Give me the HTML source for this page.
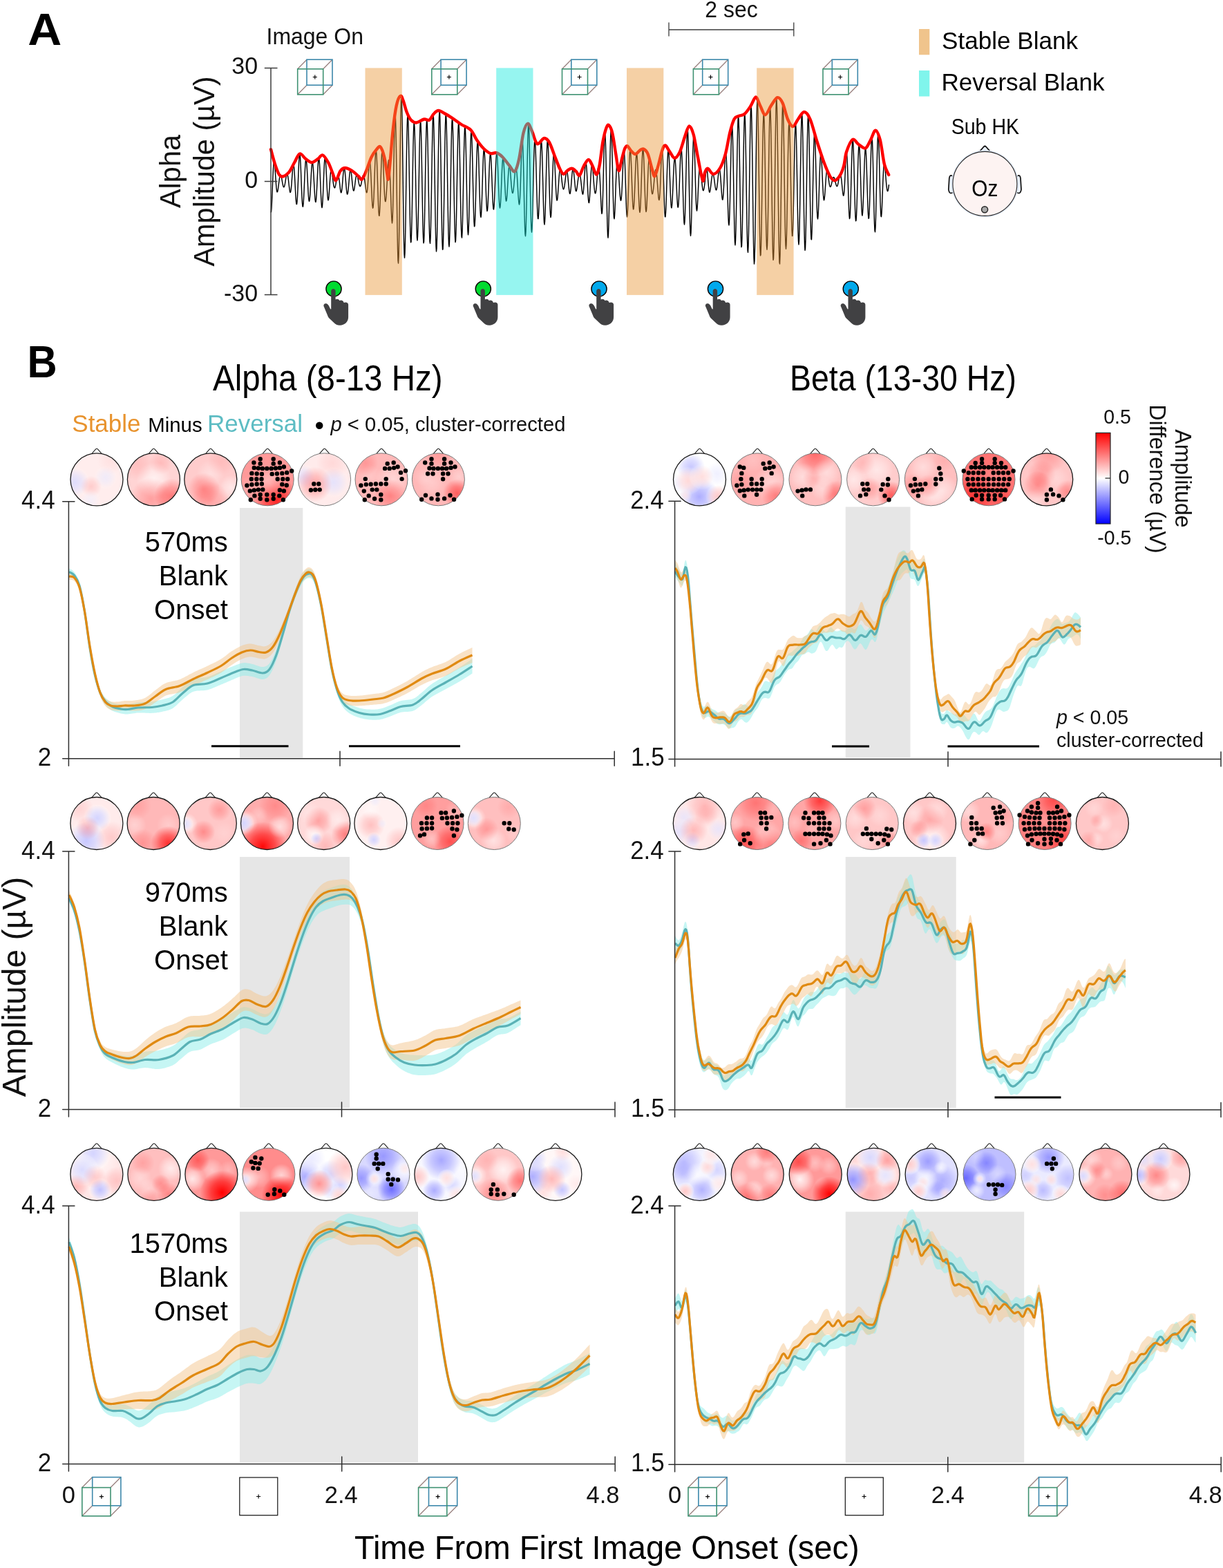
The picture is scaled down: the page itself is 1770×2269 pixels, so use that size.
<!DOCTYPE html>
<html lang="en"><head><meta charset="utf-8"><title>Figure: alpha and beta amplitude, stable vs reversal</title>
<style>html,body{margin:0;padding:0;background:#fff}body{width:1770px;height:2269px}svg{display:block}</style></head>
<body>
<svg width="1770" height="2269" viewBox="0 0 1770 2269" font-family='"Liberation Sans", sans-serif'>
<defs>
<radialGradient id="gR"><stop offset="0" stop-color="#f00" stop-opacity="1"/><stop offset="0.5" stop-color="#f00" stop-opacity="0.6"/><stop offset="1" stop-color="#f00" stop-opacity="0"/></radialGradient>
<radialGradient id="gW"><stop offset="0" stop-color="#fff" stop-opacity="1"/><stop offset="0.5" stop-color="#fff" stop-opacity="0.6"/><stop offset="1" stop-color="#fff" stop-opacity="0"/></radialGradient>
<radialGradient id="gB"><stop offset="0" stop-color="#00f" stop-opacity="1"/><stop offset="0.5" stop-color="#00f" stop-opacity="0.6"/><stop offset="1" stop-color="#00f" stop-opacity="0"/></radialGradient>
<linearGradient id="cb" x1="0" y1="0" x2="0" y2="1"><stop offset="0" stop-color="#ff0000"/><stop offset="0.5" stop-color="#ffffff"/><stop offset="1" stop-color="#0000ff"/></linearGradient>
<clipPath id="hc"><circle cx="0" cy="0" r="38"/></clipPath>
<g id="cubeA" fill="none" stroke-width="1.6">
<path d="M0 0L13.3 -13.6M37 0L50.3 -13.6M0 37L13.3 23.4M37 37L50.3 23.4" stroke="#9c8583" stroke-width="1.4"/>
<rect x="13.3" y="-13.6" width="37" height="37" stroke="#3d88ab"/>
<rect x="0" y="0" width="37" height="37" stroke="#3f9272"/>
<path d="M22.1 11.7h6M25.1 8.7v6" stroke="#000" stroke-width="1.2"/>
</g>
<g id="cubeB" fill="none" stroke-width="1.6">
<path d="M0 0L14.9 -15M41.2 0L56.1 -15M0 41.2L14.9 26.2M41.2 41.2L56.1 26.2" stroke="#9c8583" stroke-width="1.4"/>
<rect x="14.9" y="-15" width="41.2" height="41.2" stroke="#3d88ab"/>
<rect x="0" y="0" width="41.2" height="41.2" stroke="#3f9272"/>
<path d="M25.1 13.1h6M28.1 10.1v6" stroke="#000" stroke-width="1.2"/>
</g>
<path id="hand" d="M-3.8 29.2L-3.8 3.3C-3.8 1.5 -2.3 0.1 -0.6 0.1C1.2 0.1 2.6 1.5 2.6 3.3L2.6 15.6C3.8 14.2 7.3 14.2 8.4 17.1C10 15.8 13.7 16.2 14.7 20.1C16.8 18.7 21.1 19.5 21.1 22.8L21.1 41.1C21.1 48.1 15.5 52.8 9 52.8C4.9 52.8 2.4 51 0.3 48.9L-6.6 42.5C-7.9 41.3 -8.4 39.9 -9 38.2L-14.2 25.7C-15.7 22.4 -12.4 20.1 -9.9 21.6C-7.7 22.8 -6.4 25.5 -5.6 27.7L-4.5 29.5Z" fill="#414143"/>
</defs>
<rect width="1770" height="2269" fill="#fff"/>
<g id="panelA">
<text font-size="65.2" transform="translate(40.2 64.8)" font-weight="bold" fill="#000" textLength="49" lengthAdjust="spacingAndGlyphs">A</text>
<text font-size="32" transform="translate(385.5 63.8) scale(1 1.02)" fill="#111">Image On</text>
<path d="M392 307.4L392.5 306.7L393 300.9L393.5 291.2L394 279.1L394.5 266.3L395 254.2L395.5 244.3L396 237.4L396.5 234.1L397 234.4L397.5 237.9L398 243.7L398.5 251L399 258.8L399.5 266L400 271.9L400.5 275.9L401 277.8L401.5 277.7L402 276L402.5 273.1L403 269.3L403.5 265.3L404 261.4L404.5 257.9L405 255.2L405.5 253.4L406 252.8L406.5 253.2L407 254.7L407.5 257L408 259.8L408.5 262.8L409 265.6L409.5 268.1L410 269.8L410.5 270.7L411 270.7L411.5 269.8L412 268.1L412.5 265.7L413 262.8L413.5 259.7L414 256.7L414.5 254.2L415 252.5L415.5 251.8L416 252.4L416.5 254.3L417 257.3L417.5 261.2L418 265.6L418.5 270.1L419 274L419.5 277L420 278.4L420.5 278.1L421 275.8L421.5 271.6L422 265.8L422.5 259L423 252.1L423.5 245.7L424 240.8L424.5 238.3L425 238.5L425.5 241.6L426 247.7L426.5 255.9L427 265.5L427.5 275.4L428 284.4L428.5 291.4L429 295.4L429.5 295.6L430 291.9L430.5 284.3L431 273.7L431.5 261.2L432 248.3L432.5 236.8L433 228L433.5 223.2L434 223L434.5 227.6L435 236.3L435.5 247.9L436 261.2L436.5 274.3L437 285.8L437.5 294.2L438 298.8L438.5 299.1L439 295.2L439.5 287.7L440 277.6L440.5 266L441 254.5L441.5 244.1L442 236.2L442.5 231.4L443 230.4L443.5 233L444 238.9L444.5 247.3L445 257.3L445.5 267.6L446 277.1L446.5 284.8L447 289.7L447.5 291.4L448 289.8L448.5 285.1L449 277.9L449.5 269.1L450 259.7L450.5 250.6L451 242.9L451.5 237.5L452 234.9L452.5 235.4L453 239.1L453.5 245.5L454 253.9L454.5 263.5L455 273.1L455.5 281.7L456 288.3L456.5 292L457 292.4L457.5 289.2L458 282.9L458.5 274L459 263.6L459.5 252.8L460 242.8L460.5 234.9L461 230L461.5 228.7L462 231.4L462.5 237.7L463 247.2L463.5 258.8L464 271.2L464.5 282.9L465 292.5L465.5 298.6L466 300.5L466.5 297.9L467 291.1L467.5 281L468 268.9L468.5 256.2L469 244.6L469.5 235.3L470 229.5L470.5 227.7L471 230L471.5 235.9L472 244.6L472.5 255L473 265.7L473.5 275.4L474 283.2L474.5 288.1L475 289.9L475.5 288.3L476 283.9L476.5 277.3L477 269.6L477.5 261.7L478 254.9L478.5 249.6L479 246.6L479.5 245.8L480 247.1L480.5 249.9L481 253.7L481.5 257.9L482 262.1L482.5 265.8L483 268.8L483.5 270.8L484 271.8L484.5 271.9L485 270.9L485.5 268.9L486 266.4L486.5 263.4L487 260.4L487.5 257.8L488 255.6L488.5 254.1L489 253.4L489.5 253.5L490 254.8L490.5 257.1L491 260.5L491.5 264.7L492 269.5L492.5 273.8L493 277.1L493.5 278.8L494 278.6L494.5 276.3L495 272.3L495.5 266.8L496 260.6L496.5 254.4L497 249L497.5 245.1L498 243.3L498.5 243.6L499 246.2L499.5 250.7L500 256.6L500.5 263.2L501 269.6L501.5 275.1L502 279.1L502.5 281.1L503 280.9L503.5 278.6L504 274.5L504.5 269.1L505 263.1L505.5 257.2L506 252L506.5 248.2L507 246.2L507.5 246.1L508 247.9L508.5 251.2L509 255.8L509.5 260.9L510 266.1L510.5 270.5L511 273.9L511.5 275.8L512 276.1L512.5 274.8L513 272.1L513.5 268.5L514 264.5L514.5 260.6L515 257.1L515.5 254.6L516 253.1L516.5 252.9L517 253.8L517.5 255.6L518 258L518.5 260.6L519 263.3L519.5 265.7L520 267.6L520.5 269L521 269.6L521.5 269.5L522 268.7L522.5 267.1L523 264.8L523.5 262.2L524 259.5L524.5 257L525 255.1L525.5 253.9L526 253.6L526.5 254.3L527 256L527.5 258.7L528 262.1L528.5 266.1L529 270.3L529.5 274.2L530 277.2L530.5 278.8L531 278.5L531.5 275.9L532 271.2L532.5 264.7L533 257L533.5 249L534 241.8L534.5 236.4L535 233.7L535.5 234.4L536 238.8L536.5 246.5L537 256.7L537.5 268.4L538 280.1L538.5 290.4L539 297.7L539.5 301.2L540 300.2L540.5 294.6L541 285L541.5 272.4L542 258.2L542.5 244L543 231.5L543.5 222.3L544 217.7L544.5 218.1L545 223.8L545.5 234.2L546 248.1L546.5 264.1L547 280.4L547.5 295L548 306L548.5 312L549 312.3L549.5 306.6L550 295.6L550.5 280.8L551 264.2L551.5 247.8L552 233.7L552.5 223.5L553 218.4L553.5 218.6L554 224L554.5 233.4L555 245.5L555.5 258.6L556 271L556.5 281.1L557 287.8L557.5 291.4L558 291.7L558.5 288.9L559 283.4L559.5 276L560 267.2L560.5 257.7L561 248.3L561.5 240.2L562 234.4L562.5 231.6L563 232.4L563.5 236.6L564 243.8L564.5 253.9L565 266.5L565.5 280.8L566 295.4L566.5 308.6L567 318.6L567.5 322.9L568 319.1L568.5 306.4L569 285.9L569.5 259.7L570 231.1L570.5 203.6L571 181.1L571.5 167L572 163.7L572.5 172.4L573 192.7L573.5 222.6L574 258.7L574.5 296.7L575 331.9L575.5 359.9L576 377L576.5 381L577 371.1L577.5 348.2L578 314.9L578.5 275.1L579 233.3L579.5 194.6L580 163.8L580.5 144.6L581 139.4L581.5 148.8L582 171.3L582.5 203.8L583 242.4L583.5 282.4L584 319.1L584.5 348.5L585 367.1L585.5 373.1L586 366.2L586.5 347.9L587 320.4L587.5 287.1L588 252L588.5 219.1L589 192L589.5 173.6L590 165.7L590.5 169L591 182.9L591.5 205.6L592 234.3L592.5 265.7L593 296.1L593.5 322.2L594 341.1L594.5 350.7L595 350.1L595.5 339.5L596 320.2L596.5 294.6L597 265.5L597.5 236.3L598 210.4L598.5 190.6L599 179.2L599.5 177.4L600 185.4L600.5 202.2L601 225.9L601.5 253.8L602 282.6L602.5 309.2L603 330.4L603.5 343.8L604 347.9L604.5 342.1L605 327.2L605.5 304.7L606 277.2L606.5 247.8L607 220L607.5 196.9L608 181.3L608.5 175L609 178.8L609.5 192.3L610 214L610.5 241.5L611 271.6L611.5 300.8L612 325.7L612.5 343.4L613 351.8L613.5 349.9L614 337.8L614.5 316.9L615 289.7L615.5 259.4L616 229.5L616.5 203.5L617 184.5L617.5 174.5L618 174.7L618.5 185L619 204.1L619.5 229.9L620 259.5L620.5 289.4L621 316.3L621.5 337.2L622 349.7L622.5 352.2L623 344.5L623.5 327.2L624 302.1L624.5 272L625 240.3L625.5 210.6L626 186.4L626.5 170.8L627 165.6L627.5 171.8L628 188.6L628.5 214.2L629 245.7L629.5 279.4L630 311.6L630.5 338.4L631 356.5L631.5 363.9L632 359.5L632.5 343.8L633 318.6L633.5 286.7L634 252L634.5 218.5L635 190L635.5 170L636 160.8L636.5 163.3L637 177.3L637.5 201L638 231.8L638.5 266L639 299.6L639.5 328.7L640 350.1L640.5 361.2L641 360.9L641.5 349.3L642 327.7L642.5 298.8L643 265.9L643.5 232.7L644 203.2L644.5 180.7L645 167.8L645.5 165.8L646 175L646.5 194.2L647 221.1L647.5 252.7L648 285.2L648.5 314.9L649 338.3L649.5 352.9L650 357L650.5 350.1L651 333.3L651.5 308.4L652 278.3L652.5 246.7L653 217.1L653.5 193L654 177L654.5 171L655 175.5L655.5 190.1L656 212.8L656.5 241.1L657 271.7L657.5 300.9L658 325.5L658.5 342.7L659 350.5L659.5 348.1L660 335.8L660.5 315.3L661 288.8L661.5 259.5L662 230.8L662.5 206L663 187.9L663.5 178.5L664 178.9L664.5 188.8L665 207.2L665.5 231.7L666 259.6L666.5 287.7L667 312.6L667.5 331.5L668 342.4L668.5 344L669 336.2L669.5 320L670 297.3L670.5 270.8L671 243.4L671.5 218.4L672 198.7L672.5 186.4L673 182.9L673.5 188.6L674 202.8L674.5 223.8L675 249.1L675.5 275.8L676 300.8L676.5 321.2L677 334.7L677.5 339.8L678 335.9L678.5 323.6L679 304.4L679.5 280.5L680 254.8L680.5 230.2L681 209.7L681.5 195.5L682 189.2L682.5 191.5L683 202L683.5 219.2L684 241.1L684.5 264.9L685 287.9L685.5 307.3L686 321.1L686.5 327.8L687 326.9L687.5 318.6L688 304.2L688.5 285.5L689 264.6L689.5 244.1L690 226.2L690.5 212.9L691 205.6L691.5 204.9L692 210.8L692.5 222.5L693 238.5L693.5 256.9L694 275.4L694.5 292L695 304.9L695.5 312.6L696 314.4L696.5 310.3L697 300.8L697.5 287.1L698 270.9L698.5 254.2L699 238.7L699.5 226.3L700 218.3L700.5 215.5L701 218.1L701.5 225.7L702 237.4L702.5 251.8L703 267.1L703.5 281.6L704 293.6L704.5 301.9L705 305.6L705.5 304.2L706 298.1L706.5 288L707 275.2L707.5 261.1L708 247.3L708.5 235.4L709 226.8L709.5 222.3L710 222.5L710.5 227.2L711 235.9L711.5 247.7L712 261.1L712.5 274.7L713 287L713.5 296.5L714 302.1L714.5 303.1L715 299.5L715.5 291.6L716 280.2L716.5 266.7L717 252.7L717.5 239.8L718 229.5L718.5 223.1L719 221.4L719.5 224.4L720 231.8L720.5 242.6L721 255.7L721.5 269.3L722 281.9L722.5 292.2L723 298.8L723.5 301.1L724 298.9L724.5 292.6L725 283L725.5 271.2L726 258.8L726.5 247L727 237.4L727.5 230.9L728 228.2L728.5 229.5L729 234.6L729.5 242.7L730 252.8L730.5 263.6L731 273.8L731.5 282.4L732 288.3L732.5 291L733 290.4L733.5 286.6L734 280.2L734.5 272.2L735 263.4L735.5 254.9L736 247.8L736.5 242.6L737 240.1L737.5 240.1L738 242.7L738.5 247.5L739 253.7L739.5 260.5L740 267L740.5 272.5L741 276.7L741.5 279.1L742 279.6L742.5 278.3L743 275.3L743.5 270.9L744 265.5L744.5 259.5L745 253.6L745.5 248.5L746 244.8L746.5 243L747 243.3L747.5 245.8L748 250.5L748.5 257L749 265L749.5 273.6L750 282L750.5 289.3L751 294.3L751.5 296L752 293.5L752.5 286.6L753 275.5L753.5 260.9L754 244.5L754.5 228.1L755 213.9L755.5 204.3L756 201.2L756.5 205.7L757 218L757.5 236.8L758 260L758.5 284.8L759 308.1L759.5 326.9L760 338.7L760.5 341.7L761 335.4L761.5 320.2L762 297.9L762.5 271L763 242.8L763.5 216.6L764 195.8L764.5 182.8L765 179.4L765.5 185.7L766 200.9L766.5 222.9L767 249L767.5 275.8L768 300.4L768.5 319.8L769 332.1L769.5 336.1L770 331.6L770.5 319.3L771 300.9L771.5 278.7L772 255.6L772.5 234.4L773 217.3L773.5 206L774 201.6L774.5 204.3L775 213.4L775.5 227.6L776 245.3L776.5 264.4L777 282.9L777.5 298.7L778 310.4L778.5 316.5L779 316.6L779.5 310.5L780 298.9L780.5 282.9L781 264.4L781.5 245.3L782 227.9L782.5 214.2L783 205.8L783.5 203.8L784 208.7L784.5 219.9L785 236.4L785.5 256.2L786 277.1L786.5 296.6L787 312.2L787.5 322.1L788 325L788.5 320.7L789 309.6L789.5 293L790 273.1L790.5 252L791 232.4L791.5 216.4L792 206.1L792.5 202.5L793 205.8L793.5 215.6L794 230.6L794.5 248.9L795 268.3L795.5 286.4L796 301.1L796.5 310.8L797 314.6L797.5 312.2L798 304.2L798.5 291.8L799 276.7L799.5 260.9L800 246.2L800.5 234.3L801 226.3L801.5 222.9L802 224.2L802.5 229.8L803 238.7L803.5 249.7L804 261.4L804.5 272.3L805 281.3L805.5 287.4L806 290.1L806.5 289.5L807 285.9L807.5 279.9L808 272.6L808.5 264.8L809 257.5L809.5 251.6L810 247.5L810.5 245.5L811 245.7L811.5 247.8L812 251.2L812.5 255.6L813 260.2L813.5 264.7L814 268.5L814.5 271.4L815 273.2L815.5 273.9L816 273.3L816.5 271.6L817 268.9L817.5 265.3L818 261.2L818.5 257L819 253.1L819.5 249.9L820 248L820.5 247.8L821 249.5L821.5 252.9L822 257.6L822.5 263.1L823 268.7L823.5 273.8L824 277.8L824.5 280.1L825 280.4L825.5 278.5L826 274.7L826.5 269.4L827 263.1L827.5 256.8L828 251.2L828.5 247L829 244.7L829.5 244.6L830 246.5L830.5 250.2L831 255.2L831.5 260.8L832 266.3L832.5 271.1L833 274.6L833.5 276.5L834 276.7L834.5 275.1L835 272.1L835.5 268.4L836 264.5L836.5 260.6L837 257.2L837.5 254.5L838 252.7L838.5 251.9L839 252.1L839.5 253.5L840 256L840.5 259.5L841 263.9L841.5 268.7L842 273.4L842.5 277.5L843 280.4L843.5 281.2L844 279.6L844.5 275.5L845 269.3L845.5 261.7L846 253.6L846.5 245.9L847 239.8L847.5 235.9L848 235.1L848.5 237.6L849 243.3L849.5 251.5L850 261.5L850.5 271.9L851 281.4L851.5 288.8L852 293.1L852.5 293.6L853 290.4L853.5 283.9L854 275.2L854.5 265.4L855 255.9L855.5 247.8L856 242.1L856.5 239.1L857 239L857.5 241.6L858 246.3L858.5 252.6L859 259.2L859.5 265.6L860 271.3L860.5 275.7L861 278.7L861.5 279.9L862 279.3L862.5 277L863 272.7L863.5 267L864 260.5L864.5 253.9L865 248L865.5 243.6L866 241L866.5 240.5L867 242.5L867.5 247L868 254.1L868.5 263.5L869 274.6L869.5 286.4L870 297.2L870.5 305.5L871 309.3L871.5 307.1L872 298.3L872.5 283.6L873 264.6L873.5 243.6L874 223.3L874.5 206.4L875 195.3L875.5 191.8L876 196.7L876.5 209.8L877 229.8L877.5 254.6L878 281.2L878.5 306.3L879 326.9L879.5 340.1L880 344.1L880.5 338.5L881 323.9L881.5 302.2L882 276.2L882.5 248.9L883 223.8L883.5 203.7L884 190.9L884.5 186.8L885 191.6L885.5 204.5L886 223.6L886.5 246.2L887 269.3L887.5 289.9L888 305.5L888.5 314.6L889 316.7L889.5 312.3L890 302.6L890.5 289.5L891 275.1L891.5 261.2L892 249.4L892.5 240.6L893 235.2L893.5 233.3L894 234.7L894.5 238.8L895 245.1L895.5 252.9L896 261.6L896.5 270.3L897 278.1L897.5 284.5L898 288.7L898.5 290.3L899 288.8L899.5 284.1L900 276.5L900.5 266L901 253.9L901.5 241.5L902 230.5L902.5 222.4L903 218.7L903.5 220.2L904 227.2L904.5 238.9L905 254.2L905.5 271L906 287.4L906.5 301.1L907 310.3L907.5 313.9L908 311.3L908.5 303.1L909 290.2L909.5 274.3L910 257.5L910.5 241.7L911 228.8L911.5 220.2L912 216.6L912.5 218.3L913 225L913.5 235.8L914 249.3L914.5 264L915 278.1L915.5 290.1L916 298.7L916.5 302.9L917 302.6L917.5 297.7L918 288.8L918.5 277.1L919 263.9L919.5 250.4L920 238.4L920.5 228.9L921 223.3L921.5 222L922 225.4L922.5 233.1L923 244.5L923.5 258.2L924 272.7L924.5 286.3L925 297.5L925.5 304.8L926 307.3L926.5 304.5L927 296.8L927.5 285L928 270.4L928.5 254.6L929 239.5L929.5 227L930 218.6L930.5 215.3L931 217.6L931.5 225.1L932 236.9L932.5 251.5L933 267.2L933.5 282.1L934 294.5L934.5 303L935 306.5L935.5 304.9L936 298.4L936.5 287.9L937 274.9L937.5 261.1L938 248.3L938.5 238L939 231.5L939.5 229.2L940 231L940.5 236.3L941 244.1L941.5 252.9L942 261.7L942.5 269.3L943 275.2L943.5 279L944 280.7L944.5 280.4L945 278.2L945.5 274.5L946 269.8L946.5 264.2L947 258.5L947.5 253.2L948 248.9L948.5 246.2L949 245.4L949.5 246.3L950 249.1L950.5 253.5L951 259.2L951.5 265.9L952 273L952.5 279.7L953 285.3L953.5 288.9L954 289.5L954.5 286.6L955 280.2L955.5 270.6L956 258.8L956.5 246.1L957 234L957.5 224.5L958 218.8L958.5 218.3L959 223.3L959.5 233.3L960 247.5L960.5 264.2L961 281.3L961.5 296.5L962 307.8L962.5 313.8L963 313.7L963.5 307.6L964 296.2L964.5 281.1L965 264.2L965.5 247.6L966 233.3L966.5 222.9L967 217.2L967.5 217L968 221.9L968.5 231.3L969 243.9L969.5 258.1L970 272.4L970.5 285L971 294.4L971.5 299.9L972 300.9L972.5 297.5L973 290.3L973.5 280.3L974 268.6L974.5 256.5L975 245.5L975.5 236.5L976 230.7L976.5 228.4L977 229.9L977.5 235.2L978 243.6L978.5 254.2L979 266.1L979.5 277.9L980 288.2L980.5 295.9L981 300L981.5 299.9L982 295.4L982.5 286.8L983 275L983.5 261.1L984 246.6L984.5 233.2L985 222.6L985.5 216L986 214.6L986.5 218.9L987 228.6L987.5 243L988 260.6L988.5 279.6L989 297.6L989.5 312.4L990 322.1L990.5 325L991 320.6L991.5 309L992 291.4L992.5 269.5L993 245.9L993.5 223.1L994 204.1L994.5 191.2L995 186.4L995.5 190.5L996 203.4L996.5 223.7L997 249L997.5 276.1L998 301.7L998.5 322.6L999 336.3L999.5 341.2L1000 336.8L1000.5 323.8L1001 304.1L1001.5 280.2L1002 255L1002.5 231.7L1003 212.9L1003.5 200.7L1004 196.3L1004.5 199.8L1005 210.5L1005.5 226.4L1006 245.2L1006.5 264.4L1007 281.4L1007.5 294.5L1008 302.6L1008.5 305.1L1009 302.4L1009.5 295.4L1010 285.5L1010.5 274.4L1011 263.5L1011.5 254.2L1012 247.3L1012.5 243.2L1013 241.8L1013.5 242.8L1014 245.8L1014.5 250.2L1015 255.4L1015.5 260.9L1016 266.1L1016.5 270.6L1017 273.8L1017.5 275.5L1018 275.8L1018.5 274.7L1019 272.4L1019.5 269L1020 264.8L1020.5 260.1L1021 255.1L1021.5 250.3L1022 246.5L1022.5 244.6L1023 244.9L1023.5 247.6L1024 252.2L1024.5 258.1L1025 264.4L1025.5 270.2L1026 274.7L1026.5 277.5L1027 278.3L1027.5 277.2L1028 274.6L1028.5 270.9L1029 266.5L1029.5 262.1L1030 258L1030.5 254.8L1031 252.6L1031.5 251.6L1032 251.7L1032.5 253.1L1033 255.4L1033.5 258.5L1034 262.1L1034.5 265.9L1035 269.5L1035.5 272.4L1036 274.4L1036.5 275.1L1037 274.3L1037.5 272.1L1038 268.5L1038.5 264L1039 258.9L1039.5 253.9L1040 249.4L1040.5 246.2L1041 244.7L1041.5 245.3L1042 247.9L1042.5 252.6L1043 258.9L1043.5 266.2L1044 273.8L1044.5 280.6L1045 285.9L1045.5 288.9L1046 288.9L1046.5 285.6L1047 279.2L1047.5 270L1048 259.1L1048.5 247.5L1049 236.5L1049.5 227.7L1050 222.3L1050.5 221.3L1051 225.3L1051.5 234.2L1052 247.6L1052.5 264.3L1053 282.3L1053.5 299.7L1054 314.1L1054.5 323.5L1055 325.9L1055.5 320.7L1056 307.8L1056.5 288.5L1057 265L1057.5 239.8L1058 216.1L1058.5 196.8L1059 184.5L1059.5 180.9L1060 187L1060.5 202.3L1061 225.4L1061.5 253.5L1062 283.6L1062.5 311.9L1063 334.9L1063.5 349.8L1064 354.7L1064.5 348.7L1065 332.6L1065.5 308.2L1066 278.4L1066.5 246.6L1067 216.5L1067.5 191.6L1068 174.8L1068.5 168.2L1069 172.3L1069.5 187L1070 210.4L1070.5 240L1071 272.2L1071.5 303.4L1072 330L1072.5 348.7L1073 357.6L1073.5 355.5L1074 342.7L1074.5 320.5L1075 291.6L1075.5 259.2L1076 227L1076.5 198.8L1077 177.7L1077.5 166.3L1078 165.9L1078.5 176.6L1079 197.4L1079.5 226L1080 259.1L1080.5 293L1081 323.7L1081.5 347.7L1082 362.2L1082.5 365.2L1083 356.4L1083.5 336.5L1084 307.8L1084.5 273.4L1085 237.2L1085.5 203.4L1086 176L1086.5 158.3L1087 152.3L1087.5 159.1L1088 177.9L1088.5 207L1089 243.1L1089.5 282.1L1090 319.6L1090.5 351.1L1091 372.8L1091.5 382L1092 377.3L1092.5 359L1093 329.2L1093.5 291.4L1094 250L1094.5 210.2L1095 176.7L1095.5 153.6L1096 143.4L1096.5 147.3L1097 164.4L1097.5 192.4L1098 227.8L1098.5 266.4L1099 303.7L1099.5 335.6L1100 358.4L1100.5 369.9L1101 368.8L1101.5 355.5L1102 331.8L1102.5 300.7L1103 266L1103.5 231.7L1104 201.5L1104.5 179L1105 166.3L1105.5 164.7L1106 174.3L1106.5 193.7L1107 220.8L1107.5 252.6L1108 285.5L1108.5 315.8L1109 340.2L1109.5 356L1110 361.2L1110.5 355L1111 338.1L1111.5 312.1L1112 279.8L1112.5 245L1113 211.5L1113.5 183.3L1114 163.9L1114.5 155.6L1115 159.6L1115.5 175.8L1116 202.4L1116.5 236.4L1117 273.9L1117.5 310.6L1118 342.2L1118.5 365L1119 376.2L1119.5 374.3L1120 359.4L1120.5 333L1121 298L1121.5 258.5L1122 218.9L1122.5 184.1L1123 158L1123.5 143.9L1124 143.5L1124.5 157L1125 182.8L1125.5 218L1126 258.4L1126.5 299.2L1127 335.6L1127.5 363.5L1128 379.5L1128.5 381.9L1129 370.4L1129.5 346.6L1130 313.3L1130.5 274.5L1131 234.9L1131.5 199L1132 171.1L1132.5 154.1L1133 150L1133.5 159L1134 179.7L1134.5 209.5L1135 244.4L1135.5 280.3L1136 313L1136.5 338.8L1137 355L1137.5 360.2L1138 354.1L1138.5 337.8L1139 313.5L1139.5 284.2L1140 253.3L1140.5 224.2L1141 200.3L1141.5 184L1142 177.1L1142.5 180L1143 192.2L1143.5 212.2L1144 237.5L1144.5 265.3L1145 292.3L1145.5 315.6L1146 332.6L1146.5 341.5L1147 341.3L1147.5 332.2L1148 315.1L1148.5 292L1149 265.3L1149.5 237.9L1150 213.1L1150.5 193.5L1151 181.6L1151.5 178.8L1152 185.7L1152.5 201.8L1153 225.2L1153.5 253.5L1154 283.5L1154.5 311.5L1155 334.2L1155.5 349L1156 353.9L1156.5 348.3L1157 332.6L1157.5 308.5L1158 278.6L1158.5 246.3L1159 215.4L1159.5 189.5L1160 171.7L1160.5 164.4L1161 168.3L1161.5 183.4L1162 207.8L1162.5 238.8L1163 272.8L1163.5 305.6L1164 333.6L1164.5 353.2L1165 362.3L1165.5 359.7L1166 346L1166.5 322.6L1167 292.5L1167.5 259.1L1168 226.6L1168.5 198.5L1169 178.2L1169.5 168L1170 168.8L1170.5 180.4L1171 201.2L1171.5 228.7L1172 259.4L1172.5 289.7L1173 316.2L1173.5 335.7L1174 346.1L1174.5 346.7L1175 337.5L1175.5 320.1L1176 296.8L1176.5 270.5L1177 244.4L1177.5 221.5L1178 204.4L1178.5 194.7L1179 193.1L1179.5 199.6L1180 212.8L1180.5 231L1181 251.9L1181.5 272.8L1182 291.5L1182.5 305.9L1183 314.6L1183.5 316.9L1184 312.8L1184.5 303.3L1185 289.8L1185.5 273.9L1186 257.7L1186.5 243.2L1187 231.7L1187.5 224.6L1188 222.2L1188.5 224.6L1189 231.2L1189.5 240.7L1190 252L1190.5 263.6L1191 274.1L1191.5 282.4L1192 287.7L1192.5 289.7L1193 288.4L1193.5 284.2L1194 278L1194.5 270.7L1195 263.2L1195.5 256.5L1196 251.2L1196.5 247.9L1197 246.6L1197.5 247.4L1198 249.8L1198.5 253.3L1199 257.3L1199.5 261.4L1200 264.9L1200.5 267.7L1201 269.5L1201.5 270.4L1202 270.3L1202.5 269.4L1203 267.9L1203.5 265.9L1204 263.6L1204.5 261.4L1205 259.4L1205.5 257.8L1206 256.8L1206.5 256.4L1207 256.7L1207.5 257.7L1208 259.1L1208.5 261L1209 263.1L1209.5 265.3L1210 267.2L1210.5 268.6L1211 269.5L1211.5 269.6L1212 268.8L1212.5 267.2L1213 265L1213.5 262.2L1214 259.2L1214.5 256.4L1215 254.1L1215.5 252.5L1216 252L1216.5 252.7L1217 254.6L1217.5 257.8L1218 262L1218.5 267L1219 272.2L1219.5 277L1220 280.9L1220.5 283L1221 283L1221.5 280.1L1222 274.2L1222.5 265.5L1223 254.8L1223.5 242.8L1224 231.7L1224.5 223.7L1225 220L1225.5 221.6L1226 228.3L1226.5 239.6L1227 254.3L1227.5 270.9L1228 287.3L1228.5 301.6L1229 311.8L1229.5 316.6L1230 315.1L1230.5 307.2L1231 293.8L1231.5 276.2L1232 256.5L1232.5 237L1233 220.2L1233.5 208L1234 202.2L1234.5 203.4L1235 211.7L1235.5 225.8L1236 244.2L1236.5 264.6L1237 284.4L1237.5 301.4L1238 313.6L1238.5 319.7L1239 319.1L1239.5 312.1L1240 299.5L1240.5 283L1241 264.4L1241.5 245.9L1242 229.7L1242.5 217.5L1243 210.6L1243.5 209.8L1244 215L1244.5 225.6L1245 240.3L1245.5 257.2L1246 274.6L1246.5 290.2L1247 302.5L1247.5 310L1248 312L1248.5 308.2L1249 299.3L1249.5 286.3L1250 270.7L1250.5 254.3L1251 238.9L1251.5 226.2L1252 217.7L1252.5 214.2L1253 216.2L1253.5 223.5L1254 235.4L1254.5 250.7L1255 267.7L1255.5 284.6L1256 299.4L1256.5 310.4L1257 316.2L1257.5 315.9L1258 309.3L1258.5 297L1259 280.1L1259.5 260.5L1260 240.5L1260.5 222.3L1261 208.2L1261.5 200L1262 198.8L1262.5 205.1L1263 218.4L1263.5 237.4L1264 260.1L1264.5 283.9L1265 305.8L1265.5 323.2L1266 333.6L1266.5 335.7L1267 329.1L1267.5 314.6L1268 294L1268.5 270L1269 245.4L1269.5 223.2L1270 206.1L1270.5 196L1271 193.9L1271.5 199.9L1272 212.8L1272.5 231L1273 251.8L1273.5 272.9L1274 291.4L1274.5 305.2L1275 312.8L1275.5 313.7L1276 308.4L1276.5 298.3L1277 285.4L1277.5 271.7L1278 258.9L1278.5 248.4L1279 241.2L1279.5 237.5L1280 237.2L1280.5 239.7L1281 244.4L1281.5 250.3L1282 256.8L1282.5 263.1L1283 268.6L1283.5 272.9L1284 275.6L1284.5 276.7L1285 276.2L1285.5 274.2L1286 271.1L1286.5 267.2" fill="none" stroke="#000" stroke-width="1.45" stroke-linejoin="round"/>
<path d="M392 216.2C393.1 220.2 396.4 233.5 398.8 240C401.1 246.5 403.1 253.3 406.2 255C409.4 256.7 414.2 253.3 417.5 250C420.8 246.7 423.5 239.6 426.2 235C429 230.4 431 223.3 433.8 222.5C436.5 221.7 439.6 227.9 442.5 230C445.4 232.1 448.3 235 451.2 235C454.2 235 457.4 231.8 460 230C462.6 228.2 464.5 223.7 467 224.5C469.5 225.3 472.6 230.8 475 235C477.4 239.2 479.4 245.6 481.2 250C483.1 254.4 484.4 261.7 486.2 261.2C488.1 260.8 490.3 250.5 492.5 247.5C494.7 244.5 496.6 243 499.5 243C502.4 243 506.8 245.5 510 247.5C513.2 249.5 516.5 253 518.8 255C521 257 521.9 260.8 523.8 259.5C525.6 258.2 527.7 252.8 530 247.5C532.3 242.2 535 232.7 537.5 227.5C540 222.3 542.8 218.8 545 216.2C547.2 213.8 548.6 210.6 550.5 212.5C552.4 214.4 554.7 221.2 556.2 227.5C557.8 233.8 559 244.8 560 250C561 255.2 561.2 262.1 562 258.8C562.8 255.4 563.9 241.9 565 230C566.1 218.1 567.3 200.4 568.8 187.5C570.2 174.6 572 160.6 573.8 152.5C575.5 144.4 577.8 139.8 579.5 138.8C581.2 137.7 582.2 142.3 583.8 146.2C585.3 150.2 586.9 157.9 588.8 162.5C590.6 167.1 592.7 171.2 595 173.8C597.3 176.2 599.4 177.7 602.5 177.5C605.6 177.3 610.6 173.1 613.8 172.5C616.9 171.9 619 175 621.2 173.8C623.5 172.5 625.3 167.3 627.5 165C629.7 162.7 631.6 160 634.5 160C637.4 160 641.6 163.1 645 165C648.4 166.9 651.2 168.8 655 171.2C658.8 173.8 663.1 177.2 667.5 180C671.9 182.8 677.5 184.2 681.2 188C685 191.8 686.9 198 690 202.5C693.1 207 696.7 211.8 700 215C703.3 218.2 706.9 221 710 222C713.1 223 715.8 220.3 718.8 221.2C721.7 222.2 724.4 224.4 727.5 227.5C730.6 230.6 734.6 236.6 737.5 240C740.4 243.4 742.7 249.7 745 248C747.3 246.3 749.2 239.2 751.2 230C753.3 220.8 755.4 201 757.5 192.5C759.6 184 761.7 179.2 763.8 178.8C765.8 178.3 767.7 185.1 770 190C772.3 194.9 774.6 206.3 777.5 208C780.4 209.7 784.6 200.3 787.5 200C790.4 199.7 792.5 201.8 795 206C797.5 210.2 800 218.7 802.5 225C805 231.3 807.8 239.2 810 243.8C812.2 248.2 813.7 251.5 815.5 252C817.3 252.5 819 248.4 821 247C823 245.6 825.4 243.6 827.5 243.8C829.6 243.9 831.9 246.3 833.8 248C835.6 249.7 836.9 255.1 838.8 253.8C840.6 252.4 842.8 243.8 845 240C847.2 236.2 849.7 231 851.8 231C853.8 231 855.6 236.4 857.5 240C859.4 243.6 861.3 252.5 863 252.5C864.7 252.5 865.9 247.9 867.5 240C869.1 232.1 870.8 214.2 872.5 205C874.2 195.8 876 189 877.5 185C879 181 879.8 180 881.2 181.2C882.7 182.5 884.6 185.6 886.2 192.5C887.9 199.4 889.7 213.4 891.2 222.5C892.8 231.6 894 245.8 895.5 247C897 248.2 898.5 235.3 900 230C901.5 224.7 902.9 218.1 904.2 215C905.6 211.9 906.4 210.6 908 211.2C909.6 211.9 911.8 216.8 913.8 218.8C915.7 220.7 917.4 223.2 919.5 223C921.6 222.8 924.3 218.8 926.2 217.5C928.2 216.2 929.4 214.7 931.2 215.5C933.1 216.3 935.4 217.6 937.5 222.5C939.6 227.4 942.1 239.6 943.8 245C945.4 250.4 946 255.8 947.5 255C949 254.2 950.6 246.5 952.5 240C954.4 233.5 957 221.2 958.8 216.2C960.5 211.3 961.3 210.1 963 210.5C964.7 210.9 966.5 215.7 968.8 218.8C971 221.8 973.8 228.5 976.2 228.8C978.8 229 981.2 225.2 983.8 220C986.2 214.8 989 203.8 991.2 197.5C993.5 191.2 995.4 182.9 997.5 182.5C999.6 182.1 1001.7 187.5 1003.8 195C1005.8 202.5 1007.8 216.5 1010 227.5C1012.2 238.5 1015.3 257.5 1017 261.2C1018.7 265 1018.8 252.9 1020 250C1021.2 247.1 1022.2 243.4 1024.2 243.8C1026.3 244.1 1029.5 252.2 1032.5 252C1035.5 251.8 1039.6 247.4 1042.5 242.5C1045.4 237.6 1047.7 230.8 1050 222.5C1052.3 214.2 1054.2 200.8 1056.2 192.5C1058.3 184.2 1060.4 176.6 1062.5 172.5C1064.6 168.4 1066.2 169.2 1068.8 168C1071.2 166.8 1074.6 167.4 1077.5 165C1080.4 162.6 1083.5 157.8 1086.2 153.8C1089 149.7 1091.5 140.7 1093.8 140.5C1096 140.3 1097.7 148.2 1100 152.5C1102.3 156.8 1104.8 166.2 1107.5 166.2C1110.2 166.2 1113.3 156.7 1116.2 152.5C1119.2 148.3 1122.3 141.9 1125 141.2C1127.7 140.6 1130 143.5 1132.5 148.8C1135 154 1137.5 166.8 1140 172.5C1142.5 178.2 1145 183 1147.5 183C1150 183 1152.3 176 1155 172.5C1157.7 169 1160.8 162 1163.8 162C1166.7 162 1169.4 165.3 1172.5 172.5C1175.6 179.7 1179.2 194.6 1182.5 205C1185.8 215.4 1189.4 226.7 1192.5 235C1195.6 243.3 1198.8 250.6 1201.2 255C1203.8 259.4 1205.2 261.2 1207.5 261.2C1209.8 261.2 1212.7 258.5 1215 255C1217.3 251.5 1219.6 245.8 1221.2 240C1222.9 234.2 1222.9 226.3 1225 220C1227.1 213.7 1230.8 203.9 1233.8 202C1236.7 200.1 1239.4 206.7 1242.5 208.8C1245.6 210.8 1249.6 215.5 1252.5 214.5C1255.4 213.5 1257.6 206.8 1260 202.5C1262.4 198.2 1264.7 188.8 1267 188.8C1269.3 188.8 1271.6 194.3 1273.8 202.5C1275.9 210.7 1277.9 229.6 1280 238C1282.1 246.4 1285.2 250.5 1286.2 253" fill="none" stroke="#ff0000" stroke-width="4.4" stroke-linejoin="round" stroke-linecap="round"/>
<rect x="528.5" y="98.4" width="53.3" height="328.5" fill="rgb(233,151,55)" fill-opacity="0.45"/>
<rect x="907" y="98.4" width="53.3" height="328.5" fill="rgb(233,151,55)" fill-opacity="0.45"/>
<rect x="1095.2" y="98.4" width="53.4" height="328.5" fill="rgb(233,151,55)" fill-opacity="0.45"/>
<rect x="718.2" y="98.4" width="53.3" height="328.5" fill="rgb(27,233,222)" fill-opacity="0.46"/>
<path d="M392 98.4V426.6M382.8 98.4H401.5M382.8 262.5H401.5M382.8 426.6H401.5" stroke="#3c3c3c" stroke-width="1.5" fill="none"/>
<text font-size="33.9" transform="translate(373 107.2) scale(1 1.04)" text-anchor="end" fill="#111">30</text>
<text font-size="33.9" transform="translate(373 271.8) scale(1 1.04)" text-anchor="end" fill="#111">0</text>
<text font-size="33.9" transform="translate(373 435.8) scale(1 1.04)" text-anchor="end" fill="#111">-30</text>
<text font-size="41.5" transform="translate(261.2 248) rotate(-90) scale(1 1.02)" text-anchor="middle" fill="#111">Alpha</text>
<text font-size="41.5" transform="translate(310 248) rotate(-90) scale(1 1.02)" text-anchor="middle" fill="#111">Amplitude (µV)</text>
<use href="#cubeA" x="430.7" y="99.8"/>
<use href="#cubeA" x="624.8" y="99.8"/>
<use href="#cubeA" x="813.5" y="99.8"/>
<use href="#cubeA" x="1003.4" y="99.8"/>
<use href="#cubeA" x="1191" y="99.8"/>
<circle cx="483" cy="418" r="11.1" fill="#00db30" stroke="#000" stroke-width="1.4"/>
<use href="#hand" x="483" y="418"/>
<circle cx="699.3" cy="418" r="11.1" fill="#00db30" stroke="#000" stroke-width="1.4"/>
<use href="#hand" x="699.3" y="418"/>
<circle cx="867" cy="418" r="11.1" fill="#00a9ec" stroke="#000" stroke-width="1.4"/>
<use href="#hand" x="867" y="418"/>
<circle cx="1035.5" cy="418" r="11.1" fill="#00a9ec" stroke="#000" stroke-width="1.4"/>
<use href="#hand" x="1035.5" y="418"/>
<circle cx="1231.3" cy="418" r="11.1" fill="#00a9ec" stroke="#000" stroke-width="1.4"/>
<use href="#hand" x="1231.3" y="418"/>
<path d="M968 43H1148.8M968 32.5V52.5M1148.8 32.5V52.5" stroke="#3c3c3c" stroke-width="1.3" fill="none"/>
<text font-size="32" transform="translate(1058.6 25.2) scale(1 1.02)" text-anchor="middle" fill="#111">2 sec</text>
<rect x="1330" y="42" width="15.3" height="37.3" fill="#f0c48c"/>
<rect x="1330" y="102" width="15.3" height="37.5" fill="#80f5ec"/>
<text font-size="35.1" transform="translate(1363 70.6) scale(1 1.02)" fill="#000">Stable Blank</text>
<text font-size="35.1" transform="translate(1362.5 130.8) scale(1 1.02)" fill="#000">Reversal Blank</text>
<text font-size="31.3" transform="translate(1425.9 193.8)" text-anchor="middle" fill="#000" textLength="98.5" lengthAdjust="spacingAndGlyphs">Sub HK</text>
<g transform="translate(1425.4 265.9)">
<path d="M-8.6 -45.6L-1.8 -53.4Q0 -55.4 1.8 -53.4L8.6 -45.6" fill="#e9f0fa" stroke="#111" stroke-width="1.8" stroke-linejoin="round"/>
<path d="M-46.3 -10.5Q-50.5 -14.5 -51.6 -8L-52.6 8.5Q-51.5 16 -46.2 12.5M46.3 -10.5Q50.5 -14.5 51.6 -8L52.6 8.5Q51.5 16 46.2 12.5" fill="#e9f0fa" stroke="#111" stroke-width="1.7" stroke-linejoin="round"/>
<circle r="48.6" fill="#e3ecf9"/>
<circle r="46.5" fill="#fdf3f2" stroke="#222" stroke-width="1.1"/>
<circle cx="-0.3" cy="37.3" r="4.5" fill="#a9a9a9" stroke="#262626" stroke-width="1.5"/>
</g>
<text font-size="32.5" transform="translate(1425.3 284.2)" text-anchor="middle" fill="#000" textLength="38" lengthAdjust="spacingAndGlyphs">Oz</text>
</g>
<g id="panelB">
<text font-size="65" transform="translate(39.6 545.9)" font-weight="bold" fill="#000" textLength="43.2" lengthAdjust="spacingAndGlyphs">B</text>
<text font-size="51" transform="translate(474.3 564.5)" text-anchor="middle" fill="#000" textLength="332.5" lengthAdjust="spacingAndGlyphs">Alpha (8-13 Hz)</text>
<text font-size="51" transform="translate(1307 564.5)" text-anchor="middle" fill="#000" textLength="328" lengthAdjust="spacingAndGlyphs">Beta (13-30 Hz)</text>
<text font-size="35" transform="translate(104.3 624.5) scale(1 1.02)" fill="#e8932e">Stable</text>
<text font-size="29.4" transform="translate(214.2 624.5) scale(1 1.02)" fill="#000">Minus</text>
<text font-size="35" transform="translate(300 624.5) scale(1 1.02)" fill="#5dbcc3">Reversal</text>
<text font-size="38.5" transform="translate(455.5 628.8) scale(1 1.02)" fill="#000">•</text>
<text x="478.5" y="624" font-size="29.2" fill="#111"><tspan font-style="italic">p</tspan> &lt; 0.05, cluster-corrected</text>
<rect x="1586" y="626.4" width="21" height="131.6" fill="url(#cb)" stroke="#222" stroke-width="1.2"/>
<path d="M1599.5 692H1607" stroke="#222" stroke-width="1.2"/>
<text font-size="28.5" transform="translate(1617 613.2) scale(1 1.04)" text-anchor="middle" fill="#111">0.5</text>
<text font-size="28.5" transform="translate(1626.3 700.2) scale(1 1.04)" text-anchor="middle" fill="#111">0</text>
<text font-size="28.5" transform="translate(1612.8 787.6) scale(1 1.04)" text-anchor="middle" fill="#111">-0.5</text>
<text font-size="32" transform="translate(1701 692.5) rotate(90) scale(1 1.02)" text-anchor="middle" fill="#111">Amplitude</text>
<text font-size="32" transform="translate(1664 693) rotate(90) scale(1 1.02)" text-anchor="middle" fill="#111">Difference (µV)</text>
<text font-size="48" transform="translate(37 1428) rotate(-90) scale(1 1.02)" text-anchor="middle" fill="#111">Amplitude (µV)</text>
<text font-size="47.1" transform="translate(878.3 2256.3) scale(1 1.02)" text-anchor="middle" fill="#000">Time From First Image Onset (sec)</text>
<rect x="347" y="735" width="91.3" height="361.5" fill="#e6e6e6"/>
<path d="M100 822.7L101.3 823.4L103.3 824.3L105.4 825.8L107.5 827.9L109.4 830.5L111.2 833.5L113.1 837.5L115 843.1L116.9 850.6L118.8 859.7L120.6 869.9L122.5 880.9L124.4 893.3L126.2 907.1L128.1 920.9L130 933.5L131.9 944.7L133.8 955.1L135.6 964.6L137.5 973.1L139.4 980.6L141.2 987.1L143.1 992.8L145 997.7L146.8 1001.7L148.6 1004.8L150.4 1007.3L152.5 1009.7L154 1011.2L155.6 1012.5L157.2 1013.7L158.9 1014.8L160.7 1015.7L162.5 1016.6L164.2 1017.2L166 1017.8L167.8 1018.3L169.7 1018.7L171.5 1019L173.3 1019.3L175 1019.6L176.8 1019.8L178.3 1019.9L179.8 1020L181.4 1019.9L183.1 1019.8L185 1019.6L186.6 1019.4L188.3 1019L190 1018.6L191.9 1018.2L193.8 1017.7L195.8 1017.2L197.9 1016.8L200 1016.5L201.6 1016.3L203.4 1016.2L205.2 1016.1L207.1 1016L209 1015.9L211 1015.8L212.9 1015.7L214.8 1015.6L216.6 1015.5L218.4 1015.4L220 1015.2L222.1 1014.9L224.1 1014.6L226 1014.3L227.8 1013.9L229.6 1013.5L231.4 1013.1L233.2 1012.7L235 1012.2L236.9 1011.8L238.8 1011.3L240.6 1010.8L242.5 1010.3L244.4 1009.7L246.2 1009L248.1 1008.1L250 1007.1L251.9 1005.8L253.8 1004.2L255.6 1002.5L257.5 1000.6L259.4 998.7L261.2 996.9L263.1 995.1L265 993.4L266.8 991.9L268.6 990.3L270.4 988.7L272.2 987.2L274 985.7L275.9 984.4L277.9 983.3L280 982.3L281.6 981.7L283.3 981.4L285.1 981.1L286.9 980.9L288.8 980.8L290.6 980.7L292.5 980.6L294.4 980.5L296.3 980.3L298.2 980L300 979.6L301.8 979.1L303.6 978.4L305.5 977.8L307.3 977L309.1 976.3L310.9 975.5L312.7 974.6L314.5 973.8L316.4 973L318.2 972.2L320 971.4L321.8 970.6L323.7 969.8L325.7 968.9L327.6 968.1L329.5 967.3L331.4 966.4L333.3 965.6L335.1 964.9L336.8 964.2L338.5 963.5L340 963L342.2 962.1L344.1 961.4L345.9 960.7L347.5 960.2L349.1 959.7L350.8 959.4L352.5 959.2L354.3 959.1L356 959.2L357.7 959.4L359.5 959.7L361.2 960L363.1 960.4L365 960.9L366.8 961.3L368.7 962L370.7 962.7L372.7 963.4L374.6 964.1L376.5 964.7L378.3 965L380 965.1L382 965L383.7 964.6L385.3 964L386.9 963.1L388.4 961.7L390 959.9L391.7 957.5L393.3 954.7L395 951.4L396.7 947.8L398.3 943.9L400 939.7L401.7 935.2L403.3 930.2L405 924.9L406.7 919.3L408.3 913.7L410 908.2L411.7 902.6L413.3 896.8L415 890.9L416.7 885L418.3 879.4L420 874L421.7 868.9L423.3 864L425 859.2L426.7 854.7L428.3 850.4L430 846.3L431.7 842.5L433.4 838.8L435.2 835.4L436.9 832.3L438.5 829.7L440 827.4L442.1 825.2L444.1 824L445.9 823.5L447.5 823.4L449.4 823.5L450.9 824.5L452.5 826.5L454.1 829.2L455.6 832.9L457.5 838.8L459.2 845.3L461.1 853.2L463.1 862.2L465 871.8L466.9 882.2L468.8 893.7L470.6 905.6L472.5 917.2L474.4 928.9L476.2 940.8L478.1 952.2L480 962.4L481.9 971.2L483.8 979L485.6 985.9L487.5 992.1L489.3 997.4L491.1 1001.8L492.9 1005.6L495 1009L496.5 1011L498 1012.8L499.5 1014.3L501.2 1015.7L503 1017L505 1018.3L506.6 1019.2L508.4 1020.1L510.3 1021L512.2 1021.8L514.2 1022.5L516.1 1023.2L518.1 1023.8L520 1024.4L521.9 1024.9L523.8 1025.3L525.6 1025.7L527.5 1025.9L529.4 1026.2L531.2 1026.4L533.1 1026.5L535 1026.6L536.9 1026.7L538.8 1026.7L540.6 1026.7L542.5 1026.7L544.4 1026.6L546.2 1026.4L548.1 1026.1L550 1025.8L551.9 1025.3L553.8 1024.8L555.6 1024.2L557.5 1023.5L559.4 1022.7L561.2 1022L563.1 1021.2L565 1020.5L566.9 1019.7L568.7 1018.9L570.5 1018L572.3 1017.2L574.2 1016.3L576.1 1015.5L578 1014.8L580 1014.2L581.9 1013.7L583.8 1013.4L585.8 1013.2L587.9 1013L589.9 1012.8L591.9 1012.6L593.9 1012.3L595.8 1011.9L597.5 1011.3L599.5 1010.4L601.4 1009.4L603.1 1008.2L604.7 1006.9L606.4 1005.5L608.1 1004.1L610 1002.5L611.7 1001.1L613.5 999.6L615.2 998L617 996.3L618.9 994.6L620.8 992.9L622.9 991.3L625 989.7L626.6 988.6L628.3 987.5L630.1 986.4L631.9 985.3L633.8 984.2L635.6 983.1L637.5 982L639.4 981L641.3 979.9L643.2 978.8L645 977.7L646.8 976.6L648.7 975.5L650.5 974.5L652.3 973.4L654.2 972.3L656 971.2L657.8 970.1L659.7 969L661.5 968L663.2 966.9L665 965.7L667 964.5L669.1 963.1L671.2 961.7L673.4 960.2L675.5 958.8L677.5 957.4L679.4 956.2L681 955L682.4 954.1L683.5 953.4L683.5 974.6L682.4 975.3L681 976.2L679.4 977.3L677.5 978.5L675.5 979.8L673.4 981.1L671.2 982.5L669.1 983.8L667 985.1L665 986.3L663.2 987.3L661.5 988.3L659.7 989.3L657.8 990.3L656 991.3L654.2 992.3L652.3 993.3L650.5 994.3L648.7 995.3L646.8 996.3L645 997.3L643.2 998.3L641.3 999.3L639.4 1000.3L637.5 1001.2L635.6 1002.2L633.8 1003.2L631.9 1004.2L630.1 1005.2L628.3 1006.2L626.6 1007.3L625 1008.3L622.9 1009.8L620.8 1011.4L618.9 1013L617 1014.6L615.2 1016.1L613.5 1017.7L611.7 1019.1L610 1020.5L608.1 1021.9L606.4 1023.3L604.7 1024.6L603.1 1025.8L601.4 1026.9L599.5 1027.9L597.5 1028.7L595.8 1029.2L593.9 1029.5L591.9 1029.7L589.9 1029.9L587.9 1030L585.8 1030.1L583.8 1030.2L581.9 1030.5L580 1030.8L578 1031.4L576.1 1032L574.2 1032.7L572.3 1033.5L570.5 1034.3L568.7 1035.1L566.9 1035.8L565 1036.5L563.1 1037.2L561.2 1037.9L559.4 1038.5L557.5 1039.2L555.6 1039.8L553.8 1040.4L551.9 1040.8L550 1041.2L548.1 1041.5L546.2 1041.6L544.4 1041.7L542.5 1041.8L540.6 1041.7L538.8 1041.7L536.9 1041.6L535 1041.4L533.1 1041.2L531.2 1041L529.4 1040.7L527.5 1040.4L525.6 1040.1L523.8 1039.6L521.9 1039.2L520 1038.6L518.1 1038L516.1 1037.3L514.2 1036.5L512.2 1035.7L510.3 1034.8L508.4 1033.8L506.6 1032.8L505 1031.7L503 1030.2L501.2 1028.7L499.5 1027.1L498 1025.3L496.5 1023.3L495 1021L492.9 1017.3L491.1 1013.2L489.3 1008.5L487.5 1002.9L485.6 996.5L483.8 989.4L481.9 981.5L480 972.6L478.1 962.4L476.2 951L474.4 939.3L472.5 927.8L470.6 916.4L468.8 904.7L466.9 893.5L465 883.2L463.1 873.9L461.1 865.1L459.2 857.5L457.5 851.2L455.6 845.4L454.1 841.9L452.5 839.5L450.9 837.6L449.4 836.8L447.5 836.6L445.9 836.8L444.1 837.3L442.1 838.4L440 840.6L438.5 842.6L436.9 845.2L435.2 848.1L433.4 851.4L431.7 855L430 858.7L428.3 862.6L426.7 866.8L425 871.2L423.3 875.9L421.7 880.9L420 886L418.3 891.5L416.7 897.4L415 903.5L413.3 909.7L411.7 915.9L410 921.8L408.3 927.6L406.7 933.6L405 939.4L403.3 945L401.7 950.4L400 955.3L398.3 959.8L396.7 964L395 967.9L393.3 971.5L391.7 974.5L390 977.1L388.4 979.1L386.9 980.6L385.3 981.6L383.7 982.3L382 982.7L380 982.9L378.3 982.9L376.5 982.6L374.6 982.1L372.7 981.4L370.7 980.8L368.7 980.1L366.8 979.5L365 979.1L363.1 978.8L361.2 978.4L359.5 978.1L357.7 977.9L356 977.7L354.3 977.7L352.5 977.8L350.8 978.1L349.1 978.5L347.5 979L345.9 979.6L344.1 980.3L342.2 981.1L340 982L338.5 982.7L336.8 983.4L335.1 984.1L333.3 984.9L331.4 985.7L329.5 986.6L327.6 987.4L325.7 988.2L323.7 989.1L321.8 989.9L320 990.6L318.2 991.4L316.4 992.1L314.5 992.9L312.7 993.7L310.9 994.5L309.1 995.3L307.3 996L305.5 996.7L303.6 997.3L301.8 997.9L300 998.4L298.2 998.8L296.3 999L294.4 999.2L292.5 999.3L290.6 999.3L288.8 999.4L286.9 999.5L285.1 999.6L283.3 999.9L281.6 1000.2L280 1000.7L277.9 1001.6L275.9 1002.8L274 1004.1L272.2 1005.5L270.4 1006.9L268.6 1008.5L266.8 1010L265 1011.6L263.1 1013.2L261.2 1014.9L259.4 1016.8L257.5 1018.6L255.6 1020.4L253.8 1022.1L251.9 1023.6L250 1024.9L248.1 1026L246.2 1026.8L244.4 1027.5L242.5 1028L240.6 1028.5L238.8 1028.9L236.9 1029.3L235 1029.8L233.2 1030.2L231.4 1030.6L229.6 1030.9L227.8 1031.1L226 1031.4L224.1 1031.6L222.1 1031.7L220 1031.8L218.4 1031.9L216.6 1031.9L214.8 1031.8L212.9 1031.8L211 1031.7L209 1031.6L207.1 1031.5L205.2 1031.5L203.4 1031.4L201.6 1031.4L200 1031.5L197.9 1031.6L195.8 1031.9L193.8 1032.2L191.9 1032.5L190 1032.8L188.3 1033L186.6 1033.2L185 1033.4L183.1 1033.4L181.4 1033.4L179.8 1033.3L178.3 1033.1L176.8 1032.8L175 1032.4L173.3 1032.1L171.5 1031.6L169.7 1031.1L167.8 1030.6L166 1030L164.2 1029.2L162.5 1028.4L160.7 1027.4L158.9 1026.2L157.2 1024.9L155.6 1023.6L154 1022L152.5 1020.3L150.4 1017.7L148.6 1014.9L146.8 1011.6L145 1007.3L143.1 1002.2L141.2 996.3L139.4 989.6L137.5 981.9L135.6 973.1L133.8 963.4L131.9 952.8L130 941.5L128.1 928.9L126.2 915.1L124.4 901.4L122.5 889.1L120.6 878.2L118.8 868.1L116.9 859.2L115 851.9L113.1 846.4L111.2 842.5L109.4 839.6L107.5 837.1L105.4 835.1L103.3 833.8L101.3 832.9L100 832.3Z" fill="#8eeeea" fill-opacity="0.5"/>
<path d="M100 829L101.3 829.2L103.3 829.3L105.4 829.8L107.5 831.2L109.4 833.5L111.2 836.3L113.1 840.2L115 845.5L116.9 852.5L118.8 860.9L120.6 870.4L122.5 880.8L124.4 892.5L126.2 905.5L128.1 918.7L130 930.8L131.9 941.8L133.8 952.1L135.6 961.7L137.5 970.5L139.4 978.5L141.2 985.7L143.1 992L145 997.5L146.9 1001.9L148.8 1005.4L150.6 1008.2L152.5 1010.5L154.3 1012.3L156.1 1013.5L157.9 1014.4L160 1015.1L161.5 1015.4L163.1 1015.6L164.8 1015.7L166.6 1015.7L168.3 1015.6L170 1015.6L171.6 1015.4L173.1 1015.2L174.7 1014.9L176.3 1014.6L178 1014.4L180 1014.1L181.6 1014L183.4 1014L185.3 1014L187.2 1014L189.2 1013.9L191.1 1013.9L193.1 1013.7L195 1013.5L196.9 1013.2L198.8 1013L200.6 1012.7L202.5 1012.3L204.4 1011.9L206.2 1011.4L208.1 1010.7L210 1009.9L211.9 1008.8L213.8 1007.6L215.6 1006.2L217.5 1004.7L219.4 1003.2L221.2 1001.6L223.1 1000.1L225 998.7L226.8 997.3L228.6 995.9L230.4 994.5L232.2 993.2L234 991.8L235.9 990.6L237.9 989.4L240 988.4L241.6 987.8L243.3 987.2L245.1 986.8L246.9 986.4L248.8 986L250.6 985.6L252.5 985.3L254.4 984.8L256.3 984.4L258.2 983.8L260 983.2L261.8 982.5L263.6 981.6L265.5 980.8L267.3 979.8L269.1 978.8L270.9 977.9L272.7 976.8L274.5 975.8L276.4 974.9L278.2 973.9L280 973L281.8 972.1L283.6 971.3L285.5 970.4L287.3 969.6L289.1 968.8L290.9 968L292.7 967.2L294.5 966.4L296.4 965.5L298.2 964.7L300 963.8L301.8 962.9L303.7 962L305.6 961.1L307.5 960.2L309.4 959.3L311.2 958.4L313.1 957.4L314.9 956.5L316.7 955.5L318.4 954.6L320 953.6L322.1 952.2L324.1 950.8L326 949.4L327.8 947.9L329.6 946.5L331.4 945.1L333.2 943.8L335 942.6L336.9 941.4L338.8 940.2L340.7 939.1L342.7 938L344.6 936.9L346.4 936L348.2 935.1L350 934.3L351.9 933.6L353.8 933L355.5 932.5L357.3 932.1L359 931.8L360.7 931.6L362.5 931.5L364.3 931.7L366.1 932L368 932.4L369.8 932.9L371.6 933.5L373.3 933.9L375 934.3L376.8 934.6L378.5 934.9L380.2 935.2L381.8 935.4L383.4 935.3L385 934.9L386.7 934.2L388.3 933.4L390 932.3L391.7 931L393.3 929.4L395 927.5L396.7 925.3L398.3 922.7L400 919.8L401.7 916.7L403.3 913.4L405 910L406.7 906.4L408.3 902.6L410 898.6L411.7 894.4L413.3 890.2L415 886L416.7 881.7L418.3 877.2L420 872.6L421.7 867.9L423.3 863.3L425 858.8L426.7 854.3L428.4 849.6L430.2 845L431.9 840.7L433.5 836.8L435 833.4L437.1 829.6L439.1 826.9L440.9 824.8L442.5 823.2L444.4 821.7L445.9 821.1L447.5 821.1L449.2 821.5L450.8 822.4L452.5 824.3L454.1 826.9L455.6 830.3L457.5 836.1L459.2 842.6L461.1 850.5L463.1 859.5L465 869.1L466.9 879.6L468.8 891L470.6 902.9L472.5 914.5L474.4 926.3L476.2 938.2L478.1 949.6L480 959.8L481.9 968.7L483.8 976.6L485.6 983.5L487.5 989.4L489.3 994.1L491.1 997.7L492.9 1000.5L495 1002.8L496.5 1004L498 1004.9L499.5 1005.5L501.2 1005.9L503 1006.3L505 1006.6L506.6 1006.8L508.3 1006.9L510 1007L511.9 1007L513.8 1007L515.8 1006.9L517.9 1006.8L520 1006.7L521.6 1006.6L523.4 1006.4L525.2 1006.2L527.1 1006L529 1005.8L531 1005.5L532.9 1005.2L534.8 1005L536.6 1004.7L538.4 1004.5L540 1004.3L542.1 1004L544.1 1003.8L546 1003.6L547.8 1003.4L549.6 1003.1L551.4 1002.8L553.2 1002.4L555 1001.9L556.8 1001.4L558.6 1000.7L560.4 1000.1L562.2 999.3L564 998.5L565.9 997.6L567.9 996.6L570 995.6L571.6 994.8L573.3 994L575.1 993.1L576.9 992.2L578.8 991.3L580.6 990.3L582.5 989.3L584.4 988.3L586.3 987.3L588.2 986.2L590 985.2L591.8 984.1L593.7 983L595.6 981.8L597.5 980.6L599.4 979.4L601.2 978.2L603.1 977L604.9 975.9L606.7 974.7L608.4 973.7L610 972.8L612.1 971.6L614 970.6L615.8 969.6L617.5 968.8L619.2 967.9L621 967.1L622.9 966.3L625 965.4L626.6 964.7L628.3 964.1L630.1 963.5L631.9 962.9L633.8 962.3L635.6 961.6L637.5 961L639.4 960.3L641.3 959.6L643.2 958.8L645 957.9L646.8 957L648.7 956L650.5 954.9L652.3 953.8L654.2 952.6L656 951.4L657.8 950.3L659.7 949.1L661.5 948L663.2 946.9L665 945.9L667 944.9L669.1 943.8L671.2 942.7L673.4 941.7L675.5 940.7L677.5 939.8L679.4 938.9L681 938.2L682.4 937.5L683.5 937L683.5 959L682.4 959.5L681 960L679.4 960.7L677.5 961.5L675.5 962.3L673.4 963.2L671.2 964.2L669.1 965.1L667 966.1L665 967.1L663.2 968L661.5 969L659.7 970L657.8 971L656 972.1L654.2 973.2L652.3 974.3L650.5 975.3L648.7 976.3L646.8 977.2L645 978.1L643.2 978.8L641.3 979.5L639.4 980.2L637.5 980.8L635.6 981.3L633.8 981.9L631.9 982.4L630.1 982.9L628.3 983.5L626.6 984L625 984.6L622.9 985.4L621 986.1L619.2 986.9L617.5 987.6L615.8 988.4L614 989.2L612.1 990.2L610 991.2L608.4 992.1L606.7 993.1L604.9 994.1L603.1 995.2L601.2 996.3L599.4 997.4L597.5 998.5L595.6 999.6L593.7 1000.7L591.8 1001.8L590 1002.8L588.2 1003.7L586.3 1004.7L584.4 1005.7L582.5 1006.6L580.6 1007.5L578.8 1008.4L576.9 1009.3L575.1 1010.1L573.3 1010.9L571.6 1011.6L570 1012.4L567.9 1013.3L565.9 1014.2L564 1015L562.2 1015.7L560.4 1016.4L558.6 1017L556.8 1017.6L555 1018.1L553.2 1018.5L551.4 1018.8L549.6 1019L547.8 1019.1L546 1019.3L544.1 1019.4L542.1 1019.6L540 1019.7L538.4 1019.9L536.6 1020.1L534.8 1020.2L532.9 1020.4L531 1020.6L529 1020.8L527.1 1020.9L525.2 1021.1L523.4 1021.2L521.6 1021.3L520 1021.3L517.9 1021.4L515.8 1021.4L513.8 1021.4L511.9 1021.3L510 1021.2L508.3 1021L506.6 1020.8L505 1020.4L503 1019.9L501.2 1019.3L499.5 1018.7L498 1017.8L496.5 1016.7L495 1015.2L492.9 1012.6L491.1 1009.5L489.3 1005.6L487.5 1000.6L485.6 994.4L483.8 987.3L481.9 979.2L480 970.2L478.1 960L476.2 948.7L474.4 936.9L472.5 925.5L470.6 914L468.8 902.4L466.9 891.2L465 880.9L463.1 871.5L461.1 862.8L459.2 855.1L457.5 848.9L455.6 843.3L454.1 840L452.5 837.7L450.8 835.9L449.2 835.1L447.5 834.9L445.9 834.9L444.4 835.4L442.5 836.8L440.9 838.4L439.1 840.3L437.1 842.9L435 846.6L433.5 849.8L431.9 853.6L430.2 857.8L428.4 862.2L426.7 866.8L425 871.2L423.3 875.6L421.7 880.2L420 884.9L418.3 889.7L416.7 894.4L415 899L413.3 903.6L411.7 908.1L410 912.6L408.3 916.9L406.7 921.1L405 925L403.3 928.7L401.7 932.4L400 935.8L398.3 939L396.7 941.9L395 944.5L393.3 946.7L391.7 948.5L390 950.1L388.3 951.3L386.7 952.3L385 953.1L383.4 953.5L381.8 953.7L380.2 953.6L378.5 953.3L376.8 953L375 952.7L373.3 952.5L371.6 952.1L369.8 951.6L368 951.2L366.1 950.8L364.3 950.5L362.5 950.5L360.7 950.6L359 950.8L357.3 951.2L355.5 951.6L353.8 952.2L351.9 952.9L350 953.7L348.2 954.5L346.4 955.4L344.6 956.4L342.7 957.5L340.7 958.7L338.8 959.9L336.9 961.2L335 962.4L333.2 963.7L331.4 965L329.6 966.4L327.8 967.9L326 969.3L324.1 970.7L322.1 972.1L320 973.4L318.4 974.3L316.7 975.3L314.9 976.2L313.1 977.1L311.2 978L309.4 978.9L307.5 979.8L305.6 980.6L303.7 981.5L301.8 982.4L300 983.2L298.2 984L296.4 984.8L294.5 985.6L292.7 986.4L290.9 987.2L289.1 988L287.3 988.8L285.5 989.6L283.6 990.4L281.8 991.2L280 992L278.2 992.9L276.4 993.8L274.5 994.7L272.7 995.7L270.9 996.7L269.1 997.6L267.3 998.6L265.5 999.5L263.6 1000.3L261.8 1001.1L260 1001.8L258.2 1002.4L256.3 1002.9L254.4 1003.3L252.5 1003.7L250.6 1004L248.8 1004.4L246.9 1004.7L245.1 1005.1L243.3 1005.5L241.6 1006L240 1006.6L237.9 1007.6L235.9 1008.7L234 1009.9L232.2 1011.2L230.4 1012.5L228.6 1013.8L226.8 1015L225 1016.3L223.1 1017.5L221.2 1018.9L219.4 1020.3L217.5 1021.7L215.6 1023L213.8 1024.2L211.9 1025.3L210 1026.1L208.1 1026.8L206.2 1027.3L204.4 1027.7L202.5 1028L200.6 1028.2L198.8 1028.3L196.9 1028.4L195 1028.5L193.1 1028.6L191.1 1028.5L189.2 1028.4L187.2 1028.3L185.3 1028.1L183.4 1028L181.6 1027.9L180 1027.9L178 1027.9L176.3 1028L174.7 1028.2L173.1 1028.3L171.6 1028.4L170 1028.4L168.3 1028.3L166.6 1028.2L164.8 1028.1L163.1 1027.8L161.5 1027.5L160 1026.9L157.9 1026.1L156.1 1025L154.3 1023.6L152.5 1021.5L150.6 1018.9L148.8 1015.9L146.9 1012.2L145 1007.5L143.1 1001.8L141.2 995.2L139.4 987.7L137.5 979.5L135.6 970.5L133.8 960.7L131.9 950.2L130 939.2L128.1 927L126.2 913.8L124.4 900.9L122.5 889.2L120.6 879L118.8 869.6L116.9 861.4L115 854.5L113.1 849.3L111.2 845.6L109.4 842.9L107.5 840.8L105.4 839.4L103.3 839L101.3 839L100 839Z" fill="#f3c58e" fill-opacity="0.5"/>
<path d="M100 827.5C101.2 828.3 105 829.2 107.5 832.5C110 835.8 112.5 838.8 115 847.5C117.5 856.2 120 870 122.5 885C125 900 127.5 922.1 130 937.5C132.5 952.9 135 966.7 137.5 977.5C140 988.3 142.5 996.2 145 1002.5C147.5 1008.8 149.6 1011.7 152.5 1015C155.4 1018.3 158.8 1020.7 162.5 1022.5C166.2 1024.3 171.2 1025.3 175 1026C178.8 1026.7 180.8 1026.8 185 1026.5C189.2 1026.2 194.2 1024.5 200 1024C205.8 1023.5 214.2 1024 220 1023.5C225.8 1023 230 1022.2 235 1021C240 1019.8 245 1019.1 250 1016C255 1012.9 260 1006.6 265 1002.5C270 998.4 274.2 993.8 280 991.5C285.8 989.2 293.3 990.8 300 989C306.7 987.2 313.3 983.8 320 981C326.7 978.2 334.6 974.6 340 972.5C345.4 970.4 348.3 968.9 352.5 968.5C356.7 968.1 360.4 969.1 365 970C369.6 970.9 375.8 974.2 380 974C384.2 973.8 386.7 972.9 390 968.5C393.3 964.1 396.7 956.4 400 947.5C403.3 938.6 406.7 926.2 410 915C413.3 903.8 416.7 890.4 420 880C423.3 869.6 426.7 860.2 430 852.5C433.3 844.8 437.1 837.8 440 834C442.9 830.2 445.4 830.2 447.5 830C449.6 829.8 450.8 830.5 452.5 833C454.2 835.5 455.4 837.6 457.5 845C459.6 852.4 462.5 864.6 465 877.5C467.5 890.4 470 907.5 472.5 922.5C475 937.5 477.5 955 480 967.5C482.5 980 485 989.6 487.5 997.5C490 1005.4 492.1 1010.4 495 1015C497.9 1019.6 500.8 1022.2 505 1025C509.2 1027.8 515 1030 520 1031.5C525 1033 530 1033.7 535 1034C540 1034.3 545 1034.4 550 1033.5C555 1032.6 560 1030.3 565 1028.5C570 1026.7 574.6 1023.9 580 1022.5C585.4 1021.1 592.5 1021.8 597.5 1020C602.5 1018.2 605.4 1015 610 1011.5C614.6 1008 619.2 1003 625 999C630.8 995 638.3 991.3 645 987.5C651.7 983.7 658.6 979.9 665 976C671.4 972.1 680.4 966 683.5 964" fill="none" stroke="#5ab2b6" stroke-width="3.2" stroke-linejoin="round"/>
<path d="M100 834C101.2 834.3 105 833.3 107.5 836C110 838.7 112.5 841.8 115 850C117.5 858.2 120 870.8 122.5 885C125 899.2 127.5 920 130 935C132.5 950 135 963.8 137.5 975C140 986.2 142.5 995.7 145 1002.5C147.5 1009.3 150 1012.9 152.5 1016C155 1019.1 157.1 1020 160 1021C162.9 1022 166.7 1022 170 1022C173.3 1022 175.8 1021.2 180 1021C184.2 1020.8 190 1021.5 195 1021C200 1020.5 205 1020.2 210 1018C215 1015.8 220 1010.9 225 1007.5C230 1004.1 234.2 1000 240 997.5C245.8 995 253.3 995 260 992.5C266.7 990 273.3 985.7 280 982.5C286.7 979.3 293.3 976.7 300 973.5C306.7 970.3 314.2 967 320 963.5C325.8 960 330 955.8 335 952.5C340 949.2 345.4 945.9 350 944C354.6 942.1 358.3 941.1 362.5 941C366.7 940.9 371.2 943 375 943.5C378.8 944 381.7 945.2 385 944C388.3 942.8 391.7 940.4 395 936C398.3 931.6 401.7 924.8 405 917.5C408.3 910.2 411.7 901.2 415 892.5C418.3 883.8 421.7 873.8 425 865C428.3 856.2 432.1 845.8 435 840C437.9 834.2 440.4 832 442.5 830C444.6 828 445.8 827.8 447.5 828C449.2 828.2 450.8 828.6 452.5 831C454.2 833.4 455.4 835.2 457.5 842.5C459.6 849.8 462.5 862.1 465 875C467.5 887.9 470 905 472.5 920C475 935 477.5 952.5 480 965C482.5 977.5 485 987.7 487.5 995C490 1002.3 492.1 1005.9 495 1009C497.9 1012.1 500.8 1012.7 505 1013.5C509.2 1014.3 514.2 1014.2 520 1014C525.8 1013.8 534.2 1012.7 540 1012C545.8 1011.3 550 1011.3 555 1010C560 1008.7 564.2 1006.7 570 1004C575.8 1001.3 583.3 997.7 590 994C596.7 990.3 604.2 985.2 610 982C615.8 978.8 619.2 977.3 625 975C630.8 972.7 638.3 971.1 645 968C651.7 964.9 658.6 959.8 665 956.5C671.4 953.2 680.4 949.4 683.5 948" fill="none" stroke="#e08a12" stroke-width="3.2" stroke-linejoin="round"/>
<path d="M99.4 725.7V1108.3M90.7 725.7H107.9M90.7 1097.8H889.2M492 1087.3V1108.3M889.2 1087.3V1108.3" stroke="#2e2e2e" stroke-width="1.5" stroke-linecap="round" fill="none"/>
<path d="M306 1079.8H417.5" stroke="#000" stroke-width="3"/>
<path d="M505 1079.8H666" stroke="#000" stroke-width="3"/>
<text font-size="35" transform="translate(79.7 736.2) scale(1 1.04)" text-anchor="end" fill="#111">4.4</text>
<text font-size="35" transform="translate(74.2 1107.8) scale(1 1.04)" text-anchor="end" fill="#111">2</text>
<rect x="1223.7" y="733.5" width="93.8" height="363" fill="#e6e6e6"/>
<path d="M977 813.3L978.1 815.5L979.7 818.6L981.4 821.9L983 824.8L984.3 827.5L985.6 829.8L986.8 830.7L988 829.4L989.4 823L990.7 814.6L992 810.3L993.2 811.7L994.3 816.7L995.5 825.5L996.8 839.3L998.1 857.1L999.5 875.6L1000.9 893.6L1002.4 911.7L1004 929.4L1005.2 943L1006.5 957.5L1007.7 971.7L1009 984.2L1010.2 994.4L1011.5 1002.8L1012.8 1009.4L1014 1014.6L1015.2 1018.5L1016.4 1021.1L1017.6 1022.4L1019 1022.8L1020.2 1022.3L1021.4 1021.5L1022.8 1021L1024.1 1021L1025.5 1021.8L1026.9 1023.1L1028.4 1024.4L1030 1025.5L1031.5 1026.4L1033 1027.1L1034.5 1027.8L1036 1028.6L1037.5 1029.7L1039 1030.9L1040.5 1031.6L1042 1031.7L1043.5 1031.3L1045 1031L1046.5 1031.2L1048 1031.9L1049.5 1033L1051 1034.1L1052.5 1035.2L1054 1036.2L1055.5 1036.9L1057 1036.7L1058.5 1035.3L1060 1033L1061.5 1030.4L1063 1028.4L1064.5 1027.1L1065.9 1026.1L1067.3 1025.4L1068.8 1024.8L1070.5 1024.1L1071.8 1023.2L1073.2 1022L1074.6 1020.6L1076.1 1019.5L1077.6 1019L1079 1019.5L1080.5 1020.6L1082 1021.5L1083.4 1021.7L1084.9 1021L1086.4 1019.3L1087.8 1017.2L1089.2 1014.8L1090.5 1012.4L1092.2 1009.6L1093.7 1006.7L1095.1 1003.9L1096.5 1001.5L1098 999.7L1099.5 998L1101 996L1102.5 993.4L1104 990.4L1105.5 987.6L1107 985.8L1108.5 985.3L1110 985.7L1111.5 986.4L1113 986.9L1114.5 986.2L1116 984.2L1117.5 981L1119 977.2L1120.5 973.8L1122 971.4L1123.5 969.8L1125 968.6L1126.5 967.5L1128 965.9L1129.5 963.9L1131 961.8L1132.5 959.8L1134 957.7L1135.5 955.4L1137 952.7L1138.5 949.9L1140 947.4L1141.5 945.8L1143 944.9L1144.5 944.3L1146 943.4L1147.5 942.1L1149 940.6L1150.5 939.3L1152 938L1153.5 936.6L1155 934.8L1156.5 932.9L1158 930.7L1159.5 928.1L1161 925.4L1162.5 922.9L1164 921.2L1165.5 920.2L1167 919.4L1168.5 918.1L1170 916L1171.5 913.3L1173 911.1L1174.5 910.2L1176 911L1177.5 912.7L1179 914.2L1180.5 914.1L1182 912.1L1183.5 909.1L1185 906.4L1186.5 904.9L1188 905.1L1189.5 907L1191 909.8L1192.5 912.4L1194 914.1L1195.5 914.5L1197 913.5L1198.4 911.7L1199.8 909.5L1201.3 907.9L1203 907.7L1204.3 908.9L1205.7 910.6L1207.1 912.1L1208.6 913.1L1210.1 913.6L1211.5 913.6L1213 913.3L1214.5 912.7L1215.9 912.1L1217.4 911.8L1218.9 911.9L1220.3 912.4L1221.7 912.7L1223 912.9L1224.7 912.3L1226.2 910.9L1227.6 909.1L1229 907.6L1230.5 907.1L1232 907.8L1233.5 909.3L1235 910.5L1236.5 910.8L1238 910.2L1239.5 908.7L1241 907L1242.5 905.3L1244 904L1245.5 903.6L1247 904.5L1248.5 906.7L1250 909.2L1251.5 911.4L1253 912.5L1254.5 912.3L1256 910.8L1257.6 908.7L1259.1 906.8L1260.5 905.9L1261.9 906.7L1263.2 908.7L1264.5 910.9L1265.7 912.2L1267 911.4L1268.6 906.8L1270.1 899.6L1271.6 891.6L1273 884.4L1274.3 878.4L1275.4 873.1L1276.6 868.5L1278 864.6L1279.3 861.9L1280.8 859.2L1282.4 856L1284 852.4L1285.5 848.6L1287 844.5L1288.5 840.1L1290 835.4L1291.5 830.7L1293 825.9L1294.5 821L1296 816L1297.5 811.7L1299 808.1L1300.5 805L1302 802L1303.6 799.4L1305.2 797.5L1306.7 796.5L1308 796.3L1309.4 796.8L1310.7 798.3L1311.8 800.7L1313 803.3L1314.2 806.2L1315.4 809.4L1316.7 812.2L1318 814L1319.5 814.1L1321 812.9L1322.5 811.1L1324 810.3L1325.3 812.2L1326.5 815.8L1327.7 819.2L1329 820.5L1330.3 819.5L1331.6 817.4L1333 814.9L1334.4 812.5L1335.5 810.9L1336.9 808.9L1337.9 808.7L1339 812.9L1340.3 821.9L1341.6 833.5L1343 847L1344.3 864.2L1345.6 885.2L1347 906.1L1348.4 925.3L1349.9 943.9L1351.5 961.2L1352.7 973.7L1354 985.7L1355.2 996.7L1356.5 1006.2L1357.8 1014.2L1359 1020.9L1360.2 1026.1L1361.5 1030L1362.8 1032.3L1364.1 1033.1L1365.3 1033.1L1366.5 1032.8L1367.8 1031.1L1369 1028.5L1370.5 1027.3L1371.6 1027.9L1372.8 1028.9L1374.1 1030L1375.5 1030.8L1377 1031.4L1378.3 1032.1L1379.7 1033.1L1381.2 1033.9L1382.7 1033.8L1384.1 1032.8L1385.5 1031.7L1387 1031.4L1388.5 1031.6L1389.9 1032L1391.4 1032.3L1393 1032.8L1394.4 1033.8L1395.9 1035.3L1397.4 1037.1L1399 1039.1L1400.5 1040.8L1402 1041.7L1403.5 1040.9L1404.9 1038.7L1406.3 1036L1407.8 1033.7L1409.1 1032.5L1410.5 1032.8L1412.1 1035L1413.6 1038.3L1415 1041.4L1416.5 1043.3L1418 1043.2L1419.5 1041.2L1421 1038.4L1422.5 1035.5L1424 1033L1425.5 1031L1427 1029.5L1428.5 1028.5L1430 1027.9L1431.5 1027.3L1433 1026.5L1434.5 1025.1L1436 1023.2L1437.5 1020.4L1439 1016.8L1440.5 1012.9L1442 1009.1L1443.5 1005.7L1445 1002.7L1446.5 1000.2L1448 998.2L1449.5 996.9L1451 996.3L1452.5 996.1L1454 996.2L1455.5 996.4L1457 996.2L1458.5 995.2L1460 993.4L1461.5 990.7L1463 987.6L1464.5 984.2L1466 980.7L1467.5 977.3L1469 974.3L1470.5 971.7L1472 969.6L1473.5 967.6L1475 965.3L1476.5 962.9L1478 960.5L1479.5 958.4L1481 956.1L1482.5 953.4L1484 950L1485.5 946.4L1487 943.1L1488.5 940.4L1490 938.2L1491.5 936.5L1493 935.3L1494.5 934.7L1496 934.4L1497.5 933.9L1499 932.7L1500.5 931.2L1502 929.8L1503.5 928.7L1505 927.7L1506.5 925.9L1508 923.5L1509.5 920.8L1511 918.5L1512.5 917.3L1514 916.7L1515.5 916L1517 914.1L1518.5 911.2L1520 907.8L1521.5 904.6L1523 902L1524.5 900L1526 898.2L1527.5 896.9L1529 895.9L1530.5 895.5L1532 896.3L1533.5 898.2L1535 900.7L1536.5 902.7L1538 903.2L1539.5 902.5L1541 901.8L1542.5 901.4L1544 901.1L1545.5 900.5L1547 899.4L1548.6 897.6L1550.2 895.3L1551.7 892.5L1553 889.8L1554.4 887.4L1555.6 886.2L1556.7 886.2L1558 886.9L1559.6 888.2L1561.3 890.1L1562.9 892.1L1564 893.5L1564 924.7L1562.9 922.3L1561.3 919.7L1559.6 917.9L1558 917.7L1556.7 918.4L1555.6 919.3L1554.4 920.3L1553 921.3L1551.7 922.1L1550.2 922.7L1548.6 923.2L1547 924L1545.5 925.6L1544 928L1542.5 930.8L1541 932.5L1539.5 932.5L1538 931L1536.5 928.4L1535 925.9L1533.5 924.2L1532 923.8L1530.5 924.7L1529 926.6L1527.5 928.5L1526 929.9L1524.5 930.6L1523 930.7L1521.5 931.4L1520 933.2L1518.5 936.1L1517 939.4L1515.5 942.5L1514 945L1512.5 947L1511 948.4L1509.5 949.2L1508 949.8L1506.5 950.7L1505 952.5L1503.5 955.1L1502 958.3L1500.5 961.6L1499 964.5L1497.5 966.5L1496 967.4L1494.5 967L1493 966.2L1491.5 965.3L1490 964.7L1488.5 964.9L1487 966.3L1485.5 969.1L1484 973.1L1482.5 978.3L1481 984L1479.5 989.2L1478 992.4L1476.5 993.1L1475 992.3L1473.5 992L1472 993.3L1470.5 996.2L1469 999.9L1467.5 1004L1466 1008.3L1464.5 1013.2L1463 1018.3L1461.5 1022.9L1460 1026.2L1458.5 1027.9L1457 1028.7L1455.5 1029.3L1454 1029.8L1452.5 1029.9L1451 1029.4L1449.5 1028.5L1448 1027.5L1446.5 1026.8L1445 1026.7L1443.5 1027.6L1442 1030L1440.5 1033.5L1439 1038L1437.5 1042.7L1436 1047.2L1434.5 1051L1433 1054.3L1431.5 1056.8L1430 1058.9L1428.5 1060.3L1427 1060.6L1425.5 1059.6L1424 1058.3L1422.5 1057.9L1421 1059L1419.5 1061.1L1418 1063L1416.5 1063.5L1415 1062.6L1413.6 1061.1L1412.1 1059.7L1410.5 1058.9L1409.1 1059.1L1407.8 1060.3L1406.3 1062.6L1404.9 1065.7L1403.5 1068.7L1402 1070.3L1400.5 1070.1L1399 1068.3L1397.4 1065.7L1395.9 1062.7L1394.4 1059.6L1393 1057L1391.4 1054.8L1389.9 1053L1388.5 1051.5L1387 1050.7L1385.5 1050.7L1384.1 1051.7L1382.7 1052.9L1381.2 1053.8L1379.7 1054.1L1378.3 1053.9L1377 1053.6L1375.5 1052.4L1374.1 1050.3L1372.8 1047.9L1371.6 1045.9L1370.5 1044.8L1369 1045.6L1367.8 1047.5L1366.5 1048.3L1365.3 1048L1364.1 1047.9L1362.8 1047.5L1361.5 1045.6L1360.2 1041.9L1359 1036.4L1357.8 1029.3L1356.5 1020.9L1355.2 1011.2L1354 1000L1352.7 987.9L1351.5 975.7L1349.9 958.9L1348.4 941.1L1347 922.4L1345.6 901.8L1344.3 880.6L1343 862.5L1341.6 848.1L1340.3 836.6L1339 829.3L1337.9 827.8L1336.9 830.6L1335.5 834.3L1334.4 836.7L1333 840L1331.6 843.3L1330.3 846.3L1329 848.1L1327.7 847.7L1326.5 845.2L1325.3 841.9L1324 839.3L1322.5 838.3L1321 838.1L1319.5 837.9L1318 837L1316.7 834.4L1315.4 830.5L1314.2 826.5L1313 824.1L1311.8 823.7L1310.7 824.6L1309.4 825.8L1308 826.9L1306.7 827.9L1305.2 829.2L1303.6 831.4L1302 834.2L1300.5 837.1L1299 840.3L1297.5 844.2L1296 848.3L1294.5 852.3L1293 855.8L1291.5 859L1290 862.1L1288.5 865.2L1287 868.3L1285.5 871.7L1284 875.2L1282.4 878.7L1280.8 882.1L1279.3 885.1L1278 888.1L1276.6 892.3L1275.4 896.8L1274.3 901.7L1273 906.6L1271.6 912.5L1270.1 919.3L1268.6 925.4L1267 928.9L1265.7 928.9L1264.5 927.3L1263.2 925.6L1261.9 925L1260.5 925.9L1259.1 928.5L1257.6 932L1256 935.7L1254.5 938.8L1253 940.2L1251.5 939.6L1250 937.5L1248.5 934.8L1247 932.4L1245.5 931.1L1244 931.5L1242.5 933.4L1241 935.9L1239.5 938.2L1238 939.6L1236.5 939.4L1235 938L1233.5 935.7L1232 932.8L1230.5 930.3L1229 928.4L1227.6 927.4L1226.2 927.2L1224.7 928.2L1223 930.3L1221.7 933L1220.3 935.6L1218.9 937.1L1217.4 937.2L1215.9 936.6L1214.5 936.6L1213 937.7L1211.5 939.2L1210.1 939.5L1208.6 938.1L1207.1 935.6L1205.7 933.4L1204.3 932.7L1203 933.7L1201.3 936.1L1199.8 938.8L1198.4 941L1197 942L1195.5 941.9L1194 940.2L1192.5 937.1L1191 933.3L1189.5 930L1188 928.4L1186.5 929.5L1185 932.6L1183.5 936.6L1182 940.3L1180.5 942.8L1179 944.2L1177.5 945L1176 945.6L1174.5 945.7L1173 945.1L1171.5 944.1L1170 943.4L1168.5 943.7L1167 944.8L1165.5 946L1164 946.7L1162.5 947L1161 947.7L1159.5 949.4L1158 952L1156.5 954.6L1155 956.5L1153.5 957.9L1152 959.3L1150.5 961.2L1149 963.6L1147.5 966L1146 967.5L1144.5 968L1143 968.3L1141.5 968.8L1140 970.1L1138.5 971.9L1137 973.9L1135.5 976L1134 978.5L1132.5 981.2L1131 984L1129.5 986.5L1128 988.3L1126.5 989.5L1125 990.1L1123.5 990.9L1122 992.4L1120.5 994.7L1119 998.3L1117.5 1002.5L1116 1006.5L1114.5 1009.4L1113 1010.8L1111.5 1010.9L1110 1010.4L1108.5 1010.1L1107 1010.1L1105.5 1010.3L1104 1011.1L1102.5 1012.6L1101 1015.2L1099.5 1018.7L1098 1022L1096.5 1024.6L1095.1 1026.3L1093.7 1027.9L1092.2 1029.9L1090.5 1032.6L1089.2 1035.1L1087.8 1037.5L1086.4 1039.8L1084.9 1042L1083.4 1043.8L1082 1045.1L1080.5 1045.7L1079 1045.5L1077.6 1044.7L1076.1 1043.2L1074.6 1041.7L1073.2 1040.8L1071.8 1041L1070.5 1042L1068.8 1043.8L1067.3 1046L1065.9 1048.4L1064.5 1050.8L1063 1052.3L1061.5 1052.9L1060 1053.2L1058.5 1053.5L1057 1054L1055.5 1054.1L1054 1053.3L1052.5 1052L1051 1050.6L1049.5 1049.3L1048 1048.5L1046.5 1048L1045 1047.8L1043.5 1048L1042 1048.3L1040.5 1048.3L1039 1047.7L1037.5 1046.9L1036 1045.8L1034.5 1044.5L1033 1043.2L1031.5 1041.7L1030 1040.2L1028.4 1038.8L1026.9 1037.8L1025.5 1037.1L1024.1 1037.1L1022.8 1037.7L1021.4 1038.4L1020.2 1039L1019 1038.8L1017.6 1037.8L1016.4 1036.1L1015.2 1033.4L1014 1029.6L1012.8 1024.4L1011.5 1017.3L1010.2 1007.8L1009 996.1L1007.7 982.2L1006.5 967L1005.2 951.9L1004 938L1002.4 920.1L1000.9 902L999.5 884.5L998.1 867.1L996.8 851.2L995.5 839.8L994.3 833.7L993.2 831L992 830.8L990.7 835L989.4 842.2L988 847.2L986.8 847.6L985.6 846.5L984.3 844.7L983 843L981.4 841.1L979.7 838.8L978.1 836.5L977 835Z" fill="#8eeeea" fill-opacity="0.5"/>
<path d="M977 810.6L977.9 811.6L979.1 813L980.5 815.2L981.6 818.1L982.9 822L984.2 825.7L985.5 828L986.8 827.9L988.1 826.1L989.4 824.4L990.5 824.2L991.8 825.4L992.9 828.1L994 833.4L995.3 841.5L996.6 851.8L998 864.6L999.2 876.8L1000.4 891.6L1001.7 907.6L1003 923.1L1004.2 938.1L1005.5 952.9L1006.8 966.9L1008 979.4L1009.2 990.1L1010.5 999.4L1011.8 1007.2L1013 1013.8L1014.2 1019.2L1015.4 1023.2L1016.7 1025.6L1018 1026.1L1019.4 1024.3L1020.9 1020.6L1022.4 1017.1L1024 1015.5L1025.3 1016.2L1026.5 1018.5L1027.8 1021.8L1029.1 1025.3L1030.5 1028.1L1031.9 1029.7L1033.3 1030.5L1034.8 1030.9L1036.3 1031.2L1038 1031.5L1039.3 1031.2L1040.7 1030.6L1042.2 1029.8L1043.7 1029.2L1045.2 1028.8L1046.6 1028.6L1048 1029L1049.5 1030.4L1051 1032.6L1052.5 1034.9L1053.9 1036.9L1055.2 1038L1056.5 1038L1057.9 1036.6L1059.2 1034.2L1060.4 1031.4L1061.7 1028.8L1063 1026.9L1064.4 1025.8L1065.9 1024.8L1067.5 1023.6L1069 1021.9L1070.5 1020L1072 1018.8L1073.4 1018.9L1074.8 1019.8L1076.3 1020.6L1078 1020.2L1079.3 1018.8L1080.7 1016.9L1082.2 1015L1083.8 1013.4L1085.3 1012.1L1086.7 1010.7L1088 1008.7L1089.7 1004.7L1091.2 999.9L1092.6 995.1L1094 990.7L1095.5 987L1097 984L1098.5 981.1L1100 978.1L1101.5 975L1103 971.6L1104.5 967.9L1106 964.2L1107.5 960.9L1109 958.5L1110.5 957.6L1112 958.2L1113.5 959.8L1115 961.2L1116.5 961.4L1118 959.8L1119.5 956L1121 951L1122.5 946.2L1124 942.6L1125.5 940.6L1127 940.1L1128.5 940.2L1130 940.3L1131.5 940.4L1133 940L1134.5 938.3L1136 935.3L1137.5 931.6L1139 927.9L1140.5 925.2L1142 923.7L1143.4 922.7L1144.8 921.6L1146.3 920.5L1148 919.8L1149.3 919.9L1150.7 921L1152.2 922.3L1153.8 923.1L1155.3 923.3L1156.7 923.3L1158 923.2L1159.6 923.2L1161.1 922.9L1162.4 922.1L1163.9 921L1165.5 919.9L1166.8 919.5L1168.2 919L1169.7 917.9L1171.3 915.9L1172.8 913.1L1174.2 910L1175.5 907.5L1177.2 905.9L1178.7 905.4L1180.1 905.1L1181.5 904.7L1183 903.9L1184.5 902.8L1186 901.5L1187.5 900L1189 898.2L1190.5 896.6L1192 895.2L1193.5 893.8L1195 892.7L1196.5 891.8L1198 890.9L1199.5 889.8L1201 888.8L1202.5 888.1L1204 887.7L1205.5 887.4L1207 887.1L1208.5 887.1L1210 887.7L1211.5 888.6L1213 889.3L1214.5 889.4L1216 889.1L1217.5 888.8L1219 888.7L1220.5 888.8L1222 889.1L1223.5 889.7L1225 890.5L1226.5 891.5L1228 892.2L1229.5 892.2L1230.9 891.4L1232.3 890.2L1233.8 888.9L1235.5 888L1236.8 887.7L1238.2 887.1L1239.7 885.5L1241.3 882.5L1242.8 878.6L1244.2 874.6L1245.5 871.6L1247.2 870.9L1248.7 873.2L1250.1 877.3L1251.5 881.2L1253 883.5L1254.5 884.6L1256 885.9L1257.6 888.3L1259.1 891.2L1260.5 893.9L1261.9 896L1263.2 897.8L1264.5 899L1265.7 899.6L1267 899.2L1268.6 896.5L1270.1 891.7L1271.6 885.8L1273 879.9L1274.3 874.1L1275.4 868.2L1276.6 862.9L1278 858.4L1279.3 855.9L1280.8 854.3L1282.4 853.1L1284 851.8L1285.5 849.4L1287 845.7L1288.5 841.1L1290 836.3L1291.5 831.1L1293 825.7L1294.5 819.8L1296 813.6L1297.5 807.8L1299 803.2L1300.5 800.4L1302 799L1303.5 798.4L1305 797.9L1306.5 797.4L1308 797.4L1309.5 798.3L1311.1 799.7L1312.7 800.6L1314.2 800.5L1315.5 799.5L1316.9 798L1318.1 796.5L1319.2 795.7L1320.5 796.3L1321.7 798L1323 800.7L1324.4 803.9L1325.7 806.9L1327 808.9L1328.6 809.8L1330.1 809.8L1331.6 809.4L1333 808.6L1334.3 806.6L1335.6 804L1336.8 802.9L1338 805L1339.4 811.9L1340.7 822.2L1342 835.3L1343.3 853L1344.6 874.5L1346 895.8L1347.4 915.8L1348.9 935.4L1350.5 953.2L1351.7 965.4L1353 976.4L1354.2 986L1355.5 994.2L1356.8 1000.9L1358 1006.2L1359.2 1009.9L1360.5 1011.9L1361.7 1012.2L1362.9 1011L1364.1 1009.3L1365.5 1008L1366.7 1007.2L1368 1006.6L1369.4 1006L1370.7 1005.1L1372 1004.3L1373.5 1004.3L1374.9 1005.5L1376.4 1007.3L1378 1009L1379.4 1010.4L1381 1012.5L1382.6 1015.6L1384.1 1019.4L1385.5 1023.2L1386.9 1026.8L1388.1 1029.5L1389.2 1030.8L1390.5 1030.2L1391.7 1027.7L1393 1024L1394.4 1020.1L1395.7 1017L1397 1015.5L1398.5 1015.8L1399.9 1017.4L1401.4 1019.2L1403 1019.5L1404.4 1017.9L1405.9 1014.6L1407.4 1010.4L1409 1006.1L1410.5 1002.9L1412 1001.2L1413.5 1001L1415 1001.6L1416.5 1001.9L1418 1001.5L1419.5 1000.4L1421 998.9L1422.5 996.8L1424 994.1L1425.5 991.4L1427 989.5L1428.6 989.2L1430.2 990.2L1431.7 991.6L1433 992.3L1434.4 991.1L1435.5 988.5L1436.6 984.7L1438 980L1439.3 975.5L1440.8 971.6L1442.4 969.2L1444 968.2L1445.5 968.1L1447 967.9L1448.5 967L1450 965.3L1451.5 962.9L1453 960.3L1454.5 958.1L1456 956.5L1457.5 955.2L1459 954L1460.5 952.5L1462 950.9L1463.5 949.4L1465 947.6L1466.5 945.3L1468 942.3L1469.5 938.7L1471 935.1L1472.5 932.3L1474 930.8L1475.5 930.1L1477 929.5L1478.4 928.5L1479.8 927.1L1481.3 925.6L1483 923.8L1484.3 922L1485.7 919.5L1487.1 916.6L1488.6 913.6L1490.1 910.9L1491.5 909L1493 908.3L1494.5 908.8L1495.9 910.1L1497.4 911.5L1498.9 912.9L1500.3 914.4L1501.7 916L1503 917.2L1504.7 916.7L1506.2 914.3L1507.6 910.1L1509 904.9L1510.5 900L1512 896.4L1513.5 894.4L1515 893.9L1516.5 894.4L1518 895.3L1519.5 896L1520.9 895.9L1522.3 894.6L1523.8 892.4L1525.5 890.4L1526.8 889.6L1528.2 889.8L1529.7 890.9L1531.3 892.5L1532.8 894.5L1534.2 897.1L1535.5 899.4L1537.2 900.2L1538.7 898.7L1540.1 895.7L1541.5 892.7L1543 891.1L1544.5 890.6L1546 890.7L1547.5 891.1L1549 891.8L1550.5 892.9L1552 894.2L1553.6 895.4L1555.1 896.1L1556.6 896.5L1558 896.7L1559.7 896.5L1561.5 895.8L1563 894.6L1564 893.6L1564 932.2L1563 933.4L1561.5 934.1L1559.7 934.6L1558 934.8L1556.6 934.2L1555.1 932.6L1553.6 929.9L1552 926.6L1550.5 923.8L1549 921.9L1547.5 921.2L1546 921.2L1544.5 921.4L1543 921.3L1541.5 921.2L1540.1 921.4L1538.7 921.9L1537.2 922.5L1535.5 922.8L1534.2 922.8L1532.8 923.1L1531.3 924.1L1529.7 925.7L1528.2 927.3L1526.8 928.2L1525.5 928.3L1523.8 928.8L1522.3 929.9L1520.9 931.3L1519.5 932.1L1518 931.8L1516.5 930.7L1515 929.7L1513.5 929.6L1512 930.2L1510.5 931.2L1509 932.2L1507.6 932.8L1506.2 933.1L1504.7 933.6L1503 934.7L1501.7 935.9L1500.3 937L1498.9 937.2L1497.4 936.8L1495.9 936.3L1494.5 936.4L1493 937.3L1491.5 939.1L1490.1 941.6L1488.6 944.1L1487.1 946.1L1485.7 947.4L1484.3 948.5L1483 949.4L1481.3 950.9L1479.8 952.7L1478.4 954.9L1477 956.9L1475.5 958.2L1474 958.8L1472.5 959.8L1471 962.1L1469.5 965.7L1468 970.1L1466.5 974.3L1465 977.6L1463.5 979.8L1462 981.1L1460.5 981.9L1459 982.4L1457.5 982.7L1456 982.9L1454.5 983.3L1453 984.4L1451.5 986.5L1450 989.6L1448.5 993.3L1447 997.3L1445.5 1001.1L1444 1004.3L1442.4 1006.6L1440.8 1007.9L1439.3 1008.3L1438 1008.3L1436.6 1008.8L1435.5 1009.7L1434.4 1010.9L1433 1012.5L1431.7 1014L1430.2 1016.3L1428.6 1019.2L1427 1022.3L1425.5 1025L1424 1027.1L1422.5 1029L1421 1031L1419.5 1033L1418 1034.3L1416.5 1034.2L1415 1032.6L1413.5 1030.7L1412 1029.8L1410.5 1030.4L1409 1032.3L1407.4 1034.7L1405.9 1037.3L1404.4 1039.9L1403 1042.2L1401.4 1043.5L1399.9 1043.7L1398.5 1043.4L1397 1043.5L1395.7 1044.2L1394.4 1045.1L1393 1046L1391.7 1046.8L1390.5 1046.9L1389.2 1045.6L1388.1 1043.2L1386.9 1040.4L1385.5 1038.1L1384.1 1036.9L1382.6 1035.9L1381 1035L1379.4 1033.9L1378 1032.7L1376.4 1031.1L1374.9 1029.6L1373.5 1028.6L1372 1028.1L1370.7 1028L1369.4 1028.1L1368 1028.5L1366.7 1029.3L1365.5 1030.1L1364.1 1030.6L1362.9 1030.5L1361.7 1029.5L1360.5 1027.3L1359.2 1024.2L1358 1020.3L1356.8 1015.5L1355.5 1009.2L1354.2 1001.4L1353 992L1351.7 981.2L1350.5 969.3L1348.9 951.6L1347.4 932.4L1346 912.9L1344.6 892.2L1343.3 871.5L1342 854.6L1340.7 842.7L1339.4 834L1338 828.7L1336.8 827.7L1335.6 829.2L1334.3 831.7L1333 833.5L1331.6 834.1L1330.1 834.5L1328.6 834.5L1327 834.5L1325.7 834.3L1324.4 833.3L1323 831.2L1321.7 828.2L1320.5 825.3L1319.2 824.1L1318.1 825.1L1316.9 827.4L1315.5 829.1L1314.2 829.6L1312.7 829.4L1311.1 829.3L1309.5 829.9L1308 831.5L1306.5 833.8L1305 836.2L1303.5 838.3L1302 839.5L1300.5 839.8L1299 839.8L1297.5 840.3L1296 841.8L1294.5 844.5L1293 848.4L1291.5 853.4L1290 858.7L1288.5 863.8L1287 868.2L1285.5 871.9L1284 874.6L1282.4 876.2L1280.8 877.4L1279.3 879.2L1278 882.4L1276.6 887.8L1275.4 893.7L1274.3 899.3L1273 904.4L1271.6 909.6L1270.1 914.9L1268.6 919.5L1267 922.4L1265.7 923.1L1264.5 922.3L1263.2 919.9L1261.9 916.4L1260.5 912.8L1259.1 910L1257.6 908.1L1256 907L1254.5 906.2L1253 905.6L1251.5 904.3L1250.1 902.1L1248.7 899.6L1247.2 897.7L1245.5 897.7L1244.2 899.9L1242.8 903.6L1241.3 908L1239.7 912.2L1238.2 915.3L1236.8 916.7L1235.5 916.3L1233.8 915.5L1232.3 915.1L1230.9 915.9L1229.5 917.4L1228 918.4L1226.5 918.2L1225 916.8L1223.5 915.2L1222 914.3L1220.5 914.2L1219 914L1217.5 913.1L1216 911.6L1214.5 910.2L1213 909.5L1211.5 909.7L1210 910.5L1208.5 911.9L1207 913.6L1205.5 914.8L1204 915L1202.5 914.7L1201 914.6L1199.5 915L1198 915.6L1196.5 915.8L1195 915.6L1193.5 915.5L1192 915.6L1190.5 916.3L1189 917.8L1187.5 920.3L1186 923.4L1184.5 926.5L1183 928.9L1181.5 930.2L1180.1 930.6L1178.7 930.8L1177.2 931.4L1175.5 932.8L1174.2 934.1L1172.8 935.4L1171.3 936.6L1169.7 938.3L1168.2 940.4L1166.8 942.8L1165.5 944.7L1163.9 946.1L1162.4 946.7L1161.1 946.7L1159.6 946.8L1158 947.3L1156.7 948.2L1155.3 948.9L1153.8 948.9L1152.2 948.5L1150.7 947.9L1149.3 947.9L1148 948.4L1146.3 949L1144.8 949.1L1143.4 948.6L1142 948.4L1140.5 949.2L1139 951.9L1137.5 956.1L1136 960.5L1134.5 963.5L1133 964.1L1131.5 962.1L1130 959.2L1128.5 957.1L1127 957L1125.5 959.8L1124 965.4L1122.5 972.3L1121 979L1119.5 984.4L1118 987.7L1116.5 988.6L1115 987.8L1113.5 985.8L1112 983.4L1110.5 981.5L1109 980.5L1107.5 980.7L1106 982.2L1104.5 984.9L1103 988.2L1101.5 991.4L1100 994.1L1098.5 996.5L1097 999.4L1095.5 1003.7L1094 1009.6L1092.6 1016.4L1091.2 1022.8L1089.7 1028L1088 1031.7L1086.7 1033.4L1085.3 1034.3L1083.8 1034.6L1082.2 1034.6L1080.7 1034.9L1079.3 1035.6L1078 1036.6L1076.3 1037.5L1074.8 1037.6L1073.4 1037.3L1072 1037.4L1070.5 1038.4L1069 1040.2L1067.5 1041.9L1065.9 1043.1L1064.4 1043.7L1063 1044L1061.7 1044.8L1060.4 1046.6L1059.2 1048.8L1057.9 1051.4L1056.5 1053.7L1055.2 1054.8L1053.9 1054.7L1052.5 1053.1L1051 1050.6L1049.5 1048.2L1048 1046.9L1046.6 1046.9L1045.2 1047.3L1043.7 1047.5L1042.2 1047.5L1040.7 1047.2L1039.3 1047L1038 1046.8L1036.3 1046.8L1034.8 1046.9L1033.3 1046.8L1031.9 1045.9L1030.5 1044.3L1029.1 1041.6L1027.8 1038.3L1026.5 1035.2L1025.3 1033.1L1024 1032.7L1022.4 1034.7L1020.9 1038L1019.4 1040.8L1018 1041.5L1016.7 1040.2L1015.4 1037.7L1014.2 1033.7L1013 1027.9L1011.8 1020.6L1010.5 1012L1009.2 1002.4L1008 991.7L1006.8 979.1L1005.5 964.6L1004.2 949.3L1003 934.3L1001.7 919.1L1000.4 903.4L999.2 888.6L998 876L996.6 862.6L995.3 852.2L994 844.7L992.9 840.9L991.8 840.1L990.5 840.7L989.4 842.6L988.1 846L986.8 849.3L985.5 850.8L984.2 849.3L982.9 845.6L981.6 841L980.5 836.7L979.1 833.1L977.9 831L977 830.8Z" fill="#f3c58e" fill-opacity="0.5"/>
<path d="M977 826.7L978.1 828.6L979.7 831.1L981.4 833.6L983 835.4L984.3 836.8L985.6 838.2L986.8 838.7L988 837.8L989.4 832.4L990.7 824.8L992 820.7L993.2 821.6L994.3 825.7L995.5 833.4L996.8 846.2L998.1 862.9L999.5 880.4L1000.9 897.8L1002.4 915.7L1004 933.7L1005.2 947.7L1006.5 962.3L1007.7 976.5L1009 989.1L1010.2 999.7L1011.5 1008.8L1012.8 1016.1L1014 1021.9L1015.2 1026.1L1016.4 1028.9L1017.6 1030.6L1019 1031.6L1020.2 1031.7L1021.4 1031.1L1022.8 1030.3L1024.1 1029.5L1025.5 1029.1L1026.9 1029.5L1028.4 1030.3L1030 1031.5L1031.5 1032.7L1033 1033.9L1034.5 1035L1036 1036.4L1037.5 1037.9L1039 1039.2L1040.5 1040.1L1042 1040.4L1043.5 1040.2L1045 1040.1L1046.5 1040.2L1048 1040.7L1049.5 1041.9L1051 1043.5L1052.5 1045.1L1054 1046.3L1055.5 1046.8L1057 1046.3L1058.5 1045.1L1060 1043.5L1061.5 1041.8L1063 1040.2L1064.5 1038.6L1065.9 1036.7L1067.3 1035L1068.8 1033.6L1070.5 1032.6L1071.8 1032.2L1073.2 1032.1L1074.6 1032.2L1076.1 1032.4L1077.6 1032.5L1079 1032.3L1080.5 1031.9L1082 1031.2L1083.4 1030.5L1084.9 1029.8L1086.4 1028.9L1087.8 1027.6L1089.2 1025.8L1090.5 1023.7L1092.2 1020.9L1093.7 1018.3L1095.1 1015.9L1096.5 1013.5L1098 1011.2L1099.5 1008.7L1101 1006.3L1102.5 1004.2L1104 1002.6L1105.5 1001.6L1107 1001.2L1108.5 1001.4L1110 1001.8L1111.5 1001.9L1113 1001L1114.5 998.8L1116 995.4L1117.5 991.6L1119 988L1120.5 985.1L1122 983.1L1123.5 981.8L1125 981L1126.5 980.3L1128 979.4L1129.5 977.9L1131 975.9L1132.5 973.7L1134 971.4L1135.5 969.3L1137 967.2L1138.5 965L1140 962.9L1141.5 960.9L1143 959.1L1144.5 957.5L1146 955.8L1147.5 954L1149 951.9L1150.5 949.9L1152 947.9L1153.5 946.1L1155 944.5L1156.5 943.1L1158 941.6L1159.5 940L1161 938.5L1162.5 937.1L1164 935.9L1165.5 934.7L1167 933.3L1168.5 931.9L1170 930.7L1171.5 929.8L1173 929.1L1174.5 928.7L1176 928.5L1177.5 928.3L1179 927.9L1180.5 927L1182 925.4L1183.5 923L1185 920.6L1186.5 918.7L1188 918L1189.5 918.9L1191 920.9L1192.5 923.3L1194 925.3L1195.5 926.5L1197 926.5L1198.4 925.6L1199.8 924.2L1201.3 922.6L1203 921.6L1204.3 921.5L1205.7 921.8L1207.1 922.2L1208.6 922.6L1210.1 922.9L1211.5 923L1213 923L1214.5 923L1215.9 923.1L1217.4 923.6L1218.9 924.2L1220.3 924.7L1221.7 924.7L1223 924.1L1224.7 922.6L1226.2 920.8L1227.6 919.2L1229 918.5L1230.5 918.8L1232 920.3L1233.5 922.4L1235 924.6L1236.5 926.1L1238 926.6L1239.5 925.9L1241 924.3L1242.5 922.3L1244 920.4L1245.5 919.3L1247 919.2L1248.5 919.8L1250 920.8L1251.5 921.5L1253 921.5L1254.5 920.3L1256 918.2L1257.6 915.8L1259.1 913.7L1260.5 912.6L1261.9 913.1L1263.2 914.8L1264.5 916.8L1265.7 918.1L1267 917.7L1268.6 914.2L1270.1 908.4L1271.6 901.6L1273 895.2L1274.3 889.4L1275.4 883.7L1276.6 878.5L1278 874.2L1279.3 871.8L1280.8 869.9L1282.4 868L1284 865.5L1285.5 862.2L1287 858.1L1288.5 853.8L1290 849.3L1291.5 844.8L1293 840.5L1294.5 836.3L1296 832.1L1297.5 828.1L1299 824.3L1300.5 820.9L1302 817.6L1303.6 814.2L1305.2 811L1306.7 808.3L1308 806.3L1309.4 805.2L1310.7 805.4L1311.8 806.9L1313 809.3L1314.2 812.9L1315.4 817.4L1316.7 821.6L1318 824.5L1319.5 825.5L1321 825.4L1322.5 825.2L1324 826.1L1325.3 829.3L1326.5 833.8L1327.7 837.7L1329 839.3L1330.3 838.1L1331.6 835.3L1333 832L1334.4 828.9L1335.5 826.7L1336.9 823.3L1337.9 820.6L1339 822L1340.3 829L1341.6 839.9L1343 853.8L1344.3 871.9L1345.6 893.4L1347 914.5L1348.4 933.9L1349.9 952.4L1351.5 969.6L1352.7 981.9L1354 993.7L1355.2 1004.6L1356.5 1014L1357.8 1022.2L1359 1029.3L1360.2 1035L1361.5 1039.3L1362.8 1041.5L1364.1 1041.9L1365.3 1041.2L1366.5 1040.3L1367.8 1038.3L1369 1035.7L1370.5 1034.8L1371.6 1035.9L1372.8 1037.8L1374.1 1040L1375.5 1042L1377 1043.4L1378.3 1044.2L1379.7 1044.9L1381.2 1045.2L1382.7 1045.1L1384.1 1044.6L1385.5 1044.2L1387 1044.2L1388.5 1044.4L1389.9 1044.8L1391.4 1045.3L1393 1046.1L1394.4 1047.4L1395.9 1049.3L1397.4 1051.4L1399 1053.2L1400.5 1054.3L1402 1054.5L1403.5 1053.2L1404.9 1051L1406.3 1048.5L1407.8 1046.4L1409.1 1045L1410.5 1044.7L1412.1 1045.3L1413.6 1046.7L1415 1048.3L1416.5 1049.6L1418 1050.1L1419.5 1049.6L1421 1048.4L1422.5 1046.9L1424 1045.1L1425.5 1043.6L1427 1042.5L1428.5 1041.8L1430 1041L1431.5 1039.9L1433 1038.1L1434.5 1035.5L1436 1032.1L1437.5 1028.5L1439 1025L1440.5 1022.1L1442 1020L1443.5 1018.4L1445 1017.2L1446.5 1016.1L1448 1015.2L1449.5 1014.7L1451 1014.6L1452.5 1014.5L1454 1014L1455.5 1012.9L1457 1011.2L1458.5 1008.9L1460 1006L1461.5 1002.8L1463 999.5L1464.5 996.3L1466 993.1L1467.5 990L1469 987.1L1470.5 984.5L1472 982.4L1473.5 980.8L1475 979.3L1476.5 977.6L1478 975.5L1479.5 972.7L1481 969.4L1482.5 965.9L1484 962.4L1485.5 959.3L1487 956.6L1488.5 954.3L1490 952.5L1491.5 951.3L1493 950.4L1494.5 950L1496 949.9L1497.5 949.7L1499 949L1500.5 947.6L1502 945.4L1503.5 942.7L1505 939.9L1506.5 937.3L1508 935.1L1509.5 933.6L1511 932.5L1512.5 931.5L1514 930.6L1515.5 929.5L1517 927.8L1518.5 925.8L1520 923.5L1521.5 921.3L1523 919.5L1524.5 917.6L1526 915.7L1527.5 913.9L1529 912.7L1530.5 912.5L1532 913.6L1533.5 915.9L1535 918.7L1536.5 921L1538 922.1L1539.5 921.8L1541 920.7L1542.5 919.3L1544 917.7L1545.5 916.3L1547 914.7L1548.6 912.8L1550.2 910.6L1551.7 908.3L1553 906.4L1554.4 904.7L1555.6 903.7L1556.7 903.3L1558 903.3L1559.6 903.9L1561.3 905.1L1562.9 906.5L1564 907.5" fill="none" stroke="#5ab2b6" stroke-width="3.2" stroke-linejoin="round"/>
<path d="M977 821.9L977.9 823.1L979.1 824.9L980.5 827.4L981.6 830.3L982.9 833.9L984.2 837L985.5 838.6L986.8 837.8L988.1 835.6L989.4 833.3L990.5 832.3L991.8 832.3L992.9 833.6L994 838L995.3 846L996.6 856.8L998 870.4L999.2 883L1000.4 897.7L1001.7 913.4L1003 928.7L1004.2 943.5L1005.5 958.2L1006.8 972L1008 984.2L1009.2 994.6L1010.5 1003.9L1011.8 1012L1013 1018.9L1014.2 1024.5L1015.4 1028.5L1016.7 1031L1018 1032L1019.4 1031L1020.9 1028.2L1022.4 1025.3L1024 1023.9L1025.3 1024.9L1026.5 1027.3L1027.8 1030.6L1029.1 1033.8L1030.5 1036.2L1031.9 1037.5L1033.3 1038.3L1034.8 1038.7L1036.3 1038.8L1038 1038.7L1039.3 1038.4L1040.7 1038.1L1042.2 1037.9L1043.7 1037.8L1045.2 1037.9L1046.6 1037.9L1048 1038.2L1049.5 1039.1L1051 1040.8L1052.5 1042.6L1053.9 1044.1L1055.2 1044.7L1056.5 1044.5L1057.9 1043L1059.2 1040.5L1060.4 1037.6L1061.7 1035L1063 1033.2L1064.4 1032.3L1065.9 1031.6L1067.5 1031.1L1069 1030.5L1070.5 1029.8L1072 1029.5L1073.4 1029.7L1074.8 1030.2L1076.3 1030.6L1078 1030.1L1079.3 1029L1080.7 1027.5L1082.2 1025.9L1083.8 1024.3L1085.3 1022.8L1086.7 1021.1L1088 1019.1L1089.7 1015.1L1091.2 1010.1L1092.6 1004.7L1094 999.6L1095.5 995.4L1097 992.4L1098.5 990.1L1100 988L1101.5 985.7L1103 982.9L1104.5 979.7L1106 976.6L1107.5 973.7L1109 971.3L1110.5 969.7L1112 969.4L1113.5 970.1L1115 971L1116.5 971.3L1118 970.1L1119.5 966.9L1121 962.4L1122.5 957.5L1124 953.2L1125.5 950.3L1127 949.4L1128.5 950.2L1130 951.7L1131.5 952.8L1133 952.5L1134.5 950.2L1136 946.4L1137.5 942L1139 938.1L1140.5 935.4L1142 934.1L1143.4 933.6L1144.8 933.4L1146.3 933.4L1148 933.2L1149.3 932.9L1150.7 932.8L1152.2 932.9L1153.8 933L1155.3 933.1L1156.7 933.1L1158 933L1159.6 932.8L1161.1 932.8L1162.4 932.7L1163.9 932.3L1165.5 931.3L1166.8 929.9L1168.2 927.8L1169.7 925.3L1171.3 922.9L1172.8 920.6L1174.2 918.8L1175.5 917.4L1177.2 916.4L1178.7 916.3L1180.1 916.6L1181.5 917.1L1183 917.2L1184.5 916.3L1186 914.7L1187.5 912.5L1189 910.3L1190.5 908.6L1192 907.6L1193.5 907L1195 906.5L1196.5 906.2L1198 905.7L1199.5 905.1L1201 904.6L1202.5 904L1204 903.2L1205.5 902L1207 900.4L1208.5 898.6L1210 897L1211.5 896L1213 895.8L1214.5 896.5L1216 897.9L1217.5 899.7L1219 901.4L1220.5 902.6L1222 903.5L1223.5 904.5L1225 905.3L1226.5 906.1L1228 906.4L1229.5 906.3L1230.9 906L1232.3 905.5L1233.8 904.8L1235.5 903.6L1236.8 901.9L1238.2 899.3L1239.7 895.8L1241.3 892.1L1242.8 888.5L1244.2 885.8L1245.5 884.4L1247.2 884.7L1248.7 886.7L1250.1 889.6L1251.5 892.5L1253 894.7L1254.5 896.4L1256 898.2L1257.6 900.2L1259.1 902.3L1260.5 904.4L1261.9 906.6L1263.2 908.8L1264.5 910.2L1265.7 910.5L1267 909.6L1268.6 906.2L1270.1 901.1L1271.6 895.3L1273 889.8L1274.3 884.6L1275.4 879.2L1276.6 874.2L1278 869.9L1279.3 867.4L1280.8 865.5L1282.4 863.7L1284 861.2L1285.5 857.9L1287 853.5L1288.5 848.6L1290 843.6L1291.5 839L1293 834.9L1294.5 831.4L1296 828.3L1297.5 825.4L1299 822.9L1300.5 820.7L1302 818.9L1303.5 817.2L1305 815.7L1306.5 814.2L1308 813L1309.5 812.3L1311.1 812.3L1312.7 812.8L1314.2 813.5L1315.5 813.9L1316.9 813.4L1318.1 812.2L1319.2 811.1L1320.5 810.9L1321.7 811.7L1323 813.4L1324.4 815.6L1325.7 817.8L1327 819.5L1328.6 820.6L1330.1 821L1331.6 820.8L1333 820.1L1334.3 818.3L1335.6 815.7L1336.8 814.2L1338 815.5L1339.4 822L1340.7 832.1L1342 845.5L1343.3 863.4L1344.6 884.7L1346 905.4L1347.4 924.5L1348.9 943.2L1350.5 960.3L1351.7 972.1L1353 983L1354.2 992.7L1355.5 1000.9L1356.8 1007.5L1358 1012.8L1359.2 1016.7L1360.5 1019.4L1361.7 1020.8L1362.9 1020.9L1364.1 1020.3L1365.5 1019.5L1366.7 1018.4L1368 1017L1369.4 1015.7L1370.7 1014.8L1372 1014.5L1373.5 1015.4L1374.9 1017.4L1376.4 1019.9L1378 1022.5L1379.4 1024.3L1381 1026.1L1382.6 1027.7L1384.1 1029.3L1385.5 1030.9L1386.9 1032.9L1388.1 1034.9L1389.2 1036.1L1390.5 1036.2L1391.7 1035L1393 1033.2L1394.4 1031.2L1395.7 1029.7L1397 1028.8L1398.5 1028.9L1399.9 1029.4L1401.4 1029.5L1403 1028.6L1404.4 1026.8L1405.9 1024.6L1407.4 1022.5L1409 1020.8L1410.5 1019.6L1412 1018.7L1413.5 1018L1415 1017.3L1416.5 1016.5L1418 1015.5L1419.5 1014.4L1421 1013.4L1422.5 1012.3L1424 1011L1425.5 1009.4L1427 1007.6L1428.6 1005.7L1430.2 1003.8L1431.7 1001.9L1433 1000.1L1434.4 997.6L1435.5 994.9L1436.6 992.1L1438 989.4L1439.3 987.4L1440.8 985.8L1442.4 984.4L1444 983L1445.5 981.4L1447 979.3L1448.5 976.9L1450 974.3L1451.5 971.6L1453 969.1L1454.5 967.3L1456 966.2L1457.5 965.8L1459 965.7L1460.5 965.3L1462 964.5L1463.5 963.2L1465 961.5L1466.5 959.2L1468 956.4L1469.5 953L1471 949.4L1472.5 946L1474 943.2L1475.5 941L1477 939.5L1478.4 938.4L1479.8 937.5L1481.3 936.5L1483 935.2L1484.3 933.8L1485.7 932.2L1487.1 930.6L1488.6 929.1L1490.1 927.7L1491.5 926.4L1493 925.3L1494.5 924.7L1495.9 924.6L1497.4 924.9L1498.9 925.4L1500.3 925.5L1501.7 925.3L1503 924.6L1504.7 923.5L1506.2 922.1L1507.6 920.7L1509 919.2L1510.5 917.7L1512 916.5L1513.5 915.6L1515 914.8L1516.5 914.4L1518 914.2L1519.5 913.8L1520.9 913.2L1522.3 912.3L1523.8 911.1L1525.5 910L1526.8 909.2L1528.2 908.5L1529.7 908L1531.3 907.9L1532.8 908.1L1534.2 908.5L1535.5 908.7L1537.2 908.6L1538.7 908.1L1540.1 907.4L1541.5 906.7L1543 906L1544.5 905.3L1546 904.7L1547.5 904.4L1549 904.5L1550.5 905.2L1552 906.7L1553.6 908.9L1555.1 911.2L1556.6 912.9L1558 913.8L1559.7 913.9L1561.5 913.3L1563 912.4L1564 911.8" fill="none" stroke="#e08a12" stroke-width="3.2" stroke-linejoin="round"/>
<path d="M976.6 725.2V1108.9M967.9 725.2H985.1M967.9 1098.4H1767M1372 1087.9V1108.9M1767 1087.9V1108.9" stroke="#2e2e2e" stroke-width="1.5" stroke-linecap="round" fill="none"/>
<path d="M1204 1080.1H1258" stroke="#000" stroke-width="3"/>
<path d="M1371.5 1080.1H1504" stroke="#000" stroke-width="3"/>
<text font-size="35" transform="translate(960.8 735.7) scale(1 1.04)" text-anchor="end" fill="#111">2.4</text>
<text font-size="35" transform="translate(961.6 1108.4) scale(1 1.04)" text-anchor="end" fill="#111">1.5</text>
<rect x="347" y="1240" width="159" height="363" fill="#e6e6e6"/>
<path d="M100 1294.3L101.3 1297.2L103.3 1301.3L105.4 1306.4L107.5 1312.2L109.4 1318.5L111.2 1325.7L113.1 1333.7L115 1342.7L116.9 1352.7L118.8 1363.8L120.6 1375.7L122.5 1388.1L124.4 1401.5L126.2 1415.8L128.1 1430.1L130 1443.4L131.9 1455.8L133.8 1467.8L135.6 1478.7L137.5 1487.9L139.4 1495L141.2 1500.4L143.1 1504.8L145 1508.7L146.8 1512.1L148.4 1514.8L150.3 1517L152.5 1519L154 1520L155.6 1520.9L157.4 1521.6L159.2 1522.3L161.1 1523L163 1523.6L165 1524.2L166.8 1524.8L168.6 1525.3L170.6 1525.8L172.5 1526.3L174.4 1526.8L176.4 1527.2L178.2 1527.5L180 1527.8L181.9 1528L183.6 1528.2L185.3 1528.2L186.9 1528.2L188.6 1528.1L190.5 1527.9L192.5 1527.6L194.2 1527.1L196 1526.6L197.9 1525.9L199.8 1525.2L201.8 1524.4L203.8 1523.7L205.8 1523L207.9 1522.4L210 1521.9L211.7 1521.6L213.5 1521.4L215.3 1521.2L217.1 1521.1L218.9 1521.1L220.8 1521L222.6 1520.9L224.5 1520.8L226.3 1520.6L228.2 1520.4L230 1520L231.8 1519.6L233.7 1519.2L235.7 1518.7L237.6 1518.2L239.5 1517.6L241.4 1517L243.3 1516.4L245.1 1515.7L246.8 1515L248.5 1514.3L250 1513.5L252.2 1512.3L254.1 1510.9L255.9 1509.4L257.5 1507.9L259.1 1506.3L260.8 1504.8L262.5 1503.3L264.3 1501.8L266 1500.2L267.7 1498.6L269.5 1497L271.2 1495.5L273.1 1494.2L275 1493L276.8 1492.3L278.6 1491.7L280.4 1491.3L282.3 1491L284.3 1490.7L286.2 1490.4L288.1 1489.9L290 1489.3L291.9 1488.4L293.7 1487.5L295.5 1486.4L297.3 1485.3L299.2 1484.2L301.1 1483.1L303 1482L305 1481L306.8 1480.1L308.7 1479.3L310.6 1478.6L312.6 1477.8L314.6 1477.1L316.6 1476.3L318.6 1475.5L320.5 1474.6L322.5 1473.6L324.5 1472.6L326.5 1471.4L328.5 1470.1L330.6 1468.9L332.6 1467.6L334.5 1466.4L336.4 1465.2L338.3 1464.1L340 1463.1L342 1462L343.9 1460.9L345.7 1459.9L347.4 1459L349.1 1458.3L350.8 1457.7L352.5 1457.3L354.3 1457.3L356.1 1457.4L357.9 1457.7L359.6 1458.2L361.4 1458.8L363.2 1459.4L365 1460L366.8 1460.8L368.6 1461.7L370.5 1462.7L372.3 1463.8L374.1 1464.8L375.8 1465.6L377.5 1466.2L379.3 1466.8L381 1467.3L382.7 1467.7L384.3 1467.8L385.9 1467.6L387.5 1467L389.2 1466L390.8 1464.7L392.5 1463.1L394.2 1461.3L395.8 1459.1L397.5 1456.7L399.2 1453.9L400.8 1450.8L402.5 1447.4L404.2 1443.8L405.8 1439.9L407.5 1435.9L409.2 1431.6L410.8 1427.1L412.5 1422.3L414.2 1417.4L415.8 1412.5L417.5 1407.5L419.2 1402.5L420.8 1397.3L422.5 1392L424.2 1386.6L425.8 1381.1L427.5 1375.8L429.2 1370.5L430.8 1365.1L432.5 1359.8L434.2 1354.6L435.8 1349.6L437.5 1344.7L439.2 1339.9L440.8 1335.2L442.5 1330.7L444.2 1326.4L445.8 1322.3L447.5 1318.4L449.2 1314.7L450.8 1311.2L452.5 1307.9L454.2 1304.9L455.8 1302.1L457.5 1299.6L459.1 1297.4L460.7 1295.5L462.3 1293.9L464 1292.5L465.7 1291.1L467.5 1289.8L469.2 1288.8L470.9 1287.9L472.7 1287.1L474.5 1286.4L476.4 1285.7L478.2 1285.1L480 1284.5L481.8 1283.8L483.6 1283.1L485.5 1282.5L487.3 1281.8L489.1 1281.3L490.8 1280.8L492.5 1280.5L494.3 1280.2L496.1 1280L497.8 1280L499.4 1280.2L501 1280.6L502.5 1281.3L504.6 1282.4L506.4 1283.8L508.2 1285.7L510 1288.1L511.9 1290.9L513.8 1294.2L515.6 1298L517.5 1302.5L519.4 1307.5L521.2 1313L523.1 1319.3L525 1326.9L526.9 1335.8L528.8 1345.8L530.6 1356.6L532.5 1367.8L534.4 1379.8L536.2 1392.5L538.1 1405.3L540 1417.6L541.9 1429.3L543.8 1440.9L545.6 1451.9L547.5 1462.1L549.4 1471.3L551.2 1479.8L553.1 1487.4L555 1494.1L556.8 1499.5L558.6 1503.9L560.4 1507.6L562.5 1510.9L564 1512.8L565.6 1514.4L567.2 1515.8L568.9 1517.1L570.7 1518.3L572.5 1519.5L574.1 1520.5L575.8 1521.4L577.6 1522.3L579.3 1523.1L581.2 1523.9L583.1 1524.6L585 1525.2L586.7 1525.5L588.5 1525.8L590.3 1526.1L592.2 1526.3L594.1 1526.4L596 1526.5L598 1526.6L600 1526.7L601.9 1526.8L603.8 1526.9L605.8 1527L607.9 1527.1L609.9 1527.1L611.9 1527.2L613.9 1527.2L615.8 1527.2L617.5 1527.2L619.5 1527.1L621.4 1527.1L623.1 1527L624.7 1526.8L626.4 1526.6L628.1 1526.3L630 1525.8L631.8 1525.3L633.6 1524.7L635.4 1524.1L637.3 1523.4L639.3 1522.6L641.2 1521.8L643.1 1520.9L645 1520L646.9 1519.1L648.8 1518.1L650.6 1517.1L652.5 1516.1L654.4 1514.9L656.2 1513.8L658.1 1512.5L660 1511.2L661.9 1509.7L663.8 1508.1L665.6 1506.3L667.5 1504.5L669.4 1502.7L671.2 1501L673.1 1499.3L675 1497.9L676.9 1496.5L678.8 1495.3L680.6 1494.2L682.5 1493.2L684.4 1492.2L686.2 1491.3L688.1 1490.4L690 1489.5L691.9 1488.5L693.8 1487.7L695.6 1486.9L697.5 1486.1L699.4 1485.3L701.2 1484.5L703.1 1483.6L705 1482.7L706.9 1481.8L708.8 1480.8L710.6 1479.7L712.5 1478.6L714.4 1477.5L716.2 1476.6L718.1 1475.7L720 1475L721.9 1474.6L723.7 1474.4L725.5 1474.3L727.3 1474.3L729.1 1474.3L731 1474.2L733 1473.9L735 1473.3L736.8 1472.7L738.8 1471.8L740.9 1470.8L743 1469.6L745.2 1468.5L747.3 1467.3L749.2 1466.2L750.9 1465.2L752.4 1464.4L753.5 1463.8L753.5 1483.2L752.4 1484L750.9 1484.9L749.2 1486.1L747.3 1487.3L745.2 1488.7L743 1490.1L740.9 1491.4L738.8 1492.7L736.8 1493.8L735 1494.7L733 1495.4L731 1495.9L729.1 1496.2L727.3 1496.4L725.5 1496.6L723.7 1496.9L721.9 1497.3L720 1498L718.1 1498.8L716.2 1499.9L714.4 1501L712.5 1502.3L710.6 1503.6L708.8 1504.9L706.9 1506.1L705 1507.3L703.1 1508.3L701.2 1509.4L699.4 1510.4L697.5 1511.4L695.6 1512.4L693.8 1513.4L691.9 1514.4L690 1515.5L688.1 1516.7L686.2 1517.8L684.4 1518.9L682.5 1520L680.6 1521.2L678.8 1522.4L676.9 1523.7L675 1525.1L673.1 1526.7L671.2 1528.4L669.4 1530.1L667.5 1532L665.6 1533.8L663.8 1535.6L661.9 1537.3L660 1538.8L658.1 1540.2L656.2 1541.5L654.4 1542.7L652.5 1543.9L650.6 1545L648.8 1546L646.9 1547L645 1548L643.1 1549L641.2 1549.9L639.3 1550.7L637.3 1551.6L635.4 1552.3L633.6 1553L631.8 1553.7L630 1554.2L628.1 1554.7L626.4 1555L624.7 1555.3L623.1 1555.5L621.4 1555.6L619.5 1555.7L617.5 1555.8L615.8 1555.9L613.9 1556L611.9 1556L609.9 1556L607.9 1556L605.8 1555.9L603.8 1555.8L601.9 1555.6L600 1555.3L598 1554.9L596 1554.4L594.1 1553.8L592.2 1553.1L590.3 1552.4L588.5 1551.6L586.7 1550.8L585 1549.8L583.1 1548.7L581.2 1547.5L579.3 1546.3L577.6 1544.9L575.8 1543.5L574.1 1542L572.5 1540.5L570.7 1538.8L568.9 1537.2L567.2 1535.4L565.6 1533.5L564 1531.4L562.5 1529.1L560.4 1525.4L558.6 1521.4L556.8 1516.7L555 1510.9L553.1 1504L551.2 1496.1L549.4 1487.4L547.5 1477.9L545.6 1467.5L543.8 1456.3L541.9 1444.5L540 1432.4L538.1 1419.9L536.2 1406.9L534.4 1394L532.5 1382.2L530.6 1371.2L528.8 1360.7L526.9 1351.3L525 1343.1L523.1 1336.5L521.2 1331.1L519.4 1326.6L517.5 1322.5L515.6 1319L513.8 1316.1L511.9 1313.8L510 1311.9L508.2 1310.5L506.4 1309.6L504.6 1309.1L502.5 1308.7L501 1308.7L499.4 1308.7L497.8 1308.9L496.1 1309L494.3 1309.3L492.5 1309.5L490.8 1309.9L489.1 1310.4L487.3 1310.9L485.5 1311.6L483.6 1312.2L481.8 1312.9L480 1313.5L478.2 1314.2L476.4 1314.8L474.5 1315.4L472.7 1316L470.9 1316.7L469.2 1317.4L467.5 1318.2L465.7 1319.1L464 1320L462.3 1321L460.7 1322.2L459.1 1323.7L457.5 1325.4L455.8 1327.5L454.2 1329.9L452.5 1332.5L450.8 1335.3L449.2 1338.4L447.5 1341.6L445.8 1345.1L444.2 1348.8L442.5 1352.7L440.8 1356.8L439.2 1361L437.5 1365.3L435.8 1369.8L434.2 1374.5L432.5 1379.2L430.8 1384.1L429.2 1389.1L427.5 1394.2L425.8 1399.5L424.2 1404.9L422.5 1410.5L420.8 1416.2L419.2 1421.9L417.5 1427.5L415.8 1433L414.2 1438.5L412.5 1443.9L410.8 1449.2L409.2 1454.3L407.5 1459.1L405.8 1463.7L404.2 1468.2L402.5 1472.4L400.8 1476.3L399.2 1480L397.5 1483.3L395.8 1486.3L394.2 1488.9L392.5 1491.3L390.8 1493.2L389.2 1494.8L387.5 1496L385.9 1496.8L384.3 1497.1L382.7 1497L381 1496.7L379.3 1496.3L377.5 1495.8L375.8 1495.2L374.1 1494.4L372.3 1493.5L370.5 1492.5L368.6 1491.5L366.8 1490.6L365 1490L363.2 1489.4L361.4 1488.8L359.6 1488.3L357.9 1487.9L356.1 1487.6L354.3 1487.5L352.5 1487.7L350.8 1488.1L349.1 1488.7L347.4 1489.5L345.7 1490.4L343.9 1491.5L342 1492.7L340 1493.9L338.3 1494.9L336.4 1496L334.5 1497.2L332.6 1498.5L330.6 1499.8L328.5 1501L326.5 1502.3L324.5 1503.4L322.5 1504.4L320.5 1505.3L318.6 1506.1L316.6 1506.8L314.6 1507.5L312.6 1508.2L310.6 1508.9L308.7 1509.6L306.8 1510.3L305 1511L303 1512L301.1 1513L299.2 1514L297.3 1515.1L295.5 1516.1L293.7 1517.1L291.9 1518L290 1518.7L288.1 1519.3L286.2 1519.7L284.3 1520L282.3 1520.2L280.4 1520.5L278.6 1520.8L276.8 1521.3L275 1522L273.1 1523L271.2 1524.3L269.5 1525.7L267.7 1527.2L266 1528.7L264.3 1530.3L262.5 1531.7L260.8 1533.1L259.1 1534.6L257.5 1536.1L255.9 1537.6L254.1 1539L252.2 1540.3L250 1541.5L248.5 1542.2L246.8 1542.8L245.1 1543.5L243.3 1544.1L241.4 1544.6L239.5 1545.2L237.6 1545.7L235.7 1546.1L233.7 1546.5L231.8 1546.8L230 1547L228.2 1547.1L226.3 1547L224.5 1546.9L222.6 1546.6L220.8 1546.4L218.9 1546.1L217.1 1545.8L215.3 1545.5L213.5 1545.3L211.7 1545.2L210 1545.1L207.9 1545.2L205.8 1545.5L203.8 1545.8L201.8 1546.1L199.8 1546.5L197.9 1546.9L196 1547.2L194.2 1547.4L192.5 1547.4L190.5 1547.4L188.6 1547.3L186.9 1547L185.3 1546.7L183.6 1546.3L181.9 1545.8L180 1545.2L178.2 1544.6L176.4 1543.9L174.4 1543.2L172.5 1542.3L170.6 1541.5L168.6 1540.6L166.8 1539.7L165 1538.8L163 1537.8L161.1 1536.8L159.2 1535.8L157.4 1534.7L155.6 1533.6L154 1532.4L152.5 1531L150.3 1528.7L148.4 1526.1L146.8 1523.1L145 1519.3L143.1 1515.1L141.2 1510.3L139.4 1504.6L137.5 1497.1L135.6 1487.6L133.8 1476.4L131.9 1464.2L130 1451.6L128.1 1438.3L126.2 1424.2L124.4 1410L122.5 1396.9L120.6 1384.7L118.8 1373L116.9 1362.2L115 1352.3L113.1 1343.6L111.2 1335.9L109.4 1329L107.5 1322.8L105.4 1317.3L103.3 1312.4L101.3 1308.5L100 1305.7Z" fill="#8eeeea" fill-opacity="0.5"/>
<path d="M100 1289.1L101.3 1292L103.3 1296.1L105.4 1301.2L107.5 1307L109.4 1313.3L111.2 1320.4L113.1 1328.4L115 1337.5L116.9 1348.1L118.8 1359.9L120.6 1372.6L122.5 1385.5L124.4 1399.1L126.2 1413.4L128.1 1427.5L130 1440.7L131.9 1453.2L133.8 1465.1L135.6 1476L137.5 1485.2L139.4 1492.6L141.2 1498.4L143.1 1503L145 1507L146.8 1510.1L148.6 1512.3L150.4 1513.8L152.5 1515.3L154 1516.1L155.6 1516.8L157.2 1517.3L158.9 1517.8L160.7 1518.3L162.5 1518.8L164.2 1519.2L165.9 1519.7L167.7 1520.1L169.5 1520.5L171.4 1520.9L173.2 1521.2L175 1521.5L176.8 1521.7L178.6 1521.9L180.5 1522.1L182.3 1522.1L184.1 1522.1L185.8 1522L187.5 1521.8L189.3 1521.3L190.9 1520.7L192.5 1520L194.1 1519.1L195.7 1518L197.5 1516.8L199.1 1515.5L200.8 1514L202.6 1512.4L204.3 1510.7L206.2 1508.9L208.1 1507.2L210 1505.5L211.8 1504.1L213.6 1502.6L215.4 1501.1L217.3 1499.6L219.3 1498.1L221.2 1496.7L223.1 1495.3L225 1494L226.9 1492.8L228.8 1491.6L230.6 1490.5L232.5 1489.4L234.4 1488.4L236.2 1487.5L238.1 1486.6L240 1485.8L241.9 1485L243.7 1484.4L245.5 1483.8L247.3 1483.2L249.2 1482.7L251.1 1482L253 1481.3L255 1480.5L256.8 1479.6L258.7 1478.5L260.6 1477.4L262.6 1476.2L264.6 1475L266.6 1473.8L268.6 1472.8L270.5 1471.9L272.5 1471.2L274.5 1470.7L276.4 1470.3L278.4 1470.2L280.4 1470.1L282.4 1470.1L284.4 1470.1L286.3 1470L288.2 1470L290 1469.8L292 1469.6L293.9 1469.4L295.7 1469.2L297.5 1469L299.3 1468.7L301.1 1468.3L303 1467.7L305 1467L306.8 1466.2L308.8 1465.3L310.7 1464.2L312.7 1463.1L314.8 1461.8L316.8 1460.6L318.7 1459.3L320.7 1457.9L322.5 1456.6L324.5 1455.2L326.5 1453.6L328.4 1452L330.3 1450.4L332.2 1448.8L334 1447.2L335.8 1445.6L337.5 1444.1L339.4 1442.4L341.3 1440.5L343.2 1438.7L344.9 1436.9L346.7 1435.3L348.4 1433.9L350 1432.8L351.8 1432L353.4 1431.5L355 1431.3L356.6 1431.4L358.2 1431.6L360 1432L361.7 1432.5L363.4 1433.3L365.2 1434.3L367 1435.4L368.9 1436.4L370.7 1437.4L372.5 1438.2L374.3 1438.9L376.1 1439.7L378 1440.4L379.8 1441L381.6 1441.5L383.3 1441.6L385 1441.4L386.8 1440.8L388.5 1439.9L390.2 1438.7L391.8 1437.2L393.4 1435.4L395 1433.4L396.7 1431L398.3 1428.4L400 1425.4L401.7 1422.1L403.3 1418.7L405 1415.1L406.7 1411.2L408.3 1407.1L410 1402.8L411.7 1398.3L413.3 1393.8L415 1389.3L416.7 1384.7L418.3 1379.9L420 1375.1L421.7 1370.3L423.3 1365.4L425 1360.6L426.7 1355.8L428.3 1350.9L430 1346.1L431.7 1341.3L433.3 1336.7L435 1332.2L436.7 1327.8L438.3 1323.6L440 1319.5L441.7 1315.5L443.3 1311.8L445 1308.3L446.7 1305.1L448.3 1302.1L450 1299.4L451.7 1296.8L453.3 1294.3L455 1292L456.7 1289.8L458.3 1287.7L460 1285.7L461.7 1283.9L463.3 1282.2L465 1280.7L466.6 1279.3L468.2 1278.2L469.8 1277.2L471.5 1276.4L473.2 1275.6L475 1275L476.7 1274.5L478.4 1274.2L480.2 1273.9L482 1273.6L483.9 1273.4L485.7 1273.2L487.5 1273L489.3 1272.8L491.2 1272.5L493.1 1272.3L495 1272.1L496.8 1272L498.5 1272.2L500 1272.5L502.2 1273L504.1 1273.9L505.7 1275.2L507.5 1277L509.4 1279.2L511.2 1281.6L513.1 1284.8L515 1289L516.9 1294.3L518.8 1300.6L520.6 1307.8L522.5 1316L524.4 1325.2L526.2 1335.3L528.1 1346.2L530 1357.5L531.9 1369.5L533.8 1382.3L535.6 1395.2L537.5 1407.5L539.4 1419.2L541.2 1430.7L543.1 1441.7L545 1452L546.9 1461.7L548.8 1470.8L550.6 1479.2L552.5 1486.5L554.4 1492.7L556.2 1497.9L558.1 1502.3L560 1505.9L561.8 1508.6L563.4 1510.5L565.3 1511.7L567.5 1512.4L569 1512.5L570.5 1512.3L572.1 1511.8L573.9 1511.3L575.7 1510.7L577.8 1510.1L580 1509.6L581.6 1509.2L583.2 1508.8L585 1508.5L586.9 1508.1L588.9 1507.8L590.8 1507.4L592.8 1507L594.7 1506.6L596.6 1506.2L598.3 1505.7L600 1505.2L602.1 1504.6L604.1 1503.9L606 1503.1L607.8 1502.3L609.6 1501.4L611.4 1500.5L613.2 1499.6L615 1498.7L616.9 1497.7L618.8 1496.6L620.6 1495.5L622.5 1494.3L624.4 1493.1L626.2 1492.1L628.1 1491.1L630 1490.4L631.8 1489.8L633.6 1489.4L635.4 1489.1L637.2 1488.9L639 1488.8L640.9 1488.6L642.9 1488.4L645 1488.1L646.6 1487.8L648.3 1487.5L650.1 1487.3L651.9 1487.1L653.8 1486.8L655.6 1486.5L657.5 1486.2L659.4 1485.8L661.3 1485.4L663.2 1484.9L665 1484.3L666.8 1483.6L668.6 1482.9L670.5 1482L672.3 1481.1L674.1 1480.2L675.9 1479.2L677.7 1478.3L679.5 1477.3L681.4 1476.4L683.2 1475.6L685 1474.8L686.8 1474L688.6 1473.3L690.5 1472.6L692.3 1472L694.1 1471.3L695.9 1470.7L697.7 1470L699.5 1469.3L701.4 1468.7L703.2 1468L705 1467.4L706.8 1466.7L708.7 1466L710.6 1465.3L712.5 1464.6L714.4 1464L716.2 1463.3L718.1 1462.6L719.9 1461.9L721.7 1461.3L723.4 1460.6L725 1460L727.1 1459.1L729.1 1458.2L731.1 1457.4L732.9 1456.5L734.7 1455.7L736.5 1454.9L738.2 1454.1L740 1453.3L742.1 1452.4L744.4 1451.4L746.6 1450.4L748.7 1449.5L750.7 1448.7L752.3 1448L753.5 1447.4L753.5 1467.6L752.3 1468.2L750.7 1469L748.7 1470L746.6 1471.2L744.4 1472.4L742.1 1473.5L740 1474.7L738.2 1475.7L736.5 1476.7L734.7 1477.7L732.9 1478.7L731.1 1479.8L729.1 1480.8L727.1 1481.9L725 1483L723.4 1483.9L721.7 1484.7L719.9 1485.6L718.1 1486.4L716.2 1487.3L714.4 1488.2L712.5 1489.1L710.6 1490L708.7 1490.9L706.8 1491.8L705 1492.6L703.2 1493.5L701.4 1494.4L699.5 1495.2L697.7 1496.1L695.9 1496.9L694.1 1497.8L692.3 1498.6L690.5 1499.5L688.6 1500.4L686.8 1501.3L685 1502.2L683.2 1503.2L681.4 1504.2L679.5 1505.2L677.7 1506.3L675.9 1507.3L674.1 1508.3L672.3 1509.3L670.5 1510.3L668.6 1511.2L666.8 1512L665 1512.7L663.2 1513.3L661.3 1513.8L659.4 1514.3L657.5 1514.7L655.6 1515.1L653.8 1515.4L651.9 1515.8L650.1 1516.1L648.3 1516.3L646.6 1516.6L645 1516.9L642.9 1517.3L640.9 1517.6L639 1517.8L637.2 1518L635.4 1518.2L633.6 1518.6L631.8 1519L630 1519.6L628.1 1520.4L626.2 1521.4L624.4 1522.5L622.5 1523.7L620.6 1524.9L618.8 1526.1L616.9 1527.3L615 1528.3L613.2 1529.3L611.4 1530.2L609.6 1531.2L607.8 1532.1L606 1532.9L604.1 1533.7L602.1 1534.3L600 1534.8L598.3 1534.9L596.6 1535L594.7 1535L592.8 1534.8L590.8 1534.7L588.9 1534.5L586.9 1534.3L585 1534L583.2 1533.8L581.6 1533.6L580 1533.4L577.8 1533.4L575.7 1533.5L573.9 1533.5L572.1 1533.5L570.5 1533.4L569 1533.1L567.5 1532.6L565.3 1531.3L563.4 1529.6L561.8 1527.3L560 1524.1L558.1 1520.2L556.2 1515.5L554.4 1510L552.5 1503.5L550.6 1495.9L548.8 1487.3L546.9 1477.9L545 1468L543.1 1457.4L541.2 1446.2L539.4 1434.5L537.5 1422.5L535.6 1410L533.8 1397L531.9 1384.3L530 1372.5L528.1 1361.7L526.2 1351.5L524.4 1342.2L522.5 1334L520.6 1326.8L518.8 1320.6L516.9 1315.3L515 1311L513.1 1307.8L511.2 1305.6L509.4 1304.1L507.5 1303L505.7 1302.1L504.1 1301.7L502.2 1301.6L500 1301.5L498.5 1301.7L496.8 1301.9L495 1302.1L493.1 1302.3L491.2 1302.5L489.3 1302.8L487.5 1303L485.7 1303.2L483.9 1303.4L482 1303.6L480.2 1303.9L478.4 1304.2L476.7 1304.5L475 1305L473.2 1305.6L471.5 1306.2L469.8 1306.8L468.2 1307.5L466.6 1308.4L465 1309.3L463.3 1310.4L461.7 1311.7L460 1313L458.3 1314.6L456.7 1316.2L455 1318L453.3 1319.9L451.7 1321.9L450 1324.1L448.3 1326.4L446.7 1328.9L445 1331.7L443.3 1334.7L441.7 1338L440 1341.5L438.3 1345.1L436.7 1348.9L435 1352.8L433.3 1356.9L431.7 1361.1L430 1365.4L428.3 1370L426.7 1374.7L425 1379.4L423.3 1384.4L421.7 1389.6L420 1394.9L418.3 1400.2L416.7 1405.5L415 1410.7L413.3 1415.8L411.7 1420.9L410 1425.9L408.3 1430.8L406.7 1435.5L405 1439.9L403.3 1444.1L401.7 1448.1L400 1451.9L398.3 1455.5L396.7 1458.7L395 1461.6L393.4 1464.2L391.8 1466.4L390.2 1468.2L388.5 1469.7L386.8 1470.8L385 1471.6L383.3 1471.8L381.6 1471.7L379.8 1471.4L378 1470.8L376.1 1470.2L374.3 1469.5L372.5 1468.8L370.7 1468.1L368.9 1467.2L367 1466.2L365.2 1465.2L363.4 1464.2L361.7 1463.5L360 1463L358.2 1462.7L356.6 1462.5L355 1462.5L353.4 1462.7L351.8 1463.3L350 1464.2L348.4 1465.3L346.7 1466.7L344.9 1468.4L343.2 1470.2L341.3 1472.1L339.4 1474.1L337.5 1475.9L335.8 1477.4L334 1479L332.2 1480.7L330.3 1482.3L328.4 1483.9L326.5 1485.4L324.5 1486.9L322.5 1488.4L320.7 1489.6L318.7 1490.8L316.8 1492L314.8 1493.2L312.7 1494.4L310.7 1495.4L308.8 1496.4L306.8 1497.3L305 1498L303 1498.6L301.1 1499.1L299.3 1499.4L297.5 1499.7L295.7 1499.8L293.9 1499.9L292 1500L290 1500.2L288.2 1500.3L286.3 1500.3L284.4 1500.2L282.4 1500.2L280.4 1500.1L278.4 1500.1L276.4 1500.2L274.5 1500.4L272.5 1500.8L270.5 1501.5L268.6 1502.3L266.6 1503.3L264.6 1504.4L262.6 1505.5L260.6 1506.6L258.7 1507.7L256.8 1508.7L255 1509.5L253 1510.3L251.1 1510.9L249.2 1511.4L247.3 1511.9L245.5 1512.4L243.7 1512.9L241.9 1513.5L240 1514.2L238.1 1515L236.2 1515.8L234.4 1516.6L232.5 1517.4L230.6 1518.3L228.8 1519.2L226.9 1520.1L225 1521L223.1 1521.9L221.2 1522.9L219.3 1524L217.3 1525.1L215.4 1526.2L213.6 1527.3L211.8 1528.4L210 1529.5L208.1 1530.8L206.2 1532.2L204.3 1533.5L202.6 1534.9L200.8 1536.2L199.1 1537.3L197.5 1538.2L195.7 1539.2L194.1 1539.9L192.5 1540.5L190.9 1540.9L189.3 1541.1L187.5 1541.2L185.8 1541.2L184.1 1540.9L182.3 1540.6L180.5 1540.2L178.6 1539.6L176.8 1539.1L175 1538.5L173.2 1537.9L171.4 1537.2L169.5 1536.4L167.7 1535.7L165.9 1534.8L164.2 1534L162.5 1533.2L160.7 1532.4L158.9 1531.6L157.2 1530.8L155.6 1529.9L154 1528.9L152.5 1527.7L150.4 1525.9L148.6 1524L146.8 1521.5L145 1518L143.1 1513.7L141.2 1508.6L139.4 1502.5L137.5 1494.8L135.6 1485.1L133.8 1474L131.9 1461.8L130 1449.3L128.1 1436L126.2 1422L124.4 1407.8L122.5 1394.5L120.6 1381.8L118.8 1369.4L116.9 1357.8L115 1347.5L113.1 1338.6L111.2 1330.9L109.4 1324.1L107.5 1318L105.4 1312.5L103.3 1307.6L101.3 1303.7L100 1300.9Z" fill="#f3c58e" fill-opacity="0.5"/>
<path d="M100 1300C101.2 1302.9 105 1309.6 107.5 1317.5C110 1325.4 112.5 1335 115 1347.5C117.5 1360 120 1375.8 122.5 1392.5C125 1409.2 127.5 1430.8 130 1447.5C132.5 1464.2 135 1481.4 137.5 1492.5C140 1503.6 142.5 1508.6 145 1514C147.5 1519.4 149.2 1522.1 152.5 1525C155.8 1527.9 160.4 1529.6 165 1531.5C169.6 1533.4 175.4 1535.5 180 1536.5C184.6 1537.5 187.5 1538 192.5 1537.5C197.5 1537 203.8 1534.2 210 1533.5C216.2 1532.8 223.3 1534.5 230 1533.5C236.7 1532.5 244.6 1530.2 250 1527.5C255.4 1524.8 258.3 1520.8 262.5 1517.5C266.7 1514.2 270.4 1509.8 275 1507.5C279.6 1505.2 285 1505.9 290 1504C295 1502.1 299.6 1498.5 305 1496C310.4 1493.5 316.7 1491.9 322.5 1489C328.3 1486.1 335 1481.2 340 1478.5C345 1475.8 348.3 1473.1 352.5 1472.5C356.7 1471.9 360.8 1473.6 365 1475C369.2 1476.4 373.8 1479.9 377.5 1481C381.2 1482.1 384.2 1483.3 387.5 1481.5C390.8 1479.7 394.2 1475.7 397.5 1470C400.8 1464.3 404.2 1456.2 407.5 1447.5C410.8 1438.8 414.2 1427.9 417.5 1417.5C420.8 1407.1 424.2 1395.4 427.5 1385C430.8 1374.6 434.2 1364.2 437.5 1355C440.8 1345.8 444.2 1337.1 447.5 1330C450.8 1322.9 454.2 1316.8 457.5 1312.5C460.8 1308.2 463.8 1306.2 467.5 1304C471.2 1301.8 475.8 1300.5 480 1299C484.2 1297.5 488.8 1295.7 492.5 1295C496.2 1294.3 499.6 1294.2 502.5 1295C505.4 1295.8 507.5 1297.1 510 1300C512.5 1302.9 515 1306.7 517.5 1312.5C520 1318.3 522.5 1324.6 525 1335C527.5 1345.4 530 1360 532.5 1375C535 1390 537.5 1409.2 540 1425C542.5 1440.8 545 1457.1 547.5 1470C550 1482.9 552.5 1494.2 555 1502.5C557.5 1510.8 559.6 1515.4 562.5 1520C565.4 1524.6 568.8 1527.1 572.5 1530C576.2 1532.9 580.4 1535.7 585 1537.5C589.6 1539.3 594.6 1540.3 600 1541C605.4 1541.7 612.5 1541.7 617.5 1541.5C622.5 1541.3 625.4 1541.2 630 1540C634.6 1538.8 640 1536.5 645 1534C650 1531.5 655 1528.8 660 1525C665 1521.2 670 1515.2 675 1511.5C680 1507.8 685 1505.2 690 1502.5C695 1499.8 700 1497.7 705 1495C710 1492.3 715 1488.3 720 1486.5C725 1484.7 729.4 1486.2 735 1484C740.6 1481.8 750.4 1475.2 753.5 1473.5" fill="none" stroke="#5ab2b6" stroke-width="3.2" stroke-linejoin="round"/>
<path d="M100 1295C101.2 1297.9 105 1304.6 107.5 1312.5C110 1320.4 112.5 1329.6 115 1342.5C117.5 1355.4 120 1372.9 122.5 1390C125 1407.1 127.5 1428.3 130 1445C132.5 1461.7 135 1478.8 137.5 1490C140 1501.2 142.5 1507.2 145 1512.5C147.5 1517.8 149.6 1519.2 152.5 1521.5C155.4 1523.8 158.8 1524.6 162.5 1526C166.2 1527.4 170.8 1529.1 175 1530C179.2 1530.9 183.8 1531.9 187.5 1531.5C191.2 1531.1 193.8 1529.8 197.5 1527.5C201.2 1525.2 205.4 1520.8 210 1517.5C214.6 1514.2 220 1510.4 225 1507.5C230 1504.6 235 1502.1 240 1500C245 1497.9 249.6 1497.3 255 1495C260.4 1492.7 266.7 1487.7 272.5 1486C278.3 1484.3 284.6 1485.6 290 1485C295.4 1484.4 299.6 1484.6 305 1482.5C310.4 1480.4 317.1 1476.2 322.5 1472.5C327.9 1468.8 332.9 1464 337.5 1460C342.1 1456 346.2 1450.6 350 1448.5C353.8 1446.4 356.2 1446.7 360 1447.5C363.8 1448.3 368.3 1452 372.5 1453.5C376.7 1455 381.2 1457.5 385 1456.5C388.8 1455.5 391.7 1452.3 395 1447.5C398.3 1442.7 401.7 1435.4 405 1427.5C408.3 1419.6 411.7 1409.6 415 1400C418.3 1390.4 421.7 1379.6 425 1370C428.3 1360.4 431.7 1350.8 435 1342.5C438.3 1334.2 441.7 1326.2 445 1320C448.3 1313.8 451.7 1309.2 455 1305C458.3 1300.8 461.7 1297.5 465 1295C468.3 1292.5 471.2 1291.2 475 1290C478.8 1288.8 483.3 1288.5 487.5 1288C491.7 1287.5 496.7 1286.7 500 1287C503.3 1287.3 505 1287.8 507.5 1290C510 1292.2 512.5 1294.2 515 1300C517.5 1305.8 520 1314.2 522.5 1325C525 1335.8 527.5 1350 530 1365C532.5 1380 535 1399.2 537.5 1415C540 1430.8 542.5 1446.7 545 1460C547.5 1473.3 550 1485.8 552.5 1495C555 1504.2 557.5 1510.4 560 1515C562.5 1519.6 564.2 1521.4 567.5 1522.5C570.8 1523.6 574.6 1521.9 580 1521.5C585.4 1521.1 594.2 1521.3 600 1520C605.8 1518.7 610 1516 615 1513.5C620 1511 625 1506.8 630 1505C635 1503.2 639.2 1503.6 645 1502.5C650.8 1501.4 658.3 1500.8 665 1498.5C671.7 1496.2 678.3 1491.6 685 1488.5C691.7 1485.4 698.3 1482.8 705 1480C711.7 1477.2 719.2 1474.2 725 1471.5C730.8 1468.8 735.2 1466.3 740 1464C744.8 1461.7 751.2 1458.6 753.5 1457.5" fill="none" stroke="#e08a12" stroke-width="3.2" stroke-linejoin="round"/>
<path d="M99.4 1232V1616.1M90.7 1232H107.9M90.7 1605.6H890M494.5 1595.1V1616.1M890 1595.1V1616.1" stroke="#2e2e2e" stroke-width="1.5" stroke-linecap="round" fill="none"/>
<text font-size="35" transform="translate(79.7 1242.5) scale(1 1.04)" text-anchor="end" fill="#111">4.4</text>
<text font-size="35" transform="translate(74.2 1615.6) scale(1 1.04)" text-anchor="end" fill="#111">2</text>
<rect x="1223.7" y="1240" width="160" height="363" fill="#e6e6e6"/>
<path d="M977 1354.1L977.9 1355.8L979.2 1358.1L980.6 1360.1L982 1360.8L983.2 1359.9L984.5 1357.8L985.8 1354.6L987 1350.6L988.3 1345.3L989.6 1339.4L990.9 1334.9L992 1333.6L993.3 1335.6L994.4 1341.1L995.5 1351.1L996.8 1367.6L998.1 1388.2L999.5 1407.6L1000.9 1424.1L1002.4 1440L1004 1455.9L1005.2 1468.5L1006.5 1481.3L1007.7 1493.3L1009 1503L1010.2 1510.3L1011.5 1515.7L1012.8 1520.1L1014 1524.1L1015.2 1527.7L1016.4 1530.9L1017.6 1533.3L1019 1534.7L1020.2 1534.7L1021.5 1533.8L1022.8 1532.6L1024.2 1531.5L1025.5 1530.8L1026.8 1530.7L1028 1531.5L1029.3 1533.4L1030.6 1535.9L1032 1538.2L1033.3 1539.5L1034.8 1540.1L1036.2 1540.5L1037.7 1540.8L1039.2 1541.6L1040.5 1542.9L1041.9 1545.3L1043.3 1548.5L1044.5 1551.8L1045.8 1554.6L1047 1556.3L1048.5 1556.7L1049.9 1555.7L1051.4 1553.9L1053 1552.1L1054.4 1550.8L1055.9 1549.9L1057.4 1549.2L1059 1548.6L1060.5 1547.9L1062 1546.9L1063.5 1545.3L1065 1543.2L1066.5 1541L1068 1539L1069.5 1537.7L1071 1536.9L1072.5 1536.3L1074 1535.6L1075.5 1534.7L1077 1533.5L1078.6 1532.4L1080.2 1531.5L1081.7 1531L1083 1531L1084.4 1532.1L1085.5 1533.9L1086.6 1535.1L1088 1534.3L1089.3 1531.6L1090.8 1527.8L1092.4 1523.4L1094 1518.8L1095.5 1514.8L1097 1511.9L1098.5 1510.5L1100 1510.5L1101.5 1511.4L1103 1511.7L1104.5 1510.7L1106 1508.4L1107.5 1505.5L1109 1502.6L1110.5 1500L1112 1497.5L1113.5 1494.8L1115 1491.7L1116.5 1488.7L1118 1486.4L1119.5 1484.9L1121 1484.2L1122.5 1483.6L1124 1482.8L1125.5 1481.6L1127 1479.5L1128.5 1476.2L1130 1472.3L1131.5 1468.3L1133 1465.4L1134.5 1464.6L1136 1465.7L1137.5 1467.5L1139 1468.6L1140.5 1467.7L1142 1464L1143.5 1458.6L1145 1453L1146.5 1448.7L1148 1446.7L1149.5 1447.7L1151 1450.9L1152.5 1454.7L1154 1458L1155.5 1459.4L1157 1458.3L1158.5 1455.7L1160 1452.1L1161.5 1448.4L1163 1445.2L1164.5 1442.9L1166 1441.2L1167.5 1439.9L1169 1438.9L1170.5 1437.6L1172 1436.1L1173.5 1435.3L1175 1435.2L1176.5 1435.6L1178 1435.7L1179.5 1435L1181 1433.7L1182.5 1431.9L1184 1429.6L1185.5 1426.9L1187 1424.2L1188.5 1421.9L1190 1420.4L1191.5 1419.6L1193 1418.9L1194.5 1418.2L1196 1417.4L1197.5 1416.6L1199 1416L1200.5 1415.5L1202 1414.8L1203.5 1413.8L1205 1412.6L1206.5 1411.3L1208 1410.1L1209.5 1409.3L1211 1409L1212.5 1409.1L1214 1409.5L1215.5 1409.6L1217 1409.1L1218.5 1408L1220 1407L1221.5 1406.8L1223 1407.5L1224.5 1408.3L1226 1408.3L1227.5 1407.5L1229 1406.9L1230.5 1407.2L1232 1408.1L1233.5 1409L1235 1409.4L1236.5 1409.7L1238 1410.4L1239.5 1411.9L1241 1413.9L1242.5 1415.9L1244 1417L1245.5 1416.7L1247 1414.8L1248.5 1412.1L1250 1409.5L1251.5 1407.5L1253 1406.6L1254.5 1406.8L1256 1407.5L1257.5 1408.2L1259 1408.6L1260.5 1408.5L1262 1408.4L1263.6 1409L1265.1 1410.3L1266.6 1411.6L1268 1411.7L1269.6 1409.5L1271.1 1405.2L1272.5 1399.2L1274 1392.3L1275.3 1385.9L1276.5 1379L1277.8 1372L1279.1 1365.4L1280.5 1359.7L1282 1355.5L1283.5 1352.5L1285.1 1350.9L1286.6 1350.1L1288 1349.1L1289.4 1346L1290.6 1341.4L1291.7 1335.5L1293 1328.7L1294.4 1320.9L1295.9 1312.7L1297.4 1305.3L1299 1299.7L1300.3 1296.9L1301.5 1294.8L1302.8 1292.6L1304.1 1289.8L1305.5 1286.3L1307 1282.3L1308.5 1278.3L1310 1275L1311.5 1272.6L1313 1270.7L1314.4 1268.8L1315.7 1266.9L1317 1265.5L1318.2 1265.2L1319.5 1266.6L1321 1271.3L1322.4 1278.6L1323.9 1286.6L1325.5 1293.3L1326.9 1297.2L1328.4 1300.2L1329.9 1302.5L1331.5 1304.5L1333 1306.7L1334.5 1309.4L1336 1312.3L1337.5 1314.8L1339 1316.6L1340.5 1317.9L1342 1319L1343.5 1320.1L1345 1321.4L1346.5 1323.1L1348 1325.9L1349.5 1330.2L1351 1335L1352.6 1338.8L1354.1 1341.1L1355.5 1341.7L1356.9 1340.9L1358.2 1339.4L1359.5 1337.4L1360.7 1335.1L1362 1333.3L1363.5 1331.8L1365 1330.7L1366.5 1330.3L1368 1331.3L1369.5 1334.3L1371 1339L1372.5 1344.2L1374 1348.5L1375.3 1351.1L1376.6 1353.9L1377.9 1357L1379.2 1360.5L1380.5 1363.6L1381.8 1365.5L1383.1 1366L1384.4 1365.7L1385.7 1365.1L1387 1364.7L1388.5 1364L1390 1362.9L1391.5 1361.7L1393 1360.6L1394.5 1360.2L1396.1 1360L1397.6 1359.2L1399 1356.9L1400.5 1351.1L1401.8 1344.3L1403 1339.8L1404.5 1336L1406 1338.4L1407.1 1346.8L1408.3 1359.1L1409.5 1373.4L1410.6 1389.9L1411.8 1408.2L1413 1426L1414.3 1442.9L1415.6 1459.7L1417 1475.9L1418.2 1488.1L1419.4 1500L1420.7 1510.5L1422 1518.7L1423.2 1524.4L1424.4 1528.2L1425.7 1530.8L1427 1533L1428.4 1534.6L1429.9 1535.1L1431.5 1535L1433 1534.9L1434.5 1534.7L1436 1534.3L1437.5 1534.3L1439 1535.4L1440.3 1537.5L1441.6 1540.6L1442.9 1544.3L1444.2 1547.7L1445.5 1549.9L1446.8 1550.1L1448.1 1548.7L1449.4 1546.4L1450.7 1544L1452 1542.8L1453.5 1543.7L1454.9 1546.5L1456.4 1550.3L1458 1554.2L1459.4 1557.3L1460.9 1559.7L1462.4 1561.1L1464 1561.5L1465.5 1561.4L1467 1561.6L1468.5 1562.2L1470 1562.9L1471.5 1563.1L1473 1562.7L1474.5 1561.7L1476 1560.3L1477.5 1558.5L1479 1555.9L1480.5 1552.7L1482 1549.2L1483.5 1545.8L1485 1542.8L1486.5 1540.5L1488 1539L1489.5 1538.7L1491 1539L1492.5 1539.2L1494 1538.6L1495.5 1537.1L1497 1535.3L1498.5 1533.8L1500 1532.3L1501.5 1530.5L1503 1528.1L1504.5 1525.2L1506 1522L1507.5 1518.7L1509 1515.5L1510.5 1512.6L1512 1510.6L1513.5 1509.1L1515 1507.9L1516.5 1506.5L1518 1504.7L1519.5 1502.8L1521 1500.8L1522.5 1498.9L1524 1496.7L1525.5 1494L1527 1491L1528.5 1488.3L1530 1486.7L1531.5 1486.1L1533 1485.9L1534.5 1485L1536 1483.3L1537.5 1481L1539 1478.7L1540.5 1476.2L1542 1473.7L1543.5 1471.3L1545 1469.4L1546.5 1468L1548 1466.8L1549.5 1465.4L1551 1463.6L1552.5 1461.5L1554 1459.2L1555.5 1457L1557 1454.8L1558.5 1452.5L1560 1450.2L1561.5 1448.1L1563 1446.6L1564.5 1445.6L1566 1445.1L1567.5 1444.7L1569 1444.1L1570.5 1442.8L1572 1440.3L1573.5 1437.3L1575 1434.5L1576.5 1432.3L1578 1430.5L1579.5 1429.3L1581 1429.1L1582.5 1430.1L1584 1431.8L1585.5 1433.2L1587 1433.4L1588.6 1432.1L1590.1 1429.8L1591.6 1426.7L1593 1423.5L1594.7 1420.9L1596.2 1419.2L1597.7 1417.6L1599 1415.1L1600.4 1409.2L1601.7 1402.3L1603 1397.9L1604.2 1397.6L1605.4 1398.9L1606.7 1400.8L1608 1402.6L1609.2 1404.8L1610.3 1407.7L1611.6 1410.1L1613 1411.1L1614.3 1410.5L1615.8 1408.9L1617.3 1406.8L1618.9 1404.9L1620.5 1403.6L1622 1403.4L1623.6 1403.2L1625.2 1402.9L1626.8 1402.3L1628.1 1401.7L1629 1401.1L1629 1430.3L1628.1 1427.7L1626.8 1424.7L1625.2 1422L1623.6 1420.2L1622 1419.6L1620.5 1420.5L1618.9 1423.3L1617.3 1427.5L1615.8 1432.2L1614.3 1436.3L1613 1438.9L1611.6 1439L1610.3 1436.8L1609.2 1433.6L1608 1431L1606.7 1429.8L1605.4 1429.4L1604.2 1430.1L1603 1431.7L1601.7 1436.2L1600.4 1442.2L1599 1446.9L1597.7 1448.2L1596.2 1448.7L1594.7 1448.8L1593 1449.2L1591.6 1450.1L1590.1 1451.5L1588.6 1453.2L1587 1454.9L1585.5 1456.4L1584 1457.3L1582.5 1457.6L1581 1457.7L1579.5 1457.8L1578 1458.4L1576.5 1459.5L1575 1461.2L1573.5 1463.7L1572 1466.4L1570.5 1468.8L1569 1470.3L1567.5 1471.1L1566 1471.6L1564.5 1472.3L1563 1473.8L1561.5 1476.2L1560 1479.3L1558.5 1482.8L1557 1486.4L1555.5 1489.6L1554 1492L1552.5 1493.6L1551 1494.5L1549.5 1495.3L1548 1496.1L1546.5 1497.4L1545 1499.4L1543.5 1501.9L1542 1504.6L1540.5 1506.9L1539 1508.3L1537.5 1508.8L1536 1509.1L1534.5 1510L1533 1511.5L1531.5 1513.4L1530 1515L1528.5 1515.9L1527 1516.5L1525.5 1518.1L1524 1521.4L1522.5 1525.9L1521 1530.4L1519.5 1533.6L1518 1535.4L1516.5 1535.6L1515 1535L1513.5 1534.5L1512 1534.8L1510.5 1536.9L1509 1540.4L1507.5 1544.5L1506 1548.2L1504.5 1551.2L1503 1553.8L1501.5 1556.3L1500 1558.5L1498.5 1560L1497 1560.8L1495.5 1561.5L1494 1562.1L1492.5 1562.8L1491 1563.3L1489.5 1563.8L1488 1564.7L1486.5 1566.1L1485 1568.1L1483.5 1570.5L1482 1573.1L1480.5 1575.4L1479 1577.4L1477.5 1579.1L1476 1580.8L1474.5 1582.3L1473 1583.5L1471.5 1583.9L1470 1583.7L1468.5 1583.3L1467 1583.3L1465.5 1584L1464 1584.7L1462.4 1584.2L1460.9 1581.9L1459.4 1578.3L1458 1574.4L1456.4 1570.3L1454.9 1567.2L1453.5 1565.8L1452 1566.3L1450.7 1568.2L1449.4 1569.5L1448.1 1569.3L1446.8 1567.5L1445.5 1564.9L1444.2 1562.4L1442.9 1560.3L1441.6 1558.6L1440.3 1556.9L1439 1555.2L1437.5 1554L1436 1553.6L1434.5 1553.6L1433 1553.2L1431.5 1552.7L1429.9 1552.1L1428.4 1550.7L1427 1548.2L1425.7 1544.8L1424.4 1541.3L1423.2 1537.2L1422 1531.6L1420.7 1523.4L1419.4 1512.6L1418.2 1500.2L1417 1487.5L1415.6 1471L1414.3 1454.4L1413 1438.2L1411.8 1421.3L1410.6 1404.5L1409.5 1389.8L1408.3 1377.7L1407.1 1368L1406 1362.2L1404.5 1362L1403 1366.9L1401.8 1371.3L1400.5 1377.1L1399 1382L1397.6 1384.1L1396.1 1385.4L1394.5 1386.5L1393 1387.8L1391.5 1389L1390 1389.9L1388.5 1390.2L1387 1390.2L1385.7 1389.9L1384.4 1389.8L1383.1 1389.6L1381.8 1389L1380.5 1387.8L1379.2 1385.8L1377.9 1383.4L1376.6 1381L1375.3 1378.9L1374 1376.8L1372.5 1372.3L1371 1366.2L1369.5 1360.1L1368 1355.7L1366.5 1353.7L1365 1353.4L1363.5 1354.3L1362 1355.6L1360.7 1357.4L1359.5 1359.9L1358.2 1362.4L1356.9 1364.3L1355.5 1364.8L1354.1 1363.5L1352.6 1360.5L1351 1356.3L1349.5 1351.7L1348 1347.7L1346.5 1345.2L1345 1344.4L1343.5 1345.6L1342 1348.1L1340.5 1350.4L1339 1350.7L1337.5 1348.1L1336 1343.2L1334.5 1337.4L1333 1333L1331.5 1330.8L1329.9 1330.2L1328.4 1329.7L1326.9 1328L1325.5 1324.6L1323.9 1318.3L1322.4 1310.9L1321 1304.8L1319.5 1301.6L1318.2 1301.9L1317 1303.4L1315.7 1305.2L1314.4 1306.9L1313 1308.5L1311.5 1309.9L1310 1311.1L1308.5 1311.8L1307 1312.2L1305.5 1312.9L1304.1 1314.7L1302.8 1317.8L1301.5 1321.7L1300.3 1325.9L1299 1330L1297.4 1335.7L1295.9 1342L1294.4 1348.3L1293 1353.9L1291.7 1358.9L1290.6 1363.6L1289.4 1368L1288 1371.9L1286.6 1373.8L1285.1 1374.7L1283.5 1375.6L1282 1377.1L1280.5 1379.9L1279.1 1384.6L1277.8 1391L1276.5 1398.3L1275.3 1405.8L1274 1412.5L1272.5 1419.2L1271.1 1424.4L1269.6 1428.1L1268 1430.2L1266.6 1430.6L1265.1 1430.4L1263.6 1430.1L1262 1429.9L1260.5 1429.9L1259 1429.5L1257.5 1428.7L1256 1427.8L1254.5 1426.8L1253 1426L1251.5 1425.6L1250 1426L1248.5 1427.4L1247 1429.5L1245.5 1431.5L1244 1433L1242.5 1434.6L1241 1436.3L1239.5 1437.9L1238 1439.1L1236.5 1439.5L1235 1438.8L1233.5 1437.3L1232 1435.4L1230.5 1433.4L1229 1431.3L1227.5 1429.4L1226 1428.4L1224.5 1428.3L1223 1428.9L1221.5 1429.8L1220 1430.2L1218.5 1430.2L1217 1430.2L1215.5 1431.1L1214 1433L1212.5 1435.6L1211 1438.1L1209.5 1439.9L1208 1440.8L1206.5 1441.2L1205 1441.3L1203.5 1441.1L1202 1440.7L1200.5 1440.3L1199 1440.3L1197.5 1440.8L1196 1441.8L1194.5 1442.6L1193 1443.2L1191.5 1443.9L1190 1445L1188.5 1446.6L1187 1448.5L1185.5 1450.3L1184 1451.9L1182.5 1453.2L1181 1454.7L1179.5 1456.5L1178 1458.4L1176.5 1459.7L1175 1460.1L1173.5 1460L1172 1459.9L1170.5 1460.3L1169 1461.7L1167.5 1463.9L1166 1466.2L1164.5 1467.9L1163 1468.9L1161.5 1470.6L1160 1473.8L1158.5 1478L1157 1482.2L1155.5 1485.2L1154 1485.3L1152.5 1482.3L1151 1477.7L1149.5 1473.5L1148 1471.6L1146.5 1472.9L1145 1476.6L1143.5 1481.6L1142 1486.5L1140.5 1489.8L1139 1490.3L1137.5 1489.2L1136 1487.9L1134.5 1487.7L1133 1489L1131.5 1491.5L1130 1494.4L1128.5 1497.5L1127 1500.4L1125.5 1502.8L1124 1504.7L1122.5 1506.3L1121 1507.4L1119.5 1508.4L1118 1509.8L1116.5 1512.1L1115 1514.8L1113.5 1517.4L1112 1519.8L1110.5 1521.9L1109 1523.9L1107.5 1525.6L1106 1526.9L1104.5 1528L1103 1529L1101.5 1530.3L1100 1531.8L1098.5 1533.6L1097 1535.4L1095.5 1537.6L1094 1540.9L1092.4 1545.3L1090.8 1550.1L1089.3 1554.2L1088 1556.3L1086.6 1555.8L1085.5 1553.2L1084.4 1550.6L1083 1549.8L1081.7 1551.1L1080.2 1553.2L1078.6 1555.1L1077 1556.6L1075.5 1557.7L1074 1558.8L1072.5 1560L1071 1560.7L1069.5 1560.9L1068 1560.8L1066.5 1561L1065 1561.7L1063.5 1562.9L1062 1564.3L1060.5 1565.7L1059 1567.4L1057.4 1569.7L1055.9 1572.3L1054.4 1574.7L1053 1576.3L1051.4 1577.3L1049.9 1577.5L1048.5 1577.3L1047 1576.3L1045.8 1574.7L1044.5 1571.8L1043.3 1567.7L1041.9 1563.3L1040.5 1559.7L1039.2 1557.7L1037.7 1556.6L1036.2 1555.9L1034.8 1555.3L1033.3 1554.6L1032 1553.5L1030.6 1551.8L1029.3 1550L1028 1548.5L1026.8 1547.7L1025.5 1547.4L1024.2 1547.7L1022.8 1548.6L1021.5 1549.8L1020.2 1550.9L1019 1551.6L1017.6 1551.2L1016.4 1550L1015.2 1547.8L1014 1544.5L1012.8 1540.2L1011.5 1535L1010.2 1528.7L1009 1520.7L1007.7 1510.6L1006.5 1498.6L1005.2 1485.7L1004 1472.7L1002.4 1455.8L1000.9 1438.4L999.5 1420.4L998.1 1400.1L996.8 1379.8L995.5 1364.8L994.4 1357.1L993.3 1354L992 1354L990.9 1356.7L989.6 1361.6L988.3 1366.8L987 1370.7L985.8 1373.2L984.5 1375.2L983.2 1377L982 1378.7L980.6 1379.9L979.2 1380.4L977.9 1380.4L977 1380.4Z" fill="#8eeeea" fill-opacity="0.5"/>
<path d="M977 1374.4L977.9 1373L979.2 1370.2L980.6 1367.2L982 1364.9L983.2 1363.9L984.5 1363.3L985.8 1362L987 1359.4L988.3 1355.1L989.6 1349.9L990.9 1345.2L992 1342.7L993.3 1342.9L994.4 1346.4L995.5 1354.3L996.8 1368.3L998.1 1386.3L999.5 1404.2L1000.9 1420.7L1002.4 1436.9L1004 1452.2L1005.2 1463.1L1006.5 1474.1L1007.7 1484.6L1009 1494L1010.2 1502.3L1011.5 1509.9L1012.8 1517.1L1014 1523.7L1015.2 1529.2L1016.4 1532.8L1017.6 1534.5L1019 1534.7L1020.2 1533.6L1021.4 1531.9L1022.8 1530L1024.1 1528.4L1025.5 1527.5L1026.9 1527.9L1028.4 1529.3L1030 1531.7L1031.5 1534.4L1033 1536.7L1034.5 1538L1036 1538.4L1037.5 1538.8L1039 1539.7L1040.5 1541.3L1042 1543.2L1043.4 1544.6L1044.8 1545.4L1046.3 1545.5L1048 1545.1L1049.3 1544.2L1050.7 1543L1052.1 1541.5L1053.6 1540.4L1055.1 1539.9L1056.5 1539.9L1058 1540.1L1059.4 1539.8L1060.9 1539.1L1062.3 1538.2L1063.7 1537.3L1065.1 1536.4L1066.6 1535.3L1068 1534L1069.5 1532.8L1070.9 1532.1L1072.4 1531.8L1073.9 1531.7L1075.3 1531.3L1076.7 1530.4L1078 1529L1079.7 1526.1L1081.2 1522.5L1082.6 1518.5L1084 1514.7L1085.5 1511.7L1087 1509.3L1088.5 1506.7L1090 1503.4L1091.5 1499.2L1093 1494.7L1094.5 1490.6L1096 1487.3L1097.5 1484.8L1099 1482.4L1100.5 1479.8L1102 1476.9L1103.5 1474.4L1105 1472.6L1106.5 1471.4L1108 1470.3L1109.5 1468.5L1111 1465.8L1112.5 1462.5L1114 1459.3L1115.5 1456.9L1117 1456.3L1118.5 1457.4L1120 1458.8L1121.5 1459.3L1123 1457.8L1124.5 1454.8L1126 1451.8L1127.5 1449.5L1129 1447.4L1130.5 1445.2L1132 1442.3L1133.5 1439.1L1135 1436.2L1136.5 1433.9L1138 1432L1139.5 1430L1141 1428.1L1142.6 1426.6L1144.1 1425.8L1145.5 1425.3L1146.8 1425.5L1148.1 1426.3L1149.3 1427.6L1150.6 1428.6L1152 1428.6L1153.3 1427.5L1154.7 1425.3L1156.2 1422.3L1157.7 1419L1159.1 1416.2L1160.5 1414.5L1162.1 1413.9L1163.6 1413.5L1165 1412.9L1166.5 1411.9L1168 1410.8L1169.5 1410L1171 1410L1172.5 1410.3L1174 1410.6L1175.5 1410.3L1177 1409.4L1178.5 1407.8L1180 1406.1L1181.5 1404.8L1183 1404.2L1184.5 1405L1186 1406.9L1187.6 1409.1L1189.1 1410.7L1190.5 1410.7L1191.9 1408.6L1193.2 1404.7L1194.5 1400.2L1195.7 1396.5L1197 1394.5L1198.5 1394.8L1199.9 1396.4L1201.4 1397.7L1203 1397.6L1204.4 1396L1205.9 1393.3L1207.4 1389.7L1209 1385.9L1210.5 1383.4L1212 1382.8L1213.5 1383.5L1215 1384.8L1216.5 1385.9L1218 1386.7L1219.5 1386.9L1221 1386L1222.5 1384.3L1224 1382.4L1225.5 1381.5L1227 1382.6L1228.5 1385.1L1230.1 1388.4L1231.6 1391.5L1233 1394L1234.4 1395.8L1235.7 1397.1L1237 1397.7L1238.2 1397.3L1239.5 1396.5L1241 1394.6L1242.4 1391.7L1243.9 1388.5L1245.5 1386.3L1246.9 1386.2L1248.4 1388.2L1249.9 1391.7L1251.5 1395.3L1253 1397.9L1254.5 1399.4L1256 1400.5L1257.5 1401.8L1259 1403.3L1260.5 1404.6L1262 1405.1L1263.6 1404.8L1265.1 1403.5L1266.6 1401.4L1268 1398.5L1269.6 1394.1L1271.2 1388.9L1272.6 1383.5L1274 1378L1275.3 1372.8L1276.5 1367.6L1277.7 1361.8L1279 1355.2L1280.2 1348.6L1281.6 1341.1L1282.9 1333.5L1284.3 1326.7L1285.5 1321.2L1286.9 1316.5L1288.1 1313.2L1289.3 1310.8L1290.5 1308.7L1291.8 1307.4L1293 1307.3L1294.2 1307.4L1295.5 1306.3L1296.8 1303.5L1298 1299.4L1299.2 1295.2L1300.5 1291.8L1301.7 1289.6L1302.9 1288.2L1304.1 1286.8L1305.5 1284.8L1306.7 1281.8L1308 1277.7L1309.4 1273.7L1310.7 1271L1312 1270.5L1313.5 1272.8L1314.9 1277.1L1316.4 1281.8L1318 1285.9L1319.4 1288.6L1320.9 1291.1L1322.5 1293.2L1324 1295.1L1325.5 1296.9L1326.9 1298L1328.2 1298.2L1329.5 1297.9L1330.7 1297.2L1332 1296.7L1333.6 1297.4L1335.1 1299.4L1336.6 1302.3L1338 1305.2L1339.3 1307.7L1340.5 1310.3L1341.7 1313.1L1343 1315.8L1344.4 1317L1345.9 1315.7L1347.4 1312.7L1349 1310.3L1350.3 1309.9L1351.6 1311.3L1353 1313.9L1354.3 1316.9L1355.5 1319.5L1356.8 1322.5L1358 1325.3L1359.2 1327.6L1360.5 1329L1361.9 1328.9L1363.4 1327.3L1364.9 1325.6L1366.5 1325.4L1367.8 1327.2L1369.1 1330.5L1370.4 1334.7L1371.7 1338.7L1373 1341.6L1374.5 1344.1L1376 1346.2L1377.5 1347.8L1379 1348.8L1380.3 1349L1381.6 1348.6L1382.9 1347.5L1384.2 1346.1L1385.5 1345L1386.8 1345.2L1388.1 1346.5L1389.4 1348.3L1390.7 1349.4L1392 1349.6L1393.6 1349.2L1395.2 1349L1396.7 1349L1398 1348.5L1399.5 1344.2L1400.9 1337.4L1402 1331.1L1403.3 1324.9L1404.5 1323.7L1405.6 1326.8L1406.8 1332.7L1408 1342.1L1409.3 1356.2L1410.6 1374.4L1412 1394.1L1413.4 1415L1414.9 1436.7L1416.5 1456.9L1417.7 1471.1L1419 1484.6L1420.2 1496.5L1421.5 1505.9L1422.7 1512.7L1423.9 1517.6L1425.1 1521.2L1426.5 1523.8L1427.7 1524.7L1428.9 1524.3L1430.2 1522.9L1431.5 1521.5L1433 1520.5L1434.3 1519.8L1435.7 1519.3L1437.2 1518.8L1438.7 1518.4L1440.1 1518.2L1441.5 1518.4L1443 1519.5L1444.5 1521.6L1445.9 1524.2L1447.4 1527L1449 1529.4L1450.4 1530.9L1451.9 1532L1453.3 1532.7L1454.9 1533.3L1456.4 1534L1458 1534.8L1459.4 1535.3L1460.8 1535L1462.2 1533.7L1463.7 1531.3L1465.1 1528.3L1466.6 1525.6L1468 1524.1L1469.5 1523.9L1470.9 1524.5L1472.4 1524.9L1473.9 1524.8L1475.3 1524.7L1476.7 1525.1L1478 1525.7L1479.7 1525.5L1481.2 1524L1482.6 1520.7L1484 1516.9L1485.5 1513.8L1487 1512.2L1488.5 1511.9L1490 1512L1491.5 1511.4L1493 1509.7L1494.5 1507.3L1496 1504.4L1497.5 1501.6L1499 1499.2L1500.5 1497.1L1502 1495.1L1503.5 1492.6L1505 1489.4L1506.5 1485.5L1508 1481.4L1509.5 1478L1511 1475.8L1512.5 1475.1L1514 1475L1515.5 1474.5L1517 1473L1518.5 1471.1L1520 1469.3L1521.5 1468L1523 1467.2L1524.5 1466.4L1526 1465L1527.5 1462.4L1529 1458.8L1530.5 1455.1L1532 1452.3L1533.5 1450.7L1535 1449.7L1536.5 1448.4L1538 1446.1L1539.5 1442.4L1541 1437.7L1542.5 1433.3L1544 1430.4L1545.5 1429.5L1547 1430.5L1548.5 1432.5L1550 1434.3L1551.5 1434.9L1553 1433.9L1554.5 1431.2L1556 1427.5L1557.5 1423.6L1559 1420.1L1560.5 1417.9L1562 1418.3L1563.5 1421.1L1565 1424.9L1566.5 1428.2L1568 1429.6L1569.5 1428.5L1571 1425.6L1572.5 1421.8L1574 1418.4L1575.5 1415.9L1577 1414.7L1578.5 1414L1580 1413.2L1581.5 1412.3L1583 1411.2L1584.5 1409.7L1586 1407.8L1587.5 1405.4L1589 1403.3L1590.5 1402.1L1592 1402.2L1593.5 1403.4L1595 1404.8L1596.5 1406L1598 1406.1L1599.5 1404.5L1601 1401.4L1602.5 1397.8L1604 1394.8L1605.5 1393.7L1607 1395.4L1608.5 1398.9L1610 1402.9L1611.5 1406L1613 1407.8L1614.5 1408.2L1616 1407.8L1617.4 1406.8L1618.9 1405.2L1620.5 1403.1L1622 1400.3L1623.6 1396.4L1625.2 1392.4L1626.8 1389.2L1628.1 1387.6L1629 1387.9L1629 1415.7L1628.1 1414.9L1626.8 1415.7L1625.2 1417.6L1623.6 1420L1622 1422.4L1620.5 1424.7L1618.9 1427.5L1617.4 1430.5L1616 1433.2L1614.5 1434.7L1613 1434.6L1611.5 1432.8L1610 1429.9L1608.5 1426.6L1607 1423.5L1605.5 1421L1604 1420.1L1602.5 1420.9L1601 1423.5L1599.5 1426.8L1598 1429.7L1596.5 1431.2L1595 1431.8L1593.5 1432L1592 1432L1590.5 1432.1L1589 1433.2L1587.5 1435.3L1586 1438L1584.5 1440.7L1583 1442.8L1581.5 1443.6L1580 1442.7L1578.5 1440.8L1577 1438.7L1575.5 1438.3L1574 1440.6L1572.5 1445.4L1571 1451.2L1569.5 1456L1568 1458.2L1566.5 1456.9L1565 1453.2L1563.5 1448.8L1562 1445.3L1560.5 1443.9L1559 1445.1L1557.5 1448.2L1556 1452.3L1554.5 1456.4L1553 1459.7L1551.5 1461.3L1550 1461.5L1548.5 1461.1L1547 1460.9L1545.5 1461.6L1544 1463.1L1542.5 1465.1L1541 1467.3L1539.5 1469.7L1538 1471.6L1536.5 1472.7L1535 1473.8L1533.5 1475.5L1532 1478.1L1530.5 1481.5L1529 1485.3L1527.5 1488.7L1526 1491.2L1524.5 1492.8L1523 1494L1521.5 1495.4L1520 1497.1L1518.5 1498.4L1517 1498.8L1515.5 1498.6L1514 1498.2L1512.5 1498.1L1511 1499L1509.5 1501.2L1508 1504.1L1506.5 1507.6L1505 1511.6L1503.5 1515.8L1502 1520.1L1500.5 1523.7L1499 1526.1L1497.5 1527.2L1496 1527.7L1494.5 1528.3L1493 1529.4L1491.5 1531.5L1490 1534.3L1488.5 1537.4L1487 1540.4L1485.5 1542.9L1484 1545.3L1482.6 1547.8L1481.2 1550.4L1479.7 1552.3L1478 1553L1476.7 1552.3L1475.3 1551L1473.9 1549.9L1472.4 1549.1L1470.9 1548.6L1469.5 1548.4L1468 1548.7L1466.6 1549.5L1465.1 1550.9L1463.7 1552.5L1462.2 1553.7L1460.8 1554L1459.4 1552.9L1458 1550.9L1456.4 1548.5L1454.9 1546.6L1453.3 1545.4L1451.9 1545.1L1450.4 1545.4L1449 1545.9L1447.4 1545.8L1445.9 1544.8L1444.5 1543.1L1443 1541.3L1441.5 1539.7L1440.1 1538.7L1438.7 1538.3L1437.2 1538.6L1435.7 1539.3L1434.3 1539.9L1433 1540.1L1431.5 1540.2L1430.2 1540.5L1428.9 1540.8L1427.7 1540.8L1426.5 1540.3L1425.1 1538.7L1423.9 1536.1L1422.7 1531.3L1421.5 1523.5L1420.2 1512.4L1419 1498.7L1417.7 1484.3L1416.5 1470.1L1414.9 1450.8L1413.4 1430.5L1412 1411.2L1410.6 1393L1409.3 1376.3L1408 1363.4L1406.8 1355.4L1405.6 1350.9L1404.5 1348.9L1403.3 1350.2L1402 1355.4L1400.9 1360.6L1399.5 1367.7L1398 1373.8L1396.7 1377L1395.2 1379.2L1393.6 1380.4L1392 1380.6L1390.7 1379.9L1389.4 1378.4L1388.1 1377L1386.8 1376.6L1385.5 1377.4L1384.2 1378.8L1382.9 1380.1L1381.6 1380.7L1380.3 1380.8L1379 1380.8L1377.5 1380.4L1376 1379.5L1374.5 1377.5L1373 1374.1L1371.7 1370L1370.4 1365L1369.1 1360.1L1367.8 1356L1366.5 1353L1364.9 1351.6L1363.4 1352.2L1361.9 1353.7L1360.5 1355.4L1359.2 1356.4L1358 1356.6L1356.8 1355.5L1355.5 1353.2L1354.3 1350.2L1353 1345.9L1351.6 1341.3L1350.3 1337.3L1349 1335L1347.4 1335.5L1345.9 1338.1L1344.4 1341.1L1343 1342.5L1341.7 1342L1340.5 1340.2L1339.3 1337.6L1338 1334.6L1336.6 1331L1335.1 1327.3L1333.6 1324.1L1332 1322L1330.7 1320.9L1329.5 1320L1328.2 1319.7L1326.9 1320.4L1325.5 1322L1324 1323.7L1322.5 1325.2L1320.9 1325.8L1319.4 1325.5L1318 1323.9L1316.4 1319.4L1314.9 1312.9L1313.5 1306.7L1312 1302.9L1310.7 1302.3L1309.4 1303.6L1308 1305.8L1306.7 1308.1L1305.5 1309.9L1304.1 1311.7L1302.9 1313.3L1301.7 1314.9L1300.5 1317.1L1299.2 1320.5L1298 1325.4L1296.8 1330.4L1295.5 1334.2L1294.2 1335.5L1293 1335.1L1291.8 1334.3L1290.5 1334.7L1289.3 1335.7L1288.1 1336.5L1286.9 1337.9L1285.5 1341L1284.3 1345.3L1282.9 1351.1L1281.6 1357.6L1280.2 1364.4L1279 1371.6L1277.7 1380.1L1276.5 1388L1275.3 1395L1274 1401.4L1272.6 1407.7L1271.2 1413.9L1269.6 1419L1268 1422.4L1266.6 1424L1265.1 1425.1L1263.6 1425.9L1262 1426.1L1260.5 1425.8L1259 1424.8L1257.5 1423L1256 1420.8L1254.5 1418.4L1253 1416.5L1251.5 1415.3L1249.9 1414.5L1248.4 1414L1246.9 1413.7L1245.5 1413.9L1243.9 1415.4L1242.4 1418.1L1241 1421L1239.5 1422.9L1238.2 1423.5L1237 1423.8L1235.7 1423.5L1234.4 1422.5L1233 1420.5L1231.6 1417L1230.1 1412.9L1228.5 1409.2L1227 1406.7L1225.5 1405.5L1224 1405.5L1222.5 1406L1221 1406.9L1219.5 1407.8L1218 1408.4L1216.5 1408.5L1215 1408.4L1213.5 1408.4L1212 1408.4L1210.5 1408.9L1209 1410.7L1207.4 1413.8L1205.9 1417.7L1204.4 1421.4L1203 1423.8L1201.4 1424.3L1199.9 1423.1L1198.5 1421.7L1197 1421.7L1195.7 1423.6L1194.5 1427.2L1193.2 1431.8L1191.9 1436.2L1190.5 1438.7L1189.1 1438.3L1187.6 1435.8L1186 1432.3L1184.5 1429.3L1183 1427.8L1181.5 1428.3L1180 1430.3L1178.5 1433.5L1177 1437L1175.5 1439.9L1174 1441.4L1172.5 1441.3L1171 1440L1169.5 1438.8L1168 1438.8L1166.5 1439.9L1165 1441.4L1163.6 1442.6L1162.1 1443.6L1160.5 1445L1159.1 1447.2L1157.7 1450L1156.2 1452.6L1154.7 1454.5L1153.3 1455.4L1152 1455.5L1150.6 1454.6L1149.3 1453.3L1148.1 1452.4L1146.8 1452.4L1145.5 1453L1144.1 1453.9L1142.6 1454.3L1141 1454.8L1139.5 1455.8L1138 1457.7L1136.5 1460.3L1135 1463.3L1133.5 1466.1L1132 1468.6L1130.5 1470.9L1129 1473.7L1127.5 1477L1126 1480.2L1124.5 1482.6L1123 1483.9L1121.5 1483.9L1120 1483.2L1118.5 1482.5L1117 1482.1L1115.5 1482.2L1114 1482.8L1112.5 1483.8L1111 1485.5L1109.5 1488L1108 1491.2L1106.5 1494.4L1105 1497.3L1103.5 1499.6L1102 1501.4L1100.5 1502.9L1099 1504.4L1097.5 1506.3L1096 1508.6L1094.5 1511.4L1093 1514.7L1091.5 1518.5L1090 1522.7L1088.5 1526.9L1087 1530.8L1085.5 1534.1L1084 1537L1082.6 1539.8L1081.2 1542.6L1079.7 1545.4L1078 1547.9L1076.7 1549.2L1075.3 1550L1073.9 1550.2L1072.4 1550.1L1070.9 1550.2L1069.5 1550.8L1068 1552.1L1066.6 1553.4L1065.1 1554.5L1063.7 1555.3L1062.3 1556.2L1060.9 1557.6L1059.4 1559.3L1058 1560.7L1056.5 1561.6L1055.1 1562.1L1053.6 1562.8L1052.1 1564L1050.7 1565.1L1049.3 1565.4L1048 1564.4L1046.3 1562.1L1044.8 1559.4L1043.4 1557.3L1042 1556L1040.5 1555.2L1039 1554.8L1037.5 1554.7L1036 1554.8L1034.5 1554.9L1033 1554.3L1031.5 1552.8L1030 1550.5L1028.4 1548.4L1026.9 1547.1L1025.5 1546.9L1024.1 1547.6L1022.8 1548.5L1021.4 1549.3L1020.2 1549.7L1019 1549.7L1017.6 1549.1L1016.4 1547.8L1015.2 1545.4L1014 1541.2L1012.8 1535.8L1011.5 1529.4L1010.2 1522.2L1009 1513.7L1007.7 1503L1006.5 1490.4L1005.2 1477.4L1004 1465L1002.4 1449.3L1000.9 1433.5L999.5 1417.8L998.1 1400.7L996.8 1383.3L995.5 1369.8L994.4 1362.4L993.3 1359.4L992 1359.4L990.9 1361.9L989.6 1366.7L988.3 1372.1L987 1376.5L985.8 1379.6L984.5 1382.1L983.2 1384.4L982 1386.4L980.6 1388.6L979.2 1390.9L977.9 1393.3L977 1395.3Z" fill="#f3c58e" fill-opacity="0.5"/>
<path d="M977 1364.9L977.9 1365.8L979.2 1367L980.6 1368.2L982 1368.4L983.2 1367.6L984.5 1366L985.8 1363.6L987 1360.6L988.3 1356.2L989.6 1350.8L990.9 1346.4L992 1344.6L993.3 1345.8L994.4 1350.1L995.5 1359L996.8 1374.8L998.1 1395.3L999.5 1415.1L1000.9 1432.4L1002.4 1449L1004 1465.1L1005.2 1477.2L1006.5 1489L1007.7 1500L1009 1509.5L1010.2 1517.5L1011.5 1524.3L1012.8 1530.2L1014 1535.2L1015.2 1539.4L1016.4 1542.4L1017.6 1544.5L1019 1545.5L1020.2 1545L1021.5 1543.3L1022.8 1541.1L1024.2 1539.1L1025.5 1538L1026.8 1538.4L1028 1540.1L1029.3 1542.5L1030.6 1545L1032 1547L1033.3 1547.8L1034.8 1548L1036.2 1548L1037.7 1548L1039.2 1548.5L1040.5 1549.7L1041.9 1552.2L1043.3 1555.4L1044.5 1558.8L1045.8 1561.7L1047 1563.7L1048.5 1564.7L1049.9 1564.7L1051.4 1564.2L1053 1563.3L1054.4 1562.4L1055.9 1561.1L1057.4 1559.6L1059 1557.9L1060.5 1556.4L1062 1554.9L1063.5 1553.6L1065 1552.3L1066.5 1551L1068 1549.9L1069.5 1548.9L1071 1548L1072.5 1547.1L1074 1546.1L1075.5 1545.2L1077 1544.1L1078.6 1542.9L1080.2 1541.8L1081.7 1541.1L1083 1540.9L1084.4 1542L1085.5 1544.1L1086.6 1545.7L1088 1545.2L1089.3 1542.6L1090.8 1538.4L1092.4 1533.6L1094 1529.2L1095.5 1525.8L1097 1523.8L1098.5 1522.7L1100 1522.1L1101.5 1521.6L1103 1520.5L1104.5 1518.7L1106 1516.3L1107.5 1513.8L1109 1511.4L1110.5 1509.4L1112 1508L1113.5 1506.7L1115 1505.2L1116.5 1503.7L1118 1502L1119.5 1500.3L1121 1498.4L1122.5 1496.4L1124 1494.1L1125.5 1491.7L1127 1488.8L1128.5 1485.4L1130 1482.1L1131.5 1479.1L1133 1476.8L1134.5 1475.9L1136 1476.5L1137.5 1477.9L1139 1479.2L1140.5 1479.1L1142 1476.8L1143.5 1472.9L1145 1468.7L1146.5 1465.3L1148 1463.7L1149.5 1464.7L1151 1467.6L1152.5 1471.2L1154 1474L1155.5 1474.7L1157 1472.7L1158.5 1468.8L1160 1464.2L1161.5 1459.9L1163 1456.9L1164.5 1454.8L1166 1453L1167.5 1451.2L1169 1449.8L1170.5 1448.5L1172 1447.6L1173.5 1447L1175 1446.5L1176.5 1446.1L1178 1445.5L1179.5 1444.7L1181 1443.5L1182.5 1442.2L1184 1440.7L1185.5 1439.2L1187 1437.6L1188.5 1435.8L1190 1434L1191.5 1432.3L1193 1431L1194.5 1430.2L1196 1430L1197.5 1430L1199 1430L1200.5 1429.7L1202 1428.8L1203.5 1427.6L1205 1426.1L1206.5 1424.4L1208 1422.8L1209.5 1421.4L1211 1420.4L1212.5 1419.8L1214 1419.4L1215.5 1419L1217 1418.5L1218.5 1417.8L1220 1416.9L1221.5 1416.1L1223 1415.8L1224.5 1416.2L1226 1417.3L1227.5 1418.9L1229 1420.5L1230.5 1421.8L1232 1422.6L1233.5 1423.1L1235 1423.4L1236.5 1423.7L1238 1424.1L1239.5 1425.1L1241 1426.4L1242.5 1427.5L1244 1428.2L1245.5 1427.9L1247 1426.4L1248.5 1424.1L1250 1421.6L1251.5 1419.7L1253 1418.6L1254.5 1418.6L1256 1419.2L1257.5 1420.1L1259 1421L1260.5 1421.4L1262 1421.4L1263.6 1421.4L1265.1 1421.1L1266.6 1420.4L1268 1419.1L1269.6 1416.9L1271.1 1414L1272.5 1410.3L1274 1405.4L1275.3 1399.9L1276.5 1393.1L1277.8 1385.8L1279.1 1379.1L1280.5 1373.8L1282 1370.3L1283.5 1367.9L1285.1 1366.2L1286.6 1364.4L1288 1362L1289.4 1357.8L1290.6 1352.9L1291.7 1347.3L1293 1341.3L1294.4 1334.7L1295.9 1327.7L1297.4 1321.2L1299 1315.4L1300.3 1311.3L1301.5 1307.4L1302.8 1303.7L1304.1 1300.2L1305.5 1297.1L1307 1294.3L1308.5 1292L1310 1290.2L1311.5 1289L1313 1288.4L1314.4 1287.9L1315.7 1287.3L1317 1286.9L1318.2 1286.8L1319.5 1287.7L1321 1291.3L1322.4 1297L1323.9 1303.5L1325.5 1309.1L1326.9 1312.4L1328.4 1314.8L1329.9 1316.7L1331.5 1318.7L1333 1321.1L1334.5 1324.1L1336 1327.5L1337.5 1330.7L1339 1333.3L1340.5 1334.9L1342 1335.5L1343.5 1335.3L1345 1334.9L1346.5 1335.1L1348 1336.3L1349.5 1339.1L1351 1343.2L1352.6 1347.5L1354.1 1351.1L1355.5 1353L1356.9 1352.8L1358.2 1350.9L1359.5 1348.4L1360.7 1346L1362 1344.4L1363.5 1343.2L1365 1342.2L1366.5 1342.1L1368 1343.5L1369.5 1347.1L1371 1352.6L1372.5 1358.7L1374 1364.2L1375.3 1368.3L1376.6 1372.4L1377.9 1376.1L1379.2 1378.8L1380.5 1380.4L1381.8 1380.8L1383.1 1380.4L1384.4 1379.8L1385.7 1379.3L1387 1379.1L1388.5 1379L1390 1378.7L1391.5 1378.1L1393 1377.1L1394.5 1376.2L1396.1 1375.3L1397.6 1373.9L1399 1371.4L1400.5 1365.6L1401.8 1358.6L1403 1353.3L1404.5 1348.2L1406 1349.1L1407.1 1356.1L1408.3 1366.9L1409.5 1379.9L1410.6 1395.3L1411.8 1413L1413 1430.5L1414.3 1447.5L1415.6 1464.3L1417 1480.7L1418.2 1492.9L1419.4 1505L1420.7 1515.9L1422 1524.6L1423.2 1531L1424.4 1535.7L1425.7 1539.4L1427 1542.7L1428.4 1545L1429.9 1546L1431.5 1546L1433 1545.8L1434.5 1545.3L1436 1544.5L1437.5 1544.3L1439 1545.3L1440.3 1547.3L1441.6 1550.1L1442.9 1553L1444.2 1555.6L1445.5 1557.4L1446.8 1558.1L1448.1 1558L1449.4 1557.2L1450.7 1556L1452 1555.4L1453.5 1556.3L1454.9 1558.6L1456.4 1561.7L1458 1564.7L1459.4 1566.8L1460.9 1568.8L1462.4 1570.4L1464 1571.6L1465.5 1572.1L1467 1571.9L1468.5 1571.3L1470 1570.3L1471.5 1569L1473 1567.7L1474.5 1566.4L1476 1565L1477.5 1563.6L1479 1562L1480.5 1560.3L1482 1558.4L1483.5 1556.3L1485 1554.3L1486.5 1552.8L1488 1551.9L1489.5 1551.7L1491 1552L1492.5 1552.3L1494 1552.5L1495.5 1552L1497 1551L1498.5 1549.4L1500 1547L1501.5 1544.1L1503 1541L1504.5 1537.7L1506 1534.4L1507.5 1531.2L1509 1528.1L1510.5 1525.4L1512 1523.5L1513.5 1522.5L1515 1522.1L1516.5 1521.8L1518 1521L1519.5 1519.3L1521 1516.8L1522.5 1513.8L1524 1510.6L1525.5 1507.6L1527 1505L1528.5 1502.8L1530 1500.9L1531.5 1499.2L1533 1497.4L1534.5 1495.5L1536 1493.5L1537.5 1491.7L1539 1490L1540.5 1488.4L1542 1486.8L1543.5 1485.3L1545 1484L1546.5 1482.8L1548 1481.7L1549.5 1480.4L1551 1478.9L1552.5 1477L1554 1475L1555.5 1472.8L1557 1470.5L1558.5 1468.2L1560 1465.8L1561.5 1463.6L1563 1461.7L1564.5 1460.4L1566 1459.7L1567.5 1459.1L1569 1458.4L1570.5 1457.3L1572 1455.5L1573.5 1452.9L1575 1449.9L1576.5 1447L1578 1444.8L1579.5 1443.7L1581 1443.8L1582.5 1444.4L1584 1445L1585.5 1444.9L1587 1443.7L1588.6 1441.6L1590.1 1439L1591.6 1436.5L1593 1434.6L1594.7 1433.4L1596.2 1432.8L1597.7 1431.7L1599 1429.6L1600.4 1424L1601.7 1417.3L1603 1412.7L1604.2 1411.7L1605.4 1412L1606.7 1413.2L1608 1414.8L1609.2 1417.1L1610.3 1420L1611.6 1422.3L1613 1422.9L1614.3 1421.7L1615.8 1419.4L1617.3 1416.6L1618.9 1414.1L1620.5 1412.4L1622 1411.9L1623.6 1412L1625.2 1412.6L1626.8 1413.2L1628.1 1413.7L1629 1413.9" fill="none" stroke="#5ab2b6" stroke-width="3.2" stroke-linejoin="round"/>
<path d="M977 1386L977.9 1384L979.2 1380.7L980.6 1376.8L982 1373.5L983.2 1371.3L984.5 1369.7L985.8 1368.1L987 1365.9L988.3 1362L989.6 1357L990.9 1352.5L992 1350.2L993.3 1350.5L994.4 1353.9L995.5 1361.8L996.8 1375.7L998.1 1393.7L999.5 1411.5L1000.9 1427.8L1002.4 1444L1004 1459.8L1005.2 1471.6L1006.5 1483.4L1007.7 1494.6L1009 1504.2L1010.2 1512.2L1011.5 1519.1L1012.8 1525.3L1014 1530.8L1015.2 1535.4L1016.4 1538.5L1017.6 1540.5L1019 1541.7L1020.2 1541.9L1021.4 1541.3L1022.8 1540.4L1024.1 1539.6L1025.5 1539.5L1026.9 1540.2L1028.4 1541.4L1030 1542.8L1031.5 1544.2L1033 1545.2L1034.5 1545.7L1036 1545.8L1037.5 1545.7L1039 1545.7L1040.5 1546L1042 1546.6L1043.4 1547.7L1044.8 1549.2L1046.3 1550.8L1048 1552L1049.3 1552.6L1050.7 1552.5L1052.1 1552L1053.6 1551.2L1055.1 1550.6L1056.5 1550.3L1058 1550.2L1059.4 1550L1060.9 1549.4L1062.3 1548.5L1063.7 1547.3L1065.1 1546.3L1066.6 1545.3L1068 1544.5L1069.5 1543.9L1070.9 1543.2L1072.4 1542.4L1073.9 1541.4L1075.3 1540.2L1076.7 1538.7L1078 1537.1L1079.7 1534.7L1081.2 1531.8L1082.6 1528.7L1084 1525.5L1085.5 1522.4L1087 1519.4L1088.5 1516.4L1090 1513.4L1091.5 1510.1L1093 1506.7L1094.5 1503.2L1096 1499.8L1097.5 1496.6L1099 1493.8L1100.5 1491.3L1102 1489.3L1103.5 1487.6L1105 1486L1106.5 1484.4L1108 1482.5L1109.5 1480L1111 1477.4L1112.5 1475L1114 1473L1115.5 1471.5L1117 1470.7L1118.5 1470.7L1120 1471L1121.5 1471L1123 1470.1L1124.5 1467.8L1126 1464.8L1127.5 1461.4L1129 1458.1L1130.5 1455.2L1132 1452.7L1133.5 1450.4L1135 1448.2L1136.5 1446.2L1138 1444.3L1139.5 1442.4L1141 1440.8L1142.6 1439.5L1144.1 1438.5L1145.5 1437.8L1146.8 1437.8L1148.1 1438.7L1149.3 1439.9L1150.6 1441L1152 1441.2L1153.3 1440.3L1154.7 1438.5L1156.2 1436L1157.7 1433.1L1159.1 1430.4L1160.5 1428.2L1162.1 1426.7L1163.6 1426.1L1165 1425.7L1166.5 1425.4L1168 1424.8L1169.5 1424.3L1171 1424.1L1172.5 1424L1174 1423.6L1175.5 1423L1177 1421.9L1178.5 1420.5L1180 1418.9L1181.5 1417.5L1183 1416.8L1184.5 1417.4L1186 1419.4L1187.6 1421.6L1189.1 1423L1190.5 1422.8L1191.9 1420.3L1193.2 1416.5L1194.5 1412.5L1195.7 1409.3L1197 1407.5L1198.5 1407.8L1199.9 1409.5L1201.4 1411.3L1203 1411.7L1204.4 1410.2L1205.9 1407.6L1207.4 1404.3L1209 1401L1210.5 1398.8L1212 1397.8L1213.5 1397.7L1215 1397.7L1216.5 1397.5L1218 1396.7L1219.5 1395.2L1221 1393.5L1222.5 1392L1224 1391.5L1225.5 1392.3L1227 1394.6L1228.5 1397.7L1230.1 1400.9L1231.6 1403.8L1233 1405.7L1234.4 1406.5L1235.7 1406.7L1237 1406.4L1238.2 1405.9L1239.5 1405.2L1241 1403.7L1242.4 1401.3L1243.9 1399L1245.5 1397.9L1246.9 1398.5L1248.4 1400.3L1249.9 1402.8L1251.5 1405.3L1253 1407.3L1254.5 1408.7L1256 1410.1L1257.5 1411.2L1259 1412.2L1260.5 1412.8L1262 1412.9L1263.6 1412.6L1265.1 1411.6L1266.6 1410L1268 1407.7L1269.6 1403.9L1271.2 1399.3L1272.6 1394.3L1274 1389L1275.3 1383.6L1276.5 1377.7L1277.7 1371.2L1279 1363.9L1280.2 1356.9L1281.6 1349L1282.9 1341.3L1284.3 1334.6L1285.5 1329.7L1286.9 1326.2L1288.1 1324.5L1289.3 1323.6L1290.5 1322.7L1291.8 1322L1293 1321.9L1294.2 1321.5L1295.5 1320L1296.8 1317.1L1298 1313.6L1299.2 1310.3L1300.5 1307.8L1301.7 1306.1L1302.9 1304.7L1304.1 1302.9L1305.5 1300.6L1306.7 1297.8L1308 1294.7L1309.4 1292.1L1310.7 1290.7L1312 1290.8L1313.5 1293.5L1314.9 1297.9L1316.4 1302.5L1318 1305.7L1319.4 1307L1320.9 1307.9L1322.5 1308.6L1324 1309.1L1325.5 1309.4L1326.9 1309.2L1328.2 1308.4L1329.5 1307.7L1330.7 1307.5L1332 1308.3L1333.6 1310.8L1335.1 1314.6L1336.6 1318.7L1338 1321.9L1339.3 1324.2L1340.5 1326.2L1341.7 1327.5L1343 1327.9L1344.4 1326.6L1345.9 1324.2L1347.4 1322.1L1349 1321.8L1350.3 1323.3L1351.6 1325.9L1353 1329.3L1354.3 1333.1L1355.5 1336.5L1356.8 1340.2L1358 1343.5L1359.2 1346.1L1360.5 1347.5L1361.9 1346.9L1363.4 1344.8L1364.9 1342.7L1366.5 1342.1L1367.8 1343.5L1369.1 1346.2L1370.4 1349.5L1371.7 1352.8L1373 1355.5L1374.5 1358.2L1376 1360.5L1377.5 1362.4L1379 1363.4L1380.3 1363.3L1381.6 1362.8L1382.9 1362L1384.2 1361.5L1385.5 1361.4L1386.8 1362.1L1388.1 1363.3L1389.4 1364.6L1390.7 1365.5L1392 1365.8L1393.6 1365.7L1395.2 1365.2L1396.7 1364.2L1398 1362.4L1399.5 1357L1400.9 1349.6L1402 1343.5L1403.3 1337.8L1404.5 1336.8L1405.6 1339.6L1406.8 1345.2L1408 1354.3L1409.3 1367.9L1410.6 1385.3L1412 1403.9L1413.4 1423.5L1414.9 1444.2L1416.5 1463.8L1417.7 1477.9L1419 1491.9L1420.2 1504.6L1421.5 1514.8L1422.7 1522L1423.9 1526.7L1425.1 1529.7L1426.5 1532L1427.7 1533.3L1428.9 1533.8L1430.2 1533.7L1431.5 1533.2L1433 1532.6L1434.3 1532L1435.7 1531.1L1437.2 1530.2L1438.7 1529.5L1440.1 1529L1441.5 1529.1L1443 1530.1L1444.5 1531.9L1445.9 1533.9L1447.4 1535.7L1449 1536.9L1450.4 1537.5L1451.9 1538.3L1453.3 1539.5L1454.9 1540.8L1456.4 1542L1458 1543L1459.4 1543.4L1460.8 1543.2L1462.2 1542.5L1463.7 1541.3L1465.1 1540L1466.6 1539.2L1468 1538.8L1469.5 1538.8L1470.9 1538.9L1472.4 1538.8L1473.9 1538.8L1475.3 1538.7L1476.7 1538.6L1478 1538.4L1479.7 1537.5L1481.2 1536.1L1482.6 1534.2L1484 1531.9L1485.5 1529.4L1487 1526.6L1488.5 1523.6L1490 1520.8L1491.5 1518.2L1493 1516.2L1494.5 1514.9L1496 1513.8L1497.5 1512.8L1499 1511.5L1500.5 1509.6L1502 1506.7L1503.5 1503.5L1505 1500.3L1506.5 1497.5L1508 1495.1L1509.5 1493.1L1511 1491.1L1512.5 1489.3L1514 1487.9L1515.5 1486.6L1517 1485.4L1518.5 1484.3L1520 1483.2L1521.5 1482L1523 1480.6L1524.5 1478.9L1526 1476.9L1527.5 1474.7L1529 1472.4L1530.5 1470.1L1532 1467.8L1533.5 1465.6L1535 1463.4L1536.5 1461.2L1538 1458.9L1539.5 1456.1L1541 1453.1L1542.5 1450.2L1544 1447.9L1545.5 1446.4L1547 1446L1548.5 1446.6L1550 1447.3L1551.5 1447.5L1553 1446.6L1554.5 1444.2L1556 1440.8L1557.5 1437.3L1559 1434.5L1560.5 1433L1562 1433.5L1563.5 1435.6L1565 1438.3L1566.5 1440.3L1568 1440.6L1569.5 1438.6L1571 1434.8L1572.5 1430.6L1574 1426.8L1575.5 1424.3L1577 1423.5L1578.5 1423.7L1580 1424.1L1581.5 1424.5L1583 1424.1L1584.5 1422.9L1586 1420.9L1587.5 1418.6L1589 1416.7L1590.5 1415.7L1592 1416.1L1593.5 1417.2L1595 1418.3L1596.5 1419.1L1598 1419.2L1599.5 1418.3L1601 1416.6L1602.5 1414.6L1604 1412.8L1605.5 1412L1607 1412.9L1608.5 1415.2L1610 1418L1611.5 1420.3L1613 1421.3L1614.5 1420.7L1616 1419.3L1617.4 1417.3L1618.9 1415L1620.5 1412.8L1622 1410.9L1623.6 1408.9L1625.2 1407L1626.8 1405.6L1628.1 1404.6L1629 1404.1" fill="none" stroke="#e08a12" stroke-width="3.2" stroke-linejoin="round"/>
<path d="M976.6 1232V1616.5M967.9 1232H985.1M967.9 1606H1767M1372 1595.5V1616.5M1767 1595.5V1616.5" stroke="#2e2e2e" stroke-width="1.5" stroke-linecap="round" fill="none"/>
<path d="M1439.5 1588H1535.5" stroke="#000" stroke-width="3"/>
<text font-size="35" transform="translate(960.8 1242.5) scale(1 1.04)" text-anchor="end" fill="#111">2.4</text>
<text font-size="35" transform="translate(961.6 1616) scale(1 1.04)" text-anchor="end" fill="#111">1.5</text>
<rect x="347" y="1753.5" width="258" height="363" fill="#e6e6e6"/>
<path d="M100 1790.8L101.3 1794.6L103.3 1800L105.4 1806.5L107.5 1813.9L109.4 1822.1L111.2 1831.3L113.1 1841.4L115 1852.2L116.9 1863.9L118.8 1876.6L120.6 1889.7L122.5 1902.9L124.4 1916.3L126.2 1929.9L128.1 1943.3L130 1955.8L131.9 1967.4L133.8 1978.5L135.6 1988.7L137.5 1997.7L139.4 2005.2L141.2 2011.7L143.1 2017.1L145 2021.7L146.8 2025.1L148.6 2027.5L150.4 2029.3L152.5 2030.8L154 2031.6L155.5 2032.2L157 2032.7L158.7 2033.1L160.5 2033.3L162.5 2033.5L164.2 2033.4L166 2033.2L168 2032.9L170 2032.6L172 2032.3L174 2032L175.8 2031.8L177.5 2031.8L179.5 2032.1L181.2 2032.5L182.8 2033.1L184.4 2033.7L185.9 2034.4L187.5 2035.2L189.2 2036L190.9 2037.1L192.7 2038.2L194.4 2039.2L196 2040.1L197.5 2040.7L199.5 2041.2L201.2 2041.3L203 2041L205 2040.2L206.5 2039.5L208.1 2038.5L209.7 2037.3L211.4 2036L213.2 2034.6L215 2033.1L216.7 2031.6L218.4 2029.9L220.2 2028L222 2026.1L223.9 2024.3L225.7 2022.7L227.5 2021.3L229.3 2020.1L231 2019.1L232.7 2018.2L234.5 2017.5L236.2 2016.8L238.1 2016.1L240 2015.5L241.8 2014.9L243.6 2014.4L245.4 2014L247.3 2013.6L249.3 2013.3L251.2 2012.9L253.1 2012.4L255 2012L256.9 2011.5L258.8 2011L260.6 2010.5L262.5 2010L264.4 2009.4L266.2 2008.9L268.1 2008.2L270 2007.5L271.9 2006.8L273.8 2005.9L275.6 2005L277.5 2004.1L279.4 2003.2L281.2 2002.2L283.1 2001.2L285 2000.2L286.9 1999.2L288.8 1998.2L290.6 1997.1L292.5 1996.1L294.4 1995L296.2 1993.9L298.1 1992.9L300 1992L301.9 1991.1L303.8 1990.2L305.6 1989.4L307.5 1988.7L309.4 1987.9L311.2 1987.1L313.1 1986.2L315 1985.2L316.9 1984.1L318.8 1982.9L320.6 1981.7L322.5 1980.5L324.4 1979.2L326.2 1977.9L328.1 1976.6L330 1975.4L331.9 1974.2L333.8 1973L335.7 1971.7L337.7 1970.5L339.6 1969.3L341.4 1968.2L343.2 1967.2L345 1966.2L346.9 1965.2L348.8 1964.3L350.7 1963.5L352.4 1962.7L354.2 1962.1L355.9 1961.6L357.5 1961.1L359.3 1960.8L361 1960.7L362.7 1960.7L364.3 1960.8L365.9 1961L367.5 1961.3L369.2 1961.8L370.8 1962.6L372.5 1963.6L374.2 1964.5L375.8 1965.2L377.5 1965.6L379.2 1965.6L380.8 1965.4L382.5 1964.9L384.2 1964.2L385.8 1963.1L387.5 1961.8L389.2 1960L390.8 1957.8L392.5 1955.3L394.2 1952.6L395.8 1949.6L397.5 1946.4L399.2 1943.1L400.8 1939.5L402.5 1935.7L404.2 1931.8L405.8 1927.6L407.5 1923.2L409.2 1918.5L410.8 1913.6L412.5 1908.4L414.2 1903.2L415.8 1897.8L417.5 1892.4L419.2 1887L420.8 1881.4L422.5 1875.7L424.2 1869.9L425.8 1864.1L427.5 1858.4L429.2 1852.7L430.8 1847L432.5 1841.3L434.2 1835.7L435.8 1830.3L437.5 1825.2L439.2 1820.4L440.8 1815.7L442.5 1811.3L444.2 1807.1L445.8 1803.1L447.5 1799.4L449.1 1796L450.7 1792.9L452.3 1790L454 1787.3L455.7 1784.9L457.5 1782.6L459.2 1780.8L460.9 1779.2L462.7 1777.8L464.5 1776.5L466.4 1775.3L468.2 1774.2L470 1773.2L471.8 1772.3L473.6 1771.5L475.5 1770.8L477.3 1770.2L479.1 1769.5L480.8 1768.8L482.5 1768L484.3 1766.8L485.9 1765.5L487.5 1764.1L489.1 1762.7L490.7 1761.4L492.5 1760.3L494.2 1759.5L495.9 1758.7L497.7 1757.9L499.5 1757.3L501.4 1756.7L503.2 1756.3L505 1756.1L506.8 1756.2L508.6 1756.4L510.4 1756.9L512.1 1757.4L513.9 1758L515.7 1758.5L517.5 1758.9L519.3 1759.3L521.1 1759.7L522.9 1760L524.6 1760.3L526.4 1760.7L528.2 1761L530 1761.4L531.8 1761.7L533.6 1762L535.4 1762.3L537.1 1762.6L538.9 1763L540.7 1763.4L542.5 1763.9L544.3 1764.5L546.1 1765.2L547.9 1765.9L549.6 1766.7L551.4 1767.4L553.2 1768.2L555 1768.9L556.8 1769.6L558.6 1770.3L560.4 1771L562.1 1771.6L563.9 1772.3L565.7 1772.9L567.5 1773.4L569.3 1773.9L571.1 1774.4L572.9 1774.9L574.6 1775.3L576.4 1775.7L578.2 1775.9L580 1775.9L581.8 1775.7L583.6 1775.3L585.5 1774.7L587.3 1774.1L589.1 1773.4L590.8 1772.8L592.5 1772.4L594.3 1771.9L596.1 1771.5L597.8 1771.1L599.4 1771L601 1771.1L602.5 1771.6L604.6 1772.7L606.4 1774.2L608.2 1776.5L610 1779.7L611.9 1783.8L613.8 1788.7L615.6 1794.6L617.5 1801.4L619.4 1809.1L621.2 1817.8L623.1 1827.5L625 1838L626.9 1849.7L628.8 1862.5L630.6 1875.7L632.5 1888.8L634.4 1902L636.2 1915.5L638.1 1928.7L640 1941L641.9 1952.6L643.8 1963.6L645.6 1973.8L647.5 1983L649.4 1991.2L651.2 1998.5L653.1 2004.8L655 2010.1L656.8 2014.1L658.6 2016.9L660.4 2019.1L662.5 2021.1L664 2022.4L665.6 2023.5L667.2 2024.5L668.9 2025.3L670.7 2026L672.5 2026.6L674.2 2027L675.9 2027.1L677.7 2027.1L679.5 2027.1L681.4 2027.1L683.2 2027.2L685 2027.5L686.8 2028.1L688.6 2028.8L690.5 2029.6L692.3 2030.4L694.1 2031.3L695.8 2032.2L697.5 2032.9L699.3 2033.8L701 2034.7L702.7 2035.7L704.3 2036.5L705.9 2037.2L707.5 2037.7L709.1 2038L710.7 2038.3L712.3 2038.4L714 2038.3L715.7 2038.1L717.5 2037.6L719.1 2036.9L720.8 2036L722.6 2034.9L724.3 2033.7L726.2 2032.5L728.1 2031.2L730 2029.9L731.8 2028.7L733.6 2027.5L735.4 2026.2L737.3 2024.9L739.3 2023.5L741.2 2022.2L743.1 2020.9L745 2019.7L746.9 2018.5L748.8 2017.3L750.6 2016.1L752.5 2015L754.4 2013.8L756.2 2012.7L758.1 2011.6L760 2010.5L761.9 2009.4L763.8 2008.3L765.6 2007.2L767.5 2006.1L769.4 2005L771.2 2003.9L773.1 2002.7L775 2001.5L776.9 2000.3L778.8 1999.1L780.6 1997.9L782.5 1996.6L784.4 1995.4L786.2 1994.1L788.1 1992.9L790 1991.7L791.9 1990.5L793.8 1989.3L795.6 1988.1L797.5 1986.9L799.4 1985.7L801.2 1984.6L803.1 1983.4L805 1982.3L806.9 1981.2L808.8 1980.1L810.6 1979L812.5 1977.9L814.4 1976.8L816.2 1975.8L818.1 1974.8L820 1973.9L821.9 1973.1L823.7 1972.4L825.5 1971.7L827.3 1971.1L829.1 1970.4L831 1969.7L833 1969L835 1968L836.8 1967.1L838.8 1966.1L840.9 1965L843 1963.8L845.2 1962.6L847.3 1961.5L849.2 1960.4L850.9 1959.4L852.4 1958.6L853.5 1958L853.5 1989L852.4 1989.5L850.9 1990.1L849.2 1990.9L847.3 1991.8L845.2 1992.7L843 1993.7L840.9 1994.6L838.8 1995.5L836.8 1996.3L835 1997L833 1997.6L831 1998.2L829.1 1998.7L827.3 1999.1L825.5 1999.5L823.7 2000L821.9 2000.5L820 2001.1L818.1 2001.8L816.2 2002.5L814.4 2003.3L812.5 2004.2L810.6 2005L808.8 2005.9L806.9 2006.8L805 2007.7L803.1 2008.6L801.2 2009.5L799.4 2010.5L797.5 2011.4L795.6 2012.4L793.8 2013.4L791.9 2014.3L790 2015.3L788.1 2016.3L786.2 2017.3L784.4 2018.4L782.5 2019.4L780.6 2020.4L778.8 2021.5L776.9 2022.5L775 2023.5L773.1 2024.5L771.2 2025.4L769.4 2026.4L767.5 2027.4L765.6 2028.4L763.8 2029.4L761.9 2030.5L760 2031.5L758.1 2032.6L756.2 2033.7L754.4 2034.7L752.5 2035.8L750.6 2036.9L748.8 2038L746.9 2039.2L745 2040.3L743.1 2041.5L741.2 2042.8L739.3 2044L737.3 2045.3L735.4 2046.6L733.6 2047.8L731.8 2049L730 2050.1L728.1 2051.4L726.2 2052.6L724.3 2053.8L722.6 2055L720.8 2056L719.1 2056.8L717.5 2057.4L715.7 2057.9L714 2058.1L712.3 2058.2L710.7 2058L709.1 2057.7L707.5 2057.3L705.9 2056.7L704.3 2056L702.7 2055.1L701 2054.1L699.3 2053.1L697.5 2052.1L695.8 2051.1L694.1 2050.1L692.3 2049.1L690.5 2048L688.6 2047.1L686.8 2046.2L685 2045.5L683.2 2045L681.4 2044.7L679.5 2044.5L677.7 2044.3L675.9 2044.2L674.2 2043.9L672.5 2043.4L670.7 2042.6L668.9 2041.7L667.2 2040.7L665.6 2039.6L664 2038.3L662.5 2036.9L660.4 2034.6L658.6 2032.2L656.8 2029.2L655 2024.9L653.1 2019.4L651.2 2012.9L649.4 2005.4L647.5 1997L645.6 1987.5L643.8 1977L641.9 1965.8L640 1954L638.1 1941.4L636.2 1927.9L634.4 1914.3L632.5 1901.2L630.6 1888.2L628.8 1875.3L626.9 1863L625 1852L623.1 1842.2L621.2 1833.4L619.4 1825.6L617.5 1818.6L615.6 1812.7L613.8 1807.7L611.9 1803.6L610 1800.3L608.2 1798L606.4 1796.6L604.6 1795.8L602.5 1795.4L601 1795.4L599.4 1795.7L597.8 1796.1L596.1 1796.6L594.3 1797.2L592.5 1797.6L590.8 1798.1L589.1 1798.6L587.3 1799.3L585.5 1799.9L583.6 1800.5L581.8 1800.9L580 1801.1L578.2 1801.1L576.4 1800.9L574.6 1800.6L572.9 1800.1L571.1 1799.6L569.3 1799.1L567.5 1798.6L565.7 1798.1L563.9 1797.5L562.1 1796.8L560.4 1796.2L558.6 1795.5L556.8 1794.8L555 1794.1L553.2 1793.4L551.4 1792.6L549.6 1791.9L547.9 1791.1L546.1 1790.4L544.3 1789.7L542.5 1789.1L540.7 1788.6L538.9 1788.2L537.1 1787.9L535.4 1787.6L533.6 1787.3L531.8 1786.9L530 1786.6L528.2 1786.3L526.4 1785.9L524.6 1785.6L522.9 1785.2L521.1 1784.8L519.3 1784.5L517.5 1784.1L515.7 1783.6L513.9 1783L512.1 1782.4L510.4 1781.8L508.6 1781.3L506.8 1781L505 1780.9L503.2 1781L501.4 1781.3L499.5 1781.8L497.7 1782.4L495.9 1783.1L494.2 1783.9L492.5 1784.7L490.7 1785.7L489.1 1786.9L487.5 1788.3L485.9 1789.6L484.3 1790.9L482.5 1792L480.8 1792.8L479.1 1793.4L477.3 1794L475.5 1794.6L473.6 1795.2L471.8 1795.9L470 1796.8L468.2 1797.8L466.4 1798.8L464.5 1799.9L462.7 1801.1L460.9 1802.4L459.2 1803.8L457.5 1805.4L455.7 1807.4L454 1809.6L452.3 1812L450.7 1814.6L449.1 1817.5L447.5 1820.6L445.8 1824L444.2 1827.7L442.5 1831.7L440.8 1835.8L439.2 1840.2L437.5 1844.8L435.8 1849.6L434.2 1854.7L432.5 1860L430.8 1865.4L429.2 1871L427.5 1876.6L425.8 1882.3L424.2 1888.2L422.5 1894.3L420.8 1900.4L419.2 1906.5L417.5 1912.6L415.8 1918.5L414.2 1924.4L412.5 1930.3L410.8 1936L409.2 1941.6L407.5 1946.8L405.8 1951.8L404.2 1956.6L402.5 1961.1L400.8 1965.5L399.2 1969.6L397.5 1973.6L395.8 1977.4L394.2 1981L392.5 1984.5L390.8 1987.7L389.2 1990.6L387.5 1993.2L385.8 1995.5L384.2 1997.4L382.5 1999.1L380.8 2000.4L379.2 2001.5L377.5 2002.4L375.8 2002.9L374.2 2003L372.5 2002.7L370.8 2002.3L369.2 2002L367.5 2001.7L365.9 2001.6L364.3 2001.5L362.7 2001.4L361 2001.4L359.3 2001.6L357.5 2001.9L355.9 2002.3L354.2 2002.8L352.4 2003.5L350.7 2004.2L348.8 2005L346.9 2005.9L345 2006.8L343.2 2007.6L341.4 2008.5L339.6 2009.5L337.7 2010.5L335.7 2011.5L333.8 2012.5L331.9 2013.6L330 2014.6L328.1 2015.6L326.2 2016.7L324.4 2017.8L322.5 2018.9L320.6 2019.9L318.8 2021L316.9 2021.9L315 2022.8L313.1 2023.6L311.2 2024.3L309.4 2024.9L307.5 2025.5L305.6 2026.1L303.8 2026.7L301.9 2027.3L300 2028L298.1 2028.8L296.2 2029.6L294.4 2030.5L292.5 2031.4L290.6 2032.3L288.8 2033.1L286.9 2034L285 2034.8L283.1 2035.5L281.2 2036.3L279.4 2037.1L277.5 2037.9L275.6 2038.6L273.8 2039.3L271.9 2039.9L270 2040.5L268.1 2040.9L266.2 2041.4L264.4 2041.7L262.5 2042L260.6 2042.3L258.8 2042.5L256.9 2042.8L255 2043L253.1 2043.2L251.2 2043.4L249.3 2043.6L247.3 2043.7L245.4 2043.8L243.6 2044L241.8 2044.2L240 2044.5L238.1 2045L236.2 2045.4L234.5 2045.9L232.7 2046.4L231 2047L229.3 2047.8L227.5 2048.7L225.7 2049.9L223.9 2051.3L222 2052.9L220.2 2054.6L218.4 2056.2L216.7 2057.7L215 2058.9L213.2 2060.2L211.4 2061.4L209.7 2062.5L208.1 2063.5L206.5 2064.2L205 2064.8L203 2065.3L201.2 2065.4L199.5 2065L197.5 2064.3L196 2063.4L194.4 2062.3L192.7 2060.9L190.9 2059.4L189.2 2058L187.5 2056.8L185.9 2055.7L184.4 2054.6L182.8 2053.6L181.2 2052.7L179.5 2051.9L177.5 2051.2L175.8 2050.8L174 2050.6L172 2050.4L170 2050.3L168 2050.3L166 2050.1L164.2 2049.9L162.5 2049.5L160.5 2048.9L158.7 2048.3L157 2047.5L155.5 2046.6L154 2045.5L152.5 2044.2L150.4 2042.3L148.6 2040.1L146.8 2037.3L145 2033.3L143.1 2028.3L141.2 2022.4L139.4 2015.4L137.5 2007.3L135.6 1997.9L133.8 1987.4L131.9 1976L130 1964.2L128.1 1951.8L126.2 1938.5L124.4 1925.1L122.5 1912.1L120.6 1899.3L118.8 1886.5L116.9 1874.2L115 1862.8L113.1 1852.4L111.2 1842.7L109.4 1833.9L107.5 1826.1L105.4 1819.1L103.3 1812.8L101.3 1807.7L100 1804.2Z" fill="#8eeeea" fill-opacity="0.5"/>
<path d="M100 1797.1L101.3 1801.2L103.3 1806.9L105.4 1813.8L107.5 1821.2L109.4 1829.1L111.2 1837.6L113.1 1846.9L115 1857L116.9 1868.1L118.8 1880.2L120.6 1892.7L122.5 1905.2L124.4 1918L126.2 1931L128.1 1943.8L130 1955.6L131.9 1966.7L133.8 1977.2L135.6 1986.7L137.5 1995L139.4 2002L141.2 2007.8L143.1 2012.6L145 2016.5L146.8 2019.3L148.6 2021.1L150.4 2022.2L152.5 2023.1L153.9 2023.5L155.4 2023.7L156.9 2023.8L158.5 2023.7L160.4 2023.5L162.5 2023.3L164.1 2022.9L165.8 2022.5L167.7 2022.1L169.6 2021.5L171.6 2021L173.7 2020.4L175.8 2019.8L177.9 2019.3L180 2018.7L181.7 2018.3L183.5 2017.8L185.3 2017.4L187.1 2016.9L188.9 2016.4L190.8 2016L192.6 2015.5L194.5 2015.1L196.3 2014.8L198.2 2014.4L200 2014.2L201.9 2014L203.8 2013.8L205.7 2013.7L207.7 2013.6L209.7 2013.5L211.6 2013.5L213.5 2013.4L215.3 2013.3L217 2013.2L218.6 2013L220 2012.8L222.2 2012.5L223.9 2012.1L225.3 2011.7L226.7 2011.1L228.2 2010.3L230 2009.2L231.6 2008.1L233.3 2006.7L235.1 2005.3L237 2003.7L239 2002L241 2000.4L243 1998.7L245 1997.2L246.8 1995.8L248.7 1994.5L250.6 1993.1L252.6 1991.8L254.6 1990.4L256.6 1989.1L258.6 1987.7L260.5 1986.4L262.5 1985L264.4 1983.6L266.3 1982.2L268.2 1980.7L270.1 1979.3L272.1 1977.9L274 1976.5L275.9 1975.1L277.9 1973.8L280 1972.5L281.7 1971.5L283.5 1970.5L285.3 1969.5L287.2 1968.6L289.1 1967.7L290.9 1966.8L292.8 1965.9L294.7 1965L296.5 1964.2L298.3 1963.3L300 1962.4L302.1 1961.3L304.2 1960.4L306.2 1959.4L308.2 1958.4L310.2 1957.5L312.1 1956.4L314 1955.4L315.8 1954.2L317.5 1953L319.5 1951.2L321.4 1949.2L323.2 1947.1L324.9 1944.9L326.6 1942.8L328.3 1940.7L330 1938.8L331.8 1937L333.6 1935.2L335.4 1933.5L337.1 1931.8L338.9 1930.3L340.7 1928.9L342.5 1927.7L344.3 1926.6L346.1 1925.8L347.9 1925.1L349.6 1924.5L351.4 1924L353.2 1923.5L355 1923L356.8 1922.5L358.6 1921.9L360.4 1921.4L362.1 1921L363.9 1920.6L365.7 1920.5L367.5 1920.7L369.3 1921.1L371.1 1921.9L373 1923L374.8 1924.2L376.6 1925.4L378.3 1926.7L380 1927.7L381.8 1928.9L383.6 1930L385.3 1931L386.9 1932L388.5 1932.6L390 1933L392 1932.9L393.8 1932.3L395.5 1931L397.5 1928.5L399 1926.1L400.6 1923.2L402.3 1919.8L404.1 1916L405.8 1912L407.5 1907.8L409.2 1903.3L410.8 1898.4L412.5 1893.3L414.2 1887.9L415.8 1882.5L417.5 1877.1L419.2 1871.7L420.8 1866L422.5 1860.3L424.2 1854.5L425.8 1848.7L427.5 1843.2L429.2 1837.7L430.8 1832.4L432.5 1827.1L434.2 1822L435.8 1817.1L437.5 1812.4L439.2 1808L440.8 1803.7L442.5 1799.7L444.2 1795.8L445.8 1792.3L447.5 1789.1L449.2 1786.2L450.8 1783.6L452.5 1781.4L454.2 1779.3L455.8 1777.5L457.5 1775.7L459.2 1774.2L460.8 1773L462.5 1771.9L464.2 1771L465.8 1770.2L467.5 1769.4L469.2 1768.6L470.8 1767.9L472.5 1767.3L474.2 1766.7L475.8 1766.4L477.5 1766.2L479.2 1766.3L480.8 1766.5L482.5 1766.9L484.2 1767.4L485.8 1767.9L487.5 1768.5L489.2 1769.2L490.8 1770L492.5 1770.9L494.2 1771.8L495.8 1772.7L497.5 1773.4L499.1 1774L500.7 1774.6L502.3 1775.2L504 1775.6L505.7 1776L507.5 1776.2L509.1 1776.2L510.8 1776.1L512.6 1775.9L514.3 1775.7L516.2 1775.4L518.1 1775.2L520 1775L521.8 1775L523.6 1774.9L525.6 1774.9L527.5 1774.9L529.4 1774.9L531.4 1774.9L533.2 1774.9L535 1775L536.9 1775L538.8 1775L540.5 1775L542.3 1775.1L544 1775.2L545.7 1775.5L547.5 1776L549.3 1776.7L551 1777.5L552.7 1778.5L554.5 1779.5L556.2 1780.7L558.1 1781.8L560 1783L561.8 1784.1L563.6 1785.5L565.6 1786.9L567.5 1788.3L569.4 1789.6L571.4 1790.8L573.2 1791.6L575 1792L576.9 1791.9L578.8 1791.4L580.7 1790.5L582.4 1789.4L584.2 1788.2L585.9 1787L587.5 1786L589.3 1784.9L591.1 1783.6L592.8 1782.4L594.4 1781.2L596 1780.3L597.5 1779.7L599.6 1779.2L601.4 1779.2L603.2 1779.7L605 1780.7L606.9 1782.1L608.8 1783.9L610.6 1786.4L612.5 1789.9L614.4 1794.6L616.2 1800.2L618.1 1806.7L620 1814.2L621.9 1822.6L623.8 1832.1L625.6 1842.3L627.5 1853.2L629.4 1865.1L631.2 1877.8L633.1 1890.9L635 1903.6L636.9 1916.3L638.8 1929L640.6 1941.5L642.5 1953.2L644.4 1964.2L646.2 1974.6L648.1 1984.3L650 1992.7L651.9 1999.7L653.8 2005.6L655.6 2010.5L657.5 2014.7L659.3 2017.9L661.1 2020.2L662.9 2021.9L665 2023.3L666.5 2024L668.1 2024.5L669.8 2024.8L671.6 2024.9L673.3 2024.9L675 2024.8L676.6 2024.4L678.2 2023.8L679.8 2023.1L681.5 2022.3L683.2 2021.5L685 2020.8L686.7 2020.1L688.4 2019.4L690.2 2018.7L692 2017.9L693.9 2017.2L695.7 2016.6L697.5 2016.1L699.2 2015.8L700.9 2015.7L702.5 2015.6L704.1 2015.6L705.9 2015.5L707.8 2015.3L710 2014.9L711.5 2014.5L713.2 2014L714.9 2013.5L716.7 2012.9L718.6 2012.3L720.5 2011.6L722.4 2011L724.3 2010.4L726.3 2009.7L728.2 2009.1L730 2008.6L731.8 2008L733.6 2007.5L735.5 2007L737.3 2006.5L739.1 2006L740.9 2005.5L742.7 2005L744.5 2004.6L746.4 2004.1L748.2 2003.7L750 2003.3L751.8 2002.9L753.6 2002.6L755.5 2002.2L757.3 2001.9L759.1 2001.6L760.9 2001.3L762.7 2001L764.5 2000.8L766.4 2000.5L768.2 2000.2L770 1999.9L771.8 1999.6L773.7 1999.4L775.6 1999.2L777.5 1998.9L779.4 1998.7L781.2 1998.5L783.1 1998.2L784.9 1998L786.7 1997.6L788.4 1997.2L790 1996.8L792.1 1996.1L794.1 1995.3L796 1994.5L797.8 1993.6L799.6 1992.6L801.4 1991.6L803.2 1990.5L805 1989.4L806.9 1988.2L808.8 1987L810.6 1985.7L812.5 1984.3L814.4 1982.9L816.2 1981.5L818.1 1980L820 1978.5L821.9 1977L823.7 1975.5L825.5 1973.9L827.3 1972.3L829.1 1970.7L831 1968.9L833 1967.1L835 1965.1L836.8 1963.3L838.8 1961.2L840.9 1959L843 1956.7L845.2 1954.5L847.3 1952.2L849.2 1950.1L850.9 1948.3L852.4 1946.7L853.5 1945.6L853.5 1977.4L852.4 1978.5L850.9 1979.9L849.2 1981.6L847.3 1983.5L845.2 1985.5L843 1987.5L840.9 1989.6L838.8 1991.5L836.8 1993.3L835 1994.9L833 1996.7L831 1998.3L829.1 1999.8L827.3 2001.2L825.5 2002.6L823.7 2003.9L821.9 2005.2L820 2006.5L818.1 2007.8L816.2 2009L814.4 2010.2L812.5 2011.4L810.6 2012.6L808.8 2013.6L806.9 2014.6L805 2015.6L803.2 2016.5L801.4 2017.4L799.6 2018.2L797.8 2018.9L796 2019.6L794.1 2020.2L792.1 2020.8L790 2021.2L788.4 2021.5L786.7 2021.6L784.9 2021.7L783.1 2021.8L781.2 2021.8L779.4 2021.8L777.5 2021.8L775.6 2021.8L773.7 2021.9L771.8 2021.9L770 2022.1L768.2 2022.2L766.4 2022.4L764.5 2022.6L762.7 2022.8L760.9 2023.1L759.1 2023.3L757.3 2023.5L755.5 2023.8L753.6 2024.1L751.8 2024.4L750 2024.7L748.2 2025.1L746.4 2025.4L744.5 2025.8L742.7 2026.2L740.9 2026.7L739.1 2027.1L737.3 2027.6L735.5 2028L733.6 2028.5L731.8 2029L730 2029.4L728.2 2029.9L726.3 2030.5L724.3 2031L722.4 2031.6L720.5 2032.2L718.6 2032.8L716.7 2033.4L714.9 2033.9L713.2 2034.4L711.5 2034.8L710 2035.1L707.8 2035.5L705.9 2035.6L704.1 2035.7L702.5 2035.6L700.9 2035.6L699.2 2035.7L697.5 2035.9L695.7 2036.2L693.9 2036.6L692 2037.1L690.2 2037.7L688.4 2038.2L686.7 2038.8L685 2039.2L683.2 2039.8L681.5 2040.5L679.8 2041.1L678.2 2041.7L676.6 2042.1L675 2042.2L673.3 2042.2L671.6 2042.1L669.8 2041.8L668.1 2041.3L666.5 2040.6L665 2039.7L662.9 2038.2L661.1 2036.3L659.3 2033.8L657.5 2030.3L655.6 2025.9L653.8 2020.8L651.9 2014.6L650 2007.3L648.1 1998.7L646.2 1988.8L644.4 1978.1L642.5 1966.8L640.6 1954.9L638.8 1942.2L636.9 1929.2L635 1916.4L633.1 1903.5L631.2 1890.6L629.4 1878.2L627.5 1866.8L625.6 1856.5L623.8 1847L621.9 1838.4L620 1830.8L618.1 1824.2L616.2 1818.6L614.4 1813.9L612.5 1810.1L610.6 1807.4L608.8 1805.8L606.9 1804.9L605 1804.3L603.2 1804L601.4 1804.1L599.6 1804.5L597.5 1805.3L596 1806.2L594.4 1807.2L592.8 1808.4L591.1 1809.6L589.3 1810.9L587.5 1812L585.9 1813L584.2 1814.2L582.4 1815.4L580.7 1816.5L578.8 1817.4L576.9 1817.9L575 1818L573.2 1817.6L571.4 1816.8L569.4 1815.6L567.5 1814.3L565.6 1812.9L563.6 1811.5L561.8 1810.1L560 1809L558.1 1807.8L556.2 1806.7L554.5 1805.5L552.7 1804.5L551 1803.5L549.3 1802.7L547.5 1802L545.7 1801.5L544 1801.2L542.3 1801.1L540.5 1801L538.8 1801L536.9 1801L535 1801L533.2 1800.9L531.4 1800.9L529.4 1800.9L527.5 1800.9L525.6 1800.9L523.6 1800.9L521.8 1800.9L520 1801L518.1 1801.1L516.2 1801.3L514.3 1801.5L512.6 1801.7L510.8 1801.8L509.1 1801.9L507.5 1801.8L505.7 1801.5L504 1801.1L502.3 1800.6L500.7 1800L499.1 1799.3L497.5 1798.6L495.8 1797.9L494.2 1797L492.5 1796L490.8 1795.1L489.2 1794.2L487.5 1793.5L485.8 1792.8L484.2 1792.2L482.5 1791.6L480.8 1791.2L479.2 1790.9L477.5 1790.8L475.8 1790.9L474.2 1791.2L472.5 1791.7L470.8 1792.3L469.2 1792.9L467.5 1793.6L465.8 1794.3L464.2 1795.1L462.5 1795.9L460.8 1796.8L459.2 1797.9L457.5 1799.3L455.8 1800.7L454.2 1802.3L452.5 1804.1L450.8 1806.1L449.2 1808.3L447.5 1810.9L445.8 1813.9L444.2 1817.1L442.5 1820.7L440.8 1824.4L439.2 1828.4L437.5 1832.6L435.8 1836.9L434.2 1841.5L432.5 1846.4L430.8 1851.4L429.2 1856.5L427.5 1861.8L425.8 1867.4L424.2 1873.3L422.5 1879.4L420.8 1885.6L419.2 1891.8L417.5 1897.9L415.8 1903.8L414.2 1909.9L412.5 1915.8L410.8 1921.6L409.2 1927.1L407.5 1932.2L405.8 1937L404.1 1941.7L402.3 1946L400.6 1950L399 1953.6L397.5 1956.5L395.5 1959.8L393.8 1961.8L392 1963.1L390 1964L388.5 1964.6L386.9 1964.8L385.3 1964.8L383.6 1964.6L381.8 1964.4L380 1964.3L378.3 1964.1L376.6 1963.9L374.8 1963.5L373 1963.1L371.1 1962.7L369.3 1962.4L367.5 1962.3L365.7 1962.4L363.9 1962.6L362.1 1963L360.4 1963.4L358.6 1963.9L356.8 1964.5L355 1965L353.2 1965.5L351.4 1966L349.6 1966.5L347.9 1967L346.1 1967.7L344.3 1968.4L342.5 1969.3L340.7 1970.4L338.9 1971.7L337.1 1973L335.4 1974.5L333.6 1976L331.8 1977.6L330 1979.2L328.3 1980.9L326.6 1982.8L324.9 1984.8L323.2 1986.7L321.4 1988.7L319.5 1990.4L317.5 1992L315.8 1993.1L314 1994.1L312.1 1994.9L310.2 1995.7L308.2 1996.5L306.2 1997.2L304.2 1998L302.1 1998.8L300 1999.6L298.3 2000.3L296.5 2001L294.7 2001.7L292.8 2002.3L290.9 2003L289.1 2003.7L287.2 2004.4L285.3 2005.2L283.5 2005.9L281.7 2006.7L280 2007.5L277.9 2008.6L275.9 2009.7L274 2010.9L272.1 2012.1L270.1 2013.3L268.2 2014.5L266.3 2015.7L264.4 2016.9L262.5 2018L260.5 2019.1L258.6 2020.2L256.6 2021.3L254.6 2022.4L252.6 2023.5L250.6 2024.6L248.7 2025.6L246.8 2026.7L245 2027.8L243 2029.1L241 2030.5L239 2031.9L237 2033.3L235.1 2034.6L233.3 2035.9L231.6 2037L230 2037.8L228.2 2038.7L226.7 2039.3L225.3 2039.7L223.9 2039.9L222.2 2040.1L220 2040.2L218.6 2040.2L217 2040.1L215.3 2040L213.5 2039.8L211.6 2039.7L209.7 2039.5L207.7 2039.3L205.7 2039.1L203.8 2039L201.9 2038.9L200 2038.8L198.2 2038.8L196.3 2038.8L194.5 2038.9L192.6 2038.9L190.8 2039L188.9 2039L187.1 2039.1L185.3 2039.1L183.5 2039.2L181.7 2039.2L180 2039.3L177.9 2039.3L175.8 2039.4L173.7 2039.6L171.6 2039.7L169.6 2039.8L167.7 2039.9L165.8 2039.9L164.1 2039.9L162.5 2039.7L160.4 2039.6L158.5 2039.3L156.9 2039L155.4 2038.5L153.9 2037.8L152.5 2036.9L150.4 2035.6L148.6 2034L146.8 2031.8L145 2028.5L143.1 2024.1L141.2 2018.8L139.4 2012.5L137.5 2005L135.6 1996.2L133.8 1986.3L131.9 1975.6L130 1964.4L128.1 1952.5L126.2 1939.9L124.4 1927.1L122.5 1914.8L120.6 1902.6L118.8 1890.4L116.9 1878.8L115 1868L113.1 1858.3L111.2 1849.4L109.4 1841.2L107.5 1833.8L105.4 1826.7L103.3 1820.2L101.3 1814.7L100 1810.9Z" fill="#f3c58e" fill-opacity="0.5"/>
<path d="M100 1797.5C101.2 1801.2 105 1810 107.5 1820C110 1830 112.5 1842.9 115 1857.5C117.5 1872.1 120 1890.4 122.5 1907.5C125 1924.6 127.5 1944.2 130 1960C132.5 1975.8 135 1991.2 137.5 2002.5C140 2013.8 142.5 2021.7 145 2027.5C147.5 2033.3 149.6 2035.2 152.5 2037.5C155.4 2039.8 158.3 2040.8 162.5 2041.5C166.7 2042.2 173.3 2040.8 177.5 2041.5C181.7 2042.2 184.2 2044.2 187.5 2046C190.8 2047.8 194.6 2051.4 197.5 2052.5C200.4 2053.6 202.1 2053.6 205 2052.5C207.9 2051.4 211.2 2048.9 215 2046C218.8 2043.1 223.3 2037.7 227.5 2035C231.7 2032.3 235.4 2031.2 240 2030C244.6 2028.8 250 2028.5 255 2027.5C260 2026.5 265 2025.7 270 2024C275 2022.3 280 2019.8 285 2017.5C290 2015.2 295 2012.2 300 2010C305 2007.8 310 2006.5 315 2004C320 2001.5 325 1997.9 330 1995C335 1992.1 340.4 1988.8 345 1986.5C349.6 1984.2 353.8 1982.3 357.5 1981.5C361.2 1980.7 364.2 1981.1 367.5 1981.5C370.8 1981.9 374.2 1984.7 377.5 1984C380.8 1983.3 384.2 1981.5 387.5 1977.5C390.8 1973.5 394.2 1967.1 397.5 1960C400.8 1952.9 404.2 1944.6 407.5 1935C410.8 1925.4 414.2 1913.8 417.5 1902.5C420.8 1891.2 424.2 1878.8 427.5 1867.5C430.8 1856.2 434.2 1844.6 437.5 1835C440.8 1825.4 444.2 1816.8 447.5 1810C450.8 1803.2 453.8 1798.2 457.5 1794C461.2 1789.8 465.8 1787.3 470 1785C474.2 1782.7 478.8 1782.1 482.5 1780C486.2 1777.9 488.8 1774.4 492.5 1772.5C496.2 1770.6 500.8 1768.7 505 1768.5C509.2 1768.3 513.3 1770.6 517.5 1771.5C521.7 1772.4 525.8 1773.2 530 1774C534.2 1774.8 538.3 1775.2 542.5 1776.5C546.7 1777.8 550.8 1779.9 555 1781.5C559.2 1783.1 563.3 1784.8 567.5 1786C571.7 1787.2 575.8 1788.7 580 1788.5C584.2 1788.3 588.8 1785.8 592.5 1785C596.2 1784.2 599.6 1782.7 602.5 1783.5C605.4 1784.3 607.5 1785.6 610 1790C612.5 1794.4 615 1800.8 617.5 1810C620 1819.2 622.5 1830.8 625 1845C627.5 1859.2 630 1877.9 632.5 1895C635 1912.1 637.5 1931.7 640 1947.5C642.5 1963.3 645 1978.3 647.5 1990C650 2001.7 652.5 2011 655 2017.5C657.5 2024 659.6 2026.1 662.5 2029C665.4 2031.9 668.8 2033.8 672.5 2035C676.2 2036.2 680.8 2035.2 685 2036.5C689.2 2037.8 693.8 2040.7 697.5 2042.5C701.2 2044.3 704.2 2046.7 707.5 2047.5C710.8 2048.3 713.8 2048.8 717.5 2047.5C721.2 2046.2 725.4 2042.9 730 2040C734.6 2037.1 740 2033.2 745 2030C750 2026.8 755 2023.9 760 2021C765 2018.1 770 2015.4 775 2012.5C780 2009.6 785 2006.4 790 2003.5C795 2000.6 800 1997.7 805 1995C810 1992.3 815 1989.6 820 1987.5C825 1985.4 829.4 1984.8 835 1982.5C840.6 1980.2 850.4 1975 853.5 1973.5" fill="none" stroke="#5ab2b6" stroke-width="3.2" stroke-linejoin="round"/>
<path d="M100 1804C101.2 1807.9 105 1817.8 107.5 1827.5C110 1837.2 112.5 1848.8 115 1862.5C117.5 1876.2 120 1893.8 122.5 1910C125 1926.2 127.5 1945 130 1960C132.5 1975 135 1989.6 137.5 2000C140 2010.4 142.5 2017.5 145 2022.5C147.5 2027.5 149.6 2028.5 152.5 2030C155.4 2031.5 157.9 2031.7 162.5 2031.5C167.1 2031.3 173.8 2029.8 180 2029C186.2 2028.2 193.3 2026.9 200 2026.5C206.7 2026.1 215 2027 220 2026.5C225 2026 225.8 2025.8 230 2023.5C234.2 2021.2 239.6 2016.2 245 2012.5C250.4 2008.8 256.7 2005.2 262.5 2001.5C268.3 1997.8 273.8 1993.4 280 1990C286.2 1986.6 293.8 1983.9 300 1981C306.2 1978.1 312.5 1976.2 317.5 1972.5C322.5 1968.8 325.8 1963 330 1959C334.2 1955 338.3 1951 342.5 1948.5C346.7 1946 350.8 1945.2 355 1944C359.2 1942.8 363.3 1941.2 367.5 1941.5C371.7 1941.8 376.2 1944.8 380 1946C383.8 1947.2 387.1 1949.1 390 1948.5C392.9 1947.9 394.6 1947.2 397.5 1942.5C400.4 1937.8 404.2 1929.2 407.5 1920C410.8 1910.8 414.2 1898.8 417.5 1887.5C420.8 1876.2 424.2 1863.3 427.5 1852.5C430.8 1841.7 434.2 1831.2 437.5 1822.5C440.8 1813.8 444.2 1805.8 447.5 1800C450.8 1794.2 454.2 1790.6 457.5 1787.5C460.8 1784.4 464.2 1783 467.5 1781.5C470.8 1780 474.2 1778.6 477.5 1778.5C480.8 1778.4 484.2 1779.8 487.5 1781C490.8 1782.2 494.2 1784.7 497.5 1786C500.8 1787.3 503.8 1788.7 507.5 1789C511.2 1789.3 515.4 1788.2 520 1788C524.6 1787.8 530.4 1787.8 535 1788C539.6 1788.2 543.3 1787.7 547.5 1789C551.7 1790.3 555.4 1793.3 560 1796C564.6 1798.7 570.4 1804.5 575 1805C579.6 1805.5 583.8 1801.1 587.5 1799C591.2 1796.9 594.6 1793.6 597.5 1792.5C600.4 1791.4 602.5 1791.2 605 1792.5C607.5 1793.8 610 1795 612.5 1800C615 1805 617.5 1812.5 620 1822.5C622.5 1832.5 625 1845.4 627.5 1860C630 1874.6 632.5 1893.3 635 1910C637.5 1926.7 640 1945 642.5 1960C645 1975 647.5 1989.6 650 2000C652.5 2010.4 655 2017.2 657.5 2022.5C660 2027.8 662.1 2029.7 665 2031.5C667.9 2033.3 671.7 2033.8 675 2033.5C678.3 2033.2 681.2 2031.2 685 2030C688.8 2028.8 693.3 2026.8 697.5 2026C701.7 2025.2 704.6 2026.2 710 2025C715.4 2023.8 723.3 2020.8 730 2019C736.7 2017.2 743.3 2015.3 750 2014C756.7 2012.7 763.3 2011.8 770 2011C776.7 2010.2 784.2 2010.4 790 2009C795.8 2007.6 800 2005.2 805 2002.5C810 1999.8 815 1996.2 820 1992.5C825 1988.8 829.4 1985.2 835 1980C840.6 1974.8 850.4 1964.6 853.5 1961.5" fill="none" stroke="#e08a12" stroke-width="3.2" stroke-linejoin="round"/>
<path d="M99.4 1745V2129.1M90.7 1745H107.9M90.7 2118.6H890.2M494.7 2108.1V2129.1M890.2 2108.1V2129.1" stroke="#2e2e2e" stroke-width="1.5" stroke-linecap="round" fill="none"/>
<text font-size="35" transform="translate(79.7 1755.5) scale(1 1.04)" text-anchor="end" fill="#111">4.4</text>
<text font-size="35" transform="translate(74.2 2128.6) scale(1 1.04)" text-anchor="end" fill="#111">2</text>
<rect x="1223.7" y="1753.5" width="258.5" height="363" fill="#e6e6e6"/>
<path d="M977 1879.1L977.9 1877L979.2 1874.4L980.6 1872.2L982 1871.5L983.2 1873.4L984.5 1877.3L985.8 1881.2L987 1882.7L988.3 1879.8L989.6 1874L990.9 1868.4L992 1866L993.2 1867.8L994.3 1873.3L995.5 1882.7L996.7 1893.4L997.9 1906.8L999.2 1921.3L1000.5 1935.3L1002 1952.7L1003.5 1969.8L1005 1985.6L1006.2 1996.5L1007.4 2006.9L1008.7 2016.2L1010 2023.8L1011.3 2029.3L1012.6 2032.7L1014 2034.7L1015.5 2036.1L1016.9 2037L1018.4 2038.1L1019.9 2039.5L1021.5 2041.2L1023 2042.9L1024.5 2044.2L1026 2045L1027.5 2045.6L1029 2046.3L1030.5 2047.1L1032 2047.5L1033.5 2047.2L1035 2046.3L1036.5 2045.6L1038 2045.4L1039.5 2046.3L1041 2047.9L1042.5 2049.7L1044 2051.1L1045.5 2051.7L1047 2051.4L1048.5 2050.4L1050 2049.3L1051.5 2048.6L1053 2048.6L1054.5 2049.8L1056 2051.7L1057.5 2053.6L1059 2055.2L1060.5 2055.8L1062 2055.5L1063.5 2054.9L1065 2054.2L1066.5 2053.2L1068 2052.1L1069.5 2050.7L1071 2048.9L1072.5 2047L1074 2045.4L1075.5 2044.3L1077 2043.9L1078.5 2044L1080 2044.1L1081.5 2043.7L1083 2042.5L1084.5 2040.6L1086 2038.3L1087.5 2035.6L1089 2032.2L1090.5 2028.3L1092 2024.2L1093.5 2020.2L1095 2017.1L1096.5 2014.9L1098 2013.3L1099.5 2011.9L1101 2010.5L1102.5 2008.9L1104 2007L1105.5 2004.5L1107 2001.8L1108.5 1999.4L1110 1997.8L1111.5 1997.1L1113 1996.7L1114.5 1996.5L1116 1996.2L1117.5 1995.6L1119 1994.3L1120.5 1992.4L1122 1989.6L1123.5 1986.2L1125 1982.3L1126.5 1978.3L1128 1974.5L1129.5 1971.4L1131 1969.5L1132.5 1968.9L1134 1969.6L1135.5 1971.1L1137 1972.6L1138.6 1973.2L1140.1 1972.5L1141.6 1970.7L1143 1968.2L1144.6 1963.9L1146.1 1958.5L1147.5 1953.5L1149 1950.5L1150.3 1950L1151.5 1950.7L1152.8 1951.7L1154.1 1952.2L1155.5 1951.9L1156.9 1951.2L1158.4 1950.7L1160 1950.7L1161.5 1950.9L1163 1951.3L1164.5 1951.8L1166 1952.3L1167.5 1952.5L1169 1951.6L1170.5 1949.4L1172 1946.3L1173.5 1942.9L1175 1939.9L1176.5 1937.3L1178 1934.8L1179.5 1931.9L1181 1928.6L1182.5 1925.4L1184 1923L1185.5 1921.4L1187 1921.1L1188.5 1922.2L1190 1924.5L1191.5 1927.4L1193 1929.9L1194.5 1931.4L1196 1931.9L1197.5 1932L1199 1931.9L1200.5 1931.9L1202 1931.6L1203.5 1930.7L1205 1929.3L1206.5 1927.6L1208 1925.9L1209.5 1924.5L1211 1923.3L1212.5 1922.1L1214 1920.9L1215.5 1919.9L1217 1919.6L1218.5 1920L1220 1920.5L1221.5 1920.4L1223 1919.7L1224.5 1918.5L1226 1917.4L1227.5 1915.9L1229 1913.8L1230.5 1911.4L1232 1909.9L1233.5 1910.1L1235 1911.6L1236.5 1913.3L1238 1914.2L1239.5 1913.6L1241 1911.9L1242.5 1909.5L1244 1907.3L1245.5 1905.7L1247 1905.3L1248.5 1905.7L1250 1906.6L1251.5 1907.6L1253 1908.4L1254.5 1908.9L1256 1909.1L1257.6 1908.8L1259.1 1908.2L1260.5 1907.6L1261.9 1907.4L1263.2 1907.6L1264.5 1907.6L1265.7 1907.1L1267 1905.7L1268.5 1901.2L1270 1894.2L1271.5 1886L1273 1878.9L1274.5 1873.2L1276 1868L1277.5 1862.8L1279 1857.3L1280.3 1853.2L1281.6 1849.2L1282.9 1845.2L1284.2 1840.6L1285.5 1835.2L1286.8 1828.9L1288.1 1822L1289.4 1814.8L1290.7 1807.5L1292 1800.7L1293.5 1793.1L1295 1786L1296.5 1779.8L1298 1774.8L1299.5 1772.2L1301 1772.3L1302.5 1774.4L1304 1776.9L1305.3 1778.6L1306.6 1778.8L1307.9 1777L1309.2 1773.3L1310.5 1768.2L1311.8 1762.8L1313.1 1757.8L1314.4 1754.1L1315.7 1752.2L1317 1751.3L1318.5 1750.4L1320 1749.7L1321.5 1750.2L1323 1752.7L1324.5 1756.7L1326 1760.4L1327.5 1762.5L1329 1763.2L1330.3 1763.4L1331.5 1765.9L1332.8 1770.4L1334.1 1775.9L1335.5 1780.6L1337 1782.9L1338.5 1782.6L1340.1 1780.7L1341.6 1778.7L1343 1777.9L1344.6 1779.3L1346.1 1782.2L1347.5 1786.5L1349 1791.3L1350.3 1795.2L1351.5 1798.3L1352.8 1799.8L1354.1 1800.3L1355.5 1800.8L1356.9 1801.8L1358.4 1802.8L1360 1803.3L1361.5 1802.9L1363 1802.6L1364.5 1803L1366 1804.2L1367.5 1805.8L1369 1807.3L1370.5 1808.4L1372 1809.2L1373.5 1809.8L1375 1810.5L1376.5 1811.3L1378 1812.3L1379.5 1813.8L1381 1815.9L1382.5 1818.1L1384 1819.9L1385.5 1820.5L1387 1819.7L1388.5 1818.6L1390 1818.4L1391.5 1819.7L1393 1822.2L1394.5 1825.2L1396 1828.2L1397.5 1830.9L1399 1833.4L1400.5 1835.5L1402 1837.2L1403.6 1838.6L1405.1 1839.7L1406.6 1840.6L1408 1841.1L1409.6 1840.8L1411.1 1839.6L1412.5 1839L1414 1840.3L1415.3 1844L1416.6 1849L1417.9 1853.7L1419.2 1857L1420.5 1858.2L1421.8 1857.4L1423.1 1855.5L1424.4 1853.6L1425.7 1852.3L1427 1852.3L1428.5 1853L1429.9 1853.3L1431.4 1853.2L1433 1853.1L1434.4 1853.6L1435.9 1854.9L1437.4 1856.6L1439 1858.2L1440.5 1859.6L1442 1860.9L1443.5 1862.4L1445 1863.8L1446.5 1864.9L1448 1865.5L1449.5 1865.9L1451 1866.6L1452.5 1867.9L1454 1869.6L1455.5 1871.4L1457 1873.3L1458.5 1875.4L1460 1877.8L1461.5 1880.3L1463 1882.1L1464.5 1882.4L1466 1881.1L1467.5 1879.1L1469 1877.4L1470.5 1876.6L1472 1876.9L1473.5 1877.8L1475 1878.8L1476.5 1879.4L1478 1879.3L1479.5 1878.9L1481 1878.4L1482.5 1877.9L1484 1877L1485.5 1875.8L1487 1874.7L1488.6 1874L1490.2 1874.1L1491.7 1874.7L1493 1875.7L1494.4 1877.3L1495.7 1878.9L1496.9 1879.3L1498 1877.6L1499.4 1872.5L1500.7 1866.5L1502 1863L1503.2 1862.7L1504.3 1864.5L1505.5 1869.7L1506.8 1878.8L1508.2 1890.7L1509.5 1903.6L1510.6 1917.7L1511.7 1933.4L1513 1949.8L1514.1 1962.8L1515.4 1976.4L1516.7 1989.3L1518 2000.5L1519.2 2009.8L1520.4 2017.7L1521.7 2024L1523 2028.8L1524.4 2032.3L1525.9 2034.8L1527.4 2036.6L1529 2037.9L1530.3 2038.3L1531.5 2038.1L1532.8 2037.4L1534.1 2036.6L1535.5 2035.9L1536.9 2035.9L1538.4 2036.8L1540 2038.6L1541.5 2041L1543 2043.4L1544.5 2045.6L1546 2047.4L1547.5 2049L1549 2050.8L1550.5 2052.6L1552 2053.9L1553.5 2054.3L1555 2053.6L1556.5 2052L1558 2049.9L1559.5 2047.5L1561 2045.3L1562.6 2044.3L1564.1 2044.9L1565.5 2047.2L1566.9 2050.8L1568.2 2054.8L1569.5 2058.3L1570.7 2060.9L1572 2062.4L1573.5 2062.5L1574.9 2061.1L1576.4 2058.9L1578 2056.1L1579.4 2053.5L1580.9 2050.5L1582.4 2047.5L1584 2044.7L1585.5 2042.1L1587 2039.7L1588.5 2037.6L1590 2035.7L1591.5 2033.4L1593 2030.6L1594.5 2027.3L1596 2023.9L1597.5 2021.1L1599 2018.7L1600.5 2016.8L1602 2015.1L1603.5 2013.6L1605 2012.2L1606.5 2010.8L1608 2009.3L1609.5 2008.1L1611 2007.4L1612.5 2007.3L1614 2007.6L1615.5 2007.6L1617 2007.1L1618.5 2006.1L1620 2005.1L1621.5 2004.4L1623 2003.7L1624.5 2002.3L1626 1999.8L1627.5 1996.1L1629 1991.3L1630.5 1986.4L1632 1982.3L1633.5 1979.5L1635 1977.8L1636.5 1976.9L1638 1976.2L1639.5 1975.4L1641 1974.4L1642.5 1972.8L1644 1970.4L1645.5 1967.4L1647 1964.2L1648.5 1961.8L1650 1960.4L1651.5 1959.5L1653 1958.4L1654.5 1956.2L1656 1953.2L1657.5 1950L1659 1947.6L1660.5 1946.4L1662 1945.7L1663.5 1944.5L1665 1942.4L1666.5 1939.4L1668 1936.2L1669.5 1933L1671.1 1929.9L1672.7 1927.6L1674.2 1926.2L1675.5 1925.9L1676.9 1925.7L1678 1925.3L1679.1 1924.6L1680.5 1923.8L1681.8 1923.9L1683.3 1925.4L1684.9 1928.1L1686.5 1931.1L1688 1933.3L1689.5 1933.6L1691 1931.9L1692.5 1929.1L1694 1925.9L1695.5 1923L1697 1920.3L1698.5 1917.4L1700 1914.9L1701.5 1913.3L1703 1912.7L1704.5 1913.9L1706 1916.6L1707.5 1919.7L1709 1922.3L1710.5 1923.5L1712 1923.2L1713.6 1922L1715.1 1920L1716.6 1917.3L1718 1914.2L1719.6 1910.1L1721.1 1905.9L1722.5 1902.6L1724 1901.4L1725.4 1902.3L1726.9 1904.8L1728.3 1908.4L1729.6 1912.3L1730.5 1915.6L1730.5 1942.7L1729.6 1941.9L1728.3 1940.1L1726.9 1937.7L1725.4 1935.6L1724 1934.6L1722.5 1935.6L1721.1 1938L1719.6 1940.8L1718 1943.3L1716.6 1945.4L1715.1 1948.1L1713.6 1950.7L1712 1952.5L1710.5 1952.9L1709 1952.1L1707.5 1950.5L1706 1948.8L1704.5 1947.4L1703 1946.8L1701.5 1946.5L1700 1945.8L1698.5 1944.6L1697 1943.3L1695.5 1942.6L1694 1943.7L1692.5 1946.8L1691 1950.4L1689.5 1953.5L1688 1954.9L1686.5 1954L1684.9 1951.2L1683.3 1947.7L1681.8 1944.6L1680.5 1943.1L1679.1 1943.1L1678 1944.3L1676.9 1946.2L1675.5 1948.7L1674.2 1951.9L1672.7 1956.4L1671.1 1961.5L1669.5 1965.9L1668 1968.4L1666.5 1969.7L1665 1970.9L1663.5 1973.2L1662 1976.5L1660.5 1979.8L1659 1982.2L1657.5 1983.6L1656 1984.5L1654.5 1985.4L1653 1986.3L1651.5 1987.2L1650 1988.3L1648.5 1990.1L1647 1992.8L1645.5 1995.7L1644 1998.1L1642.5 1999.7L1641 2001L1639.5 2002.9L1638 2005.7L1636.5 2008.8L1635 2011.5L1633.5 2013.5L1632 2014.7L1630.5 2015.6L1629 2016.8L1627.5 2018.7L1626 2021.2L1624.5 2024.2L1623 2026.9L1621.5 2028.8L1620 2029.9L1618.5 2030.2L1617 2029.9L1615.5 2029.6L1614 2030L1612.5 2031.4L1611 2033.7L1609.5 2036L1608 2037.7L1606.5 2038.5L1605 2039.1L1603.5 2040.1L1602 2041.6L1600.5 2043.4L1599 2045.5L1597.5 2048L1596 2050.5L1594.5 2052.7L1593 2054.1L1591.5 2055.2L1590 2056.7L1588.5 2059.3L1587 2062.9L1585.5 2066.8L1584 2070.1L1582.4 2072.8L1580.9 2075.1L1579.4 2077.3L1578 2079.2L1576.4 2081.6L1574.9 2083.9L1573.5 2085.3L1572 2085.1L1570.7 2083L1569.5 2080.2L1568.2 2077.9L1566.9 2076.3L1565.5 2075.1L1564.1 2074L1562.6 2073.1L1561 2073.1L1559.5 2073.8L1558 2074.2L1556.5 2073.5L1555 2071.9L1553.5 2070.3L1552 2069.3L1550.5 2069.1L1549 2069.4L1547.5 2069.3L1546 2068.4L1544.5 2066.7L1543 2064.5L1541.5 2062L1540 2059.7L1538.4 2057.8L1536.9 2056.3L1535.5 2055.5L1534.1 2055.5L1532.8 2056L1531.5 2056.3L1530.3 2056.2L1529 2055.5L1527.4 2054.4L1525.9 2053.3L1524.4 2051.4L1523 2047.7L1521.7 2041.5L1520.4 2033L1519.2 2022.9L1518 2011.9L1516.7 1999.9L1515.4 1986.9L1514.1 1973.8L1513 1961.3L1511.7 1945.6L1510.6 1930.8L1509.5 1918.1L1508.2 1907.2L1506.8 1897.9L1505.5 1891.5L1504.3 1889L1503.2 1889.7L1502 1891.9L1500.7 1896.2L1499.4 1901.9L1498 1905.8L1496.9 1906L1495.7 1904.7L1494.4 1903.1L1493 1902.2L1491.7 1901.7L1490.2 1901.2L1488.6 1900.9L1487 1900.9L1485.5 1901.2L1484 1902.2L1482.5 1904.1L1481 1906.6L1479.5 1909.1L1478 1910.1L1476.5 1909.1L1475 1906.5L1473.5 1903.6L1472 1901.4L1470.5 1900.5L1469 1901.2L1467.5 1903.1L1466 1905.6L1464.5 1907.9L1463 1908.9L1461.5 1908L1460 1905.2L1458.5 1901.1L1457 1897.3L1455.5 1894.6L1454 1893L1452.5 1891.7L1451 1890.4L1449.5 1889.4L1448 1889.2L1446.5 1889.6L1445 1890.1L1443.5 1890.1L1442 1889.3L1440.5 1887.6L1439 1884.9L1437.4 1881.6L1435.9 1878.3L1434.4 1875.2L1433 1872.6L1431.4 1870.5L1429.9 1869.6L1428.5 1870.4L1427 1872.7L1425.7 1876.2L1424.4 1880.3L1423.1 1884.4L1421.8 1888L1420.5 1890.2L1419.2 1889.8L1417.9 1886.7L1416.6 1881.9L1415.3 1876.9L1414 1873.3L1412.5 1871.8L1411.1 1872L1409.6 1872.7L1408 1872.6L1406.6 1871.7L1405.1 1870.3L1403.6 1868.4L1402 1865.6L1400.5 1862L1399 1857.8L1397.5 1853.7L1396 1851L1394.5 1850.4L1393 1852.1L1391.5 1855.1L1390 1858.1L1388.5 1859.8L1387 1859.6L1385.5 1857.1L1384 1852.7L1382.5 1848L1381 1844.5L1379.5 1842.5L1378 1841.6L1376.5 1841.2L1375 1840.9L1373.5 1840.6L1372 1840.8L1370.5 1841.4L1369 1842.2L1367.5 1842.6L1366 1841.9L1364.5 1840.1L1363 1838.1L1361.5 1836.9L1360 1836.7L1358.4 1837L1356.9 1837.1L1355.5 1836.4L1354.1 1834.8L1352.8 1832.1L1351.5 1828.4L1350.3 1824L1349 1819.3L1347.5 1814.3L1346.1 1810.5L1344.6 1808.9L1343 1809.7L1341.6 1812.6L1340.1 1815.7L1338.5 1817.7L1337 1817.9L1335.5 1816.5L1334.1 1814.1L1332.8 1811.5L1331.5 1808.6L1330.3 1805.3L1329 1801.6L1327.5 1796.5L1326 1791L1324.5 1786.6L1323 1784.2L1321.5 1784L1320 1785.2L1318.5 1786.5L1317 1786.9L1315.7 1786.3L1314.4 1785.9L1313.1 1786.5L1311.8 1788.4L1310.5 1790.7L1309.2 1793.1L1307.9 1795.5L1306.6 1798.3L1305.3 1801.6L1304 1804.6L1302.5 1806.7L1301 1807.2L1299.5 1807.4L1298 1808.9L1296.5 1812.2L1295 1816.9L1293.5 1822.6L1292 1828.8L1290.7 1833.8L1289.4 1839.2L1288.1 1844.5L1286.8 1849.8L1285.5 1855.1L1284.2 1860L1282.9 1864.7L1281.6 1868.9L1280.3 1872.7L1279 1876.5L1277.5 1881.8L1276 1887.9L1274.5 1894.9L1273 1902.5L1271.5 1910.7L1270 1918.9L1268.5 1925.4L1267 1929.1L1265.7 1929.7L1264.5 1929.4L1263.2 1929.2L1261.9 1929.5L1260.5 1930.5L1259.1 1931.7L1257.6 1932.1L1256 1931.6L1254.5 1930.4L1253 1929L1251.5 1927.4L1250 1925.8L1248.5 1924.8L1247 1924.5L1245.5 1925.2L1244 1927.5L1242.5 1931.7L1241 1937L1239.5 1942.2L1238 1945.5L1236.5 1946.7L1235 1946.3L1233.5 1945.5L1232 1945L1230.5 1945.2L1229 1946.2L1227.5 1947.4L1226 1948.3L1224.5 1948.7L1223 1948.4L1221.5 1947.8L1220 1947.5L1218.5 1947.9L1217 1948.8L1215.5 1949.8L1214 1950.7L1212.5 1951.3L1211 1951.5L1209.5 1951.8L1208 1952L1206.5 1952.2L1205 1952.3L1203.5 1952.2L1202 1952.2L1200.5 1952.6L1199 1954L1197.5 1956.4L1196 1959.2L1194.5 1961.6L1193 1962.7L1191.5 1961.7L1190 1959.2L1188.5 1956.5L1187 1954.6L1185.5 1954.1L1184 1954.6L1182.5 1955.6L1181 1957.1L1179.5 1959L1178 1961.2L1176.5 1963.9L1175 1966.8L1173.5 1969.6L1172 1971.8L1170.5 1973.6L1169 1975.5L1167.5 1978.1L1166 1980.9L1164.5 1983L1163 1983.9L1161.5 1983.4L1160 1982.2L1158.4 1980.9L1156.9 1979.6L1155.5 1978.5L1154.1 1977.5L1152.8 1976.5L1151.5 1976L1150.3 1976.4L1149 1977.2L1147.5 1979.2L1146.1 1982.1L1144.6 1985.5L1143 1988.8L1141.6 1991.3L1140.1 1993.7L1138.6 1996.2L1137 1999L1135.5 2001.9L1134 2004.4L1132.5 2005.9L1131 2006.5L1129.5 2006.3L1128 2005.7L1126.5 2005.2L1125 2005.1L1123.5 2006L1122 2007.9L1120.5 2010.2L1119 2012.7L1117.5 2015.4L1116 2018L1114.5 2020.4L1113 2022.3L1111.5 2023.6L1110 2024.2L1108.5 2024.7L1107 2025.3L1105.5 2026.5L1104 2028.2L1102.5 2030.3L1101 2032.5L1099.5 2034.3L1098 2035.3L1096.5 2035.8L1095 2036.4L1093.5 2038.1L1092 2041L1090.5 2044.6L1089 2048.3L1087.5 2051.5L1086 2054.3L1084.5 2057.1L1083 2059.6L1081.5 2061.1L1080 2061.3L1078.5 2060.6L1077 2060.2L1075.5 2061.1L1074 2063.4L1072.5 2066.2L1071 2068.7L1069.5 2070.4L1068 2071.4L1066.5 2072.3L1065 2073.4L1063.5 2074.2L1062 2074.5L1060.5 2074.8L1059 2074.6L1057.5 2073.9L1056 2072.7L1054.5 2071.3L1053 2070.6L1051.5 2071.3L1050 2072.9L1048.5 2074.2L1047 2074.3L1045.5 2073L1044 2070.5L1042.5 2068L1041 2065.8L1039.5 2064.3L1038 2063.4L1036.5 2063.1L1035 2063.1L1033.5 2063.3L1032 2063.5L1030.5 2063.4L1029 2062.8L1027.5 2061.8L1026 2060.7L1024.5 2059.8L1023 2059.3L1021.5 2058.9L1019.9 2058.4L1018.4 2057L1016.9 2054.9L1015.5 2052.3L1014 2049.3L1012.6 2046L1011.3 2041.6L1010 2035.6L1008.7 2027.6L1007.4 2018.5L1006.2 2008.6L1005 1998.3L1003.5 1982.8L1002 1965.4L1000.5 1947.2L999.2 1932.4L997.9 1917.7L996.7 1905.2L995.5 1896.2L994.3 1888.7L993.2 1884.7L992 1883.8L990.9 1886.5L989.6 1892.1L988.3 1898L987 1901.3L985.8 1900.5L984.5 1897.6L983.2 1894.9L982 1894.1L980.6 1895.6L979.2 1897.7L977.9 1899.6L977 1900.5Z" fill="#8eeeea" fill-opacity="0.5"/>
<path d="M977 1891.9L977.9 1893.8L979.2 1896L980.6 1897.7L982 1898.1L983.2 1897L984.5 1894.9L985.8 1892.1L987 1888.2L988.3 1881.9L989.6 1873.6L990.9 1866.3L992 1862.4L993.3 1863L994.4 1867.5L995.5 1875.2L996.8 1887.4L998.1 1903.7L999.5 1921.3L1000.9 1939L1002.4 1956.9L1004 1973.8L1005.2 1986.5L1006.5 1999.3L1007.8 2011.4L1009 2021.3L1010.3 2030.3L1011.6 2036.2L1013 2040.4L1014.3 2042.7L1015.8 2044.1L1017.4 2045.3L1019 2046.6L1020.3 2047.8L1021.6 2048.7L1022.9 2049.2L1024.2 2049.4L1025.5 2049.4L1026.8 2049L1028.1 2048.1L1029.4 2046.9L1030.7 2045.8L1032 2045.1L1033.6 2044L1035.1 2042.6L1036.6 2041.5L1038 2041.4L1039.3 2043.2L1040.6 2046.6L1041.8 2050.7L1043 2054.6L1044.2 2058.2L1045.4 2061.1L1046.7 2062.4L1048 2061.4L1049.4 2057.4L1050.9 2051.9L1052.4 2046.9L1054 2044.4L1055.3 2045L1056.6 2047.1L1057.9 2049.5L1059.2 2051.1L1060.5 2051.3L1061.8 2050.2L1063.1 2048.4L1064.4 2046.2L1065.7 2043.9L1067 2042.1L1068.4 2040.9L1069.8 2039.9L1071.2 2038.9L1072.6 2037.6L1074 2035.7L1075.3 2033.5L1076.6 2031.4L1077.9 2030L1079.2 2029.4L1080.5 2028.9L1081.8 2027.4L1083.1 2024.2L1084.4 2019.9L1085.7 2015.6L1087 2012.2L1088.5 2009.2L1089.9 2006.9L1091.4 2005.1L1093 2003.9L1094.4 2004L1095.9 2004.8L1097.5 2005.5L1099 2005.2L1100.5 2003.9L1101.9 2001.8L1103.2 1999.8L1104.5 1997.7L1105.7 1995.5L1107 1992.9L1108.5 1988.8L1109.9 1983.8L1111.4 1979L1113 1975.4L1114.4 1974.1L1115.9 1973.9L1117.5 1973.7L1119 1972.8L1120.5 1970.6L1121.9 1967.4L1123.1 1964L1124.4 1960.6L1125.7 1957.5L1127 1954.7L1128.4 1952L1129.8 1949.1L1131.2 1946.5L1132.6 1944.4L1134 1943.6L1135.3 1944.8L1136.6 1947.6L1137.9 1950.6L1139.1 1952.8L1140.5 1953.3L1141.9 1951.9L1143.4 1949.2L1145 1945.8L1146.5 1942.6L1148 1940.5L1149.5 1939.4L1151 1938.5L1152.5 1937.4L1154 1936L1155.5 1934.3L1157 1932L1158.5 1928.9L1160 1925.3L1161.5 1922L1163 1919.6L1164.5 1918.2L1166 1917.2L1167.5 1916.1L1169 1914.7L1170.5 1912.8L1172 1910.9L1173.5 1909.9L1175 1910.1L1176.5 1911.6L1178 1913.7L1179.5 1915.5L1181 1916.1L1182.5 1915.1L1184 1912.9L1185.5 1910.1L1187 1906.9L1188.6 1903.5L1190.1 1900.2L1191.6 1897.5L1193 1895.8L1194.6 1894.6L1196.1 1893.9L1197.5 1894.1L1199 1895.8L1200.3 1899.3L1201.5 1903.5L1202.8 1906.8L1204.1 1908.6L1205.5 1908.5L1207 1906.6L1208.5 1903.6L1210 1900.4L1211.5 1897.6L1213 1896.1L1214.3 1896.5L1215.6 1898.5L1216.9 1901.3L1218.2 1904L1219.5 1905.5L1220.9 1905.1L1222.4 1903.4L1223.9 1901.4L1225.4 1900.2L1227 1900.1L1228.4 1900.8L1229.8 1901.2L1231.2 1901L1232.7 1900.5L1234.1 1899.9L1235.5 1898.9L1237.1 1897.1L1238.6 1894.7L1240.2 1892.5L1241.6 1891.1L1243 1890.6L1244.6 1891.2L1246.1 1892.5L1247.5 1894.2L1249 1895.8L1250.3 1897.4L1251.5 1899.4L1252.8 1901.3L1254.1 1902.8L1255.5 1903.8L1257 1904.4L1258.5 1905.2L1260.1 1906.3L1261.6 1907.3L1263 1907.5L1264.4 1906.2L1265.7 1903.4L1266.8 1899.9L1268 1895.8L1269.2 1890.9L1270.4 1885.2L1271.7 1879.1L1273 1873.6L1274.4 1869.3L1275.9 1865.9L1277.4 1862.4L1279 1858.1L1280.3 1853.8L1281.5 1849L1282.8 1844L1284.1 1838.9L1285.5 1833.3L1287 1826.9L1288.5 1819.8L1290.1 1813L1291.6 1807.3L1293 1803.2L1294.6 1801.3L1296.2 1802.3L1297.6 1804L1299 1803.8L1300.3 1800.2L1301.6 1794L1302.8 1787L1304 1780.7L1305.2 1775.2L1306.4 1769.8L1307.6 1765.3L1309 1762.9L1310.2 1763.2L1311.6 1765.2L1312.9 1767.9L1314.3 1770L1315.5 1770.8L1316.9 1771.3L1318.1 1772L1319.3 1772.9L1320.5 1773.6L1321.7 1772.6L1322.8 1770.3L1324.1 1768.8L1325.5 1770.5L1326.9 1776.2L1328.4 1784.9L1330 1794L1331.6 1800.9L1333 1803.6L1334.6 1802.2L1336.1 1798.7L1337.5 1795.4L1339 1793.5L1340.3 1792.6L1341.5 1790.5L1342.8 1787.7L1344.1 1785L1345.5 1783.1L1347 1781.9L1348.5 1781.4L1350.1 1782.2L1351.6 1784.5L1353 1787.6L1354.6 1790.5L1356.1 1793L1357.6 1795.3L1359 1797.5L1360.4 1800.4L1361.8 1803.6L1363.1 1806.4L1364.5 1808.2L1366 1808.3L1367.5 1807.8L1369.1 1808L1370.5 1810.4L1371.8 1815.3L1373.1 1821.3L1374.3 1826.9L1375.5 1830.7L1376.7 1833.1L1377.8 1835.4L1379.1 1838L1380.5 1840.2L1381.8 1840.9L1383.3 1840.6L1384.9 1839.9L1386.5 1839.3L1388 1839.6L1389.5 1840.8L1391 1842.6L1392.5 1844.5L1394 1846.3L1395.5 1847.6L1397 1848.1L1398.5 1848.1L1400 1848L1401.5 1848.3L1403 1849.5L1404.5 1851.5L1406 1853.8L1407.5 1856.3L1409 1859L1410.5 1861.8L1412 1864.8L1413.5 1867.7L1415 1870.4L1416.5 1873.1L1418 1875.8L1419.5 1878.1L1421 1879.4L1422.5 1879.4L1424 1878.5L1425.5 1877.4L1427 1877.9L1428.5 1880.4L1430 1884.1L1431.5 1887.6L1433 1889.1L1434.5 1887.7L1436.1 1884.2L1437.7 1879.8L1439.2 1875.9L1440.5 1873.7L1441.9 1873.9L1443 1875.7L1444.1 1877.5L1445.5 1878L1446.8 1877.2L1448.3 1875.8L1449.9 1874.1L1451.5 1872.3L1453 1871L1454.5 1870.6L1456 1871L1457.5 1872.5L1459 1875.3L1460.5 1878.9L1462 1882.8L1463.6 1886.6L1465.1 1889.7L1466.6 1892L1468 1893L1469.6 1892.2L1471.1 1890L1472.5 1887.9L1474 1887.1L1475.3 1888.2L1476.6 1890.2L1477.9 1891.9L1479.2 1892.5L1480.5 1891.6L1481.8 1888.6L1483.1 1884.3L1484.4 1880.1L1485.7 1877.1L1487 1875.8L1488.6 1876.1L1490.2 1877.1L1491.7 1878.3L1493 1879.5L1494.5 1882.5L1495.8 1886.1L1497 1887.4L1498.2 1883.6L1499.4 1876.5L1500.5 1869.8L1501.6 1863.9L1502.8 1859L1504 1858.8L1505.3 1864.5L1506.6 1874L1508 1885.8L1509.3 1900.8L1510.6 1918.9L1512 1937.5L1513.4 1955.7L1514.9 1973.5L1516.5 1989.6L1517.7 2000.2L1519 2010.1L1520.2 2018.9L1521.5 2026.4L1522.7 2032.1L1524 2036.1L1525.2 2039L1526.5 2041.7L1527.8 2044.7L1529.2 2048L1530.6 2050.9L1532 2052.4L1533.4 2051.3L1534.9 2047.7L1536.4 2043.6L1538 2041.4L1539.4 2041.6L1540.9 2043L1542.5 2045L1544 2047.1L1545.5 2048.9L1546.9 2050.1L1548.2 2050.8L1549.5 2051.1L1550.7 2050.8L1552 2050.5L1553.5 2051.5L1554.9 2053.8L1556.4 2056.2L1558 2057.1L1559.4 2055.9L1560.9 2053.3L1562.5 2050.1L1564 2047.1L1565.5 2045.1L1566.9 2044.2L1568.2 2043.9L1569.5 2043.6L1570.7 2042.6L1572 2040.6L1573.6 2037.2L1575.1 2033.6L1576.6 2030.6L1578 2028.8L1579.3 2027.8L1580.5 2027.4L1581.7 2027.5L1583 2028.3L1584.4 2030.6L1585.9 2033.8L1587.4 2036.1L1589 2035.7L1590.3 2032.5L1591.6 2027.8L1592.9 2022.6L1594.2 2017.6L1595.5 2013.5L1596.8 2010L1598.1 2006.5L1599.4 2003.4L1600.7 2000.7L1602 1998L1603.5 1994.4L1604.9 1990.5L1606.4 1986.6L1608 1983.6L1609.4 1982.6L1610.9 1983.5L1612.4 1985.7L1614 1988L1615.5 1989.2L1617 1989.2L1618.6 1988.5L1620.1 1987.5L1621.6 1986.1L1623 1984.1L1624.6 1981.1L1626.1 1977.9L1627.5 1975.5L1629 1973.7L1630.3 1972.5L1631.5 1970L1632.8 1966.3L1634.1 1961.8L1635.5 1957.5L1636.9 1954.8L1638.4 1953.9L1640 1954.7L1641.5 1956.5L1643 1958.1L1644.5 1958.3L1646 1956.6L1647.5 1953.6L1649 1949.9L1650.5 1946.3L1652 1943.4L1653.5 1941.5L1655 1939.9L1656.5 1938.3L1658 1936.4L1659.5 1934.5L1661 1933.5L1662.5 1933.5L1664 1934.2L1665.5 1934.9L1667 1935.4L1668.5 1935.7L1670 1936.1L1671.5 1936.4L1673 1936.5L1674.5 1936.9L1676 1937.5L1677.5 1938.2L1679 1938.1L1680.5 1936.8L1682 1934.4L1683.5 1931.8L1685 1929.6L1686.5 1927.7L1688 1925.6L1689.5 1923.2L1691 1920.9L1692.5 1918.8L1694 1917.2L1695.5 1916L1697 1915.5L1698.5 1915.5L1700 1915.6L1701.5 1915.4L1703 1914.8L1704.5 1913.7L1706 1912.6L1707.5 1911.9L1709 1911.5L1710.5 1911L1712 1909.9L1713.6 1908.3L1715.1 1906.6L1716.6 1905.1L1718 1903.9L1719.6 1902.6L1721.1 1901.6L1722.5 1900.9L1724 1900.6L1725.4 1900.4L1726.9 1900.4L1728.3 1900.7L1729.6 1901.5L1730.5 1902.3L1730.5 1932.5L1729.6 1930.6L1728.3 1928.8L1726.9 1927.5L1725.4 1926.8L1724 1926.6L1722.5 1927L1721.1 1927.5L1719.6 1927.7L1718 1927.9L1716.6 1928.5L1715.1 1930L1713.6 1932.2L1712 1934.5L1710.5 1936.4L1709 1937.8L1707.5 1938.9L1706 1939.5L1704.5 1939.7L1703 1939.1L1701.5 1937.7L1700 1936.4L1698.5 1936.4L1697 1938.4L1695.5 1942L1694 1946.2L1692.5 1950.1L1691 1953.5L1689.5 1955.9L1688 1957.1L1686.5 1957.2L1685 1956.7L1683.5 1956.3L1682 1956.3L1680.5 1956.6L1679 1956.2L1677.5 1955.2L1676 1954.1L1674.5 1953.6L1673 1954.4L1671.5 1955.9L1670 1957.6L1668.5 1959.1L1667 1960.2L1665.5 1961.3L1664 1962.8L1662.5 1965.2L1661 1968.1L1659.5 1970.9L1658 1972.9L1656.5 1973.8L1655 1973.8L1653.5 1973.3L1652 1972.9L1650.5 1973.5L1649 1975.8L1647.5 1979.3L1646 1983.5L1644.5 1987.3L1643 1989.9L1641.5 1990.5L1640 1989.1L1638.4 1986.5L1636.9 1984.1L1635.5 1983.2L1634.1 1984.8L1632.8 1988.5L1631.5 1993.2L1630.3 1997.8L1629 2001.2L1627.5 2004L1626.1 2006.1L1624.6 2007.6L1623 2009L1621.6 2010.2L1620.1 2011.7L1618.6 2013.1L1617 2014.2L1615.5 2015L1614 2015.8L1612.4 2016.9L1610.9 2018.3L1609.4 2019.9L1608 2021.8L1606.4 2024.2L1604.9 2026.7L1603.5 2028.8L1602 2030.1L1600.7 2030.2L1599.4 2030.5L1598.1 2031.9L1596.8 2034.7L1595.5 2038.5L1594.2 2043.1L1592.9 2048.2L1591.6 2053.2L1590.3 2057.2L1589 2059.3L1587.4 2058.3L1585.9 2054.7L1584.4 2050.8L1583 2048.8L1581.7 2049.2L1580.5 2050.8L1579.3 2053.2L1578 2055.9L1576.6 2058.5L1575.1 2060.9L1573.6 2063L1572 2064.7L1570.7 2066L1569.5 2067.7L1568.2 2069.8L1566.9 2072.3L1565.5 2074.7L1564 2076.9L1562.5 2078.6L1560.9 2079.3L1559.4 2079.1L1558 2077.9L1556.4 2075.2L1554.9 2072L1553.5 2069.7L1552 2069L1550.7 2070L1549.5 2070.8L1548.2 2070.7L1546.9 2069.6L1545.5 2067.7L1544 2065.4L1542.5 2063.3L1540.9 2061.9L1539.4 2061.3L1538 2061.3L1536.4 2062.8L1534.9 2065.5L1533.4 2067.9L1532 2068.4L1530.6 2066.6L1529.2 2063.7L1527.8 2060.4L1526.5 2057.5L1525.2 2055L1524 2051.9L1522.7 2047.3L1521.5 2040.6L1520.2 2032.1L1519 2022.3L1517.7 2011.7L1516.5 2000.6L1514.9 1984.7L1513.4 1967.7L1512 1950.9L1510.6 1934.1L1509.3 1917.9L1508 1904.7L1506.6 1894.4L1505.3 1886.2L1504 1881.5L1502.8 1882.7L1501.6 1888.2L1500.5 1894.8L1499.4 1902.8L1498.2 1912.5L1497 1919.7L1495.8 1921.5L1494.5 1919.9L1493 1917.8L1491.7 1916.4L1490.2 1914.5L1488.6 1912.8L1487 1912.4L1485.7 1914L1484.4 1916.6L1483.1 1919.1L1481.8 1920.4L1480.5 1919.8L1479.2 1917.5L1477.9 1914.7L1476.6 1912.2L1475.3 1910.8L1474 1910.6L1472.5 1911.7L1471.1 1913.1L1469.6 1914L1468 1914L1466.6 1913L1465.1 1911.4L1463.6 1909.3L1462 1907.3L1460.5 1906.1L1459 1905.6L1457.5 1905.5L1456 1905.8L1454.5 1906.2L1453 1907.1L1451.5 1908.9L1449.9 1911.1L1448.3 1912.8L1446.8 1913.4L1445.5 1912.6L1444.1 1910.1L1443 1906.4L1441.9 1903L1440.5 1901.6L1439.2 1902.7L1437.7 1905.9L1436.1 1910L1434.5 1913.7L1433 1915.6L1431.5 1914.9L1430 1912.6L1428.5 1909.6L1427 1906.9L1425.5 1904.9L1424 1903.8L1422.5 1903L1421 1902.5L1419.5 1902.2L1418 1902.1L1416.5 1901.6L1415 1900.6L1413.5 1898.4L1412 1895.1L1410.5 1891.1L1409 1886.8L1407.5 1882.5L1406 1878.8L1404.5 1876L1403 1874.2L1401.5 1873.4L1400 1873.6L1398.5 1874.4L1397 1875.7L1395.5 1876.7L1394 1876.9L1392.5 1876L1391 1874.8L1389.5 1874.2L1388 1874.6L1386.5 1875.9L1384.9 1877.2L1383.3 1877.3L1381.8 1876.3L1380.5 1874.4L1379.1 1871.5L1377.8 1868.3L1376.7 1864.7L1375.5 1860.3L1374.3 1854.1L1373.1 1846L1371.8 1838.3L1370.5 1832.5L1369.1 1830.4L1367.5 1831.3L1366 1833.8L1364.5 1835.9L1363.1 1835.4L1361.8 1832.5L1360.4 1828.2L1359 1824.3L1357.6 1822.1L1356.1 1821.2L1354.6 1820.9L1353 1820.5L1351.6 1819.4L1350.1 1817.9L1348.5 1816.9L1347 1816.9L1345.5 1817.4L1344.1 1818.2L1342.8 1819L1341.5 1820.2L1340.3 1822L1339 1824L1337.5 1826.7L1336.1 1829.5L1334.6 1831.2L1333 1830.7L1331.6 1827.6L1330 1822.2L1328.4 1815.7L1326.9 1809.9L1325.5 1806.7L1324.1 1807.2L1322.8 1810.7L1321.7 1814.8L1320.5 1817.1L1319.3 1816.8L1318.1 1814.4L1316.9 1810.7L1315.5 1806.8L1314.3 1803.1L1312.9 1799.3L1311.6 1796L1310.2 1793.8L1309 1793.7L1307.6 1796.3L1306.4 1800.8L1305.2 1806.1L1304 1811.3L1302.8 1817.2L1301.6 1823.9L1300.3 1829.6L1299 1833L1297.6 1833.1L1296.2 1831.7L1294.6 1831.4L1293 1834.4L1291.6 1839.9L1290.1 1846.3L1288.5 1852.6L1287 1858.1L1285.5 1863L1284.1 1867.7L1282.8 1872.4L1281.5 1876.2L1280.3 1878.9L1279 1881.3L1277.4 1885L1275.9 1889.6L1274.4 1895.1L1273 1901.2L1271.7 1907.6L1270.4 1913.5L1269.2 1918.5L1268 1922.3L1266.8 1925.1L1265.7 1927.4L1264.4 1929.1L1263 1930.1L1261.6 1930.3L1260.1 1930.4L1258.5 1930.8L1257 1931.3L1255.5 1931.6L1254.1 1931.3L1252.8 1930.3L1251.5 1928.6L1250.3 1926.6L1249 1924.3L1247.5 1921.7L1246.1 1919.3L1244.6 1918L1243 1918.2L1241.6 1920.1L1240.2 1923L1238.6 1926.6L1237.1 1929.9L1235.5 1931.9L1234.1 1932L1232.7 1930.9L1231.2 1929.1L1229.8 1927.4L1228.4 1926.1L1227 1925.7L1225.4 1926.4L1223.9 1927.9L1222.4 1929.2L1220.9 1929.5L1219.5 1929L1218.2 1927.7L1216.9 1926.3L1215.6 1925.3L1214.3 1924.8L1213 1925.5L1211.5 1927.7L1210 1930.7L1208.5 1933.8L1207 1935.9L1205.5 1936.4L1204.1 1935.4L1202.8 1933.8L1201.5 1932.5L1200.3 1931.6L1199 1931.2L1197.5 1931.2L1196.1 1931.5L1194.6 1932.2L1193 1933.2L1191.6 1934.3L1190.1 1936.3L1188.6 1939.1L1187 1942L1185.5 1944.4L1184 1945.7L1182.5 1945.7L1181 1944.8L1179.5 1943.6L1178 1942.8L1176.5 1942.4L1175 1942.2L1173.5 1942.5L1172 1943.6L1170.5 1945.7L1169 1948.1L1167.5 1950.1L1166 1951.4L1164.5 1951.9L1163 1951.9L1161.5 1951.9L1160 1952L1158.5 1952.3L1157 1953.2L1155.5 1955.1L1154 1957.7L1152.5 1960.6L1151 1963.4L1149.5 1965.8L1148 1968.2L1146.5 1970.8L1145 1973.6L1143.4 1976.1L1141.9 1978.2L1140.5 1979.3L1139.1 1979.2L1137.9 1978.2L1136.6 1976.6L1135.3 1975L1134 1973.7L1132.6 1973.4L1131.2 1974L1129.8 1976L1128.4 1978.9L1127 1981.8L1125.7 1984.2L1124.4 1986.3L1123.1 1988.7L1121.9 1991.6L1120.5 1994.7L1119 1996.7L1117.5 1997.3L1115.9 1997.3L1114.4 1997.9L1113 2000.4L1111.4 2005.6L1109.9 2011.9L1108.5 2017.6L1107 2021.6L1105.7 2023.3L1104.5 2024L1103.2 2024.5L1101.9 2025.3L1100.5 2026.7L1099 2027.7L1097.5 2028L1095.9 2027.4L1094.4 2026.7L1093 2027L1091.4 2028.8L1089.9 2031.6L1088.5 2034.9L1087 2038.5L1085.7 2041.7L1084.4 2044.9L1083.1 2047.7L1081.8 2049.6L1080.5 2050.9L1079.2 2051.9L1077.9 2053.3L1076.6 2054.9L1075.3 2056.7L1074 2058.3L1072.6 2059.9L1071.2 2061.5L1069.8 2063.3L1068.4 2064.9L1067 2066.5L1065.7 2068L1064.4 2069.3L1063.1 2070.1L1061.8 2070.4L1060.5 2070.5L1059.2 2070.5L1057.9 2070.6L1056.6 2070.7L1055.3 2070.6L1054 2070.7L1052.4 2072.7L1050.9 2076.3L1049.4 2080.2L1048 2082.5L1046.7 2082.3L1045.4 2080.5L1044.2 2077.6L1043 2074.2L1041.8 2070.2L1040.6 2065.7L1039.3 2062L1038 2060.2L1036.6 2060.3L1035.1 2061.1L1033.6 2061.6L1032 2061.1L1030.7 2060.1L1029.4 2059.6L1028.1 2059.9L1026.8 2061L1025.5 2062.3L1024.2 2063.4L1022.9 2063.9L1021.6 2064.1L1020.3 2064.1L1019 2064L1017.4 2063.2L1015.8 2061.4L1014.3 2058.1L1013 2053.2L1011.6 2046.6L1010.3 2039.5L1009 2030.2L1007.8 2020.9L1006.5 2009.6L1005.2 1997.3L1004 1985.1L1002.4 1968.5L1000.9 1951.5L999.5 1935.2L998.1 1919.2L996.8 1904.1L995.5 1892.5L994.4 1884.8L993.3 1880.2L992 1879.9L990.9 1884.2L989.6 1891.7L988.3 1899.8L987 1906.1L985.8 1910.2L984.5 1913.5L983.2 1915.9L982 1917.5L980.6 1917.6L979.2 1916.4L977.9 1914.8L977 1913.7Z" fill="#f3c58e" fill-opacity="0.5"/>
<path d="M977 1889.4L977.9 1887.8L979.2 1885.7L980.6 1883.9L982 1883.4L983.2 1885.2L984.5 1888.5L985.8 1891.6L987 1892.4L988.3 1889.1L989.6 1883L990.9 1877.1L992 1874.2L993.2 1875.3L994.3 1880.1L995.5 1888.9L996.7 1899L997.9 1912.3L999.2 1927L1000.5 1941.4L1002 1959.3L1003.5 1976.6L1005 1992.5L1006.2 2003.4L1007.4 2013.7L1008.7 2023L1010 2030.7L1011.3 2036.3L1012.6 2040.2L1014 2043L1015.5 2045.5L1016.9 2047.3L1018.4 2048.7L1019.9 2049.9L1021.5 2050.8L1023 2051.6L1024.5 2052.3L1026 2052.9L1027.5 2053.5L1029 2054.3L1030.5 2055.3L1032 2056L1033.5 2056.3L1035 2056.1L1036.5 2055.8L1038 2055.8L1039.5 2056.7L1041 2058.4L1042.5 2060.6L1044 2062.7L1045.5 2064.3L1047 2064.7L1048.5 2063.9L1050 2062.4L1051.5 2060.9L1053 2060.3L1054.5 2060.9L1056 2062.5L1057.5 2064.4L1059 2066.1L1060.5 2066.9L1062 2066.9L1063.5 2066.3L1065 2065.4L1066.5 2064L1068 2062.4L1069.5 2060.6L1071 2058.7L1072.5 2056.8L1074 2055.1L1075.5 2053.9L1077 2053.2L1078.5 2053L1080 2052.8L1081.5 2052.1L1083 2050.7L1084.5 2048.5L1086 2045.6L1087.5 2042.4L1089 2039L1090.5 2035.9L1092 2033.1L1093.5 2030.5L1095 2028.3L1096.5 2026.4L1098 2024.8L1099.5 2023.3L1101 2021.9L1102.5 2020.3L1104 2018.6L1105.5 2017L1107 2015.5L1108.5 2014.2L1110 2013L1111.5 2011.8L1113 2010.6L1114.5 2009.4L1116 2008.2L1117.5 2006.7L1119 2004.9L1120.5 2002.8L1122 2000.2L1123.5 1997.1L1125 1993.8L1126.5 1990.9L1128 1988.7L1129.5 1987.4L1131 1986.8L1132.5 1986.6L1134 1986.1L1135.5 1985.2L1137 1983.8L1138.6 1982.1L1140.1 1980.1L1141.6 1978L1143 1975.8L1144.6 1972.5L1146.1 1968.7L1147.5 1965.2L1149 1963L1150.3 1962.6L1151.5 1963.2L1152.8 1964.2L1154.1 1965.2L1155.5 1965.6L1156.9 1965.8L1158.4 1966.1L1160 1966.7L1161.5 1967.4L1163 1967.6L1164.5 1967.4L1166 1966.6L1167.5 1965.5L1169 1964L1170.5 1962.2L1172 1960L1173.5 1957.4L1175 1954.7L1176.5 1952.3L1178 1950.3L1179.5 1948.7L1181 1947.3L1182.5 1945.9L1184 1944.9L1185.5 1944.1L1187 1944.1L1188.5 1944.9L1190 1946.3L1191.5 1947.5L1193 1947.9L1194.5 1947.2L1196 1945.8L1197.5 1944.1L1199 1942.4L1200.5 1941.1L1202 1940.1L1203.5 1939.4L1205 1938.8L1206.5 1938.2L1208 1937.4L1209.5 1936.5L1211 1935.4L1212.5 1934.1L1214 1932.8L1215.5 1931.8L1217 1931.3L1218.5 1931.4L1220 1932L1221.5 1932.6L1223 1932.9L1224.5 1932.8L1226 1932.2L1227.5 1931.4L1229 1930.2L1230.5 1929.1L1232 1928.3L1233.5 1928.1L1235 1928.2L1236.5 1928.1L1238 1927.2L1239.5 1925.1L1241 1922.1L1242.5 1918.8L1244 1916.1L1245.5 1914.5L1247 1914.4L1248.5 1915.2L1250 1916.5L1251.5 1918L1253 1919.2L1254.5 1920.2L1256 1921.3L1257.6 1922L1259.1 1922.4L1260.5 1922.2L1261.9 1921.8L1263.2 1921.3L1264.5 1920.4L1265.7 1918.9L1267 1916.3L1268.5 1911.1L1270 1904.2L1271.5 1896.6L1273 1889.5L1274.5 1883L1276 1876.6L1277.5 1870.5L1279 1865.1L1280.3 1861.7L1281.6 1858.8L1282.9 1855.7L1284.2 1851.9L1285.5 1847.1L1286.8 1841.2L1288.1 1834.7L1289.4 1828L1290.7 1821.5L1292 1815.6L1293.5 1808.8L1295 1802.4L1296.5 1797L1298 1793L1299.5 1790.9L1301 1790.2L1302.5 1789.7L1304 1788.1L1305.3 1785.8L1306.6 1783L1307.9 1780L1309.2 1777.1L1310.5 1774.9L1311.8 1773.6L1313.1 1772.8L1314.4 1772.3L1315.7 1771.6L1317 1770.5L1318.5 1768.8L1320 1767.1L1321.5 1766.3L1323 1767.1L1324.5 1769.9L1326 1774L1327.5 1778.6L1329 1783L1330.3 1786.8L1331.5 1791.1L1332.8 1795.5L1334.1 1799L1335.5 1801.1L1337 1801.2L1338.5 1799.6L1340.1 1797.3L1341.6 1795.2L1343 1794.3L1344.6 1795.6L1346.1 1798.8L1347.5 1802.9L1349 1807L1350.3 1810.2L1351.5 1813.1L1352.8 1815.6L1354.1 1817.5L1355.5 1818.9L1356.9 1820L1358.4 1820.8L1360 1821.3L1361.5 1821.7L1363 1822.2L1364.5 1823.1L1366 1824.4L1367.5 1825.8L1369 1827.1L1370.5 1828.1L1372 1828.5L1373.5 1828.4L1375 1828.2L1376.5 1828.3L1378 1829.1L1379.5 1830.7L1381 1833L1382.5 1835.5L1384 1837.9L1385.5 1839.7L1387 1840.6L1388.5 1840.8L1390 1840.9L1391.5 1841.1L1393 1841.7L1394.5 1842.7L1396 1844L1397.5 1845.5L1399 1847L1400.5 1848.3L1402 1849.7L1403.6 1851.2L1405.1 1852.8L1406.6 1854.2L1408 1855.3L1409.6 1855.6L1411.1 1855L1412.5 1854.5L1414 1855.4L1415.3 1858L1416.6 1862.2L1417.9 1866.7L1419.2 1870.6L1420.5 1872.7L1421.8 1872.2L1423.1 1870L1424.4 1866.7L1425.7 1863.6L1427 1861.7L1428.5 1861.3L1429.9 1862L1431.4 1863.3L1433 1864.7L1434.4 1865.9L1435.9 1867.5L1437.4 1869.1L1439 1870.8L1440.5 1872.3L1442 1873.8L1443.5 1875.5L1445 1877.2L1446.5 1878.8L1448 1880.3L1449.5 1881.5L1451 1882.6L1452.5 1883.6L1454 1884.5L1455.5 1885.5L1457 1887L1458.5 1889L1460 1891.1L1461.5 1892.7L1463 1893.5L1464.5 1892.9L1466 1891.3L1467.5 1889.5L1469 1888.1L1470.5 1887.5L1472 1888L1473.5 1889.3L1475 1890.9L1476.5 1892.2L1478 1892.9L1479.5 1892.8L1481 1892.3L1482.5 1891.5L1484 1890.6L1485.5 1889.8L1487 1889.2L1488.6 1888.9L1490.2 1888.9L1491.7 1889.1L1493 1889.4L1494.4 1890.2L1495.7 1891.4L1496.9 1892.3L1498 1891.8L1499.4 1888L1500.7 1882.5L1502 1878.6L1503.2 1876.9L1504.3 1876.8L1505.5 1880L1506.8 1887.4L1508.2 1898L1509.5 1910.4L1510.6 1924.4L1511.7 1940L1513 1956L1514.1 1968.7L1515.4 1982L1516.7 1994.9L1518 2006.4L1519.2 2016.2L1520.4 2024.7L1521.7 2031.6L1523 2036.9L1524.4 2040.7L1525.9 2043.5L1527.4 2045.7L1529 2047.5L1530.3 2048.2L1531.5 2048.2L1532.8 2047.7L1534.1 2047.1L1535.5 2046.8L1536.9 2047.3L1538.4 2048.6L1540 2050.5L1541.5 2052.9L1543 2055.1L1544.5 2056.8L1546 2058L1547.5 2058.7L1549 2058.9L1550.5 2059L1552 2059.3L1553.5 2060L1555 2060.9L1556.5 2061.9L1558 2062.6L1559.5 2062.7L1561 2062.4L1562.6 2062.5L1564.1 2063.2L1565.5 2064.7L1566.9 2067L1568.2 2069.9L1569.5 2072.7L1570.7 2074.8L1572 2075.6L1573.5 2074.6L1574.9 2072.3L1576.4 2069.6L1578 2067.1L1579.4 2065.5L1580.9 2063.8L1582.4 2062L1584 2060L1585.5 2057.7L1587 2055L1588.5 2052.2L1590 2049.5L1591.5 2046.8L1593 2044.3L1594.5 2041.7L1596 2039.2L1597.5 2036.8L1599 2034.5L1600.5 2032.4L1602 2030.3L1603.5 2028.5L1605 2026.9L1606.5 2025.3L1608 2023.6L1609.5 2021.8L1611 2019.9L1612.5 2018.4L1614 2017.3L1615.5 2016.6L1617 2016.4L1618.5 2016.6L1620 2016.9L1621.5 2016.9L1623 2016.2L1624.5 2014.7L1626 2012.4L1627.5 2009.5L1629 2006.4L1630.5 2003.5L1632 2001L1633.5 1998.8L1635 1996.8L1636.5 1994.9L1638 1992.9L1639.5 1990.8L1641 1988.6L1642.5 1986.3L1644 1983.9L1645.5 1981.4L1647 1979.1L1648.5 1977L1650 1975.1L1651.5 1973.4L1653 1971.7L1654.5 1970.1L1656 1968.7L1657.5 1967.1L1659 1965.4L1660.5 1963.2L1662 1960.6L1663.5 1957.8L1665 1955.1L1666.5 1952.8L1668 1950.8L1669.5 1948.7L1671.1 1946.3L1672.7 1943.7L1674.2 1941.2L1675.5 1939L1676.9 1936.8L1678 1935.2L1679.1 1934.4L1680.5 1934.5L1681.8 1935.6L1683.3 1937.8L1684.9 1940.3L1686.5 1942.6L1688 1943.8L1689.5 1943.1L1691 1940.9L1692.5 1938L1694 1935L1695.5 1932.7L1697 1931.2L1698.5 1930.2L1700 1929.7L1701.5 1929.8L1703 1930.4L1704.5 1932.1L1706 1934.8L1707.5 1937.7L1709 1939.9L1710.5 1940.6L1712 1939.4L1713.6 1937.1L1715.1 1934.3L1716.6 1931.5L1718 1929.1L1719.6 1926.3L1721.1 1923.3L1722.5 1921L1724 1919.9L1725.4 1920.5L1726.9 1922.3L1728.3 1924.6L1729.6 1927L1730.5 1928.9" fill="none" stroke="#5ab2b6" stroke-width="3.2" stroke-linejoin="round"/>
<path d="M977 1902L977.9 1903.6L979.2 1905.7L980.6 1907.2L982 1907.2L983.2 1905.4L984.5 1902.5L985.8 1898.9L987 1894.6L988.3 1888.6L989.6 1881L990.9 1874.4L992 1871.1L993.3 1872L994.4 1876.9L995.5 1884.8L996.8 1896.8L998.1 1912.5L999.5 1929.3L1000.9 1946.5L1002.4 1964.2L1004 1981.1L1005.2 1993.5L1006.5 2005.6L1007.8 2016.8L1009 2026.2L1010.3 2035.1L1011.6 2041.2L1013 2046.1L1014.3 2049.2L1015.8 2051.4L1017.4 2053L1019 2054.4L1020.3 2055.3L1021.6 2055.9L1022.9 2055.8L1024.2 2055.2L1025.5 2054.2L1026.8 2053.2L1028.1 2052.3L1029.4 2051.8L1030.7 2051.6L1032 2051.5L1033.6 2051L1035.1 2050.2L1036.6 2049.8L1038 2050.4L1039.3 2052.7L1040.6 2056.2L1041.8 2060L1043 2063.3L1044.2 2066.1L1045.4 2068.8L1046.7 2070.5L1048 2070.8L1049.4 2068.6L1050.9 2064.9L1052.4 2061.2L1054 2059.1L1055.3 2059.2L1056.6 2060.1L1057.9 2061.3L1059.2 2062.4L1060.5 2062.9L1061.8 2062.2L1063.1 2060.6L1064.4 2058.6L1065.7 2056.6L1067 2055.1L1068.4 2054.2L1069.8 2053.3L1071.2 2052.3L1072.6 2051L1074 2049.5L1075.3 2047.8L1076.6 2045.9L1077.9 2044L1079.2 2041.9L1080.5 2039.5L1081.8 2036.7L1083.1 2033.3L1084.4 2029.7L1085.7 2026.2L1087 2023.1L1088.5 2019.8L1089.9 2016.8L1091.4 2014.3L1093 2012.7L1094.4 2012.4L1095.9 2012.9L1097.5 2013.4L1099 2013.5L1100.5 2012.8L1101.9 2011.4L1103.2 2009.8L1104.5 2007.9L1105.7 2005.8L1107 2003.5L1108.5 2000.1L1109.9 1996.1L1111.4 1992.1L1113 1988.7L1114.4 1986.6L1115.9 1984.9L1117.5 1983.5L1119 1981.9L1120.5 1980L1121.9 1978L1123.1 1976.1L1124.4 1974.4L1125.7 1972.7L1127 1970.8L1128.4 1968.2L1129.8 1965.1L1131.2 1962L1132.6 1959.7L1134 1958.7L1135.3 1959.5L1136.6 1961.6L1137.9 1963.9L1139.1 1965.5L1140.5 1965.6L1141.9 1963.9L1143.4 1960.9L1145 1957.5L1146.5 1954.2L1148 1951.8L1149.5 1950.4L1151 1949.5L1152.5 1948.9L1154 1948.3L1155.5 1947.4L1157 1946L1158.5 1944.2L1160 1942.3L1161.5 1940.3L1163 1938.5L1164.5 1936.9L1166 1935.4L1167.5 1934.1L1169 1932.9L1170.5 1931.9L1172 1931.1L1173.5 1930.6L1175 1930.4L1176.5 1930.3L1178 1930.3L1179.5 1930.2L1181 1929.7L1182.5 1928.6L1184 1927.1L1185.5 1925.5L1187 1923.8L1188.6 1922.1L1190.1 1920.6L1191.6 1919.2L1193 1917.9L1194.6 1916.1L1196.1 1914.3L1197.5 1912.9L1199 1912.5L1200.3 1913.4L1201.5 1915.1L1202.8 1917.1L1204.1 1918.6L1205.5 1919.2L1207 1918.4L1208.5 1916.5L1210 1914L1211.5 1911.7L1213 1910.5L1214.3 1911.2L1215.6 1913.3L1216.9 1915.9L1218.2 1918.1L1219.5 1919L1220.9 1918.5L1222.4 1917.2L1223.9 1915.5L1225.4 1913.9L1227 1912.7L1228.4 1912.4L1229.8 1912.3L1231.2 1912.4L1232.7 1912.4L1234.1 1912.2L1235.5 1911.5L1237.1 1910L1238.6 1908.2L1240.2 1906.5L1241.6 1905.2L1243 1904.7L1244.6 1905.2L1246.1 1906.7L1247.5 1908.7L1249 1910.5L1250.3 1911.9L1251.5 1913.4L1252.8 1914.8L1254.1 1915.9L1255.5 1916.5L1257 1916.7L1258.5 1916.8L1260.1 1917L1261.6 1917.2L1263 1917.2L1264.4 1916.2L1265.7 1914.4L1266.8 1911.9L1268 1908.8L1269.2 1904.9L1270.4 1899.8L1271.7 1894.2L1273 1888.8L1274.4 1884.2L1275.9 1880.3L1277.4 1876.6L1279 1872.6L1280.3 1869L1281.5 1865L1282.8 1860.6L1284.1 1855.7L1285.5 1850.4L1287 1844.3L1288.5 1837.4L1290.1 1830.4L1291.6 1824.2L1293 1819.6L1294.6 1817.5L1296.2 1818.4L1297.6 1819.8L1299 1819L1300.3 1814.7L1301.6 1808.2L1302.8 1801.3L1304 1795.5L1305.2 1790.6L1306.4 1786L1307.6 1782.3L1309 1780.2L1310.2 1780.4L1311.6 1782L1312.9 1784.4L1314.3 1787.1L1315.5 1789.5L1316.9 1792L1318.1 1794.4L1319.3 1796.1L1320.5 1796.9L1321.7 1796L1322.8 1794L1324.1 1792.4L1325.5 1793.1L1326.9 1796.6L1328.4 1802.4L1330 1808.9L1331.6 1814.3L1333 1817.1L1334.6 1817L1336.1 1814.7L1337.5 1812L1339 1810L1340.3 1808.8L1341.5 1807.3L1342.8 1805.5L1344.1 1803.7L1345.5 1802.2L1347 1801.3L1348.5 1801.2L1350.1 1802L1351.6 1803.2L1353 1804.5L1354.6 1805.8L1356.1 1807.1L1357.6 1808.6L1359 1810.6L1360.4 1813.9L1361.8 1818.1L1363.1 1822.1L1364.5 1824.8L1366 1824.9L1367.5 1823.4L1369.1 1821.8L1370.5 1822.1L1371.8 1825.5L1373.1 1831L1374.3 1837.3L1375.5 1842.8L1376.7 1847.5L1377.8 1852.1L1379.1 1856.2L1380.5 1859.1L1381.8 1860.2L1383.3 1860L1384.9 1859.2L1386.5 1858.4L1388 1858.2L1389.5 1858.8L1391 1859.8L1392.5 1860.8L1394 1861.8L1395.5 1862.5L1397 1862.9L1398.5 1863L1400 1863.2L1401.5 1863.8L1403 1865L1404.5 1866.8L1406 1869.2L1407.5 1871.9L1409 1874.7L1410.5 1877.4L1412 1880.1L1413.5 1882.7L1415 1885.1L1416.5 1887.4L1418 1889.2L1419.5 1890.4L1421 1890.9L1422.5 1891L1424 1891L1425.5 1891.3L1427 1892.6L1428.5 1895.1L1430 1898.2L1431.5 1900.9L1433 1902.2L1434.5 1901L1436.1 1898L1437.7 1894.3L1439.2 1891.1L1440.5 1889.3L1441.9 1889.7L1443 1891.7L1444.1 1893.9L1445.5 1894.8L1446.8 1894L1448.3 1892.3L1449.9 1890.2L1451.5 1888.2L1453 1887.2L1454.5 1887.2L1456 1888L1457.5 1889.4L1459 1891.1L1460.5 1892.7L1462 1894.4L1463.6 1896.4L1465.1 1898.2L1466.6 1899.7L1468 1900.3L1469.6 1900.1L1471.1 1899.2L1472.5 1898.6L1474 1898.7L1475.3 1899.9L1476.6 1901.8L1477.9 1903.8L1479.2 1905.2L1480.5 1905.4L1481.8 1903.7L1483.1 1900.7L1484.4 1897.4L1485.7 1894.8L1487 1893.6L1488.6 1894.1L1490.2 1895.9L1491.7 1898L1493 1899.9L1494.5 1903L1495.8 1906.2L1497 1906.5L1498.2 1901.5L1499.4 1893.2L1500.5 1885.5L1501.6 1878.5L1502.8 1872.5L1504 1871L1505.3 1875.6L1506.6 1884.5L1508 1895.8L1509.3 1910.3L1510.6 1927.8L1512 1945.5L1513.4 1962.8L1514.9 1979.9L1516.5 1995.6L1517.7 2006.4L1519 2016.9L1520.2 2026.5L1521.5 2034.8L1522.7 2041.1L1524 2045.6L1525.2 2048.8L1526.5 2051.6L1527.8 2054.8L1529.2 2058.3L1530.6 2061.2L1532 2062.6L1533.4 2061L1534.9 2057L1536.4 2052.5L1538 2049.7L1539.4 2049.5L1540.9 2050.6L1542.5 2052.6L1544 2054.8L1545.5 2056.7L1546.9 2057.9L1548.2 2058.5L1549.5 2058.6L1550.7 2058.4L1552 2058.3L1553.5 2059.5L1554.9 2062.1L1556.4 2064.9L1558 2067L1559.4 2067.7L1560.9 2067.2L1562.5 2065.7L1564 2063.5L1565.5 2061.3L1566.9 2059.5L1568.2 2057.9L1569.5 2056.3L1570.7 2054.8L1572 2053.1L1573.6 2050.7L1575.1 2048.1L1576.6 2045.4L1578 2042.8L1579.3 2040.2L1580.5 2037.9L1581.7 2036.6L1583 2036.8L1584.4 2039.1L1585.9 2042.6L1587.4 2045.4L1589 2045.4L1590.3 2042.7L1591.6 2038.4L1592.9 2033.5L1594.2 2028.7L1595.5 2024.8L1596.8 2021.9L1598.1 2019.4L1599.4 2017.3L1600.7 2015.4L1602 2013.6L1603.5 2011.2L1604.9 2008.9L1606.4 2006.9L1608 2005.3L1609.4 2004.5L1610.9 2004.4L1612.4 2004.4L1614 2004.4L1615.5 2003.9L1617 2003.1L1618.6 2002.3L1620.1 2001.5L1621.6 2000.4L1623 1999.1L1624.6 1996.7L1626.1 1994L1627.5 1991.1L1629 1988.2L1630.3 1985.5L1631.5 1982.3L1632.8 1979.1L1634.1 1976.2L1635.5 1974.1L1636.9 1972.9L1638.4 1972.4L1640 1972.2L1641.5 1971.8L1643 1970.7L1644.5 1968.8L1646 1966.5L1647.5 1964L1649 1961.8L1650.5 1960.1L1652 1959.4L1653.5 1959.4L1655 1959.6L1656.5 1959.3L1658 1958.2L1659.5 1956.2L1661 1953.9L1662.5 1951.7L1664 1949.9L1665.5 1948.3L1667 1946.8L1668.5 1945.3L1670 1944.1L1671.5 1943.4L1673 1943.3L1674.5 1943.8L1676 1944.7L1677.5 1945.6L1679 1946.3L1680.5 1946.2L1682 1945.3L1683.5 1943.9L1685 1942.3L1686.5 1940.8L1688 1939.5L1689.5 1938.3L1691 1936.9L1692.5 1935.3L1694 1933.7L1695.5 1932.3L1697 1931.4L1698.5 1931.1L1700 1931L1701.5 1930.9L1703 1930.6L1704.5 1929.8L1706 1928.6L1707.5 1927.1L1709 1925.2L1710.5 1923.3L1712 1921.4L1713.6 1919.8L1715.1 1918.5L1716.6 1917.5L1718 1916.7L1719.6 1915.5L1721.1 1914.1L1722.5 1912.7L1724 1911.7L1725.4 1911.4L1726.9 1911.8L1728.3 1912.6L1729.6 1913.3L1730.5 1913.6" fill="none" stroke="#e08a12" stroke-width="3.2" stroke-linejoin="round"/>
<path d="M976.6 1745V2129.7M967.9 1745H985.1M967.9 2119.2H1767.2M1371.8 2108.7V2129.7M1767.2 2108.7V2129.7" stroke="#2e2e2e" stroke-width="1.5" stroke-linecap="round" fill="none"/>
<text font-size="35" transform="translate(960.8 1755.5) scale(1 1.04)" text-anchor="end" fill="#111">2.4</text>
<text font-size="35" transform="translate(961.6 2129.2) scale(1 1.04)" text-anchor="end" fill="#111">1.5</text>
<text font-size="40" transform="translate(329.8 797.5) scale(1 1.02)" text-anchor="end" fill="#000">570ms</text>
<text font-size="40" transform="translate(329.8 846.7) scale(1 1.02)" text-anchor="end" fill="#000">Blank</text>
<text font-size="40" transform="translate(329.8 895.5) scale(1 1.02)" text-anchor="end" fill="#000">Onset</text>
<text font-size="40" transform="translate(329.8 1305) scale(1 1.02)" text-anchor="end" fill="#000">970ms</text>
<text font-size="40" transform="translate(329.8 1354.2) scale(1 1.02)" text-anchor="end" fill="#000">Blank</text>
<text font-size="40" transform="translate(329.8 1403) scale(1 1.02)" text-anchor="end" fill="#000">Onset</text>
<text font-size="40" transform="translate(329.8 1812.5) scale(1 1.02)" text-anchor="end" fill="#000">1570ms</text>
<text font-size="40" transform="translate(329.8 1861.7) scale(1 1.02)" text-anchor="end" fill="#000">Blank</text>
<text font-size="40" transform="translate(329.8 1910.5) scale(1 1.02)" text-anchor="end" fill="#000">Onset</text>
<text x="1529" y="1047.5" font-size="28.6" fill="#111"><tspan font-style="italic">p</tspan> &lt; 0.05</text>
<text font-size="28.6" transform="translate(1529 1081) scale(1 1.02)" fill="#111">cluster-corrected</text>
<text font-size="34.5" transform="translate(99.4 2174.6) scale(1 1.04)" text-anchor="middle" fill="#111">0</text>
<text font-size="34.5" transform="translate(493.8 2174.6) scale(1 1.04)" text-anchor="middle" fill="#111">2.4</text>
<text font-size="34.5" transform="translate(872.5 2174.6) scale(1 1.04)" text-anchor="middle" fill="#111">4.8</text>
<use href="#cubeB" x="118.8" y="2152.6"/>
<use href="#cubeB" x="605.6" y="2152.6"/>
<rect x="346.8" y="2138" width="55" height="54.7" fill="#fff" stroke="#111" stroke-width="1.2"/>
<path d="M371.1 2165.5h6M374.1 2162.5v6" stroke="#000" stroke-width="1.1"/>
<text font-size="34.5" transform="translate(976.6 2174.6) scale(1 1.04)" text-anchor="middle" fill="#111">0</text>
<text font-size="34.5" transform="translate(1371.8 2174.6) scale(1 1.04)" text-anchor="middle" fill="#111">2.4</text>
<text font-size="34.5" transform="translate(1744.6 2174.6) scale(1 1.04)" text-anchor="middle" fill="#111">4.8</text>
<use href="#cubeB" x="996" y="2152.6"/>
<use href="#cubeB" x="1488.6" y="2152.6"/>
<rect x="1223.3" y="2138" width="55" height="54.7" fill="#fff" stroke="#111" stroke-width="1.2"/>
<path d="M1247.6 2165.5h6M1250.6 2162.5v6" stroke="#000" stroke-width="1.1"/>
<g id="topos">
<g transform="translate(140 693.8)">
<path d="M-7.3 -37.2L-1.6 -43.6Q0 -45.4 1.6 -43.6L7.3 -37.2" fill="#fff" stroke="#222" stroke-width="1.1"/>
<g clip-path="url(#hc)"><circle r="38" fill="rgb(255,237,237)"/>
<circle cx="-32" cy="4.1" r="22.7" fill="url(#gW)" opacity="0.89"/>
<circle cx="-32" cy="4.1" r="20.4" fill="url(#gB)" opacity="0.13"/>
<circle cx="12.9" cy="-2.9" r="17.1" fill="url(#gW)" opacity="0.68"/>
<circle cx="12.9" cy="-2.9" r="15.3" fill="url(#gB)" opacity="0.06"/>
<circle cx="-8.1" cy="10" r="15.3" fill="url(#gR)" opacity="0.14"/>
<circle cx="20.8" cy="-27.9" r="20.4" fill="url(#gR)" opacity="0.05"/>
<circle cx="-9.1" cy="30" r="15.2" fill="url(#gW)" opacity="0.62"/>
<circle cx="-9.1" cy="30" r="13.6" fill="url(#gB)" opacity="0.04"/>
</g>
<circle r="38" fill="none" stroke="#1a1a1a" stroke-width="1.3"/>
</g>
<g transform="translate(222.4 693.8)">
<path d="M-7.3 -37.2L-1.6 -43.6Q0 -45.4 1.6 -43.6L7.3 -37.2" fill="#fff" stroke="#222" stroke-width="1.1"/>
<g clip-path="url(#hc)"><circle r="38" fill="rgb(255,212,212)"/>
<circle cx="0.3" cy="0.1" r="25.4" fill="url(#gW)" opacity="0.68"/>
<circle cx="26.2" cy="24" r="25.4" fill="url(#gR)" opacity="0.42"/>
<circle cx="-3.7" cy="28" r="30.5" fill="url(#gR)" opacity="0.25"/>
<circle cx="-23.6" cy="-21.9" r="23.7" fill="url(#gR)" opacity="0.10"/>
<circle cx="10.3" cy="-23.9" r="17" fill="url(#gR)" opacity="0.12"/>
</g>
<circle r="38" fill="none" stroke="#1a1a1a" stroke-width="1.3"/>
</g>
<g transform="translate(304.8 693.8)">
<path d="M-7.3 -37.2L-1.6 -43.6Q0 -45.4 1.6 -43.6L7.3 -37.2" fill="#fff" stroke="#222" stroke-width="1.1"/>
<g clip-path="url(#hc)"><circle r="38" fill="rgb(255,204,204)"/>
<circle cx="-0.3" cy="-7.9" r="20.4" fill="url(#gW)" opacity="0.36"/>
<circle cx="29.6" cy="12" r="18.7" fill="url(#gW)" opacity="0.54"/>
<circle cx="-10.3" cy="14" r="23.7" fill="url(#gR)" opacity="0.30"/>
<circle cx="-0.3" cy="30" r="27.1" fill="url(#gR)" opacity="0.20"/>
<circle cx="15.7" cy="-25.9" r="20.4" fill="url(#gR)" opacity="0.08"/>
</g>
<circle r="38" fill="none" stroke="#1a1a1a" stroke-width="1.3"/>
</g>
<g transform="translate(387.2 693.8)">
<path d="M-7.3 -37.2L-1.6 -43.6Q0 -45.4 1.6 -43.6L7.3 -37.2" fill="#fff" stroke="#222" stroke-width="1.1"/>
<g clip-path="url(#hc)"><circle r="38" fill="rgb(255,153,153)"/>
<circle cx="13.1" cy="30" r="32.2" fill="url(#gR)" opacity="0.75"/>
<circle cx="3.1" cy="6.1" r="23.7" fill="url(#gW)" opacity="0.36"/>
<circle cx="-26.8" cy="12" r="17" fill="url(#gW)" opacity="0.18"/>
</g>
<circle r="38" fill="none" stroke="#6a6a6a" stroke-width="0.9"/>
<path d="M-10.5 -29.5h0M8.5 -29.5h0M-19.8 -24.3h0M-10.5 -22.9h0M8.5 -22.9h0M17.7 -24.3h0M-19.4 -16.9h0M-13.3 -16.3h0M-7.3 -15.9h0M-0.9 -15.9h0M5.5 -15.9h0M11.7 -16.3h0M17.7 -16.9h0M23.7 -18.3h0M35 -12.3h0M-22.8 -8.9h0M-15.5 -8.3h0M-8.3 -7.9h0M6.5 -7.9h0M13.7 -8.3h0M21.1 -8.9h0M28 -9.9h0M-23.4 -0.5h0M-15.9 -0.5h0M-8.7 -0.5h0M14.5 -0.5h0M22.1 -0.5h0M29 -0.5h0M-29.8 8.7h0M-22.8 7.5h0M-15.5 6.7h0M-8.3 6.5h0M21.1 7.1h0M27.6 8.5h0M-25.4 16.6h0M-19.4 15.6h0M-13.3 14.8h0M-6.9 14.6h0M17.7 15.4h0M23.7 16.6h0M-18.8 23.6h0M-10.5 22h0M-0.9 22h0M8.5 22h0M17.1 23.6h0M-24.4 29.4h0M-10.5 28h0M-0.9 29.4h0M8.5 28h0M22.7 29.4h0" stroke="#000" stroke-width="6.4" stroke-linecap="round" fill="none"/>
</g>
<g transform="translate(469.6 693.8)">
<path d="M-7.3 -37.2L-1.6 -43.6Q0 -45.4 1.6 -43.6L7.3 -37.2" fill="#fff" stroke="#222" stroke-width="1.1"/>
<g clip-path="url(#hc)"><circle r="38" fill="rgb(255,235,235)"/>
<circle cx="-30.6" cy="-3.9" r="19" fill="url(#gW)" opacity="0.80"/>
<circle cx="-30.6" cy="-3.9" r="17" fill="url(#gB)" opacity="0.10"/>
<circle cx="13.3" cy="4.1" r="22.7" fill="url(#gW)" opacity="0.80"/>
<circle cx="13.3" cy="4.1" r="20.4" fill="url(#gB)" opacity="0.10"/>
<circle cx="-14.7" cy="7.1" r="25.4" fill="url(#gR)" opacity="0.30"/>
<circle cx="11.3" cy="-23.9" r="23.7" fill="url(#gR)" opacity="0.08"/>
</g>
<circle r="38" fill="none" stroke="#6a6a6a" stroke-width="0.9"/>
<path d="M-15.3 6.5h0M-8.3 6.5h0M-19.7 15.4h0M-13.3 15h0M-6.9 14.8h0" stroke="#000" stroke-width="6.4" stroke-linecap="round" fill="none"/>
</g>
<g transform="translate(552 693.8)">
<path d="M-7.3 -37.2L-1.6 -43.6Q0 -45.4 1.6 -43.6L7.3 -37.2" fill="#fff" stroke="#222" stroke-width="1.1"/>
<g clip-path="url(#hc)"><circle r="38" fill="rgb(255,184,184)"/>
<circle cx="16.7" cy="0.1" r="25.4" fill="url(#gW)" opacity="0.41"/>
<circle cx="12.7" cy="23" r="23.7" fill="url(#gR)" opacity="0.30"/>
<circle cx="-23.2" cy="-23.9" r="18.7" fill="url(#gR)" opacity="0.18"/>
<circle cx="-15.3" cy="-3.9" r="17" fill="url(#gW)" opacity="0.18"/>
</g>
<circle r="38" fill="none" stroke="#6a6a6a" stroke-width="0.9"/>
<path d="M8.7 -22.9h0M17.7 -24.3h0M23.6 -18.3h0M5.1 -15.9h0M11.7 -15.9h0M18.1 -16.7h0M35 -12.5h0M28 -9.9h0M29.6 -0.7h0M-23.2 -0.7h0M6.7 -0.7h0M-29.6 8.7h0M-22.2 7.3h0M-15.3 6.9h0M-8.1 6.5h0M-0.7 6.5h0M6.7 6.5h0M-25.2 16.8h0M-13.3 14.8h0M-6.7 14.8h0M-18.3 23.6h0M-0.7 22h0M-24.2 29.4h0M-9.9 28h0M-0.7 29.4h0" stroke="#000" stroke-width="6.4" stroke-linecap="round" fill="none"/>
</g>
<g transform="translate(634.4 693.8)">
<path d="M-7.3 -37.2L-1.6 -43.6Q0 -45.4 1.6 -43.6L7.3 -37.2" fill="#fff" stroke="#222" stroke-width="1.1"/>
<g clip-path="url(#hc)"><circle r="38" fill="rgb(255,184,184)"/>
<circle cx="-9.9" cy="4.1" r="20.4" fill="url(#gW)" opacity="0.27"/>
<circle cx="30" cy="-3.9" r="15.3" fill="url(#gW)" opacity="0.32"/>
<circle cx="27" cy="20" r="20.4" fill="url(#gR)" opacity="0.50"/>
<circle cx="0.1" cy="-33.8" r="20.4" fill="url(#gR)" opacity="0.15"/>
<circle cx="-21.8" cy="-3.9" r="13.6" fill="url(#gW)" opacity="0.18"/>
</g>
<circle r="38" fill="none" stroke="#6a6a6a" stroke-width="0.9"/>
<path d="M-19.2 -24.3h0M-9.9 -29.5h0M-9.9 -22.9h0M8.7 -29.5h0M8.7 -22.9h0M18.1 -24.3h0M-12.9 -16.3h0M-6.9 -15.9h0M-0.5 -15.9h0M5.7 -15.9h0M11.7 -15.9h0M18.1 -16.9h0M24.1 -18.3h0M-15.3 -8.3h0M-7.9 -8.3h0M6.7 -8.3h0M14.1 -8.3h0M6.7 -0.5h0M-18.4 23h0M-0.9 21.6h0M17.1 23h0M-24.2 29h0M-9.9 27.6h0M-0.9 29h0M8.7 27.6h0M22.7 29h0" stroke="#000" stroke-width="6.4" stroke-linecap="round" fill="none"/>
</g>
<g transform="translate(139.9 1191.5)">
<path d="M-7.3 -37.2L-1.6 -43.6Q0 -45.4 1.6 -43.6L7.3 -37.2" fill="#fff" stroke="#222" stroke-width="1.1"/>
<g clip-path="url(#hc)"><circle r="38" fill="rgb(255,235,235)"/>
<circle cx="1" cy="-7.6" r="20.4" fill="url(#gW)" opacity="0.72"/>
<circle cx="1" cy="-7.6" r="20.9" fill="url(#gW)" opacity="1.00"/>
<circle cx="1" cy="-7.6" r="18.7" fill="url(#gB)" opacity="0.17"/>
<circle cx="-15" cy="25.3" r="28.8" fill="url(#gW)" opacity="0.72"/>
<circle cx="-15" cy="25.3" r="30.3" fill="url(#gW)" opacity="1.00"/>
<circle cx="-15" cy="25.3" r="27.1" fill="url(#gB)" opacity="0.22"/>
<circle cx="-13" cy="6.4" r="17" fill="url(#gR)" opacity="0.22"/>
<circle cx="-24.9" cy="-21.6" r="20.4" fill="url(#gR)" opacity="0.10"/>
<circle cx="21.9" cy="20.3" r="23.7" fill="url(#gR)" opacity="0.14"/>
</g>
<circle r="38" fill="none" stroke="#1a1a1a" stroke-width="1.3"/>
</g>
<g transform="translate(222.1 1191.5)">
<path d="M-7.3 -37.2L-1.6 -43.6Q0 -45.4 1.6 -43.6L7.3 -37.2" fill="#fff" stroke="#222" stroke-width="1.1"/>
<g clip-path="url(#hc)"><circle r="38" fill="rgb(255,184,184)"/>
<circle cx="-27.3" cy="2.4" r="17" fill="url(#gW)" opacity="0.36"/>
<circle cx="21.6" cy="2.4" r="17" fill="url(#gW)" opacity="0.27"/>
<circle cx="21.6" cy="29.3" r="25.4" fill="url(#gR)" opacity="0.75"/>
<circle cx="-23.3" cy="-25.6" r="20.4" fill="url(#gR)" opacity="0.12"/>
<circle cx="-15.4" cy="28.3" r="20.4" fill="url(#gR)" opacity="0.20"/>
</g>
<circle r="38" fill="none" stroke="#1a1a1a" stroke-width="1.3"/>
</g>
<g transform="translate(304.3 1191.5)">
<path d="M-7.3 -37.2L-1.6 -43.6Q0 -45.4 1.6 -43.6L7.3 -37.2" fill="#fff" stroke="#222" stroke-width="1.1"/>
<g clip-path="url(#hc)"><circle r="38" fill="rgb(255,199,199)"/>
<circle cx="-33.7" cy="0.4" r="15.3" fill="url(#gW)" opacity="0.85"/>
<circle cx="-35.3" cy="0.8" r="11.4" fill="url(#gW)" opacity="0.86"/>
<circle cx="-35.3" cy="0.8" r="10.2" fill="url(#gB)" opacity="0.12"/>
<circle cx="-9.8" cy="12.3" r="17" fill="url(#gR)" opacity="0.30"/>
<circle cx="13.2" cy="-19.6" r="17" fill="url(#gR)" opacity="0.22"/>
<circle cx="20.2" cy="14.3" r="17" fill="url(#gW)" opacity="0.18"/>
</g>
<circle r="38" fill="none" stroke="#1a1a1a" stroke-width="1.3"/>
</g>
<g transform="translate(386.5 1191.5)">
<path d="M-7.3 -37.2L-1.6 -43.6Q0 -45.4 1.6 -43.6L7.3 -37.2" fill="#fff" stroke="#222" stroke-width="1.1"/>
<g clip-path="url(#hc)"><circle r="38" fill="rgb(255,173,173)"/>
<circle cx="-32.1" cy="-0.6" r="18.7" fill="url(#gW)" opacity="0.85"/>
<circle cx="-33.7" cy="-0.2" r="15.9" fill="url(#gW)" opacity="1.00"/>
<circle cx="-33.7" cy="-0.2" r="14.2" fill="url(#gB)" opacity="0.17"/>
<circle cx="-6.2" cy="33.3" r="35.6" fill="url(#gR)" opacity="0.95"/>
<circle cx="18.8" cy="4.4" r="17" fill="url(#gW)" opacity="0.59"/>
<circle cx="11.8" cy="-25.6" r="23.7" fill="url(#gR)" opacity="0.20"/>
<circle cx="-12.2" cy="-11.6" r="13.6" fill="url(#gW)" opacity="0.27"/>
</g>
<circle r="38" fill="none" stroke="#1a1a1a" stroke-width="1.3"/>
</g>
<g transform="translate(468.7 1191.5)">
<path d="M-7.3 -37.2L-1.6 -43.6Q0 -45.4 1.6 -43.6L7.3 -37.2" fill="#fff" stroke="#222" stroke-width="1.1"/>
<g clip-path="url(#hc)"><circle r="38" fill="rgb(255,217,217)"/>
<circle cx="-7.8" cy="-3.6" r="20.4" fill="url(#gR)" opacity="0.25"/>
<circle cx="-13.8" cy="16.3" r="15.3" fill="url(#gW)" opacity="0.77"/>
<circle cx="-10.8" cy="21.9" r="9.5" fill="url(#gW)" opacity="1.00"/>
<circle cx="-10.8" cy="21.9" r="8.5" fill="url(#gB)" opacity="0.17"/>
<circle cx="31.1" cy="16.3" r="20.4" fill="url(#gR)" opacity="0.42"/>
<circle cx="20.1" cy="-5.6" r="17" fill="url(#gW)" opacity="0.45"/>
<circle cx="-21.8" cy="-15.6" r="17" fill="url(#gW)" opacity="0.27"/>
<circle cx="2.2" cy="32.3" r="20.4" fill="url(#gR)" opacity="0.15"/>
</g>
<circle r="38" fill="none" stroke="#1a1a1a" stroke-width="1.3"/>
</g>
<g transform="translate(550.9 1191.5)">
<path d="M-7.3 -37.2L-1.6 -43.6Q0 -45.4 1.6 -43.6L7.3 -37.2" fill="#fff" stroke="#222" stroke-width="1.1"/>
<g clip-path="url(#hc)"><circle r="38" fill="rgb(255,240,240)"/>
<circle cx="-14.2" cy="2.4" r="20.4" fill="url(#gR)" opacity="0.20"/>
<circle cx="-9.8" cy="23.7" r="11.4" fill="url(#gW)" opacity="1.00"/>
<circle cx="-9.8" cy="23.7" r="10.2" fill="url(#gB)" opacity="0.17"/>
<circle cx="26.7" cy="25.3" r="20.4" fill="url(#gR)" opacity="0.17"/>
<circle cx="-14.2" cy="-19.6" r="13.6" fill="url(#gW)" opacity="0.45"/>
<circle cx="-8.2" cy="-32.5" r="9.5" fill="url(#gW)" opacity="0.65"/>
<circle cx="-8.2" cy="-32.5" r="8.5" fill="url(#gB)" opacity="0.05"/>
<circle cx="1.8" cy="0.4" r="7.6" fill="url(#gW)" opacity="0.65"/>
<circle cx="1.8" cy="0.4" r="6.8" fill="url(#gB)" opacity="0.05"/>
</g>
<circle r="38" fill="none" stroke="#1a1a1a" stroke-width="1.3"/>
</g>
<g transform="translate(633.1 1191.5)">
<path d="M-7.3 -37.2L-1.6 -43.6Q0 -45.4 1.6 -43.6L7.3 -37.2" fill="#fff" stroke="#222" stroke-width="1.1"/>
<g clip-path="url(#hc)"><circle r="38" fill="rgb(255,158,158)"/>
<circle cx="18.4" cy="26.3" r="23.7" fill="url(#gR)" opacity="0.50"/>
<circle cx="-8.6" cy="22.3" r="13.6" fill="url(#gW)" opacity="0.36"/>
<circle cx="27.3" cy="-17.6" r="17" fill="url(#gW)" opacity="0.23"/>
<circle cx="-16.6" cy="-25.6" r="17" fill="url(#gR)" opacity="0.15"/>
</g>
<circle r="38" fill="none" stroke="#6a6a6a" stroke-width="0.9"/>
<path d="M5.4 -15.2h0M12 -15.2h0M23.8 -18h0M35.3 -11.6h0M-15.2 -8h0M-8 -8h0M6.8 -7.6h0M13.8 -8h0M21 -8.6h0M28.3 -9.6h0M-23.1 -0.2h0M-15.6 -0.2h0M-8 -0.2h0M14.4 -0.2h0M22 -0.2h0M29.3 -0.2h0M-22.5 7.8h0M-15.2 7.4h0M-8 7h0M21.4 7.8h0M28.3 9h0M-25.1 17.7h0M-19.1 15.9h0M23.8 17.7h0" stroke="#000" stroke-width="6.4" stroke-linecap="round" fill="none"/>
</g>
<g transform="translate(715.3 1191.5)">
<path d="M-7.3 -37.2L-1.6 -43.6Q0 -45.4 1.6 -43.6L7.3 -37.2" fill="#fff" stroke="#222" stroke-width="1.1"/>
<g clip-path="url(#hc)"><circle r="38" fill="rgb(255,191,191)"/>
<circle cx="-28.9" cy="-7.6" r="17" fill="url(#gW)" opacity="0.85"/>
<circle cx="-29.9" cy="-7.6" r="13.3" fill="url(#gW)" opacity="0.86"/>
<circle cx="-29.9" cy="-7.6" r="11.9" fill="url(#gB)" opacity="0.12"/>
<circle cx="-1" cy="25.3" r="18.7" fill="url(#gW)" opacity="0.54"/>
<circle cx="-11" cy="8.4" r="17" fill="url(#gR)" opacity="0.20"/>
<circle cx="21" cy="-23.6" r="17" fill="url(#gR)" opacity="0.10"/>
<circle cx="28.9" cy="14.3" r="13.6" fill="url(#gW)" opacity="0.18"/>
</g>
<circle r="38" fill="none" stroke="#6a6a6a" stroke-width="0.9"/>
<path d="M14.4 -0.2h0M22 -0.2h0M21 8h0M28.4 9h0" stroke="#000" stroke-width="6.4" stroke-linecap="round" fill="none"/>
</g>
<g transform="translate(139.9 1699.3)">
<path d="M-7.3 -37.2L-1.6 -43.6Q0 -45.4 1.6 -43.6L7.3 -37.2" fill="#fff" stroke="#222" stroke-width="1.1"/>
<g clip-path="url(#hc)"><circle r="38" fill="rgb(255,230,230)"/>
<circle cx="-5" cy="-24.4" r="37.3" fill="url(#gW)" opacity="0.85"/>
<circle cx="-5" cy="-30.3" r="26.5" fill="url(#gW)" opacity="1.00"/>
<circle cx="-5" cy="-30.3" r="23.7" fill="url(#gB)" opacity="0.17"/>
<circle cx="-21" cy="-6.4" r="23.7" fill="url(#gW)" opacity="0.72"/>
<circle cx="-21" cy="-6.4" r="24.6" fill="url(#gW)" opacity="0.92"/>
<circle cx="-21" cy="-6.4" r="22" fill="url(#gB)" opacity="0.14"/>
<circle cx="5" cy="22.5" r="18.7" fill="url(#gW)" opacity="0.85"/>
<circle cx="5" cy="22.5" r="17.1" fill="url(#gW)" opacity="1.00"/>
<circle cx="5" cy="22.5" r="15.3" fill="url(#gB)" opacity="0.24"/>
<circle cx="-3" cy="3.6" r="17" fill="url(#gR)" opacity="0.15"/>
<circle cx="-28.9" cy="17.5" r="17" fill="url(#gR)" opacity="0.20"/>
<circle cx="28.9" cy="9.6" r="20.4" fill="url(#gR)" opacity="0.15"/>
</g>
<circle r="38" fill="none" stroke="#1a1a1a" stroke-width="1.3"/>
</g>
<g transform="translate(222.9 1699.3)">
<path d="M-7.3 -37.2L-1.6 -43.6Q0 -45.4 1.6 -43.6L7.3 -37.2" fill="#fff" stroke="#222" stroke-width="1.1"/>
<g clip-path="url(#hc)"><circle r="38" fill="rgb(255,191,191)"/>
<circle cx="24.7" cy="-8.4" r="18.7" fill="url(#gW)" opacity="0.68"/>
<circle cx="-20.2" cy="5.6" r="17" fill="url(#gW)" opacity="0.36"/>
<circle cx="-8.2" cy="19.5" r="13.6" fill="url(#gW)" opacity="0.27"/>
<circle cx="9.8" cy="13.6" r="13.6" fill="url(#gR)" opacity="0.25"/>
<circle cx="20.8" cy="28.5" r="17" fill="url(#gR)" opacity="0.30"/>
<circle cx="-16.2" cy="-16.4" r="17" fill="url(#gR)" opacity="0.15"/>
<circle cx="-4.2" cy="37.5" r="17" fill="url(#gR)" opacity="0.15"/>
</g>
<circle r="38" fill="none" stroke="#1a1a1a" stroke-width="1.3"/>
</g>
<g transform="translate(305.9 1699.3)">
<path d="M-7.3 -37.2L-1.6 -43.6Q0 -45.4 1.6 -43.6L7.3 -37.2" fill="#fff" stroke="#222" stroke-width="1.1"/>
<g clip-path="url(#hc)"><circle r="38" fill="rgb(255,153,153)"/>
<circle cx="-27.3" cy="6.6" r="18.7" fill="url(#gW)" opacity="0.77"/>
<circle cx="0.6" cy="-6.4" r="17" fill="url(#gW)" opacity="0.45"/>
<circle cx="24.5" cy="-6.4" r="13.6" fill="url(#gW)" opacity="0.27"/>
<circle cx="-19.4" cy="-20.4" r="17" fill="url(#gR)" opacity="0.40"/>
<circle cx="15.6" cy="26.5" r="32.2" fill="url(#gR)" opacity="1.00"/>
</g>
<circle r="38" fill="none" stroke="#1a1a1a" stroke-width="1.3"/>
</g>
<g transform="translate(388.9 1699.3)">
<path d="M-7.3 -37.2L-1.6 -43.6Q0 -45.4 1.6 -43.6L7.3 -37.2" fill="#fff" stroke="#222" stroke-width="1.1"/>
<g clip-path="url(#hc)"><circle r="38" fill="rgb(255,140,140)"/>
<circle cx="-32.5" cy="7.6" r="18.7" fill="url(#gW)" opacity="0.85"/>
<circle cx="-34.5" cy="8" r="9.5" fill="url(#gW)" opacity="0.86"/>
<circle cx="-34.5" cy="8" r="8.5" fill="url(#gB)" opacity="0.12"/>
<circle cx="18.4" cy="1.6" r="17" fill="url(#gW)" opacity="0.63"/>
<circle cx="-14.6" cy="3.6" r="17" fill="url(#gW)" opacity="0.36"/>
<circle cx="18.4" cy="30.5" r="28.8" fill="url(#gR)" opacity="0.95"/>
</g>
<circle r="38" fill="none" stroke="#6a6a6a" stroke-width="0.9"/>
<path d="M-19.5 -24.4h0M-10.6 -22.8h0M-25.1 -18h0M-19.5 -16.4h0M-13.2 -15.8h0M-22.5 -9h0M-15.2 -8.4h0M8.4 21.9h0M16.4 23.9h0M-1.2 29.5h0M8 28.5h0M22.4 29.5h0" stroke="#000" stroke-width="6.4" stroke-linecap="round" fill="none"/>
</g>
<g transform="translate(471.9 1699.3)">
<path d="M-7.3 -37.2L-1.6 -43.6Q0 -45.4 1.6 -43.6L7.3 -37.2" fill="#fff" stroke="#222" stroke-width="1.1"/>
<g clip-path="url(#hc)"><circle r="38" fill="rgb(255,255,255)"/>
<circle cx="-30.9" cy="3.6" r="28.4" fill="url(#gW)" opacity="1.00"/>
<circle cx="-30.9" cy="3.6" r="25.4" fill="url(#gB)" opacity="0.32"/>
<circle cx="7" cy="-0.4" r="22.7" fill="url(#gW)" opacity="1.00"/>
<circle cx="7" cy="-0.4" r="20.4" fill="url(#gB)" opacity="0.20"/>
<circle cx="20.9" cy="15.6" r="15.2" fill="url(#gW)" opacity="1.00"/>
<circle cx="20.9" cy="15.6" r="13.6" fill="url(#gB)" opacity="0.20"/>
<circle cx="5" cy="22.5" r="15.2" fill="url(#gW)" opacity="0.95"/>
<circle cx="5" cy="22.5" r="13.6" fill="url(#gB)" opacity="0.15"/>
<circle cx="-10" cy="13.6" r="22.7" fill="url(#gW)" opacity="1.00"/>
<circle cx="-10" cy="13.6" r="20.4" fill="url(#gR)" opacity="0.42"/>
<circle cx="27.9" cy="-10.4" r="30.3" fill="url(#gW)" opacity="1.00"/>
<circle cx="27.9" cy="-10.4" r="27.1" fill="url(#gR)" opacity="0.22"/>
<circle cx="18.9" cy="30.5" r="15.2" fill="url(#gW)" opacity="1.00"/>
<circle cx="18.9" cy="30.5" r="13.6" fill="url(#gR)" opacity="0.17"/>
<circle cx="-21" cy="-22.4" r="22.7" fill="url(#gW)" opacity="0.74"/>
<circle cx="-21" cy="-22.4" r="20.4" fill="url(#gB)" opacity="0.08"/>
</g>
<circle r="38" fill="none" stroke="#1a1a1a" stroke-width="1.3"/>
</g>
<g transform="translate(554.9 1699.3)">
<path d="M-7.3 -37.2L-1.6 -43.6Q0 -45.4 1.6 -43.6L7.3 -37.2" fill="#fff" stroke="#222" stroke-width="1.1"/>
<g clip-path="url(#hc)"><circle r="38" fill="rgb(217,217,255)"/>
<circle cx="-0.2" cy="-26.3" r="27.1" fill="url(#gB)" opacity="0.30"/>
<circle cx="11.8" cy="21.5" r="20.4" fill="url(#gB)" opacity="0.50"/>
<circle cx="-32.1" cy="5.6" r="20.4" fill="url(#gB)" opacity="0.30"/>
<circle cx="-13.2" cy="6.6" r="12.9" fill="url(#gW)" opacity="0.85"/>
<circle cx="-13.2" cy="6.6" r="8.3" fill="url(#gW)" opacity="0.86"/>
<circle cx="-13.2" cy="6.6" r="7.5" fill="url(#gR)" opacity="0.12"/>
<circle cx="30.7" cy="-6.4" r="18.7" fill="url(#gW)" opacity="0.85"/>
<circle cx="30.7" cy="-8.4" r="9.5" fill="url(#gW)" opacity="0.74"/>
<circle cx="30.7" cy="-8.4" r="8.5" fill="url(#gR)" opacity="0.08"/>
<circle cx="-18.2" cy="27.5" r="17" fill="url(#gW)" opacity="0.36"/>
</g>
<circle r="38" fill="none" stroke="#6a6a6a" stroke-width="0.9"/>
<path d="M-10.2 -28.9h0M-10.2 -22.8h0M-13.2 -15.4h0M-6.8 -15.4h0M-0.6 -15.4h0M-8.2 -8h0M6.8 -0.4h0M6.8 7.2h0M13.8 7.2h0M21.1 8h0M11.4 14.6h0" stroke="#000" stroke-width="6.4" stroke-linecap="round" fill="none"/>
</g>
<g transform="translate(637.9 1699.3)">
<path d="M-7.3 -37.2L-1.6 -43.6Q0 -45.4 1.6 -43.6L7.3 -37.2" fill="#fff" stroke="#222" stroke-width="1.1"/>
<g clip-path="url(#hc)"><circle r="38" fill="rgb(247,247,255)"/>
<circle cx="0.6" cy="-20.4" r="28.8" fill="url(#gB)" opacity="0.32"/>
<circle cx="-9.4" cy="23.5" r="17" fill="url(#gB)" opacity="0.30"/>
<circle cx="16.6" cy="15.6" r="13.6" fill="url(#gB)" opacity="0.12"/>
<circle cx="-33.3" cy="3.6" r="18.7" fill="url(#gW)" opacity="0.81"/>
<circle cx="-33.3" cy="3.6" r="19" fill="url(#gW)" opacity="1.00"/>
<circle cx="-33.3" cy="3.6" r="17" fill="url(#gR)" opacity="0.22"/>
<circle cx="8.6" cy="5.6" r="13.6" fill="url(#gW)" opacity="0.72"/>
<circle cx="8.6" cy="5.6" r="13.3" fill="url(#gW)" opacity="0.86"/>
<circle cx="8.6" cy="5.6" r="11.9" fill="url(#gR)" opacity="0.12"/>
<circle cx="23.5" cy="30.5" r="13.6" fill="url(#gW)" opacity="0.72"/>
<circle cx="23.5" cy="30.5" r="15.2" fill="url(#gW)" opacity="0.86"/>
<circle cx="23.5" cy="30.5" r="13.6" fill="url(#gR)" opacity="0.12"/>
<circle cx="32.5" cy="-6.4" r="13.6" fill="url(#gW)" opacity="0.45"/>
</g>
<circle r="38" fill="none" stroke="#1a1a1a" stroke-width="1.3"/>
</g>
<g transform="translate(720.9 1699.3)">
<path d="M-7.3 -37.2L-1.6 -43.6Q0 -45.4 1.6 -43.6L7.3 -37.2" fill="#fff" stroke="#222" stroke-width="1.1"/>
<g clip-path="url(#hc)"><circle r="38" fill="rgb(255,199,199)"/>
<circle cx="7.4" cy="-6.4" r="22" fill="url(#gW)" opacity="0.77"/>
<circle cx="-32.5" cy="1.6" r="16.3" fill="url(#gW)" opacity="0.85"/>
<circle cx="-34.1" cy="2.6" r="11.4" fill="url(#gW)" opacity="0.86"/>
<circle cx="-34.1" cy="2.6" r="10.2" fill="url(#gB)" opacity="0.12"/>
<circle cx="32.3" cy="9.6" r="20.4" fill="url(#gR)" opacity="0.42"/>
<circle cx="-6.6" cy="28.5" r="23.7" fill="url(#gR)" opacity="0.30"/>
<circle cx="-16.6" cy="-20.4" r="17" fill="url(#gR)" opacity="0.10"/>
</g>
<circle r="38" fill="none" stroke="#6a6a6a" stroke-width="0.9"/>
<path d="M-7 14.6h0M-10.2 22.1h0M-1 22.1h0M-10.2 28.5h0M-1 29.5h0M8.4 28.5h0M22.8 29.5h0" stroke="#000" stroke-width="6.4" stroke-linecap="round" fill="none"/>
</g>
<g transform="translate(803.9 1699.3)">
<path d="M-7.3 -37.2L-1.6 -43.6Q0 -45.4 1.6 -43.6L7.3 -37.2" fill="#fff" stroke="#222" stroke-width="1.1"/>
<g clip-path="url(#hc)"><circle r="38" fill="rgb(255,247,247)"/>
<circle cx="-33.3" cy="3.6" r="28.4" fill="url(#gW)" opacity="1.00"/>
<circle cx="-33.3" cy="3.6" r="25.4" fill="url(#gB)" opacity="0.32"/>
<circle cx="-29.3" cy="-22.4" r="19" fill="url(#gW)" opacity="0.95"/>
<circle cx="-29.3" cy="-22.4" r="17" fill="url(#gB)" opacity="0.15"/>
<circle cx="7.6" cy="-10.4" r="20.9" fill="url(#gW)" opacity="0.86"/>
<circle cx="7.6" cy="-10.4" r="18.7" fill="url(#gB)" opacity="0.12"/>
<circle cx="9.6" cy="22.5" r="14.4" fill="url(#gW)" opacity="1.00"/>
<circle cx="9.6" cy="22.5" r="12.9" fill="url(#gB)" opacity="0.22"/>
<circle cx="-5.4" cy="6.6" r="20.4" fill="url(#gW)" opacity="0.63"/>
<circle cx="-5.4" cy="6.6" r="20.4" fill="url(#gR)" opacity="0.27"/>
<circle cx="10.6" cy="-32.3" r="13.6" fill="url(#gR)" opacity="0.10"/>
<circle cx="-17.4" cy="25.5" r="13.6" fill="url(#gR)" opacity="0.10"/>
<circle cx="30.5" cy="13.6" r="13.6" fill="url(#gR)" opacity="0.05"/>
</g>
<circle r="38" fill="none" stroke="#1a1a1a" stroke-width="1.3"/>
</g>
<g transform="translate(1012.5 693.8)">
<path d="M-7.3 -37.2L-1.6 -43.6Q0 -45.4 1.6 -43.6L7.3 -37.2" fill="#fff" stroke="#222" stroke-width="1.1"/>
<g clip-path="url(#hc)"><circle r="38" fill="rgb(255,255,255)"/>
<circle cx="-12.6" cy="-17.9" r="22.7" fill="url(#gW)" opacity="1.00"/>
<circle cx="-12.6" cy="-17.9" r="20.4" fill="url(#gB)" opacity="0.22"/>
<circle cx="-0.6" cy="25" r="32.2" fill="url(#gW)" opacity="1.00"/>
<circle cx="-0.6" cy="25" r="28.8" fill="url(#gB)" opacity="0.32"/>
<circle cx="25.3" cy="-7.9" r="19" fill="url(#gW)" opacity="0.68"/>
<circle cx="25.3" cy="-7.9" r="17" fill="url(#gB)" opacity="0.06"/>
<circle cx="-30.5" cy="6.1" r="15.2" fill="url(#gW)" opacity="0.68"/>
<circle cx="-30.5" cy="6.1" r="13.6" fill="url(#gB)" opacity="0.06"/>
<circle cx="-16.6" cy="2.1" r="20.9" fill="url(#gW)" opacity="0.95"/>
<circle cx="-16.6" cy="2.1" r="18.7" fill="url(#gR)" opacity="0.15"/>
<circle cx="3.4" cy="-3.9" r="19" fill="url(#gW)" opacity="0.89"/>
<circle cx="3.4" cy="-3.9" r="17" fill="url(#gR)" opacity="0.13"/>
<circle cx="27.3" cy="25" r="19" fill="url(#gW)" opacity="1.00"/>
<circle cx="27.3" cy="25" r="17" fill="url(#gR)" opacity="0.22"/>
<circle cx="-20.6" cy="23" r="9.5" fill="url(#gW)" opacity="0.74"/>
<circle cx="-20.6" cy="23" r="8.5" fill="url(#gR)" opacity="0.08"/>
</g>
<circle r="38" fill="none" stroke="#1a1a1a" stroke-width="1.3"/>
</g>
<g transform="translate(1096.2 693.8)">
<path d="M-7.3 -37.2L-1.6 -43.6Q0 -45.4 1.6 -43.6L7.3 -37.2" fill="#fff" stroke="#222" stroke-width="1.1"/>
<g clip-path="url(#hc)"><circle r="38" fill="rgb(255,178,178)"/>
<circle cx="21.5" cy="6.1" r="27.1" fill="url(#gW)" opacity="0.45"/>
<circle cx="26.4" cy="23" r="20.4" fill="url(#gR)" opacity="0.35"/>
<circle cx="-22.4" cy="6.1" r="20.4" fill="url(#gR)" opacity="0.12"/>
<circle cx="-6.5" cy="-27.9" r="17" fill="url(#gW)" opacity="0.18"/>
</g>
<circle r="38" fill="none" stroke="#6a6a6a" stroke-width="0.9"/>
<path d="M-25.4 -18.3h0M-19.9 -16.9h0M-22.8 -8.9h0M-23.8 -0.5h0M-8.5 -0.5h0M6.5 -0.5h0M-29.8 8.7h0M-22.8 7.3h0M-8.5 6.5h0M-1.1 6.5h0M6.5 6.5h0M-25.4 16.4h0M-19.5 15.6h0M-13.5 14.8h0M-7.1 14.8h0M-0.9 14.8h0M5.1 14.8h0M-18.9 23.6h0M-1.1 22h0M8.5 -22.9h0M17.5 -24.3h0M23.4 -18.3h0M11.1 -15.9h0M17.5 -16.7h0M20.5 -8.9h0" stroke="#000" stroke-width="6.4" stroke-linecap="round" fill="none"/>
</g>
<g transform="translate(1179.9 693.8)">
<path d="M-7.3 -37.2L-1.6 -43.6Q0 -45.4 1.6 -43.6L7.3 -37.2" fill="#fff" stroke="#222" stroke-width="1.1"/>
<g clip-path="url(#hc)"><circle r="38" fill="rgb(255,191,191)"/>
<circle cx="-0.4" cy="-36.8" r="30.5" fill="url(#gR)" opacity="0.45"/>
<circle cx="30.5" cy="22" r="20.4" fill="url(#gR)" opacity="0.38"/>
<circle cx="-18.4" cy="-3.9" r="20.4" fill="url(#gW)" opacity="0.45"/>
<circle cx="16.6" cy="-9.9" r="20.4" fill="url(#gW)" opacity="0.45"/>
<circle cx="9.6" cy="13" r="17" fill="url(#gW)" opacity="0.36"/>
<circle cx="-4.4" cy="-1.9" r="13.6" fill="url(#gR)" opacity="0.10"/>
</g>
<circle r="38" fill="none" stroke="#6a6a6a" stroke-width="0.9"/>
<path d="M-25.3 16.8h0M-19.3 15.6h0M-13.4 14.6h0M-7 14.6h0M-18.7 23.6h0" stroke="#000" stroke-width="6.4" stroke-linecap="round" fill="none"/>
</g>
<g transform="translate(1263.6 693.8)">
<path d="M-7.3 -37.2L-1.6 -43.6Q0 -45.4 1.6 -43.6L7.3 -37.2" fill="#fff" stroke="#222" stroke-width="1.1"/>
<g clip-path="url(#hc)"><circle r="38" fill="rgb(255,204,204)"/>
<circle cx="5.7" cy="-13.9" r="23.7" fill="url(#gW)" opacity="0.54"/>
<circle cx="-28.2" cy="0.1" r="20.4" fill="url(#gW)" opacity="0.54"/>
<circle cx="26.6" cy="23" r="20.4" fill="url(#gR)" opacity="0.55"/>
<circle cx="-4.3" cy="14" r="17" fill="url(#gR)" opacity="0.20"/>
<circle cx="-14.3" cy="-23.9" r="17" fill="url(#gR)" opacity="0.10"/>
</g>
<circle r="38" fill="none" stroke="#6a6a6a" stroke-width="0.9"/>
<path d="M-15.3 6.5h0M-8.3 6.5h0M-13.3 14.6h0M-6.9 14.6h0M-18.6 23.6h0M-10.3 21.6h0M21.7 -0.5h0M14.1 7.1h0M21.3 7.7h0M11.7 14.8h0M16.9 23.6h0M22.9 29.4h0" stroke="#000" stroke-width="6.4" stroke-linecap="round" fill="none"/>
</g>
<g transform="translate(1347.3 693.8)">
<path d="M-7.3 -37.2L-1.6 -43.6Q0 -45.4 1.6 -43.6L7.3 -37.2" fill="#fff" stroke="#222" stroke-width="1.1"/>
<g clip-path="url(#hc)"><circle r="38" fill="rgb(255,191,191)"/>
<circle cx="-11.4" cy="-17.9" r="20.4" fill="url(#gW)" opacity="0.45"/>
<circle cx="16.5" cy="16" r="23.7" fill="url(#gW)" opacity="0.54"/>
<circle cx="0.6" cy="26" r="20.4" fill="url(#gW)" opacity="0.45"/>
<circle cx="-3.4" cy="10" r="17" fill="url(#gR)" opacity="0.20"/>
<circle cx="-27.3" cy="12" r="20.4" fill="url(#gR)" opacity="0.20"/>
<circle cx="18.5" cy="-27.9" r="17" fill="url(#gR)" opacity="0.08"/>
</g>
<circle r="38" fill="none" stroke="#6a6a6a" stroke-width="0.9"/>
<path d="M-23.4 -0.7h0M-29.3 8.7h0M-22.4 7.5h0M-15.4 7.1h0M-8 6.5h0M-25.4 16.8h0M-19 15.6h0M-13 14.6h0M-18.4 23.6h0M12 -16.3h0M14 -8.3h0M7 -0.5h0M14.6 -0.5h0M7 6.7h0" stroke="#000" stroke-width="6.4" stroke-linecap="round" fill="none"/>
</g>
<g transform="translate(1431 693.8)">
<path d="M-7.3 -37.2L-1.6 -43.6Q0 -45.4 1.6 -43.6L7.3 -37.2" fill="#fff" stroke="#222" stroke-width="1.1"/>
<g clip-path="url(#hc)"><circle r="38" fill="rgb(255,115,115)"/>
<circle cx="-23.3" cy="28" r="33.9" fill="url(#gR)" opacity="0.55"/>
<circle cx="8.7" cy="-3.9" r="20.4" fill="url(#gW)" opacity="0.14"/>
<circle cx="20.6" cy="26" r="20.4" fill="url(#gR)" opacity="0.30"/>
</g>
<circle r="38" fill="none" stroke="#6a6a6a" stroke-width="0.9"/>
<path d="M-9.9 -29.5h0M8.7 -29.5h0M-19.3 -23.9h0M-9.9 -23.9h0M8.7 -23.9h0M18 -23.9h0M-25.2 -17.5h0M-19.3 -17.5h0M-12.9 -17.5h0M-6.7 -17.5h0M-0.3 -17.5h0M5.7 -17.5h0M12.1 -17.5h0M18.2 -17.5h0M24.2 -17.5h0M-36.2 -12.3h0M35.6 -12.3h0M-29.2 -9.5h0M-22.3 -9.5h0M-14.9 -9.5h0M-7.9 -9.5h0M6.7 -9.5h0M14.1 -9.5h0M21 -9.5h0M28.2 -9.5h0M-30.6 -0.5h0M-23.1 -0.5h0M-15.5 -0.5h0M-7.9 -0.5h0M-0.3 -0.5h0M7.1 -0.5h0M14.7 -0.5h0M22.2 -0.5h0M29.8 -0.5h0M-29.2 7.3h0M-22.3 7.3h0M-14.9 7.3h0M-7.9 7.3h0M-0.3 7.3h0M7.1 7.3h0M14.1 7.3h0M21 7.3h0M28.2 7.3h0M-25.2 15.6h0M-19.3 15.6h0M-12.9 15.6h0M-6.7 15.6h0M-0.3 15.6h0M5.7 15.6h0M12.1 15.6h0M18.2 15.6h0M24.2 15.6h0M-18.3 23h0M-9.9 23h0M-0.3 23h0M8.7 23h0M17.1 23h0M-24.3 28.6h0M-9.9 28.6h0M-0.3 28.6h0M8.7 28.6h0M23 28.6h0" stroke="#000" stroke-width="6.4" stroke-linecap="round" fill="none"/>
</g>
<g transform="translate(1514.7 693.8)">
<path d="M-7.3 -37.2L-1.6 -43.6Q0 -45.4 1.6 -43.6L7.3 -37.2" fill="#fff" stroke="#222" stroke-width="1.1"/>
<g clip-path="url(#hc)"><circle r="38" fill="rgb(255,199,199)"/>
<circle cx="-7.2" cy="-7.9" r="20.4" fill="url(#gR)" opacity="0.20"/>
<circle cx="-13.2" cy="8.1" r="20.4" fill="url(#gR)" opacity="0.28"/>
<circle cx="29.7" cy="18" r="17" fill="url(#gR)" opacity="0.30"/>
<circle cx="2.8" cy="-35.8" r="27.1" fill="url(#gR)" opacity="0.20"/>
<circle cx="14.8" cy="-1.9" r="17" fill="url(#gW)" opacity="0.27"/>
<circle cx="-15.2" cy="30" r="17" fill="url(#gW)" opacity="0.27"/>
</g>
<circle r="38" fill="none" stroke="#1a1a1a" stroke-width="1.3"/>
<path d="M6.2 14.6h0M0.2 22h0M9.4 21.6h0M17.8 23.6h0M0.2 29.4h0M23.7 29.4h0" stroke="#000" stroke-width="6.4" stroke-linecap="round" fill="none"/>
</g>
<g transform="translate(1012.3 1191.5)">
<path d="M-7.3 -37.2L-1.6 -43.6Q0 -45.4 1.6 -43.6L7.3 -37.2" fill="#fff" stroke="#222" stroke-width="1.1"/>
<g clip-path="url(#hc)"><circle r="38" fill="rgb(255,230,230)"/>
<circle cx="-22.3" cy="-8.6" r="19" fill="url(#gW)" opacity="0.74"/>
<circle cx="-22.3" cy="-8.6" r="17" fill="url(#gB)" opacity="0.08"/>
<circle cx="-30.3" cy="12.3" r="20.9" fill="url(#gW)" opacity="0.80"/>
<circle cx="-30.3" cy="12.3" r="18.7" fill="url(#gB)" opacity="0.10"/>
<circle cx="-10.4" cy="24.3" r="13.3" fill="url(#gW)" opacity="0.89"/>
<circle cx="-10.4" cy="24.3" r="11.9" fill="url(#gB)" opacity="0.13"/>
<circle cx="27.5" cy="8.4" r="17.1" fill="url(#gW)" opacity="0.74"/>
<circle cx="27.5" cy="8.4" r="15.3" fill="url(#gB)" opacity="0.08"/>
<circle cx="-8.4" cy="10.4" r="20.4" fill="url(#gR)" opacity="0.20"/>
<circle cx="7.6" cy="-25.6" r="27.1" fill="url(#gR)" opacity="0.20"/>
<circle cx="9.6" cy="-11.6" r="17" fill="url(#gR)" opacity="0.10"/>
</g>
<circle r="38" fill="none" stroke="#1a1a1a" stroke-width="1.3"/>
</g>
<g transform="translate(1095.6 1191.5)">
<path d="M-7.3 -37.2L-1.6 -43.6Q0 -45.4 1.6 -43.6L7.3 -37.2" fill="#fff" stroke="#222" stroke-width="1.1"/>
<g clip-path="url(#hc)"><circle r="38" fill="rgb(255,166,166)"/>
<circle cx="-1.9" cy="-29.6" r="27.1" fill="url(#gR)" opacity="0.30"/>
<circle cx="-17.9" cy="29.3" r="27.1" fill="url(#gR)" opacity="0.50"/>
<circle cx="18.1" cy="27.3" r="20.4" fill="url(#gR)" opacity="0.30"/>
<circle cx="-31.8" cy="-1.6" r="13.6" fill="url(#gW)" opacity="0.36"/>
<circle cx="14.1" cy="14.3" r="20.4" fill="url(#gW)" opacity="0.36"/>
<circle cx="22.1" cy="-19.6" r="13.6" fill="url(#gW)" opacity="0.18"/>
</g>
<circle r="38" fill="none" stroke="#6a6a6a" stroke-width="0.9"/>
<path d="M5.1 -15.2h0M11.5 -15.2h0M6.1 -8h0M13.5 -8h0M20.7 -8.6h0M6.1 -0.2h0M14.1 -0.2h0M13.5 7.8h0M-19.3 15.9h0M-12.9 14.9h0M-18.5 24.3h0M-24.4 29.9h0M-9.9 28.7h0" stroke="#000" stroke-width="6.4" stroke-linecap="round" fill="none"/>
</g>
<g transform="translate(1178.9 1191.5)">
<path d="M-7.3 -37.2L-1.6 -43.6Q0 -45.4 1.6 -43.6L7.3 -37.2" fill="#fff" stroke="#222" stroke-width="1.1"/>
<g clip-path="url(#hc)"><circle r="38" fill="rgb(255,166,166)"/>
<circle cx="7.6" cy="-32.5" r="23.7" fill="url(#gR)" opacity="0.65"/>
<circle cx="-19.3" cy="25.3" r="17" fill="url(#gR)" opacity="0.30"/>
<circle cx="30.5" cy="-3.6" r="17" fill="url(#gW)" opacity="0.36"/>
<circle cx="-29.3" cy="-1.6" r="13.6" fill="url(#gW)" opacity="0.27"/>
<circle cx="-1.4" cy="8.4" r="13.6" fill="url(#gW)" opacity="0.18"/>
</g>
<circle r="38" fill="none" stroke="#6a6a6a" stroke-width="0.9"/>
<path d="M-13.4 -15.2h0M-0.8 -15.2h0M5.6 -15.2h0M11.6 -15.2h0M-15.8 -8h0M-8.4 -7.6h0M6.6 -8h0M13.6 -8h0M-8.4 -0.2h0M-0.8 -0.2h0M6.6 -0.2h0M14.2 -0.2h0M21.6 -0.2h0M6.6 7.8h0M13.6 7.8h0M21 7.8h0M-13.4 15.3h0M-7.4 15.3h0M-0.8 15.3h0M5.6 15.3h0M11.6 15.3h0M18 15.9h0M23.6 17.7h0M17 24.3h0M-0.8 29.9h0M8.6 28.7h0M22.6 29.9h0" stroke="#000" stroke-width="6.4" stroke-linecap="round" fill="none"/>
</g>
<g transform="translate(1262.2 1191.5)">
<path d="M-7.3 -37.2L-1.6 -43.6Q0 -45.4 1.6 -43.6L7.3 -37.2" fill="#fff" stroke="#222" stroke-width="1.1"/>
<g clip-path="url(#hc)"><circle r="38" fill="rgb(255,199,199)"/>
<circle cx="-10.9" cy="-21.6" r="17" fill="url(#gR)" opacity="0.20"/>
<circle cx="-24.8" cy="-7.6" r="17" fill="url(#gW)" opacity="0.36"/>
<circle cx="-12.9" cy="25.3" r="17" fill="url(#gW)" opacity="0.27"/>
<circle cx="24.1" cy="27.3" r="17" fill="url(#gR)" opacity="0.30"/>
<circle cx="11.1" cy="-11.6" r="17" fill="url(#gW)" opacity="0.27"/>
</g>
<circle r="38" fill="none" stroke="#6a6a6a" stroke-width="0.9"/>
<path d="M-8.3 7.4h0M21.1 8h0M28 9h0M-13.3 15.3h0M-6.9 15.3h0M-0.9 15.3h0M5.5 15.3h0M11.7 15.3h0M18.1 15.9h0M23.7 17.7h0M-0.9 22.7h0M17.1 24.3h0M8.5 28.7h0M22.7 29.9h0" stroke="#000" stroke-width="6.4" stroke-linecap="round" fill="none"/>
</g>
<g transform="translate(1345.5 1191.5)">
<path d="M-7.3 -37.2L-1.6 -43.6Q0 -45.4 1.6 -43.6L7.3 -37.2" fill="#fff" stroke="#222" stroke-width="1.1"/>
<g clip-path="url(#hc)"><circle r="38" fill="rgb(255,199,199)"/>
<circle cx="-23.6" cy="-15.6" r="17" fill="url(#gW)" opacity="0.45"/>
<circle cx="10.4" cy="-19.6" r="17" fill="url(#gW)" opacity="0.36"/>
<circle cx="2.4" cy="25.3" r="28.8" fill="url(#gW)" opacity="0.85"/>
<circle cx="-8.6" cy="24.7" r="12.1" fill="url(#gW)" opacity="1.00"/>
<circle cx="-8.6" cy="24.7" r="10.9" fill="url(#gB)" opacity="0.22"/>
<circle cx="8.4" cy="24.7" r="12.1" fill="url(#gW)" opacity="1.00"/>
<circle cx="8.4" cy="24.7" r="10.9" fill="url(#gB)" opacity="0.17"/>
<circle cx="-15.6" cy="8.4" r="13.6" fill="url(#gR)" opacity="0.20"/>
<circle cx="0.4" cy="-5.6" r="20.4" fill="url(#gR)" opacity="0.15"/>
</g>
<circle r="38" fill="none" stroke="#1a1a1a" stroke-width="1.3"/>
</g>
<g transform="translate(1428.8 1191.5)">
<path d="M-7.3 -37.2L-1.6 -43.6Q0 -45.4 1.6 -43.6L7.3 -37.2" fill="#fff" stroke="#222" stroke-width="1.1"/>
<g clip-path="url(#hc)"><circle r="38" fill="rgb(255,184,184)"/>
<circle cx="-27" cy="-17.6" r="17" fill="url(#gW)" opacity="0.45"/>
<circle cx="-9.1" cy="24.3" r="13.6" fill="url(#gW)" opacity="0.54"/>
<circle cx="17.9" cy="14.3" r="17" fill="url(#gW)" opacity="0.27"/>
<circle cx="-1.1" cy="12.3" r="13.6" fill="url(#gR)" opacity="0.30"/>
<circle cx="26.8" cy="-11.6" r="13.6" fill="url(#gR)" opacity="0.10"/>
</g>
<circle r="38" fill="none" stroke="#6a6a6a" stroke-width="0.9"/>
<path d="M8.9 -22.6h0M18.3 -24h0M11.9 -15.2h0M18.3 -16h0M23.8 -18h0M13.9 -8h0M21.2 -8.6h0M14.3 -0.2h0M22.2 -0.2h0M-22.5 -8.6h0M-23 -0.2h0M-15.7 -0.2h0M-22.5 7.8h0M-15.1 7.4h0M-8.1 7.4h0M-13.1 14.9h0M-6.7 14.9h0M-18.5 24.3h0M-24.4 29.9h0" stroke="#000" stroke-width="6.4" stroke-linecap="round" fill="none"/>
</g>
<g transform="translate(1512.1 1191.5)">
<path d="M-7.3 -37.2L-1.6 -43.6Q0 -45.4 1.6 -43.6L7.3 -37.2" fill="#fff" stroke="#222" stroke-width="1.1"/>
<g clip-path="url(#hc)"><circle r="38" fill="rgb(255,128,128)"/>
<circle cx="28.3" cy="28.3" r="27.1" fill="url(#gR)" opacity="0.50"/>
<circle cx="12.4" cy="-33.5" r="20.4" fill="url(#gR)" opacity="0.40"/>
<circle cx="-0.6" cy="-5.6" r="13.6" fill="url(#gW)" opacity="0.18"/>
<circle cx="-28.5" cy="-25.6" r="13.6" fill="url(#gW)" opacity="0.14"/>
</g>
<circle r="38" fill="none" stroke="#6a6a6a" stroke-width="0.9"/>
<path d="M-10 -29.2h0M-19.2 -24h0M-10 -22.6h0M18 -24h0M-25.1 -18h0M-19.2 -16h0M-12.6 -15.2h0M-6.6 -15.2h0M5.8 -15.2h0M12 -15.2h0M18 -16h0M23.9 -18h0M-36.5 -12h0M35.3 -12h0M-29.1 -9.6h0M-22.1 -8.6h0M-14.6 -8h0M-7.6 -8h0M7 -8h0M14.4 -8h0M21.4 -8.6h0M28.3 -9.6h0M-30.5 -0.2h0M-23.1 -0.2h0M-15.6 -0.2h0M-8 -0.2h0M7 -0.2h0M14.4 -0.2h0M21.9 -0.2h0M29.3 -0.2h0M-29.1 8.8h0M-22.1 7.8h0M-14.6 7.4h0M-8 7.4h0M-0.6 7.4h0M7 7.4h0M14.4 7.4h0M21.4 7.8h0M28.3 8.8h0M-25.1 17.7h0M-19.2 15.9h0M-12.6 15.3h0M-6.6 14.9h0M-0.6 14.9h0M5.8 14.9h0M12 15.3h0M18 15.9h0M23.9 17.7h0M-18.6 24.3h0M-0.6 22.7h0M8.8 22.3h0M17.4 24.3h0M-24.1 29.9h0M-10 28.7h0M-0.6 29.9h0M8.8 28.7h0M22.9 29.9h0" stroke="#000" stroke-width="6.4" stroke-linecap="round" fill="none"/>
</g>
<g transform="translate(1595.4 1191.5)">
<path d="M-7.3 -37.2L-1.6 -43.6Q0 -45.4 1.6 -43.6L7.3 -37.2" fill="#fff" stroke="#222" stroke-width="1.1"/>
<g clip-path="url(#hc)"><circle r="38" fill="rgb(255,199,199)"/>
<circle cx="1.9" cy="0.4" r="13.6" fill="url(#gW)" opacity="0.45"/>
<circle cx="-12.1" cy="-21.6" r="13.6" fill="url(#gW)" opacity="0.27"/>
<circle cx="-8.1" cy="22.3" r="10.2" fill="url(#gW)" opacity="0.36"/>
<circle cx="-8.1" cy="-3.6" r="10.2" fill="url(#gR)" opacity="0.15"/>
<circle cx="-20" cy="24.3" r="13.6" fill="url(#gR)" opacity="0.15"/>
<circle cx="15.9" cy="-25.6" r="17" fill="url(#gR)" opacity="0.10"/>
<circle cx="19.9" cy="18.3" r="13.6" fill="url(#gW)" opacity="0.18"/>
</g>
<circle r="38" fill="none" stroke="#1a1a1a" stroke-width="1.3"/>
</g>
<g transform="translate(1012.3 1699.3)">
<path d="M-7.3 -37.2L-1.6 -43.6Q0 -45.4 1.6 -43.6L7.3 -37.2" fill="#fff" stroke="#222" stroke-width="1.1"/>
<g clip-path="url(#hc)"><circle r="38" fill="rgb(242,242,255)"/>
<circle cx="-22.3" cy="-18.4" r="27.1" fill="url(#gB)" opacity="0.22"/>
<circle cx="-24.3" cy="-0.4" r="20.4" fill="url(#gB)" opacity="0.14"/>
<circle cx="3.6" cy="22.5" r="20.4" fill="url(#gB)" opacity="0.26"/>
<circle cx="25.5" cy="-6.4" r="17" fill="url(#gB)" opacity="0.12"/>
<circle cx="-2.4" cy="-0.4" r="17" fill="url(#gW)" opacity="0.54"/>
<circle cx="11.6" cy="-10.4" r="11.9" fill="url(#gW)" opacity="0.72"/>
<circle cx="11.6" cy="-10.4" r="13.3" fill="url(#gW)" opacity="0.95"/>
<circle cx="11.6" cy="-10.4" r="11.9" fill="url(#gR)" opacity="0.15"/>
<circle cx="-20.4" cy="24.5" r="12.9" fill="url(#gW)" opacity="0.81"/>
<circle cx="-20.4" cy="24.5" r="13.3" fill="url(#gW)" opacity="1.00"/>
<circle cx="-20.4" cy="24.5" r="11.9" fill="url(#gR)" opacity="0.22"/>
<circle cx="17.6" cy="-28.3" r="15.3" fill="url(#gW)" opacity="0.72"/>
<circle cx="17.6" cy="-28.3" r="15.2" fill="url(#gW)" opacity="0.80"/>
<circle cx="17.6" cy="-28.3" r="13.6" fill="url(#gR)" opacity="0.10"/>
<circle cx="28.5" cy="13.6" r="13.6" fill="url(#gW)" opacity="0.72"/>
<circle cx="28.5" cy="13.6" r="15.2" fill="url(#gW)" opacity="0.74"/>
<circle cx="28.5" cy="13.6" r="13.6" fill="url(#gR)" opacity="0.08"/>
</g>
<circle r="38" fill="none" stroke="#1a1a1a" stroke-width="1.3"/>
</g>
<g transform="translate(1096.2 1699.3)">
<path d="M-7.3 -37.2L-1.6 -43.6Q0 -45.4 1.6 -43.6L7.3 -37.2" fill="#fff" stroke="#222" stroke-width="1.1"/>
<g clip-path="url(#hc)"><circle r="38" fill="rgb(255,178,178)"/>
<circle cx="-4.5" cy="-18.4" r="13.6" fill="url(#gW)" opacity="0.54"/>
<circle cx="-26.5" cy="5.6" r="13.6" fill="url(#gW)" opacity="0.45"/>
<circle cx="20.4" cy="1.6" r="13.6" fill="url(#gW)" opacity="0.54"/>
<circle cx="-4.5" cy="21.5" r="13.6" fill="url(#gW)" opacity="0.54"/>
<circle cx="13.4" cy="-16.4" r="10.2" fill="url(#gW)" opacity="0.27"/>
<circle cx="13.4" cy="-32.3" r="17" fill="url(#gR)" opacity="0.30"/>
<circle cx="-14.5" cy="32.5" r="20.4" fill="url(#gR)" opacity="0.35"/>
<circle cx="18.4" cy="30.5" r="17" fill="url(#gR)" opacity="0.30"/>
</g>
<circle r="38" fill="none" stroke="#1a1a1a" stroke-width="1.3"/>
</g>
<g transform="translate(1180.2 1699.3)">
<path d="M-7.3 -37.2L-1.6 -43.6Q0 -45.4 1.6 -43.6L7.3 -37.2" fill="#fff" stroke="#222" stroke-width="1.1"/>
<g clip-path="url(#hc)"><circle r="38" fill="rgb(255,153,153)"/>
<circle cx="-22.6" cy="7.6" r="21" fill="url(#gW)" opacity="0.87"/>
<circle cx="-0.7" cy="-16.4" r="13.6" fill="url(#gW)" opacity="0.36"/>
<circle cx="19.3" cy="-12.4" r="13.6" fill="url(#gW)" opacity="0.36"/>
<circle cx="9.3" cy="13.6" r="10.2" fill="url(#gW)" opacity="0.27"/>
<circle cx="-24.6" cy="-18.4" r="20.4" fill="url(#gR)" opacity="0.50"/>
<circle cx="20.3" cy="28.5" r="25.4" fill="url(#gR)" opacity="1.00"/>
</g>
<circle r="38" fill="none" stroke="#1a1a1a" stroke-width="1.3"/>
</g>
<g transform="translate(1264.2 1699.3)">
<path d="M-7.3 -37.2L-1.6 -43.6Q0 -45.4 1.6 -43.6L7.3 -37.2" fill="#fff" stroke="#222" stroke-width="1.1"/>
<g clip-path="url(#hc)"><circle r="38" fill="rgb(255,217,217)"/>
<circle cx="-4.8" cy="-24.4" r="22" fill="url(#gW)" opacity="0.81"/>
<circle cx="-4.8" cy="-24.4" r="20.9" fill="url(#gW)" opacity="0.95"/>
<circle cx="-4.8" cy="-24.4" r="18.7" fill="url(#gB)" opacity="0.15"/>
<circle cx="-28.8" cy="7.6" r="27.1" fill="url(#gW)" opacity="0.81"/>
<circle cx="-29.8" cy="8" r="26.5" fill="url(#gW)" opacity="1.00"/>
<circle cx="-29.8" cy="8" r="23.7" fill="url(#gB)" opacity="0.42"/>
<circle cx="17.1" cy="1.6" r="18.7" fill="url(#gW)" opacity="0.81"/>
<circle cx="17.1" cy="1.6" r="17.1" fill="url(#gW)" opacity="0.80"/>
<circle cx="17.1" cy="1.6" r="15.3" fill="url(#gB)" opacity="0.10"/>
<circle cx="-6.8" cy="-0.4" r="17" fill="url(#gR)" opacity="0.20"/>
<circle cx="20.1" cy="-20.4" r="17" fill="url(#gR)" opacity="0.25"/>
<circle cx="-4.8" cy="28.5" r="27.1" fill="url(#gR)" opacity="0.20"/>
<circle cx="26.1" cy="20.5" r="13.6" fill="url(#gR)" opacity="0.15"/>
</g>
<circle r="38" fill="none" stroke="#1a1a1a" stroke-width="1.3"/>
</g>
<g transform="translate(1348.1 1699.3)">
<path d="M-7.3 -37.2L-1.6 -43.6Q0 -45.4 1.6 -43.6L7.3 -37.2" fill="#fff" stroke="#222" stroke-width="1.1"/>
<g clip-path="url(#hc)"><circle r="38" fill="rgb(224,224,255)"/>
<circle cx="-5.2" cy="-18.4" r="20.4" fill="url(#gB)" opacity="0.30"/>
<circle cx="15.7" cy="9.6" r="23.7" fill="url(#gB)" opacity="0.22"/>
<circle cx="7.8" cy="22.5" r="13.6" fill="url(#gB)" opacity="0.15"/>
<circle cx="-30.1" cy="5.6" r="13.6" fill="url(#gB)" opacity="0.10"/>
<circle cx="13.8" cy="-9.4" r="10.2" fill="url(#gW)" opacity="0.72"/>
<circle cx="-8.2" cy="7.6" r="17" fill="url(#gW)" opacity="0.72"/>
<circle cx="-30.5" cy="-14.4" r="15.3" fill="url(#gW)" opacity="0.90"/>
<circle cx="-31.1" cy="-14.4" r="15.2" fill="url(#gW)" opacity="1.00"/>
<circle cx="-31.1" cy="-14.4" r="13.6" fill="url(#gR)" opacity="0.20"/>
<circle cx="-12.2" cy="11.6" r="9.5" fill="url(#gW)" opacity="0.80"/>
<circle cx="-12.2" cy="11.6" r="8.5" fill="url(#gR)" opacity="0.10"/>
<circle cx="-18.2" cy="23.9" r="14.2" fill="url(#gW)" opacity="0.81"/>
<circle cx="-18.6" cy="24.5" r="13.3" fill="url(#gW)" opacity="1.00"/>
<circle cx="-18.6" cy="24.5" r="11.9" fill="url(#gR)" opacity="0.20"/>
<circle cx="19.7" cy="27.5" r="9.5" fill="url(#gW)" opacity="0.74"/>
<circle cx="19.7" cy="27.5" r="8.5" fill="url(#gR)" opacity="0.08"/>
</g>
<circle r="38" fill="none" stroke="#1a1a1a" stroke-width="1.3"/>
</g>
<g transform="translate(1432 1699.3)">
<path d="M-7.3 -37.2L-1.6 -43.6Q0 -45.4 1.6 -43.6L7.3 -37.2" fill="#fff" stroke="#222" stroke-width="1.1"/>
<g clip-path="url(#hc)"><circle r="38" fill="rgb(191,191,255)"/>
<circle cx="-34.3" cy="5.6" r="20.4" fill="url(#gB)" opacity="0.45"/>
<circle cx="-4.4" cy="-16.4" r="17" fill="url(#gB)" opacity="0.30"/>
<circle cx="23.6" cy="17.5" r="20.4" fill="url(#gB)" opacity="0.30"/>
<circle cx="-14.3" cy="6.6" r="10.2" fill="url(#gW)" opacity="0.81"/>
<circle cx="-18.3" cy="23.5" r="11.9" fill="url(#gW)" opacity="0.72"/>
<circle cx="11.6" cy="-0.4" r="13.6" fill="url(#gW)" opacity="0.36"/>
<circle cx="-20.3" cy="-26.3" r="13.6" fill="url(#gW)" opacity="0.27"/>
<circle cx="-13.9" cy="6.6" r="5.7" fill="url(#gW)" opacity="0.80"/>
<circle cx="-13.9" cy="6.6" r="5.1" fill="url(#gR)" opacity="0.10"/>
</g>
<circle r="38" fill="none" stroke="#6a6a6a" stroke-width="0.9"/>
<path d="M-1 15h0M5.6 15h0M12 15h0M18.2 15.6h0M8.6 22.1h0M8.6 28.5h0" stroke="#000" stroke-width="6.4" stroke-linecap="round" fill="none"/>
</g>
<g transform="translate(1516 1699.3)">
<path d="M-7.3 -37.2L-1.6 -43.6Q0 -45.4 1.6 -43.6L7.3 -37.2" fill="#fff" stroke="#222" stroke-width="1.1"/>
<g clip-path="url(#hc)"><circle r="38" fill="rgb(235,235,255)"/>
<circle cx="1.5" cy="-24.4" r="23.7" fill="url(#gB)" opacity="0.36"/>
<circle cx="29.4" cy="5.6" r="20.4" fill="url(#gB)" opacity="0.18"/>
<circle cx="-6.5" cy="23.5" r="15.3" fill="url(#gB)" opacity="0.20"/>
<circle cx="-32.4" cy="1.6" r="13.6" fill="url(#gB)" opacity="0.12"/>
<circle cx="-22.5" cy="-14.4" r="13.6" fill="url(#gW)" opacity="0.72"/>
<circle cx="-22.5" cy="-14.4" r="13.3" fill="url(#gW)" opacity="0.86"/>
<circle cx="-22.5" cy="-14.4" r="11.9" fill="url(#gR)" opacity="0.12"/>
<circle cx="-16.5" cy="7.6" r="9.5" fill="url(#gW)" opacity="0.80"/>
<circle cx="-16.5" cy="7.6" r="8.5" fill="url(#gR)" opacity="0.10"/>
<circle cx="5.5" cy="7.6" r="9.5" fill="url(#gW)" opacity="0.86"/>
<circle cx="5.5" cy="7.6" r="8.5" fill="url(#gR)" opacity="0.12"/>
<circle cx="-26.4" cy="23.5" r="14.2" fill="url(#gW)" opacity="0.77"/>
<circle cx="-26.4" cy="22.5" r="15.2" fill="url(#gW)" opacity="1.00"/>
<circle cx="-26.4" cy="22.5" r="13.6" fill="url(#gR)" opacity="0.20"/>
<circle cx="19.4" cy="27.9" r="14.2" fill="url(#gW)" opacity="0.77"/>
<circle cx="19.4" cy="28.5" r="13.3" fill="url(#gW)" opacity="0.95"/>
<circle cx="19.4" cy="28.5" r="11.9" fill="url(#gR)" opacity="0.15"/>
</g>
<circle r="38" fill="none" stroke="#6a6a6a" stroke-width="0.9"/>
<path d="M8.9 -22.8h0M-0.9 -15.4h0M5.5 -15.4h0M12.1 -15.4h0M6.9 -8h0" stroke="#000" stroke-width="6.4" stroke-linecap="round" fill="none"/>
</g>
<g transform="translate(1599.9 1699.3)">
<path d="M-7.3 -37.2L-1.6 -43.6Q0 -45.4 1.6 -43.6L7.3 -37.2" fill="#fff" stroke="#222" stroke-width="1.1"/>
<g clip-path="url(#hc)"><circle r="38" fill="rgb(255,178,178)"/>
<circle cx="-30.6" cy="2.6" r="17.6" fill="url(#gW)" opacity="0.90"/>
<circle cx="-32.2" cy="2.6" r="11.4" fill="url(#gW)" opacity="0.95"/>
<circle cx="-32.2" cy="2.6" r="10.2" fill="url(#gB)" opacity="0.15"/>
<circle cx="1.3" cy="-0.4" r="10.2" fill="url(#gW)" opacity="0.36"/>
<circle cx="19.3" cy="-16.4" r="13.6" fill="url(#gW)" opacity="0.27"/>
<circle cx="-20.6" cy="-20.4" r="17" fill="url(#gW)" opacity="0.45"/>
<circle cx="24.3" cy="28.5" r="20.4" fill="url(#gR)" opacity="0.40"/>
<circle cx="-12.6" cy="-6.4" r="13.6" fill="url(#gR)" opacity="0.20"/>
<circle cx="-0.7" cy="30.5" r="17" fill="url(#gR)" opacity="0.20"/>
</g>
<circle r="38" fill="none" stroke="#1a1a1a" stroke-width="1.3"/>
</g>
<g transform="translate(1683.9 1699.3)">
<path d="M-7.3 -37.2L-1.6 -43.6Q0 -45.4 1.6 -43.6L7.3 -37.2" fill="#fff" stroke="#222" stroke-width="1.1"/>
<g clip-path="url(#hc)"><circle r="38" fill="rgb(255,217,217)"/>
<circle cx="-4.5" cy="-22.4" r="18.7" fill="url(#gW)" opacity="0.81"/>
<circle cx="-4.5" cy="-22.4" r="19" fill="url(#gW)" opacity="1.00"/>
<circle cx="-4.5" cy="-22.4" r="17" fill="url(#gB)" opacity="0.20"/>
<circle cx="-34.4" cy="1.6" r="15.3" fill="url(#gW)" opacity="0.81"/>
<circle cx="-35.4" cy="1.6" r="15.2" fill="url(#gW)" opacity="1.00"/>
<circle cx="-35.4" cy="1.6" r="13.6" fill="url(#gB)" opacity="0.27"/>
<circle cx="-28.4" cy="-20.4" r="15.2" fill="url(#gW)" opacity="0.80"/>
<circle cx="-28.4" cy="-20.4" r="13.6" fill="url(#gB)" opacity="0.10"/>
<circle cx="-10.5" cy="1.6" r="20.4" fill="url(#gR)" opacity="0.37"/>
<circle cx="25.4" cy="-24.4" r="17" fill="url(#gR)" opacity="0.25"/>
<circle cx="15.5" cy="15.6" r="11.9" fill="url(#gW)" opacity="0.72"/>
<circle cx="-8.5" cy="23.5" r="10.2" fill="url(#gW)" opacity="0.36"/>
</g>
<circle r="38" fill="none" stroke="#1a1a1a" stroke-width="1.3"/>
</g>
</g>
</g>
</svg>
</body></html>
